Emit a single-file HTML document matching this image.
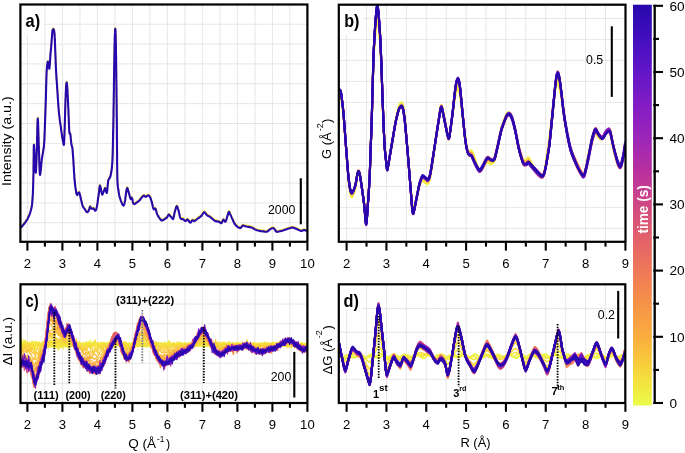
<!DOCTYPE html>
<html><head><meta charset="utf-8"><title>figure</title>
<style>
html,body{margin:0;padding:0;background:#fff;}
body{width:685px;height:453px;overflow:hidden;}
svg{display:block;}
text{font-family:"Liberation Sans", sans-serif;}
</style></head><body>
<svg width="685" height="453" viewBox="0 0 685 453">
<rect width="685" height="453" fill="#fff"/>
<filter id="noaa" filterUnits="userSpaceOnUse" x="0" y="0" width="685" height="453" color-interpolation-filters="sRGB"><feOffset dx="0" dy="0"/></filter>
<g filter="url(#noaa)">
<defs>
<clipPath id="ca"><rect x="20.40" y="4.50" width="287.00" height="237.30"/></clipPath>
<clipPath id="cb"><rect x="338.80" y="4.70" width="286.70" height="237.10"/></clipPath>
<clipPath id="cc"><rect x="20.50" y="284.30" width="286.90" height="118.70"/></clipPath>
<clipPath id="cd"><rect x="338.80" y="284.30" width="286.50" height="118.70"/></clipPath>
<linearGradient id="cbar" x1="0" y1="0" x2="0" y2="1"><stop offset="0.0000" stop-color="#2608ac"/><stop offset="0.0833" stop-color="#420ebe"/><stop offset="0.1667" stop-color="#6216c8"/><stop offset="0.2500" stop-color="#821cc4"/><stop offset="0.3333" stop-color="#9c26b8"/><stop offset="0.4167" stop-color="#b9309e"/><stop offset="0.5000" stop-color="#d04882"/><stop offset="0.5833" stop-color="#e3616a"/><stop offset="0.6667" stop-color="#ef7958"/><stop offset="0.7500" stop-color="#f69448"/><stop offset="0.8333" stop-color="#faaf3e"/><stop offset="0.9167" stop-color="#f7d73c"/><stop offset="1.0000" stop-color="#ecfc48"/></linearGradient>
</defs>
<line x1="27.40" y1="4.50" x2="27.40" y2="241.80" stroke="#dddddd" stroke-width="0.75"/>
<line x1="44.90" y1="4.50" x2="44.90" y2="241.80" stroke="#dddddd" stroke-width="0.75"/>
<line x1="62.40" y1="4.50" x2="62.40" y2="241.80" stroke="#dddddd" stroke-width="0.75"/>
<line x1="79.90" y1="4.50" x2="79.90" y2="241.80" stroke="#dddddd" stroke-width="0.75"/>
<line x1="97.40" y1="4.50" x2="97.40" y2="241.80" stroke="#dddddd" stroke-width="0.75"/>
<line x1="114.90" y1="4.50" x2="114.90" y2="241.80" stroke="#dddddd" stroke-width="0.75"/>
<line x1="132.40" y1="4.50" x2="132.40" y2="241.80" stroke="#dddddd" stroke-width="0.75"/>
<line x1="149.90" y1="4.50" x2="149.90" y2="241.80" stroke="#dddddd" stroke-width="0.75"/>
<line x1="167.40" y1="4.50" x2="167.40" y2="241.80" stroke="#dddddd" stroke-width="0.75"/>
<line x1="184.90" y1="4.50" x2="184.90" y2="241.80" stroke="#dddddd" stroke-width="0.75"/>
<line x1="202.40" y1="4.50" x2="202.40" y2="241.80" stroke="#dddddd" stroke-width="0.75"/>
<line x1="219.90" y1="4.50" x2="219.90" y2="241.80" stroke="#dddddd" stroke-width="0.75"/>
<line x1="237.40" y1="4.50" x2="237.40" y2="241.80" stroke="#dddddd" stroke-width="0.75"/>
<line x1="254.90" y1="4.50" x2="254.90" y2="241.80" stroke="#dddddd" stroke-width="0.75"/>
<line x1="272.40" y1="4.50" x2="272.40" y2="241.80" stroke="#dddddd" stroke-width="0.75"/>
<line x1="289.90" y1="4.50" x2="289.90" y2="241.80" stroke="#dddddd" stroke-width="0.75"/>
<line x1="20.40" y1="24.25" x2="307.40" y2="24.25" stroke="#dddddd" stroke-width="0.75"/>
<line x1="20.40" y1="44.10" x2="307.40" y2="44.10" stroke="#dddddd" stroke-width="0.75"/>
<line x1="20.40" y1="63.95" x2="307.40" y2="63.95" stroke="#dddddd" stroke-width="0.75"/>
<line x1="20.40" y1="83.80" x2="307.40" y2="83.80" stroke="#dddddd" stroke-width="0.75"/>
<line x1="20.40" y1="103.65" x2="307.40" y2="103.65" stroke="#dddddd" stroke-width="0.75"/>
<line x1="20.40" y1="123.50" x2="307.40" y2="123.50" stroke="#dddddd" stroke-width="0.75"/>
<line x1="20.40" y1="143.35" x2="307.40" y2="143.35" stroke="#dddddd" stroke-width="0.75"/>
<line x1="20.40" y1="163.20" x2="307.40" y2="163.20" stroke="#dddddd" stroke-width="0.75"/>
<line x1="20.40" y1="183.05" x2="307.40" y2="183.05" stroke="#dddddd" stroke-width="0.75"/>
<line x1="20.40" y1="202.90" x2="307.40" y2="202.90" stroke="#dddddd" stroke-width="0.75"/>
<line x1="20.40" y1="222.75" x2="307.40" y2="222.75" stroke="#dddddd" stroke-width="0.75"/>
<rect x="21.5" y="5.6" width="21.700000000000003" height="29.199999999999996" fill="#fff"/>
<line x1="346.60" y1="4.70" x2="346.60" y2="241.80" stroke="#dddddd" stroke-width="0.75"/>
<line x1="366.52" y1="4.70" x2="366.52" y2="241.80" stroke="#dddddd" stroke-width="0.75"/>
<line x1="386.43" y1="4.70" x2="386.43" y2="241.80" stroke="#dddddd" stroke-width="0.75"/>
<line x1="406.35" y1="4.70" x2="406.35" y2="241.80" stroke="#dddddd" stroke-width="0.75"/>
<line x1="426.26" y1="4.70" x2="426.26" y2="241.80" stroke="#dddddd" stroke-width="0.75"/>
<line x1="446.18" y1="4.70" x2="446.18" y2="241.80" stroke="#dddddd" stroke-width="0.75"/>
<line x1="466.09" y1="4.70" x2="466.09" y2="241.80" stroke="#dddddd" stroke-width="0.75"/>
<line x1="486.00" y1="4.70" x2="486.00" y2="241.80" stroke="#dddddd" stroke-width="0.75"/>
<line x1="505.92" y1="4.70" x2="505.92" y2="241.80" stroke="#dddddd" stroke-width="0.75"/>
<line x1="525.84" y1="4.70" x2="525.84" y2="241.80" stroke="#dddddd" stroke-width="0.75"/>
<line x1="545.75" y1="4.70" x2="545.75" y2="241.80" stroke="#dddddd" stroke-width="0.75"/>
<line x1="565.66" y1="4.70" x2="565.66" y2="241.80" stroke="#dddddd" stroke-width="0.75"/>
<line x1="585.58" y1="4.70" x2="585.58" y2="241.80" stroke="#dddddd" stroke-width="0.75"/>
<line x1="605.50" y1="4.70" x2="605.50" y2="241.80" stroke="#dddddd" stroke-width="0.75"/>
<line x1="338.80" y1="18.40" x2="625.50" y2="18.40" stroke="#dddddd" stroke-width="0.75"/>
<line x1="338.80" y1="39.40" x2="625.50" y2="39.40" stroke="#dddddd" stroke-width="0.75"/>
<line x1="338.80" y1="60.40" x2="625.50" y2="60.40" stroke="#dddddd" stroke-width="0.75"/>
<line x1="338.80" y1="81.40" x2="625.50" y2="81.40" stroke="#dddddd" stroke-width="0.75"/>
<line x1="338.80" y1="102.40" x2="625.50" y2="102.40" stroke="#dddddd" stroke-width="0.75"/>
<line x1="338.80" y1="123.40" x2="625.50" y2="123.40" stroke="#dddddd" stroke-width="0.75"/>
<line x1="338.80" y1="144.40" x2="625.50" y2="144.40" stroke="#dddddd" stroke-width="0.75"/>
<line x1="338.80" y1="165.40" x2="625.50" y2="165.40" stroke="#dddddd" stroke-width="0.75"/>
<line x1="338.80" y1="186.40" x2="625.50" y2="186.40" stroke="#dddddd" stroke-width="0.75"/>
<line x1="338.80" y1="207.40" x2="625.50" y2="207.40" stroke="#dddddd" stroke-width="0.75"/>
<line x1="338.80" y1="228.40" x2="625.50" y2="228.40" stroke="#dddddd" stroke-width="0.75"/>
<rect x="340" y="5.8" width="22.80000000000001" height="28.999999999999996" fill="#fff"/>
<line x1="27.40" y1="284.30" x2="27.40" y2="403.00" stroke="#dddddd" stroke-width="0.75"/>
<line x1="44.90" y1="284.30" x2="44.90" y2="403.00" stroke="#dddddd" stroke-width="0.75"/>
<line x1="62.40" y1="284.30" x2="62.40" y2="403.00" stroke="#dddddd" stroke-width="0.75"/>
<line x1="79.90" y1="284.30" x2="79.90" y2="403.00" stroke="#dddddd" stroke-width="0.75"/>
<line x1="97.40" y1="284.30" x2="97.40" y2="403.00" stroke="#dddddd" stroke-width="0.75"/>
<line x1="114.90" y1="284.30" x2="114.90" y2="403.00" stroke="#dddddd" stroke-width="0.75"/>
<line x1="132.40" y1="284.30" x2="132.40" y2="403.00" stroke="#dddddd" stroke-width="0.75"/>
<line x1="149.90" y1="284.30" x2="149.90" y2="403.00" stroke="#dddddd" stroke-width="0.75"/>
<line x1="167.40" y1="284.30" x2="167.40" y2="403.00" stroke="#dddddd" stroke-width="0.75"/>
<line x1="184.90" y1="284.30" x2="184.90" y2="403.00" stroke="#dddddd" stroke-width="0.75"/>
<line x1="202.40" y1="284.30" x2="202.40" y2="403.00" stroke="#dddddd" stroke-width="0.75"/>
<line x1="219.90" y1="284.30" x2="219.90" y2="403.00" stroke="#dddddd" stroke-width="0.75"/>
<line x1="237.40" y1="284.30" x2="237.40" y2="403.00" stroke="#dddddd" stroke-width="0.75"/>
<line x1="254.90" y1="284.30" x2="254.90" y2="403.00" stroke="#dddddd" stroke-width="0.75"/>
<line x1="272.40" y1="284.30" x2="272.40" y2="403.00" stroke="#dddddd" stroke-width="0.75"/>
<line x1="289.90" y1="284.30" x2="289.90" y2="403.00" stroke="#dddddd" stroke-width="0.75"/>
<line x1="20.50" y1="304.00" x2="307.40" y2="304.00" stroke="#dddddd" stroke-width="0.75"/>
<line x1="20.50" y1="323.80" x2="307.40" y2="323.80" stroke="#dddddd" stroke-width="0.75"/>
<line x1="20.50" y1="343.60" x2="307.40" y2="343.60" stroke="#dddddd" stroke-width="0.75"/>
<line x1="20.50" y1="363.40" x2="307.40" y2="363.40" stroke="#dddddd" stroke-width="0.75"/>
<line x1="20.50" y1="383.20" x2="307.40" y2="383.20" stroke="#dddddd" stroke-width="0.75"/>
<rect x="21.6" y="285.4" width="19.4" height="30.200000000000045" fill="#fff"/>
<line x1="346.60" y1="284.30" x2="346.60" y2="403.00" stroke="#dddddd" stroke-width="0.75"/>
<line x1="366.52" y1="284.30" x2="366.52" y2="403.00" stroke="#dddddd" stroke-width="0.75"/>
<line x1="386.43" y1="284.30" x2="386.43" y2="403.00" stroke="#dddddd" stroke-width="0.75"/>
<line x1="406.35" y1="284.30" x2="406.35" y2="403.00" stroke="#dddddd" stroke-width="0.75"/>
<line x1="426.26" y1="284.30" x2="426.26" y2="403.00" stroke="#dddddd" stroke-width="0.75"/>
<line x1="446.18" y1="284.30" x2="446.18" y2="403.00" stroke="#dddddd" stroke-width="0.75"/>
<line x1="466.09" y1="284.30" x2="466.09" y2="403.00" stroke="#dddddd" stroke-width="0.75"/>
<line x1="486.00" y1="284.30" x2="486.00" y2="403.00" stroke="#dddddd" stroke-width="0.75"/>
<line x1="505.92" y1="284.30" x2="505.92" y2="403.00" stroke="#dddddd" stroke-width="0.75"/>
<line x1="525.84" y1="284.30" x2="525.84" y2="403.00" stroke="#dddddd" stroke-width="0.75"/>
<line x1="545.75" y1="284.30" x2="545.75" y2="403.00" stroke="#dddddd" stroke-width="0.75"/>
<line x1="565.66" y1="284.30" x2="565.66" y2="403.00" stroke="#dddddd" stroke-width="0.75"/>
<line x1="585.58" y1="284.30" x2="585.58" y2="403.00" stroke="#dddddd" stroke-width="0.75"/>
<line x1="605.50" y1="284.30" x2="605.50" y2="403.00" stroke="#dddddd" stroke-width="0.75"/>
<line x1="338.80" y1="308.60" x2="625.30" y2="308.60" stroke="#dddddd" stroke-width="0.75"/>
<line x1="338.80" y1="332.20" x2="625.30" y2="332.20" stroke="#dddddd" stroke-width="0.75"/>
<line x1="338.80" y1="355.80" x2="625.30" y2="355.80" stroke="#dddddd" stroke-width="0.75"/>
<line x1="338.80" y1="379.40" x2="625.30" y2="379.40" stroke="#dddddd" stroke-width="0.75"/>
<rect x="340" y="285.4" width="21.80000000000001" height="24.80000000000001" fill="#fff"/>
<g clip-path="url(#ca)" fill="none" stroke-linejoin="round" stroke-linecap="round">
<path d="M21.5,226l.8-1 .8-1 .9-1.1 .8-1 .7-1 .8-1.1 .7-1 .7-1.2 .5-1.2 .5-1.1 .6-1.3 .5-1.2 .4-1.3 .3-1.1 .4-1.3 .3-1.3 .3-1.2 .3-1.4 .2-1.4 .1-1 .2-1.7 0-1 .2-1.5 0-1 .2-1.7 0-1.1 .1-1.2 .1-1.6 0-1 .1-2.2 .1-1.3 0-1.3 0-1.4 .1-1.5 0-1.5 .1-1.5 0-1.5 0-1.6 .1-1.5 0-1.7 .1-2.2 0-2.7 0-3.1 .1-3.4 0-3.5 .1-3.4 0-3.3 0-3 .1-2.4 0-1.9 .1-1.1 0-.2 .1,1.2 .1,1.1 .1,1.3 .1,1.5 0,1.5 .1,.8 .1,1.6 0,1.6 .1,.8 .1,1.5 0,1.3 .1,1.2 .1,1.2 .1,1.2 .1,1.3 0,1.4 .1,1.3 .1,1.2 .1,1.2 .1,1.5 .1,1.2 .2,.9 .1-.3 .1-1.3 .1-1.5 .1-1.7 0-1 .1-1 0-2.3 .1-1.1 0-1.2 .1-1.3 0-1.2 0-1.2 .1-1.3 0-1.2 .1-1.2 0-1.2 0-1.1 .1-2.1 .1-1.2 0-1.3 0-1.4 .1-1.5 0-1.6 .1-1.7 0-1.7 0-1.7 .1-1.7 0-1.8 .1-1.7 0-1.7 0-1.6 .1-1.6 0-1.5 .1-1.4 0-1.3 .1-2.2 0-.8 .1-1.2 .1-.4 .1,1 .1,1.3 .1,1.7 0,1 0,1.2 .1,1.1 0,1.3 .1,1.3 0,1.3 0,1.4 .1,1.5 0,1.4 .1,1.5 0,1.5 0,1.4 .1,1.5 0,1.4 .1,1.4 0,1.4 0,1.3 .1,1.3 0,1.2 .1,2.1 0,1 .1,1.1 0,1.1 .1,1.1 0,1.2 .1,2.4 0,1.2 .1,1.3 0,1.2 0,1.2 .1,1.2 0,1.1 .1,1.2 0,1.1 .1,2 0,.9 .1,.9 0,1.5 .1,1.2 .2,1 0,0 .4-1.5 .1-1.2 .2-1.4 .1-1.1 .1-1.3 .2-1.3 .1-1.3 .1-1.3 .1-1.3 .1-1.2 .2-1.6 .1-1 .2-1.4 .2-1.3 .2-1.2 .3-1.3 .2-1.3 .2-1.3 .2-1.3 .2-1.3 .2-1.2 .2-1.3 .1-1.5 .1-1.3 .1-1.1 .1-1.4 .1-1.6 0-.9 .1-1.9 0-1 .1-1.1 .1-2.1 0-1.1 0-1.1 .1-1.1 0-1.1 .1-1.1 0-2.2 .1-1.1 0-1.1 .1-1.1 0-1.1 .1-2.3 0-1.1 .1-1.1 0-1.2 0-1.1 .1-1.2 0-1.2 .1-1.1 0-2.4 .1-1.2 0-1.2 .1-1.2 0-1.2 0-1.2 .1-1.2 0-1.2 .1-1.3 0-1.4 0-1.4 .1-1.5 0-1.6 .1-1.6 0-1.5 0-1.6 .1-1.6 0-1.6 .1-1.5 0-1.5 0-1.4 .1-1.4 0-1.2 .1-1.2 0-1.1 .1-1.9 0-.8 .1-1.5 .1-1.3 .1-1.1 .1-1.3 .1-1.1 .2-1.5 .2-1.2 .2-1.3 .2-.4 .2,.6 .3,1.2 .3,1.5 .1,1.2 .2,1.3 .2,1.1 .1,.2 .2-1.1 .2-1.6 .1-1.4 .1-1.1 .1-1.6 .1-1.1 0-1.1 .1-1.2 .1-1.7 .1-1.1 .1-1.5 .1-1 .1-1.4 .2-1.5 0-.9 .2-1.4 .1-1.5 .1-1.4 .1-.9 .1-1.5 .1-1.4 .1-1.1 .1-1.7 .1-1.1 .1-1.2 .1-1.1 .1-1.6 .1-1 .1-1.3 .2-1.2 .7-1 .7,1.1 .2,1.3 .2,1.3 .1,1.4 .1,1.2 .1,1.3 0,1.4 .1,1.7 .1,.9 0,1.9 .1,1 0,1 .1,1.1 0,2.2 .1,1.1 0,1.1 .1,1.1 0,1.1 .1,2 0,1 .1,1 0,2 .1,1 0,1 .1,2 0,.9 .1,1 0,1 .1,1.9 0,.9 .1,1.8 .1,.9 0,1.6 .1,.7 .1,1.5 0,1.2 .1,1.2 .1,1.8 .1,1.1 .1,1.2 .1,1.1 .1,1.8 .1,1.2 .1,1.2 0,1.2 .1,1.2 .1,1.3 .1,1.2 .1,1.8 .1,1.3 .1,1.2 0,1.2 .1,1.2 .1,1.2 .1,1.2 .1,1.2 .1,1.8 .1,1.2 0,1.1 .2,1.6 0,1 .2,1.5 0,.9 .2,1.3 .1,1.6 .1,1.1 .2,1.3 .2,1.3 .1,1.3 .2,1.2 .1,1.3 .2,1.4 .2,1.2 .2,1.4 .2,1.2 .2,1.4 .1,1.1 .2,1.4 .2,1.4 .2,1.1 .2,1.4 .2,1.3 .1,1.1 .2,1.3 .2,1.3 .3,1.4 .2,1.1 .3,1.4 .2,1.2 .3,.9 .1-.4 .2-1.4 0-1.4 .1-1.7 .1-.9 0-1 .1-2.1 0-1.1 .1-1.1 0-1.1 0-1.1 .1-2.1 .1-1.2 0-1.2 0-1.2 .1-1.3 0-1.4 .1-1.4 0-1.4 0-1.4 .1-1.5 0-1.4 .1-1.5 0-1.5 0-1.4 .1-1.4 0-1.5 .1-1.4 0-1.3 0-1.3 .1-1.3 0-1.2 .1-1.2 0-1.1 0-1.1 .1-1 .1-2 0-1 0-.9 .1-1.8 .1-.9 0-1.6 .1-1.5 .1-.7 0-1.3 .2-1.6 .1-1.2 .2-.9 .1,0 .2,1.4 .2,1.5 .1,1.4 .1,1.1 .1,1.2 .1,1.3 0,1.4 .1,1.6 .1,.8 0,1.7 .1,.8 .1,1.7 0,.9 .1,1.7 0,.9 .1,1.8 0,.9 .1,1.8 .1,.9 0,1.8 .1,.9 .1,1.8 0,.9 0,.9 .1,1.9 .1,.9 0,2.1 .1,1.1 0,1.1 .1,1.1 0,1.1 .1,2.1 0,1 .1,1 0,1 .1,1.6 .1,1.4 0,1 .2,1.1 .2,.7 .4-.3 0,.1 .3,1.3 .2,1.4 .1,1.2 .1,1.2 .2,1.6 .1,1.2 .1,1.2 .2,1.3 .2,1.3 .4,1.1 .3,1.3 .2,1.2 .1,1.3 .1,1.6 .1,1 .1,1.7 .1,1.2 .1,1.1 .1,1.3 .1,1.2 .1,1.9 .1,1.2 0,1.3 .1,1.2 .1,1.3 .1,1.3 .1,1.4 0,1.3 .1,1.4 .1,1.3 .1,1.3 .1,1.2 0,1.2 .1,1.1 .1,1.5 .1,1 .1,1.3 .2,1.1 .1,1.5 .2,1.3 .1,1.2 .2,1.4 .2,1.1 .2,1.3 .2,1.3 .2,1.3 .3,1.2 .5,.9 .2-.2 .6-1.2 .7-1.1 .4-.2 .4,.6 .4,1.2 .3,1.4 .3,1.2 .3,1.2 .3,1.4 .3,1.2 .3,1.3 .3,1.2 .3,1.4 .4,1.2 .4,1.1 .7,1.1 .9,1 .7,1.1 .6,1.1 .8,1 .4,.1 .8-.4 .8-1 .4-1.3 .4-1.2 .3-1.2 .3-.4 .5,.6 .6,1.2 .5,.3 .6-.1 .9-.3 .3,0 .8,1.1 .7,1.1 .2,.1 .7-.7 .5-1.2 .3-1.4 .3-1.2 .2-1.3 .2-1.3 .2-1.1 .2-1.5 .1-1.2 .2-1.4 .2-1.2 .2-1.2 .2-1.5 .1-1.1 .2-1.3 .1-1.5 .2-1.1 .1-1.4 .2-1.2 .2-1.2 .2-.2 .3,1 .3,1.3 .2,1.3 .3,1.2 .2,1.2 .3,1.3 .4,1.3 .3,.5 .4-.5 .4-1.2 .5-1.1 .5-1.3 .5-1.2 .5-1.1 .1,.1 .5,1.2 .3,1.3 .3,1.2 .4,1 .2-.1 .2-1.3 .2-1.4 .1-1.3 .1-1.4 .2-1.4 0-1 .2-1.3 .1-1.2 .1-1.4 .3-1.2 .6-1.1 .8-1.1 .5-1.3 .4-1.1 .2-1.4 .3-1.2 .2-1.4 .2-1.4 .2-1.4 .1-1.1 .1-1.2 .1-1.4 .2-1.4 0-1.1 .1-1.4 .1-1.9 0-1.1 .1-1.1 0-1.3 .1-1.3 0-1.4 0-1.5 .1-1.6 0-1.6 .1-1.7 0-1.7 0-1.8 .1-1.8 0-1.9 .1-1.9 0-2 0-2 .1-2 0-2 .1-2.1 0-2.1 0-2.1 .1-2.1 0-2.1 .1-2.2 0-2.3 0-2.5 .1-2.5 0-2.7 .1-2.7 0-2.7 0-2.8 .1-2.9 0-2.9 .1-2.9 0-2.9 0-2.9 .1-2.9 0-2.8 .1-2.8 0-2.8 0-2.7 .1-2.6 0-2.6 .1-2.4 0-2.4 0-2.3 .1-2.2 0-2.1 .1-2 0-2 0-1.9 .1-1.8 0-1.7 .1-1.6 0-1.6 0-1.5 .1-1.4 0-1.3 .1-1.2 0-1.1 0-1 .1-.9 .1-1.6 0-1.1 .2-.9 0,.2 .2,1.5 0,1.8 .1,1.1 0,1.2 .1,1.4 0,1.5 0,1.7 .1,1.8 0,1.9 .1,2.1 0,2.2 0,2.3 .1,2.4 0,2.6 .1,2.7 0,2.8 0,2.9 .1,3 0,3.1 .1,3.1 0,3.2 0,3.3 .1,3.3 0,3.5 .1,3.4 0,3.5 0,3.6 .1,3.6 0,3.7 .1,3.7 0,3.7 0,3.7 .1,3.8 0,3.9 .1,4.4 0,4.8 0,5.1 .1,5.4 0,5.4 .1,5.4 0,5.1 0,4.9 .1,4.4 0,3.8 .1,3 0,2.3 0,1.7 .1,1.5 0,1.3 .1,1.1 0,1 .1,1.6 .1,1.1 .1,1.1 .2,1.2 .2,1.2 .2,1.3 .2,1.4 .2,1.3 .2,1.2 .2,1.2 .3,1.3 .4,1.2 .4,1.3 .4,1.3 .4,1.1 .5,1.3 .5,1.2 .6,1.1 .9,.6 .1-.1 .6-1.2 .3-1.4 .2-1.2 .3-1.2 .2-1.3 .1-1.2 .2-1.3 .1-1.4 .2-1.3 .2-1.2 .2-1.4 .2-1.3 .3-1.2 .4-.9 .2,.1 .4,1.3 .4,1.2 .3,1.3 .4,1.2 .4,1.3 .3,1.2 .3,1.4 .4,1.1 .4,1 .2-.1 .6-1.1 .2-.2 .5,1 .3,1.3 .2,1.2 .3,1.4 .4,1.1 .9,.5 .2-.1 1.1-.7 1-.8 1.1-.7 1-.7 1-.9 .8-1.1 .7-1.1 .9-1 .8-.9 1-.6 .2,0 .9,.9 .8,.4 .4-.1 .9-.9 1-.5 .2,0 1.1,.7 .7,1.1 .5,1.1 .4,1.3 .4,1.3 .4,1.2 .3,1.3 .3,1.3 .3,1.2 .2,1.3 .4,1.3 .6,.9 .9-.9 .3-.1 .6,.8 .4,1.2 .3,1.3 .3,1.2 .4,1.2 .6,1.2 .6,1.1 .7,1.1 .8,1.1 .8,1 .9,.8 .5,.2 .8-.3 1.1-.7 1.1-.7 1.1-.7 1-.8 .6-1.2 .6-1.1 .6-.5 .4,.3 .8,1 .9,1 .8,1 .8,1 .3,.3 .5-.8 .3-1.3 .3-1.4 .2-1.2 .3-1.3 .2-1.1 .4-1.3 .4-1.3 .3-1.2 .4-1.3 .7-.9 0,0 .6,1.1 .4,1.3 .4,1.2 .3,1.4 .3,1.2 .3,1.3 .3,1.2 .3,1.4 .3,1.1 .5,1.2 .9,.7 .1-.1 .9-.1 .4,0 1,.9 .9,.9 .6,.2 .6-.3 .9-.9 .5-.3 .5,.3 .8,1.1 .7,1.1 .9,.7 .1,0 .9-1 .6-1.1 .7-.4 .5,.2 1,.7 .2,0 1-.5 1-.8 1-.8 1-.8 1.1-.7 1-.8 1.1-.8 .7-1.1 .7-1.1 .7-1.1 .7-.4 .4,.2 .8,1 .8,1.1 .8,.9 1.2,.6 1.2,.5 1,.8 1,.8 1,.9 1,.8 1,.8 1.2,.6 1.2,.2 1.3,.2 1.2,.4 1.1,.9 .7,.3 .4-.2 .6-1.2 .5-1.1 .8-1 0-.1 .8,1 .7,1.1 .3,.1 .6-.7 .4-1.2 .4-1.3 .3-1.3 .4-1.2 .4-1.2 .4-1.4 .3-1.1 .5-.6 .3,.3 .5,1.3 .5,1.1 .6,1.2 .5,1.2 .5,1.2 .6,1.2 .5,1.1 .6,1.3 .5,1.1 .6,1.1 .8,1.1 .9,.9 1,.9 1,.7 1.2,.5 .6,.1 .6-.3 .8-1 .8-1 .5-.3 .7,.1 1.2,.5 1.2,.4 1.3,.2 1.3,.2 1.3,.2 1.3,.3 1.1,.4 1.2,.7 1.1,.7 1.1,.6 1.2,.5 1.3,.3 1.3,.3 1.2,.2 1.3,.1 1.3,.2 1.3,.2 1.3,.1 .1,0 1.2-.1 1.1-.7 .9-.9 1.1-.8 1.1-.6 1.2-.4 .6-.1 .7,.3 .8,1 .7,1.1 .8,1 .7,.4 .4-.1 1.3-.2 1.3-.3 1.2-.3 1.3-.3 1.2-.4 1.3-.5 1.2-.4 1.2-.4 1.2-.4 1.3-.4 1.2-.4 1.3-.2 1.3,.2 1.2,.5 1.2,.5 1.2,.5 1.2,.5 1.1,.6 1.2,.5 .5,.1 .8-.2 1.2-.6 .7-.1 .6,0 1.2,.4 .5,.2 .1,0" stroke="#f5de3e" stroke-width="1.6"/>
<path d="M21.5,227.1l.8-1 .8-1 .9-1.1 .8-1 .7-1 .8-1.1 .7-1 .7-1.2 .5-1.2 .5-1.1 .6-1.3 .5-1.2 .4-1.3 .3-1.1 .4-1.3 .3-1.3 .3-1.2 .3-1.4 .2-1.4 .1-1 .2-1.7 0-1 .2-1.5 0-1 .2-1.7 0-1.1 .1-1.2 .1-1.6 0-1 .1-2.2 .1-1.3 0-1.3 0-1.4 .1-1.5 0-1.5 .1-1.5 0-1.5 0-1.6 .1-1.5 0-1.7 .1-2.2 0-2.7 0-3.1 .1-3.4 0-3.5 .1-3.4 0-3.3 0-3 .1-2.4 0-1.9 .1-1.1 0-.2 .1,1.2 .1,1.1 .1,1.3 .1,1.5 0,1.5 .1,.8 .1,1.6 0,1.6 .1,.8 .1,1.5 0,1.3 .1,1.2 .1,1.2 .1,1.2 .1,1.3 0,1.4 .1,1.3 .1,1.2 .1,1.2 .1,1.5 .1,1.2 .2,.9 .1-.3 .1-1.3 .1-1.5 .1-1.7 0-1 .1-1 0-2.3 .1-1.1 0-1.2 .1-1.3 0-1.2 0-1.2 .1-1.3 0-1.2 .1-1.2 0-1.2 0-1.1 .1-2.1 .1-1.2 0-1.3 0-1.4 .1-1.5 0-1.6 .1-1.7 0-1.7 0-1.7 .1-1.7 0-1.8 .1-1.7 0-1.7 0-1.6 .1-1.6 0-1.5 .1-1.4 0-1.3 .1-2.2 0-.8 .1-1.2 .1-.4 .1,1 .1,1.3 .1,1.7 0,1 0,1.2 .1,1.1 0,1.3 .1,1.3 0,1.3 0,1.4 .1,1.5 0,1.4 .1,1.5 0,1.5 0,1.4 .1,1.5 0,1.4 .1,1.4 0,1.4 0,1.3 .1,1.3 0,1.2 .1,2.1 0,1 .1,1.1 0,1.1 .1,1.1 0,1.2 .1,2.4 0,1.2 .1,1.3 0,1.2 0,1.2 .1,1.2 0,1.1 .1,1.2 0,1.1 .1,2 0,.9 .1,.9 0,1.5 .1,1.2 .2,1 0,0 .4-1.5 .1-1.2 .2-1.4 .1-1.1 .1-1.3 .2-1.3 .1-1.3 .1-1.3 .1-1.3 .1-1.2 .2-1.6 .1-1 .2-1.4 .2-1.3 .2-1.2 .3-1.3 .2-1.3 .2-1.3 .2-1.3 .2-1.3 .2-1.2 .2-1.3 .1-1.5 .1-1.3 .1-1.1 .1-1.4 .1-1.6 0-.9 .1-1.9 0-1 .1-1.1 .1-2.1 0-1.1 0-1.1 .1-1.1 0-1.1 .1-1.1 0-2.2 .1-1.1 0-1.1 .1-1.1 0-1.1 .1-2.3 0-1.1 .1-1.1 0-1.2 0-1.1 .1-1.2 0-1.2 .1-1.1 0-2.4 .1-1.2 0-1.2 .1-1.2 0-1.2 0-1.2 .1-1.2 0-1.2 .1-1.3 0-1.4 0-1.4 .1-1.5 0-1.6 .1-1.6 0-1.5 0-1.6 .1-1.6 0-1.6 .1-1.5 0-1.5 0-1.4 .1-1.4 0-1.2 .1-1.2 0-1.1 .1-1.9 0-.8 .1-1.5 .1-1.3 .1-1.1 .1-1.3 .1-1.1 .2-1.5 .2-1.2 .2-1.3 .2-.4 .2,.6 .3,1.2 .3,1.5 .1,1.2 .2,1.3 .2,1.1 .1,.2 .2-1.1 .2-1.6 .1-1.4 .1-1.1 .1-1.6 .1-1.1 0-1.1 .1-1.2 .1-1.7 .1-1.1 .1-1.5 .1-1 .1-1.4 .2-1.5 0-.9 .2-1.4 .1-1.5 .1-1.4 .1-.9 .1-1.5 .1-1.4 .1-1.1 .1-1.7 .1-1.1 .1-1.2 .1-1.1 .1-1.6 .1-1 .1-1.3 .2-1.2 .7-1 .7,1.1 .2,1.3 .2,1.3 .1,1.4 .1,1.2 .1,1.3 0,1.4 .1,1.7 .1,.9 0,1.9 .1,1 0,1 .1,1.1 0,2.2 .1,1.1 0,1.1 .1,1.1 0,1.1 .1,2 0,1 .1,1 0,2 .1,1 0,1 .1,2 0,.9 .1,1 0,1 .1,1.9 0,.9 .1,1.8 .1,.9 0,1.6 .1,.7 .1,1.5 0,1.2 .1,1.2 .1,1.8 .1,1.1 .1,1.2 .1,1.1 .1,1.8 .1,1.2 .1,1.2 0,1.2 .1,1.2 .1,1.3 .1,1.2 .1,1.8 .1,1.3 .1,1.2 0,1.2 .1,1.2 .1,1.2 .1,1.2 .1,1.2 .1,1.8 .1,1.2 0,1.1 .2,1.6 0,1 .2,1.5 0,.9 .2,1.3 .1,1.6 .1,1.1 .2,1.3 .2,1.3 .1,1.3 .2,1.2 .1,1.3 .2,1.4 .2,1.2 .2,1.4 .2,1.2 .2,1.4 .1,1.1 .2,1.4 .2,1.4 .2,1.1 .2,1.4 .2,1.3 .1,1.1 .2,1.3 .2,1.3 .3,1.4 .2,1.1 .3,1.4 .2,1.2 .3,.9 .1-.4 .2-1.4 0-1.4 .1-1.7 .1-.9 0-1 .1-2.1 0-1.1 .1-1.1 0-1.1 0-1.1 .1-2.1 .1-1.2 0-1.2 0-1.2 .1-1.3 0-1.4 .1-1.4 0-1.4 0-1.4 .1-1.5 0-1.4 .1-1.5 0-1.5 0-1.4 .1-1.4 0-1.5 .1-1.4 0-1.3 0-1.3 .1-1.3 0-1.2 .1-1.2 0-1.1 0-1.1 .1-1 .1-2 0-1 0-.9 .1-1.8 .1-.9 0-1.6 .1-1.5 .1-.7 0-1.3 .2-1.6 .1-1.2 .2-.9 .1,0 .2,1.4 .2,1.5 .1,1.4 .1,1.1 .1,1.2 .1,1.3 0,1.4 .1,1.6 .1,.8 0,1.7 .1,.8 .1,1.7 0,.9 .1,1.7 0,.9 .1,1.8 0,.9 .1,1.8 .1,.9 0,1.8 .1,.9 .1,1.8 0,.9 0,.9 .1,1.9 .1,.9 0,2.1 .1,1.1 0,1.1 .1,1.1 0,1.1 .1,2.1 0,1 .1,1 0,1 .1,1.6 .1,1.4 0,1 .2,1.1 .2,.7 .4-.3 0,.1 .3,1.3 .2,1.4 .1,1.2 .1,1.2 .2,1.6 .1,1.2 .1,1.2 .2,1.3 .2,1.3 .4,1.1 .3,1.3 .2,1.2 .1,1.3 .1,1.6 .1,1 .1,1.7 .1,1.2 .1,1.1 .1,1.3 .1,1.2 .1,1.9 .1,1.2 0,1.3 .1,1.2 .1,1.3 .1,1.3 .1,1.4 0,1.3 .1,1.4 .1,1.3 .1,1.3 .1,1.2 0,1.2 .1,1.1 .1,1.5 .1,1 .1,1.3 .2,1.1 .1,1.5 .2,1.3 .1,1.2 .2,1.4 .2,1.1 .2,1.3 .2,1.3 .2,1.3 .3,1.2 .5,.9 .2-.2 .6-1.2 .7-1.1 .4-.2 .4,.6 .4,1.2 .3,1.4 .3,1.2 .3,1.2 .3,1.4 .3,1.2 .3,1.3 .3,1.2 .3,1.4 .4,1.2 .4,1.1 .7,1.1 .9,1 .7,1.1 .6,1.1 .8,1 .4,.1 .8-.4 .8-1 .4-1.3 .4-1.2 .3-1.2 .3-.4 .5,.6 .6,1.2 .5,.3 .6-.1 .9-.3 .3,0 .8,1.1 .7,1.1 .2,.1 .7-.7 .5-1.2 .3-1.4 .3-1.2 .2-1.3 .2-1.3 .2-1.1 .2-1.5 .1-1.2 .2-1.4 .2-1.2 .2-1.2 .2-1.5 .1-1.1 .2-1.3 .1-1.5 .2-1.1 .1-1.4 .2-1.2 .2-1.2 .2-.2 .3,1 .3,1.3 .2,1.3 .3,1.2 .2,1.2 .3,1.3 .4,1.3 .3,.5 .4-.5 .4-1.2 .5-1.1 .5-1.3 .5-1.2 .5-1.1 .1,.1 .5,1.2 .3,1.3 .3,1.2 .4,1 .2-.1 .2-1.3 .2-1.4 .1-1.3 .1-1.4 .2-1.4 0-1 .2-1.3 .1-1.2 .1-1.4 .3-1.2 .6-1.1 .8-1.1 .5-1.3 .4-1.1 .2-1.4 .3-1.2 .2-1.4 .2-1.4 .2-1.4 .1-1.1 .1-1.2 .1-1.4 .2-1.4 0-1.1 .1-1.4 .1-1.9 0-1.1 .1-1.1 0-1.3 .1-1.3 0-1.4 0-1.5 .1-1.6 0-1.6 .1-1.7 0-1.7 0-1.8 .1-1.8 0-1.9 .1-1.9 0-2 0-2 .1-2 0-2 .1-2.1 0-2.1 0-2.1 .1-2.1 0-2.1 .1-2.2 0-2.3 0-2.5 .1-2.5 0-2.7 .1-2.7 0-2.7 0-2.8 .1-2.9 0-2.9 .1-2.9 0-2.9 0-2.9 .1-2.9 0-2.8 .1-2.8 0-2.8 0-2.7 .1-2.6 0-2.6 .1-2.4 0-2.4 0-2.3 .1-2.2 0-2.1 .1-2 0-2 0-1.9 .1-1.8 0-1.7 .1-1.6 0-1.6 0-1.5 .1-1.4 0-1.3 .1-1.2 0-1.1 0-1 .1-.9 .1-1.6 0-1.1 .2-.9 0,.2 .2,1.5 0,1.8 .1,1.1 0,1.2 .1,1.4 0,1.5 0,1.7 .1,1.8 0,1.9 .1,2.1 0,2.2 0,2.3 .1,2.4 0,2.6 .1,2.7 0,2.8 0,2.9 .1,3 0,3.1 .1,3.1 0,3.2 0,3.3 .1,3.3 0,3.5 .1,3.4 0,3.5 0,3.6 .1,3.6 0,3.7 .1,3.7 0,3.7 0,3.7 .1,3.8 0,3.9 .1,4.4 0,4.8 0,5.1 .1,5.4 0,5.4 .1,5.4 0,5.1 0,4.9 .1,4.4 0,3.8 .1,3 0,2.3 0,1.7 .1,1.5 0,1.3 .1,1.1 0,1 .1,1.6 .1,1.1 .1,1.1 .2,1.2 .2,1.2 .2,1.3 .2,1.4 .2,1.3 .2,1.2 .2,1.2 .3,1.3 .4,1.2 .4,1.3 .4,1.3 .4,1.1 .5,1.3 .5,1.2 .6,1.1 .9,.6 .1-.1 .6-1.2 .3-1.4 .2-1.2 .3-1.2 .2-1.3 .1-1.2 .2-1.3 .1-1.4 .2-1.3 .2-1.2 .2-1.4 .2-1.3 .3-1.2 .4-.9 .2,.1 .4,1.3 .4,1.2 .3,1.3 .4,1.2 .4,1.3 .3,1.2 .3,1.4 .4,1.1 .4,1 .2-.1 .6-1.1 .2-.2 .5,1 .3,1.3 .2,1.2 .3,1.4 .4,1.1 .9,.5 .2-.1 1.1-.7 1-.8 1.1-.7 1-.7 1-.9 .8-1.1 .7-1.1 .9-1 .8-.9 1-.6 .2,0 .9,.9 .8,.4 .4-.1 .9-.9 1-.5 .2,0 1.1,.7 .7,1.1 .5,1.1 .4,1.3 .4,1.3 .4,1.2 .3,1.3 .3,1.3 .3,1.2 .2,1.3 .4,1.3 .6,.9 .9-.9 .3-.1 .6,.8 .4,1.2 .3,1.3 .3,1.2 .4,1.2 .6,1.2 .6,1.1 .7,1.1 .8,1.1 .8,1 .9,.8 .5,.2 .8-.3 1.1-.7 1.1-.7 1.1-.7 1-.8 .6-1.2 .6-1.1 .6-.5 .4,.3 .8,1 .9,1 .8,1 .8,1 .3,.3 .5-.8 .3-1.3 .3-1.4 .2-1.2 .3-1.3 .2-1.1 .4-1.3 .4-1.3 .3-1.2 .4-1.3 .7-.9 0,0 .6,1.1 .4,1.3 .4,1.2 .3,1.4 .3,1.2 .3,1.3 .3,1.2 .3,1.4 .3,1.1 .5,1.2 .9,.7 .1-.1 .9-.1 .4,0 1,.9 .9,.9 .6,.2 .6-.3 .9-.9 .5-.3 .5,.3 .8,1.1 .7,1.1 .9,.7 .1,0 .9-1 .6-1.1 .7-.4 .5,.2 1,.7 .2,0 1-.5 1-.8 1-.8 1-.8 1.1-.7 1-.8 1.1-.8 .7-1.1 .7-1.1 .7-1.1 .7-.4 .4,.2 .8,1 .8,1.1 .8,.9 1.2,.6 1.2,.5 1,.8 1,.8 1,.9 1,.8 1,.8 1.2,.6 1.2,.2 1.3,.2 1.2,.4 1.1,.9 .7,.3 .4-.2 .6-1.2 .5-1.1 .8-1 0-.1 .8,1 .7,1.1 .3,.1 .6-.7 .4-1.2 .4-1.3 .3-1.3 .4-1.2 .4-1.2 .4-1.4 .3-1.1 .5-.6 .3,.3 .5,1.3 .5,1.1 .6,1.2 .5,1.2 .5,1.2 .6,1.2 .5,1.1 .6,1.3 .5,1.1 .6,1.1 .8,1.1 .9,.9 1,.9 1,.7 1.2,.5 .6,.1 .6-.3 .8-1 .8-1 .5-.3 .7,.1 1.2,.5 1.2,.4 1.3,.2 1.3,.2 1.3,.2 1.3,.3 1.1,.4 1.2,.7 1.1,.7 1.1,.6 1.2,.5 1.3,.3 1.3,.3 1.2,.2 1.3,.1 1.3,.2 1.3,.2 1.3,.1 .1,0 1.2-.1 1.1-.7 .9-.9 1.1-.8 1.1-.6 1.2-.4 .6-.1 .7,.3 .8,1 .7,1.1 .8,1 .7,.4 .4-.1 1.3-.2 1.3-.3 1.2-.3 1.3-.3 1.2-.4 1.3-.5 1.2-.4 1.2-.4 1.2-.4 1.3-.4 1.2-.4 1.3-.2 1.3,.2 1.2,.5 1.2,.5 1.2,.5 1.2,.5 1.1,.6 1.2,.5 .5,.1 .8-.2 1.2-.6 .7-.1 .6,0 1.2,.4 .5,.2 .1,0" stroke="#2608ac" stroke-width="2.1"/>
</g>
<g clip-path="url(#cb)" fill="none" stroke-linejoin="round" stroke-linecap="round">
<path d="M339,95.2l.2,.1 .5-1.5 .2-.3 .7,1.3 .4,1.8 .4,2 .2,1.7 .3,1.9 .2,1.5 .2,1.9 .3,2 .2,1.6 .2,1.8 .2,1.8 .2,2 .1,1.5 .2,1.7 .2,2.3 .1,1.8 .1,1.3 .2,1.9 .1,1.9 .2,1.9 .1,1.9 .1,1.3 .2,2 .1,1.9 .2,2 .1,1.3 .1,1.9 .2,2 .1,2 .1,1.3 .2,1.9 .1,2 .2,2 .1,1.3 .1,2 .2,2 .1,1.3 .1,2 .2,2 .1,2 .1,1.4 .2,1.9 .1,1.9 .2,1.9 .1,1.7 .2,1.7 .1,1.6 .2,2.1 .2,1.5 .2,1.9 .2,1.7 .2,1.7 .2,2 .2,1.5 .3,1.9 .3,1.7 .4,1.7 .6,1.7 .6,.4 .7-.7 .8-1.7 .5-1.6 .5-1.7 .5-1.9 .5-1.8 .3-1.6 .3-1.8 .3-2 .2-1.6 .3-2 .3-1.6 .3-1.7 .4-1.9 .5-1.5 .3-.2 .7,1.2 .5,1.8 .3,1.7 .4,2 .2,1.6 .3,1.9 .3,1.6 .3,2 .2,1.6 .3,2 .3,1.6 .2,1.7 .3,2 .3,1.7 .2,1.7 .3,2 .3,1.7 .2,1.7 .3,2.1 .1,1.5 .2,1.8 .1,1.8 .2,1.9 .1,1.8 .2,1.7 .1,1.6 .2,1.8 .4,1.8 .1,0 .4-1.8 .2-2 .1-1.7 .2-2 .1-1.4 .1-2.2 .1-1.4 .2-2.2 .1-1.4 .1-2 .2-1.9 .1-1.9 .1-1.3 .2-1.9 .1-1.9 .2-2 .1-1.4 .1-2.1 .1-1.5 .2-2.3 .1-1.6 .1-1.6 .1-1.8 .1-2 .1-2.2 0-1.1 .1-2.4 .1-1.3 .1-2.6 0-1.4 .1-1.4 .1-2.8 0-1.4 .1-1.4 0-1.5 .1-2.8 .1-1.4 0-1.4 .1-2.8 .1-1.3 0-1.3 .1-2.6 .1-1.3 0-1.2 .1-2.5 .1-1.2 .1-2.5 0-1.3 .1-2.6 .1-1.3 0-1.4 .1-2.8 .1-1.4 0-1.5 .1-1.6 0-1.6 .1-3.2 .1-1.7 0-1.7 .1-1.7 0-1.7 .1-1.8 0-1.7 .1-1.7 0-1.8 .1-1.7 0-1.8 .1-1.7 0-1.7 .1-1.7 0-1.7 .1-1.8 0-1.7 .1-1.8 0-1.7 .1-1.8 0-1.7 .1-1.8 0-1.7 .1-3.5 .1-1.6 0-1.7 .1-1.7 0-1.6 .1-1.6 0-1.5 .1-1.4 .1-2.7 0-1.3 .1-1.1 .1-2.3 .1-2 .1-1.9 .1-1.7 .1-1.7 .1-1.5 .1-2.2 .1-1.5 .2-2.1 .1-1.3 .1-2 .2-1.9 .1-1.8 .2-1.7 .1-1.6 .2-1.6 .2-1.9 .2-1.8 .2-1.7 .2-2 .3-1.7 .3-1.6 .3-.7 .4,.9 .4,2 .2,1.9 .2,1.6 .2,1.7 .2,1.8 .2,2 .2,1.5 .2,2.1 .1,1.7 .2,1.8 .1,2 .1,1.3 .2,2.2 .1,1.5 .1,2.5 .1,1.7 .1,1.8 .1,2 .1,1 .1,2 .1,2.2 .1,2.2 0,1.1 .1,2.3 .1,1.2 .1,2.5 0,1.2 .1,2.6 .1,1.3 0,1.3 .1,2.8 .1,1.4 0,1.4 .1,2.8 .1,1.4 0,1.4 .1,1.4 .1,2.8 0,1.3 .1,1.4 .1,2.6 0,1.3 .1,1.3 .1,2.5 0,1.3 .1,2.5 .1,1.2 .1,2.5 0,1.2 .1,2.4 .1,1.3 0,1.2 .1,2.4 .1,1.2 .1,2.4 0,1.2 .1,2.4 .1,1.2 .1,2.4 0,1.2 .1,2.3 .1,2.3 .1,1.1 .1,2.2 0,1 .1,2.1 .1,2 .1,1.8 .1,1.8 .1,1.5 .2,2.1 .1,1.8 .2,1.5 .2,1.9 .2,1.8 .2,1.9 .1,1.5 .2,2 .2,1.6 .2,2 .2,1.7 .2,1.5 .4,1.8 .1,.1 .4-1.5 .3-1.8 .3-1.8 .3-1.8 .3-1.7 .3-1.8 .3-1.8 .3-1.8 .3-1.7 .3-1.8 .3-1.8 .3-1.8 .3-1.7 .3-1.8 .3-1.8 .3-1.7 .3-1.8 .3-1.8 .3-1.7 .3-1.8 .3-1.8 .3-1.8 .3-1.8 .3-1.8 .3-1.8 .3-1.7 .4-1.9 .3-1.6 .3-1.7 .4-2 .4-1.6 .4-1.8 .4-1.8 .4-1.8 .4-1.8 .5-1.6 .7-1.6 1-1.4 .7-.3 .7,.8 .6,1.7 .4,1.9 .3,1.7 .2,1.7 .3,1.9 .2,2 .2,1.7 .2,1.8 .2,1.9 .2,1.5 .2,2.1 .1,1.7 .2,1.7 .1,1.7 .2,1.8 .1,1.7 .2,1.8 .1,1.8 .2,1.7 .1,1.8 .2,2.4 .2,1.7 .1,1.8 .2,1.8 .1,1.7 .2,1.8 .1,1.8 .2,1.8 .1,1.8 .2,1.7 .1,1.8 .2,1.8 .1,1.8 .2,1.8 .1,1.9 .2,1.8 .1,1.8 .2,1.8 .1,1.8 .2,1.9 .1,1.8 .2,1.7 .1,1.8 .2,1.8 .1,1.7 .2,1.8 .1,1.8 .2,1.8 .1,2 .1,1.2 .2,2 .1,1.9 .2,2 .1,1.2 .1,1.8 .2,2.3 .2,1.6 .2,1.9 .2,1.6 .3,1.7 .4,.9 .3-.7 .4-1.6 .4-1.9 .4-1.8 .4-1.5 .4-1.8 .4-1.8 .4-1.7 .4-2 .4-1.7 .4-1.7 .4-1.7 .4-1.8 .4-1.6 .5-1.8 .5-1.7 .8-1.7 .8-1.5 1-1.5 .2-.1 1.1,1.1 1.1,1.3 1.4,1.2 1.3,.6 .3-.1 1-1.6 .6-1.7 .4-1.8 .4-1.6 .3-2 .3-1.5 .3-2 .2-1.7 .3-1.7 .3-2 .2-1.7 .3-1.7 .2-1.7 .3-2.1 .3-1.7 .2-1.7 .3-1.7 .2-1.7 .3-2.1 .3-1.7 .2-1.7 .3-1.7 .2-1.7 .3-2.1 .3-1.7 .2-1.7 .3-1.7 .3-2 .2-1.7 .3-1.7 .2-1.7 .3-1.7 .3-2.1 .2-1.7 .3-1.7 .2-1.7 .3-2 .3-1.8 .2-1.8 .3-1.8 .2-1.7 .3-1.7 .3-1.8 .3-1.6 .7-1.4 .1,0 .6,1.9 .4,1.7 .4,1.7 .3,1.7 .4,1.8 .3,1.8 .4,1.9 .3,1.8 .3,1.6 .4,1.8 .3,1.8 .4,1.9 .3,1.5 .3,1.8 .4,1.8 .4,1.9 .4,1.7 .4,1.7 .5,1.1 .3-.5 .5-1.8 .3-1.9 .2-1.7 .3-1.8 .2-1.8 .3-1.7 .2-1.8 .3-1.8 .2-1.7 .3-1.8 .2-1.9 .3-1.8 .2-1.8 .2-1.5 .3-1.9 .2-1.9 .3-1.9 .2-1.4 .2-1.9 .3-1.7 .3-2 .2-1.6 .4-2 .3-1.5 .4-1.8 .6-1.7 1.1-1.4 .4,0 .9,.9 .7,1.9 .4,1.7 .3,1.7 .3,2 .2,1.5 .2,1.9 .3,2 .2,1.7 .2,1.7 .2,1.7 .2,1.8 .2,1.7 .2,1.8 .2,1.9 .2,1.8 .2,1.8 .2,1.9 .2,1.8 .2,1.8 .2,1.9 .2,1.8 .1,1.4 .2,1.8 .2,1.9 .2,1.8 .2,1.7 .3,2 .2,1.8 .3,1.7 .3,1.8 .3,1.6 .4,1.8 .4,1.7 .7,1.7 1.1,1.2 1.4-1.2 .8-.5 .6,.5 .9,1.6 .6,1.6 .7,1.8 .5,1.7 .6,1.6 .6,1.8 .5,1.7 .6,1.7 .6,1.7 .7,1.6 .8,1.6 1.2,1.1 .1-.1 1.4-1.1 1-1.5 1.1-1.5 1-1.5 1.1-1.4 1.4-1 .5-.1 1.2,.6 1.4,1.1 .4,.1 1.3-.5 1.3-1.2 .9-1.6 .6-1.6 .4-1.9 .4-1.7 .4-1.9 .3-1.7 .4-1.7 .4-1.9 .3-1.7 .4-1.7 .4-1.9 .3-1.7 .4-1.7 .3-1.7 .4-1.7 .4-2 .3-1.6 .4-1.8 .4-1.7 .5-1.8 .5-1.7 .6-1.6 .6-1.8 .6-1.7 .6-1.7 .7-1.7 .6-1.6 .7-1.6 1.1-1.5 1-.4 .7,.1 1.2,1.3 .8,1.6 .7,1.8 .6,1.6 .5,1.8 .4,1.7 .4,1.7 .4,1.7 .4,1.8 .4,1.9 .4,1.6 .4,2 .3,1.8 .3,1.6 .4,1.8 .3,1.9 .3,1.6 .4,1.8 .3,1.7 .4,1.8 .4,1.8 .5,1.7 .4,1.7 .6,1.8 .5,1.7 .6,1.6 .7,1.7 .8,1.6 1,.8 .4-.1 1.4-1.1 1.3-1.3 1.2-1 .1,0 1.1,1.4 .7,1.6 .8,1.7 .8,1.7 .8,1.5 .8,1.6 .9,1.5 1,1.6 1.1,1.5 1.1,1.3 1.2,1.4 1.2,1.3 1.5,.9 .4,.1 1.2-.6 .8-1.8 .4-1.5 .4-1.8 .4-1.8 .3-2 .3-1.5 .3-2 .2-1.6 .3-1.8 .3-2.1 .2-1.4 .2-1.9 .3-1.8 .2-1.7 .3-1.8 .3-2 .2-1.7 .3-1.7 .2-1.8 .3-1.8 .2-2 .2-1.7 .2-1.7 .2-1.8 .2-1.8 .2-1.8 .2-1.9 .2-1.8 .2-1.8 .2-1.8 .2-1.8 .2-1.8 .2-1.8 .2-1.7 .2-1.8 .2-1.7 .2-1.8 .2-1.7 .2-1.8 .2-1.8 .2-1.7 .3-2.1 .2-1.7 .2-1.7 .2-1.6 .2-2 .3-1.9 .2-1.8 .3-1.6 .3-1.8 .3-1.7 .4-1.7 .7-1.6 .5-.5 .7,.8 .6,1.8 .5,1.8 .4,1.6 .4,1.8 .3,1.7 .4,1.9 .3,1.6 .3,1.8 .3,1.9 .2,1.7 .3,1.9 .2,1.9 .2,1.5 .3,2 .2,1.9 .2,1.5 .3,2 .3,1.6 .3,2 .2,1.6 .3,1.9 .3,1.6 .3,1.8 .3,1.8 .3,1.8 .3,1.7 .3,1.7 .3,2 .3,1.7 .4,1.8 .3,1.6 .3,1.8 .4,1.9 .4,1.7 .4,1.8 .4,1.8 .4,1.7 .4,1.7 .5,1.7 .6,1.7 .6,1.6 .7,1.8 .7,1.5 .7,1.8 .8,1.6 .7,1.6 .8,1.7 .7,1.5 .8,1.7 .8,1.6 .9,1.6 1,1.5 .9,1.5 1.1,1.4 .6,.3 .7-.8 .6-1.8 .5-1.8 .3-1.6 .4-1.8 .3-1.7 .4-1.8 .3-1.8 .4-1.7 .4-2 .3-1.6 .4-1.8 .4-1.7 .4-1.7 .5-1.9 .4-1.6 .4-1.9 .5-1.8 .4-1.6 .5-1.9 .5-1.6 .5-1.7 .6-1.6 .7-1.7 .8-1.6 .5-.3 .8,.8 .9,1.5 .9,1.6 1.3,1.2 1.6,.9 .4,.1 1.2-.7 .9-1.5 .7-1.6 .8-1.7 .8-1.6 1.1-1.5 1.2-1.3 .8-.5 .7,.5 .7,1.6 .5,1.8 .4,1.8 .3,1.6 .4,1.8 .3,1.8 .4,1.7 .4,1.9 .4,1.8 .4,1.7 .4,1.7 .4,1.9 .4,1.6 .5,1.8 .4,1.6 .4,1.8 .5,1.8 .5,1.8 .5,1.6 .6,1.8 .8,1.6 1,1 .2-.1 .9-1.6 .5-1.7 .4-1.8 .4-1.8 .4-1.7 .3-1.7 .4-1.9 .3-1.7 .3-1.9 .2-1.6 .3-1.7 .2-1.9 .1,0 .5,0" stroke="#ecfc48" stroke-width="2.1"/>
<path d="M339,95.8l.2,.1 .5-1.6 .2-.2 .7,1.2 .4,1.7 .4,2 .2,1.8 .3,1.8 .2,1.8 .2,1.6 .3,1.9 .2,1.7 .2,1.7 .2,1.8 .2,2 .1,1.5 .2,2.2 .2,1.7 .1,1.9 .2,1.8 .1,1.9 .2,1.9 .1,1.3 .1,1.9 .2,1.9 .1,2 .2,1.9 .1,1.3 .1,1.9 .2,2 .1,1.9 .1,1.3 .2,2 .1,1.9 .2,2 .1,1.3 .1,1.9 .2,2 .1,2 .1,1.3 .2,2 .1,2 .1,1.3 .2,2 .1,1.9 .2,1.9 .1,1.7 .2,1.8 .1,1.6 .2,2.1 .2,1.5 .2,1.9 .2,1.8 .2,1.7 .2,1.6 .2,1.9 .3,1.7 .3,1.8 .3,1.7 .5,1.8 .9,1 .3-.1 .9-1.6 .6-1.7 .6-1.8 .4-1.6 .5-1.9 .4-1.6 .3-1.8 .3-1.8 .3-2 .2-1.6 .3-1.9 .3-1.8 .4-1.7 .5-1.6 .4-.4 .6,.8 .5,1.8 .4,2 .3,1.7 .3,1.8 .2,1.6 .3,2 .3,1.7 .2,1.6 .3,2 .3,1.7 .2,1.7 .3,2 .3,1.7 .2,1.7 .3,1.7 .3,2 .2,1.7 .3,1.9 .2,1.9 .1,1.7 .2,1.8 .1,1.9 .2,1.8 .1,1.8 .2,1.7 .2,1.9 .2,1.4 .3,.8 .3-1.1 .2-1.7 .2-2.2 .1-1.3 .1-2 .2-2.1 .1-1.5 .1-2.2 .1-1.4 .2-2.1 .1-1.3 .1-1.9 .2-1.9 .1-2 .2-1.9 .1-1.3 .1-2.1 .1-1.4 .2-2.1 .1-1.5 .1-2.4 .1-1.6 .1-1.7 .1-1.9 .1-2.1 .1-1.1 .1-2.3 0-1.3 .1-2.6 .1-1.3 .1-2.8 0-1.4 .1-1.4 0-1.4 .1-2.9 .1-1.4 0-1.4 .1-1.4 .1-2.8 0-1.4 .1-1.4 .1-2.6 0-1.3 .1-1.3 .1-2.5 0-1.2 .1-2.5 .1-1.3 .1-2.5 0-1.3 .1-1.4 .1-2.7 0-1.5 .1-1.4 0-1.5 .1-3.2 .1-1.6 0-1.6 .1-1.7 0-1.7 .1-1.7 0-1.8 .1-1.7 0-1.8 .1-1.7 0-1.8 .1-1.7 0-1.8 .1-1.7 0-1.7 .1-1.7 0-1.7 .1-1.8 0-1.7 .1-1.8 .1-3.5 0-1.8 .1-1.7 0-1.8 .1-1.7 0-1.7 .1-1.7 0-1.7 .1-1.7 0-1.6 .1-1.6 0-1.5 .1-1.5 .1-2.7 0-1.2 .1-2.4 .1-1.1 .1-2 .1-1.9 .1-1.8 .1-1.6 .1-1.6 .1-2.3 .1-1.4 .2-2.1 .1-1.4 .1-2 .2-1.9 .1-1.2 .1-1.8 .2-2.2 .2-1.6 .2-2 .2-1.8 .2-1.7 .2-1.6 .2-1.9 .3-1.6 .4-1 .3,.6 .4,2 .3,1.9 .2,1.6 .2,1.7 .2,1.8 .2,1.9 .1,1.6 .2,2.1 .2,1.7 .1,1.8 .2,1.9 .1,2.1 .1,1.4 .1,1.5 .2,2.4 .1,1.7 .1,1.8 .1,2 .1,1.9 0,1.1 .1,2.1 .1,2.2 .1,1.1 .1,2.3 0,1.2 .1,2.4 .1,1.3 .1,2.5 0,1.3 .1,2.7 .1,1.3 0,1.4 .1,2.8 .1,1.4 0,1.5 .1,1.4 .1,2.8 0,1.4 .1,1.4 0,1.4 .1,2.7 .1,1.3 .1,2.6 0,1.3 .1,1.2 .1,2.6 0,1.2 .1,2.5 .1,1.2 .1,2.5 0,1.2 .1,1.3 .1,2.4 0,1.2 .1,2.5 .1,1.2 .1,2.4 0,1.2 .1,2.4 .1,1.2 .1,2.4 0,1.1 .1,2.3 .1,2.3 .1,1.1 .1,2.1 .1,2 0,1 .1,1.9 .1,1.7 .2,2.3 .1,1.4 .1,1.8 .2,1.6 .2,1.9 .2,1.8 .2,1.9 .1,1.6 .2,2.1 .2,1.6 .2,2 .2,1.8 .2,1.5 .3,1.7 .2,.3 .4-1.5 .3-1.7 .3-1.8 .3-1.7 .3-1.7 .4-2.1 .3-1.7 .3-1.7 .3-1.8 .3-1.7 .3-1.8 .3-1.7 .3-1.8 .3-1.7 .3-1.8 .3-1.8 .3-1.7 .3-1.8 .3-1.8 .3-1.8 .3-1.8 .3-1.8 .3-1.8 .3-1.8 .3-1.8 .3-1.8 .3-1.6 .3-1.9 .4-1.8 .3-1.7 .4-1.6 .4-1.9 .4-1.9 .3-1.6 .4-1.7 .5-1.7 .6-1.7 .9-1.6 1-.8 .4,.2 .8,1.8 .4,1.6 .3,1.9 .3,1.7 .2,1.8 .3,1.9 .2,1.7 .2,1.7 .2,1.9 .2,2 .1,1.5 .2,2.2 .2,1.7 .1,1.7 .2,1.8 .1,1.7 .2,1.8 .1,1.7 .2,1.8 .1,1.7 .2,1.8 .2,2.4 .1,1.7 .2,1.8 .1,1.8 .2,1.7 .1,1.8 .2,1.8 .1,1.8 .2,1.8 .1,1.8 .2,1.8 .1,1.8 .2,1.8 .1,1.8 .2,1.9 .1,1.2 .1,1.8 .2,1.8 .1,1.9 .2,1.8 .1,1.8 .2,1.8 .1,1.8 .2,1.7 .1,1.8 .2,1.8 .1,1.8 .2,2 .1,1.9 .2,2 .1,1.3 .1,1.9 .2,1.9 .1,1.9 .2,1.7 .1,1.7 .2,2 .2,1.7 .3,1.6 .5,1.4 0,0 .6-1.7 .4-1.9 .4-1.7 .4-1.8 .4-1.7 .4-1.8 .4-1.7 .4-1.7 .4-1.7 .5-1.9 .4-1.8 .4-1.7 .4-1.7 .4-1.8 .5-1.6 .7-1.7 .8-1.7 .8-1.5 .6-.5 .8,.6 1.2,1.3 1.4,1 1.4,.6 .3-.1 1-1.5 .6-1.8 .5-1.8 .3-1.7 .4-1.9 .3-1.8 .2-1.7 .3-1.7 .2-1.7 .3-2 .3-1.7 .2-1.7 .3-2 .3-1.7 .2-1.7 .3-1.7 .3-2 .2-1.7 .3-1.7 .2-1.7 .3-2 .3-1.6 .2-1.7 .3-2 .3-1.7 .3-1.9 .2-1.7 .3-1.7 .3-1.9 .2-1.7 .3-1.6 .3-2 .2-1.6 .3-2 .3-1.6 .3-2 .2-1.6 .3-1.7 .2-1.8 .3-2 .3-1.7 .3-1.8 .3-1.7 .6-1.6 .1,0 .7,1.4 .4,1.8 .4,1.9 .3,1.8 .3,1.6 .4,1.8 .3,1.9 .3,1.6 .4,1.9 .3,1.9 .3,1.6 .4,1.8 .3,1.8 .3,1.6 .4,1.8 .4,1.9 .3,1.6 .5,1.9 .5,1.6 .2,.3 .6-1.4 .3-1.9 .3-1.7 .2-1.8 .3-1.8 .2-1.8 .3-1.8 .2-1.8 .2-1.5 .3-1.9 .2-1.8 .3-1.9 .2-1.8 .2-1.6 .3-1.9 .2-2 .2-1.5 .3-2 .2-1.5 .2-1.9 .3-1.8 .2-1.7 .3-1.7 .3-1.9 .3-1.7 .4-1.8 .4-1.6 .8-1.7 1-.9 .4,.2 .9,1.6 .5,1.8 .3,1.7 .3,1.9 .3,1.8 .2,1.9 .2,1.6 .2,1.6 .3,2.1 .2,1.7 .2,1.8 .2,1.8 .2,1.8 .2,1.8 .2,1.9 .2,1.8 .1,1.4 .2,1.9 .2,1.8 .2,1.9 .2,1.9 .2,1.8 .2,1.4 .2,1.9 .2,1.8 .2,1.8 .2,1.8 .2,2 .2,1.5 .3,2 .3,1.5 .3,1.9 .4,1.7 .4,1.7 .6,1.7 1,1.4 .3,.1 1.2-.9 .9-.5 .6,.4 .8,1.6 .7,1.7 .6,1.6 .6,1.8 .6,1.7 .6,1.7 .6,1.7 .7,1.7 .6,1.6 .8,1.6 1,1.4 .5,.2 1.1-.7 1-1.5 .9-1.5 1-1.6 1-1.5 1.1-1.3 1.5-.9 .1,0 1.4,.8 1.3,1.3 .9,.3 .8-.2 1.5-.9 .9-1.6 .6-1.8 .4-1.7 .4-1.8 .4-1.8 .4-1.6 .4-1.9 .4-1.8 .3-1.6 .4-1.8 .4-1.9 .4-1.6 .4-1.9 .3-1.7 .4-1.7 .4-1.8 .4-1.8 .4-1.6 .5-1.9 .5-1.6 .6-1.8 .5-1.6 .6-1.7 .6-1.8 .6-1.6 .6-1.8 .7-1.6 .8-1.6 1.3-1.1 .6-.1 1,.5 1,1.5 .8,1.7 .6,1.6 .5,1.8 .5,1.7 .4,1.9 .4,1.7 .4,1.8 .4,1.6 .4,1.9 .3,1.7 .4,1.8 .3,1.9 .3,1.6 .4,1.9 .3,1.6 .3,1.9 .4,1.7 .3,1.7 .4,1.8 .4,1.7 .5,1.8 .4,1.6 .6,1.9 .5,1.7 .6,1.5 .6,1.7 .9,1.6 .8,.5 .7-.2 1.4-1.1 1.2-1.4 1-.8 .4,.3 1,1.5 .8,1.6 .8,1.6 .9,1.5 1,1.6 1.1,1.4 1.1,1.4 1.2,1.3 1.3,1.3 1.2,1.2 1.3,1.3 1.6,.5 .1,0 1.3-1.2 .6-1.7 .4-1.7 .4-1.8 .4-1.9 .3-1.7 .3-1.8 .3-1.9 .2-1.6 .3-1.7 .3-2.1 .2-1.7 .3-1.7 .2-1.6 .3-1.9 .3-1.9 .3-1.6 .3-2 .2-1.7 .3-1.9 .2-1.6 .2-1.7 .2-2.1 .2-1.8 .2-1.7 .2-1.8 .2-1.7 .2-1.8 .2-1.7 .2-1.8 .2-1.7 .2-1.8 .3-2.1 .2-1.7 .2-1.8 .2-1.7 .2-1.7 .2-1.7 .2-1.8 .2-2.1 .2-1.7 .2-1.7 .3-2 .2-1.6 .2-1.6 .2-1.9 .3-1.7 .3-2 .3-1.7 .3-1.7 .5-1.7 .7-1.6 .4-.2 .7,1 .6,1.8 .5,1.8 .4,1.6 .4,1.8 .4,1.9 .3,1.6 .4,1.9 .3,1.8 .2,1.6 .3,1.8 .2,1.8 .3,1.9 .2,1.9 .3,1.8 .2,1.5 .3,2 .2,1.6 .3,1.9 .3,1.8 .3,1.6 .3,1.8 .3,1.8 .3,1.7 .3,2 .3,1.7 .3,1.7 .4,1.9 .3,1.6 .3,1.9 .4,1.8 .3,1.7 .4,1.7 .3,1.7 .4,1.8 .4,1.8 .4,1.7 .5,1.7 .5,1.8 .5,1.7 .6,1.7 .6,1.6 .7,1.7 .6,1.7 .7,1.7 .7,1.7 .7,1.6 .7,1.7 .8,1.7 .7,1.6 .8,1.6 .9,1.5 1,1.5 1,1.5 1.2,.8 .3-.1 .8-1.6 .5-1.8 .3-1.6 .4-1.8 .3-1.9 .4-1.8 .3-1.7 .3-1.9 .3-1.6 .4-1.8 .3-1.8 .4-1.7 .3-1.7 .4-1.9 .4-1.8 .4-1.6 .4-1.8 .4-1.7 .4-1.8 .4-1.9 .4-1.6 .5-1.8 .5-1.6 .6-1.8 .6-1.6 .8-1.7 .7-.6 .6,.6 .8,1.5 .8,1.7 .9,1.4 1.2,1.4 1.3,1.2 .8,.3 .9-.4 1-1.4 .9-1.7 .9-1.5 1.1-1.4 1.4-1.2 .8-.4 .7,.5 .7,1.7 .5,1.6 .4,1.9 .4,1.7 .3,1.7 .4,1.7 .4,1.9 .4,1.8 .4,1.6 .4,1.8 .5,1.8 .4,1.7 .5,1.7 .4,1.7 .5,1.9 .5,1.6 .5,1.8 .6,1.7 .6,1.6 .9,1.6 .8,.7 .5-.4 .8-1.7 .4-1.6 .5-1.9 .4-1.8 .3-1.6 .4-1.8 .3-1.8 .3-1.7 .3-1.9 .3-1.9 .3-1.7 .1-1.1 .5,.1 .1,0" stroke="#eef546" stroke-width="2.1"/>
<path d="M339,95.2l.2,.1 .5-1.6 .2-.2 .7,1.1 .4,1.8 .3,1.7 .3,2.1 .2,1.5 .3,1.9 .2,1.9 .2,1.6 .3,2.1 .2,1.7 .2,1.9 .1,1.5 .2,2 .2,1.7 .1,1.7 .2,1.8 .1,1.9 .2,1.9 .1,1.9 .2,1.9 .1,1.3 .1,2 .2,1.9 .1,2 .1,1.3 .2,1.9 .1,2 .2,1.9 .1,1.4 .1,1.9 .2,2 .1,1.9 .1,1.4 .2,1.9 .1,2 .2,2 .1,1.3 .1,2 .2,2 .1,1.3 .1,2 .2,2 .1,1.9 .2,1.8 .1,1.7 .2,1.7 .1,1.6 .2,2 .2,1.5 .2,1.8 .2,1.8 .2,2 .2,1.6 .3,1.8 .3,1.8 .3,1.6 .4,1.8 .8,1.5 .2,.1 1-1.1 .7-1.7 .6-1.8 .5-1.7 .4-1.7 .4-1.7 .4-1.9 .3-1.9 .2-1.6 .3-2 .3-1.6 .3-1.8 .3-1.7 .4-1.7 .7-1.4 .2,.1 .7,1.7 .4,1.7 .3,1.8 .3,1.8 .3,1.8 .3,1.7 .3,1.9 .2,1.7 .3,1.9 .3,1.7 .2,1.7 .3,2 .3,1.7 .2,1.7 .3,1.7 .3,2.1 .2,1.7 .3,1.7 .2,1.8 .2,2.1 .1,1.8 .2,1.9 .1,1.2 .1,1.9 .2,1.8 .2,2.1 .2,1.6 .4,1.5 .4-1.8 .2-2 .1-1.8 .2-1.9 .1-1.4 .1-2.2 .1-1.5 .2-2.2 .1-1.4 .1-2 .2-1.9 .1-1.9 .1-1.3 .2-1.9 .1-2 .2-2 .1-1.4 .1-2.1 .1-1.5 .2-2.3 .1-1.5 .1-1.7 .1-1.8 .1-2 .1-2.1 0-1.2 .1-2.4 .1-1.3 .1-2.6 0-1.4 .1-1.4 .1-2.8 0-1.4 .1-1.4 0-1.5 .1-2.8 .1-1.4 0-1.4 .1-1.4 .1-2.7 0-1.3 .1-2.6 .1-1.3 0-1.2 .1-2.5 .1-1.3 .1-2.5 0-1.2 .1-2.6 .1-1.3 0-1.4 .1-2.8 .1-1.5 0-1.5 .1-1.5 0-1.6 .1-1.6 .1-3.4 0-1.6 .1-1.8 0-1.7 .1-1.7 0-1.8 .1-1.7 0-1.8 .1-1.7 0-1.8 .1-1.7 0-1.7 .1-1.7 0-1.8 .1-1.7 0-1.7 .1-1.8 0-1.8 .1-1.7 0-1.8 .1-1.7 0-1.8 .1-1.7 0-1.8 .1-1.7 0-1.6 .1-3.3 .1-1.6 0-1.6 .1-1.4 0-1.4 .1-2.6 .1-1.2 .1-2.2 0-1.1 .1-2 .1-1.8 .1-1.7 .1-1.6 .2-2.3 .1-1.5 .1-2.2 .1-1.4 .2-2 .1-1.4 .1-1.9 .2-1.8 .1-1.8 .2-1.6 .2-2.1 .1-1.5 .2-1.8 .3-2.1 .2-1.6 .2-1.7 .4-1.7 .2-.3 .5,1.5 .3,1.9 .2,1.6 .3,2.1 .2,1.8 .1,1.4 .2,2.1 .2,1.6 .1,1.6 .2,2.4 .1,1.2 .2,2 .1,2.1 .1,1.4 .2,2.4 .1,1.6 .1,1.7 .1,1.9 .1,1.9 .1,2 0,1 .1,2.2 .1,2.2 .1,1.1 .1,2.4 0,1.1 .1,2.5 .1,1.2 .1,2.6 0,1.3 .1,2.7 .1,1.3 0,1.4 .1,1.4 .1,2.9 0,1.4 .1,1.4 .1,2.8 0,1.4 .1,1.4 0,1.4 .1,2.7 .1,1.4 0,1.3 .1,2.5 .1,1.3 .1,2.5 0,1.3 .1,2.4 .1,1.3 0,1.2 .1,2.5 .1,1.2 .1,2.4 0,1.3 .1,2.4 .1,1.2 .1,2.4 0,1.2 .1,2.4 .1,1.2 .1,2.4 0,1.1 .1,2.3 .1,1.1 .1,2.2 .1,2.1 .1,2.1 0,.9 .1,1.9 .1,1.8 .2,2.2 .1,1.4 .1,1.8 .2,2 .2,1.4 .2,1.8 .2,1.9 .2,2 .1,1.6 .2,2.1 .2,1.4 .2,1.8 .2,1.9 .5,1.5 .5-1.8 .3-1.8 .3-1.7 .3-1.8 .3-1.8 .3-1.7 .3-1.8 .3-1.8 .3-1.7 .3-1.8 .3-1.8 .3-1.7 .3-1.8 .3-1.7 .3-1.8 .3-1.8 .3-1.7 .3-1.8 .3-1.8 .3-1.7 .3-1.8 .3-1.8 .3-1.8 .3-1.8 .3-1.8 .3-1.7 .3-1.9 .4-1.8 .3-1.7 .4-1.6 .4-1.9 .4-1.8 .4-1.8 .4-1.7 .4-1.7 .6-1.7 .7-1.6 1.3-1.3 .2,0 .9,1.2 .5,1.7 .4,1.8 .3,1.8 .2,1.7 .3,1.9 .2,2 .2,1.7 .2,1.9 .2,1.9 .2,1.5 .2,2.1 .1,1.7 .2,1.7 .1,1.7 .2,1.7 .1,1.8 .2,1.7 .1,1.8 .2,2.3 .2,1.7 .1,1.8 .2,1.7 .1,1.8 .2,1.7 .1,1.8 .2,1.7 .1,1.8 .2,1.8 .1,1.7 .2,1.8 .1,1.8 .2,1.8 .1,1.8 .2,1.8 .1,1.8 .2,1.8 .1,1.8 .2,1.8 .1,1.8 .2,1.8 .1,1.8 .2,1.8 .1,1.8 .2,1.7 .1,1.8 .2,1.7 .1,1.9 .2,1.9 .1,1.9 .2,2 .1,1.3 .1,1.9 .2,1.9 .1,1.8 .2,1.7 .1,1.6 .2,2 .2,1.7 .3,1.9 .4,1 .3-.3 .4-1.8 .4-1.7 .4-1.8 .4-1.8 .4-1.9 .4-1.6 .4-1.7 .4-1.8 .4-1.8 .4-1.8 .4-1.7 .4-1.8 .4-1.7 .4-1.7 .5-1.7 .6-1.8 .8-1.6 .8-1.5 .8-.9 .5,.4 1.1,1.4 1.2,1.2 1.4,1.2 .7,.3 .8-.6 .8-1.7 .5-1.7 .4-1.7 .4-1.8 .3-1.7 .3-2 .2-1.6 .3-2 .3-1.7 .2-1.6 .3-2 .3-1.7 .2-1.7 .3-2 .3-1.7 .2-1.7 .3-2 .3-1.7 .2-1.7 .3-1.6 .3-2.1 .2-1.6 .3-1.7 .3-2 .2-1.7 .3-1.7 .2-1.7 .3-2 .3-1.7 .2-1.7 .3-2 .3-1.6 .2-1.7 .3-2 .3-1.7 .2-1.7 .3-1.7 .3-2.1 .2-1.8 .3-1.7 .2-1.6 .3-1.7 .4-1.7 .6-1 .4,.7 .4,1.7 .4,1.8 .4,1.7 .3,1.8 .4,1.8 .3,1.6 .3,1.8 .4,1.9 .3,1.8 .3,1.6 .4,1.8 .3,1.8 .4,1.8 .3,1.8 .4,1.8 .3,1.7 .4,1.7 .5,1.6 .4,.9 .4-.7 .4-1.9 .3-1.8 .3-1.8 .2-1.8 .3-1.8 .2-1.7 .3-1.8 .2-1.8 .3-1.8 .2-1.8 .2-1.5 .3-1.9 .2-1.8 .3-1.9 .2-1.6 .2-1.9 .3-2 .2-1.5 .2-1.9 .3-1.8 .2-1.8 .3-1.6 .3-1.9 .3-1.8 .3-1.6 .5-1.8 .6-1.6 1.2-1.2 1.1,1.4 .5,1.7 .4,1.9 .3,1.8 .3,1.7 .2,1.9 .2,1.6 .3,2.1 .2,1.7 .2,1.7 .2,1.7 .2,1.8 .2,1.8 .2,1.8 .2,1.8 .2,1.9 .2,1.8 .2,1.8 .2,1.8 .2,1.9 .2,1.8 .2,1.8 .1,1.4 .2,1.8 .2,1.8 .2,1.8 .3,2.2 .2,1.5 .2,1.9 .3,1.6 .3,1.8 .3,1.8 .4,1.8 .5,1.6 .6,1.7 1.2,1.1 .1,0 1.3-1.2 .7-.4 .7,.7 .9,1.7 .6,1.6 .6,1.7 .6,1.7 .6,1.7 .6,1.6 .6,1.8 .6,1.6 .6,1.8 .7,1.6 .9,1.5 .9,.6 .7-.4 1.2-1.3 1-1.5 1-1.5 1-1.4 1.3-1.4 1.4-.7 .1,0 1.5,1.1 1.5,.9 .1,0 1.6-.5 1.3-1.2 .7-1.6 .6-1.9 .4-1.8 .3-1.6 .4-1.9 .4-1.6 .4-1.9 .3-1.6 .4-1.9 .4-1.6 .4-1.9 .3-1.6 .4-2 .4-1.6 .4-1.9 .3-1.6 .4-1.8 .5-1.8 .4-1.6 .6-1.8 .6-1.7 .6-1.6 .6-1.8 .6-1.7 .7-1.7 .6-1.6 .8-1.6 1.1-1.4 1-.2 .7,.1 1.2,1.4 .8,1.6 .7,1.7 .6,1.8 .5,1.7 .4,1.8 .4,1.6 .4,1.7 .4,1.8 .4,1.8 .4,1.8 .4,1.7 .3,1.8 .4,1.8 .3,1.8 .4,1.8 .3,1.8 .4,1.6 .4,1.8 .4,1.7 .4,1.7 .5,1.8 .6,1.8 .5,1.6 .7,1.7 .6,1.6 .9,1.7 .9,.6 .5-.1 1.5-1.2 1.2-1.2 1.1-1.1 .2,.1 1.1,1.5 .7,1.6 .8,1.7 .8,1.5 .9,1.6 .9,1.6 .9,1.5 1,1.5 1.1,1.4 1.1,1.4 1.2,1.4 1.2,1.3 1.5,.9 .3,0 1.2-.8 .7-1.7 .5-1.7 .4-1.8 .3-1.8 .3-1.7 .3-1.8 .3-1.9 .3-1.6 .3-2 .2-1.8 .3-1.7 .2-1.8 .3-1.7 .3-2 .2-1.6 .3-1.6 .3-2 .2-1.7 .3-1.9 .2-1.9 .2-1.7 .2-1.7 .2-1.8 .2-1.8 .2-1.8 .2-1.8 .2-1.8 .2-1.8 .2-1.8 .2-1.8 .2-1.8 .2-1.8 .2-1.8 .2-1.7 .2-1.8 .2-1.8 .2-1.7 .2-1.8 .2-1.8 .2-1.7 .2-1.8 .3-2.1 .2-1.7 .2-1.6 .2-1.7 .2-1.9 .3-1.9 .2-1.7 .3-1.8 .3-1.7 .4-1.8 .5-1.6 .8-1.1 .3,.2 .8,1.8 .5,1.7 .4,1.7 .4,1.8 .3,1.8 .4,1.8 .3,1.8 .3,1.8 .2,1.5 .3,2 .3,1.8 .2,1.6 .2,1.9 .3,2 .2,1.6 .2,1.9 .2,1.5 .3,2.1 .3,1.6 .3,1.9 .2,1.6 .3,1.9 .3,1.6 .3,1.8 .3,1.8 .3,1.7 .3,2 .3,1.7 .3,1.6 .4,1.9 .3,1.8 .4,1.8 .3,1.7 .4,1.9 .4,1.6 .4,1.7 .4,1.9 .4,1.5 .5,1.8 .6,1.7 .6,1.7 .7,1.6 .8,1.7 .7,1.7 .8,1.6 .8,1.6 .8,1.6 .8,1.6 .8,1.6 .9,1.5 .9,1.6 1,1.5 1,1.5 1.2,1.2 .3,.1 .9-1.2 .5-1.8 .5-1.8 .3-1.7 .4-1.7 .3-1.8 .4-1.7 .3-1.8 .4-1.9 .4-1.7 .4-1.8 .3-1.6 .4-1.8 .4-1.7 .5-1.9 .4-1.7 .4-1.7 .4-1.8 .4-1.6 .5-2 .5-1.6 .6-1.7 .6-1.6 .6-1.7 .9-1.6 .4-.3 .9,1 .8,1.6 .9,1.5 1.2,1.3 1.3,1.2 1,.4 .7-.2 1.1-1.4 .8-1.6 .9-1.7 .9-1.4 1.2-1.4 1.4-1 .2-.1 1.1,1.2 .6,1.8 .4,1.6 .4,1.9 .3,1.8 .4,1.8 .3,1.6 .3,1.7 .4,2 .4,1.5 .4,2 .4,1.7 .4,1.7 .4,1.7 .5,1.8 .4,1.6 .4,1.8 .5,1.8 .5,1.8 .5,1.6 .6,1.7 .8,1.6 .9,.9 .4-.2 .8-1.6 .5-1.8 .4-1.9 .4-1.6 .3-1.7 .4-1.8 .3-1.9 .3-1.7 .3-1.9 .3-1.7 .2-1.7 .3-1.9 .6-.4" stroke="#f0ed43" stroke-width="2.1"/>
<path d="M339,94l.2,.1 .5-1.6 .2-.3 .7,1.2 .4,1.8 .3,1.7 .3,1.7 .2,1.9 .3,1.9 .2,1.9 .2,1.7 .2,1.7 .2,1.7 .2,1.9 .2,2 .2,1.5 .2,2.2 .1,1.8 .2,1.8 .1,1.3 .1,1.9 .2,1.9 .1,2 .2,1.9 .1,1.4 .1,1.9 .2,2 .1,2 .1,1.3 .2,2 .1,1.9 .1,1.3 .2,2 .1,2 .2,2 .1,1.3 .1,2 .2,2 .1,1.3 .1,2 .2,2 .1,2 .1,1.3 .2,2 .1,2 .1,1.2 .2,1.9 .1,1.8 .2,2.3 .2,1.6 .1,1.5 .2,2 .2,1.9 .2,1.8 .2,1.6 .2,1.6 .3,1.8 .3,2 .3,1.7 .4,1.7 .5,1.6 .7,.6 .6-.5 .8-1.7 .6-1.6 .6-1.8 .5-1.7 .4-1.8 .4-1.9 .3-1.8 .2-1.5 .3-2 .3-1.9 .3-1.7 .3-1.6 .5-1.8 .6-.9 .4,.4 .6,1.8 .4,1.9 .3,1.6 .3,1.8 .3,1.9 .2,1.7 .3,1.6 .3,2 .2,1.7 .3,2 .3,1.7 .2,1.7 .3,1.7 .2,1.8 .3,1.7 .2,1.8 .3,2.1 .3,1.7 .2,1.8 .1,1.6 .2,1.8 .1,1.9 .2,1.9 .1,1.8 .2,1.8 .1,1.6 .2,1.8 .3,1.7 .2,.2 .3-1.5 .2-1.8 .2-2.3 .1-1.4 .2-2.1 .1-1.4 .1-2.2 .1-1.5 .2-2.2 .1-1.4 .1-1.9 .2-2 .1-1.9 .1-1.3 .2-2 .1-2 .1-1.4 .2-2.1 .1-1.5 .1-2.3 .1-1.6 .1-1.6 .1-1.8 .1-1.9 .1-2 .1-2.3 .1-1.2 .1-2.5 0-1.3 .1-1.4 .1-2.8 0-1.4 .1-1.4 0-1.4 .1-2.9 .1-1.4 0-1.4 .1-2.8 .1-1.4 0-1.4 .1-1.4 .1-2.6 0-1.3 .1-2.5 .1-1.3 0-1.2 .1-2.5 .1-1.3 .1-2.6 0-1.3 .1-1.3 .1-2.8 0-1.4 .1-1.5 0-1.5 .1-3.2 .1-1.6 0-1.6 .1-1.7 0-1.7 .1-1.8 0-1.7 .1-1.8 0-1.7 .1-1.8 0-1.7 .1-1.8 0-1.8 .1-1.7 0-1.7 .1-1.8 0-1.7 .1-1.8 0-1.7 .1-1.8 0-1.8 .1-1.8 0-1.8 .1-1.7 0-1.8 .1-1.8 0-1.7 .1-3.4 .1-1.7 0-1.7 .1-1.6 0-1.5 .1-1.5 0-1.4 .1-2.6 .1-1.3 .1-2.3 0-1.1 .1-2 .1-1.9 .1-1.8 .1-1.6 .1-1.7 .1-1.5 .2-2.3 .1-1.5 .1-2.2 .1-1.4 .2-2 .1-2 .1-1.2 .2-1.8 .1-1.8 .2-2.1 .2-1.5 .2-1.9 .2-1.8 .2-1.7 .2-1.8 .4-1.7 .2-.4 .5,1.2 .3,1.9 .2,2 .2,1.8 .2,1.9 .2,1.4 .2,2.2 .1,1.6 .2,1.7 .1,1.8 .2,1.9 .1,2 .1,1.4 .2,2.2 .1,1.6 .1,1.6 .1,1.7 .1,1.8 .1,1.9 .1,2 .1,2 .1,2.2 0,1.1 .1,2.2 .1,1.2 .1,2.3 0,1.2 .1,2.5 .1,1.3 .1,2.6 0,1.3 .1,1.3 .1,2.8 0,1.4 .1,1.4 .1,2.9 0,1.4 .1,1.4 0,1.5 .1,2.8 .1,1.4 0,1.4 .1,2.7 .1,1.4 0,1.3 .1,2.6 .1,1.2 0,1.3 .1,2.5 .1,1.3 .1,2.5 0,1.2 .1,2.5 .1,1.2 .1,2.4 0,1.3 .1,2.4 .1,1.2 0,1.2 .1,2.4 .1,1.3 .1,2.3 0,1.2 .1,2.4 .1,2.3 .1,1.1 .1,2.2 0,1 .1,2.1 .1,2 .1,1.8 .1,1.8 .1,1.5 .2,2.1 .1,1.8 .2,1.5 .2,1.9 .2,1.8 .2,1.9 .1,1.5 .2,2 .2,1.6 .2,2 .2,1.7 .2,1.5 .4,1.8 .1,.1 .4-1.6 .3-1.8 .3-1.7 .3-1.8 .3-1.8 .3-1.8 .3-1.8 .3-1.8 .3-1.8 .3-1.8 .3-1.7 .3-1.8 .3-1.8 .3-1.8 .3-1.8 .3-1.7 .3-1.8 .3-1.8 .3-1.8 .3-1.8 .3-1.7 .3-1.8 .3-1.5 .3-1.8 .3-1.8 .3-1.8 .3-1.9 .4-1.8 .3-1.7 .4-1.8 .4-1.6 .4-1.7 .4-1.8 .4-1.9 .5-1.6 .6-1.8 .8-1.6 1.3-1 .1,0 1,1.4 .5,1.8 .3,1.8 .3,1.9 .3,1.7 .2,1.5 .2,2 .2,1.8 .2,1.8 .2,1.9 .2,1.5 .2,2.1 .1,1.7 .2,1.7 .1,1.7 .2,1.8 .1,1.7 .2,2.3 .2,1.8 .1,1.7 .2,1.8 .1,1.8 .2,1.7 .1,1.8 .2,1.7 .1,1.8 .2,1.8 .1,1.8 .2,1.7 .1,1.8 .2,1.8 .1,1.8 .2,1.8 .1,1.9 .2,1.8 .1,1.8 .2,1.9 .1,1.8 .2,1.8 .1,1.9 .2,1.8 .1,1.8 .2,1.8 .1,1.8 .2,1.8 .1,1.8 .2,1.8 .1,1.8 .1,1.3 .2,2 .1,2 .2,1.9 .1,1.4 .1,1.9 .2,1.9 .1,1.7 .2,1.7 .1,1.6 .2,1.9 .3,1.8 .3,1.7 .3,.3 .4-1.2 .5-1.9 .3-1.6 .4-1.8 .4-1.9 .4-1.6 .4-1.8 .4-1.8 .3-1.6 .4-1.9 .4-1.8 .4-1.6 .4-1.8 .4-1.7 .4-1.9 .5-1.6 .6-1.8 .7-1.5 .8-1.7 .9-.9 .4,.3 1.2,1.3 1.2,1.3 1.4,1.1 .7,.3 .8-.7 .8-1.6 .5-1.7 .4-1.8 .3-1.8 .3-1.7 .3-1.9 .3-1.7 .3-1.9 .2-1.7 .3-2 .3-1.6 .2-1.7 .3-2 .3-1.7 .2-1.7 .3-1.7 .3-2 .2-1.7 .3-1.7 .3-2 .2-1.7 .3-1.7 .2-1.7 .3-2 .3-1.7 .2-1.7 .3-1.7 .3-2 .2-1.7 .3-1.7 .2-1.7 .3-2 .3-1.7 .2-1.7 .3-2 .3-1.7 .2-1.7 .3-1.8 .2-1.8 .3-1.7 .3-1.9 .3-1.7 .4-1.6 .5-.9 .4,.6 .5,1.9 .4,1.8 .3,1.6 .4,1.8 .3,1.7 .4,1.8 .3,1.8 .4,1.7 .3,1.8 .4,1.8 .3,1.8 .4,1.7 .3,1.8 .4,1.7 .4,1.9 .3,1.6 .5,1.7 .6,1.6 .1-.1 .6-1.8 .3-1.7 .3-2 .2-1.8 .2-1.5 .3-1.8 .2-1.8 .3-1.8 .2-1.8 .3-1.8 .2-1.9 .3-1.8 .2-1.9 .2-1.6 .3-1.9 .2-1.6 .2-2 .2-1.6 .3-2 .2-1.5 .2-1.9 .3-1.8 .2-1.8 .3-1.6 .3-1.9 .3-1.8 .4-1.7 .6-1.7 .9-1.4 .3-.1 1,1.1 .5,1.7 .4,1.9 .3,1.8 .3,1.7 .2,1.9 .2,1.7 .2,1.7 .2,1.8 .2,1.7 .2,1.9 .2,1.8 .2,1.9 .2,1.9 .2,1.9 .2,1.4 .2,1.9 .2,1.9 .2,1.9 .1,1.4 .2,1.9 .2,1.9 .2,1.9 .2,1.9 .2,1.4 .2,1.8 .2,1.9 .2,1.8 .2,1.7 .2,1.7 .2,1.8 .3,1.7 .3,1.9 .3,1.9 .4,1.6 .4,1.8 .6,1.6 .9,1.5 .5,.3 1-.6 .9-.4 .6,.4 .9,1.6 .7,1.7 .6,1.7 .6,1.7 .6,1.6 .6,1.7 .7,1.7 .6,1.7 .7,1.6 .7,1.7 1.1,1.5 .5,.2 1-.6 1.1-1.4 1-1.6 1-1.5 .9-1.5 1.1-1.4 1.4-1.1 .4-.1 1.2,.6 1.4,1.1 .4,0 1.4-.4 1.3-1.1 .9-1.7 .5-1.8 .4-1.8 .4-1.6 .4-1.9 .3-1.7 .4-1.6 .4-2 .3-1.6 .4-1.7 .4-1.9 .3-1.7 .4-1.8 .3-1.7 .4-1.9 .4-1.7 .4-1.8 .4-1.8 .4-1.6 .5-1.7 .5-1.8 .6-1.7 .6-1.6 .6-1.8 .6-1.6 .7-1.7 .7-1.7 .8-1.6 1.3-1 .4-.1 1.2,.6 1,1.5 .8,1.7 .6,1.7 .5,1.6 .5,1.9 .4,1.6 .5,1.9 .4,1.8 .3,1.6 .4,1.8 .4,1.7 .3,1.8 .4,1.8 .3,1.8 .3,1.7 .4,1.8 .3,1.8 .4,1.8 .3,1.7 .4,1.8 .4,1.6 .5,1.8 .5,1.8 .5,1.6 .6,1.9 .5,1.5 .7,1.8 .8,1.6 1,.7 .4,0 1.6-1 1.2-1.2 .9-.7 .5,.3 1,1.6 .8,1.6 .8,1.6 .9,1.6 .8,1.4 1,1.6 1,1.5 1,1.5 1.1,1.4 1.2,1.4 1.2,1.4 1.3,1.1 1,.3 .7-.1 1-1.6 .6-1.7 .4-1.6 .4-2 .3-1.6 .3-2 .3-1.5 .3-2 .2-1.6 .3-2 .3-1.8 .2-1.7 .3-1.7 .2-1.7 .3-2 .3-1.6 .3-2 .2-1.8 .3-1.8 .2-1.5 .2-2.1 .2-1.8 .2-1.8 .2-1.9 .2-1.4 .2-1.8 .2-1.9 .2-1.9 .1-1.5 .2-1.9 .2-1.9 .2-1.9 .2-1.9 .2-1.4 .2-1.8 .2-1.9 .2-1.9 .2-1.8 .2-1.9 .1-1.4 .2-1.9 .2-1.8 .2-1.9 .2-1.8 .2-1.8 .2-1.8 .2-1.7 .2-1.7 .2-1.7 .3-1.9 .2-1.8 .3-1.6 .3-2 .4-1.7 .5-1.7 .7-1 .3,.2 .7,1.7 .5,1.8 .4,1.8 .4,1.7 .3,1.9 .3,1.7 .3,1.8 .3,1.6 .3,2 .2,1.7 .3,1.8 .2,1.6 .2,2 .2,1.7 .3,2 .2,1.6 .2,2 .2,1.5 .3,2 .3,1.7 .2,1.6 .3,2 .3,1.6 .3,1.9 .3,1.8 .3,1.8 .3,1.8 .3,1.7 .3,1.7 .3,1.7 .3,1.9 .3,1.6 .4,1.9 .3,1.7 .4,1.7 .4,1.9 .3,1.6 .4,1.8 .5,1.8 .4,1.7 .5,1.7 .6,1.7 .7,1.8 .6,1.6 .7,1.7 .7,1.6 .8,1.7 .7,1.6 .8,1.6 .7,1.6 .8,1.7 .8,1.6 .9,1.5 .9,1.5 1,1.6 1.1,1.4 .6,.3 .7-.9 .6-1.7 .4-1.7 .4-1.8 .4-1.9 .4-1.7 .3-1.6 .4-1.9 .4-1.7 .4-1.8 .4-1.8 .4-1.8 .4-1.8 .4-1.7 .4-1.8 .4-1.7 .4-1.7 .4-1.7 .4-1.8 .5-1.7 .5-1.7 .5-1.7 .6-1.7 .7-1.7 .8-1.5 .4-.3 .9,.9 .9,1.6 .9,1.6 1.2,1.2 1.4,1.1 .7,.2 1-.4 .9-1.5 .8-1.7 .7-1.5 .9-1.7 1-1.5 1.1-1.3 1.1-.8 .4,.1 .8,1.6 .5,1.7 .5,1.9 .3,1.7 .4,1.7 .3,1.8 .4,1.9 .4,1.6 .4,1.8 .4,1.8 .4,1.7 .5,1.8 .4,1.6 .4,1.8 .5,1.8 .4,1.8 .5,1.7 .5,1.7 .5,1.7 .7,1.7 .8,1.5 .8,.7 .5-.5 .7-1.7 .5-1.8 .4-1.7 .4-1.8 .4-1.7 .3-1.8 .3-1.6 .4-2.1 .2-1.5 .3-2 .3-1.8 .1-1.1 .5,0 0,0 .1,0" stroke="#f3e641" stroke-width="2.1"/>
<path d="M339,93.3l.2,0 .4-1.5 .3-.4 .7,1.2 .4,1.8 .3,1.8 .3,1.7 .2,1.9 .2,1.6 .3,2 .2,1.6 .2,1.7 .2,1.8 .2,1.9 .2,2 .1,1.6 .2,2.2 .2,1.7 .1,1.9 .1,1.3 .2,1.9 .1,2 .2,1.9 .1,1.4 .1,1.9 .2,2 .1,2 .1,1.3 .2,2 .1,2 .1,1.3 .2,2 .1,2 .2,2 .1,1.3 .1,2 .2,1.9 .1,1.4 .1,1.9 .2,2 .1,2 .1,1.3 .2,2 .1,2 .2,2 .1,1.2 .1,1.9 .2,1.8 .1,1.7 .2,2.2 .2,1.5 .2,2 .1,1.4 .2,1.8 .3,2 .2,1.6 .2,1.8 .3,1.9 .3,1.6 .4,1.8 .6,1.6 .6,.5 .7-.6 .8-1.6 .7-1.8 .5-1.7 .5-1.6 .5-1.8 .3-1.8 .3-1.8 .3-1.9 .3-1.5 .3-1.9 .3-1.9 .4-1.7 .5-1.6 .3-.3 .7,1 .5,1.9 .4,1.7 .3,1.8 .3,1.8 .2,1.7 .3,2 .3,1.7 .2,1.6 .3,2.1 .3,1.7 .2,1.8 .3,1.7 .2,1.8 .3,1.8 .2,1.8 .3,1.9 .2,1.4 .2,1.9 .2,1.7 .2,2.1 .2,1.9 .1,1.9 .1,1.3 .2,1.9 .1,1.8 .2,1.7 .2,2 .2,1.7 .3,.5 .3-1.1 .2-1.6 .2-2.3 .1-1.3 .1-2 .2-2.2 .1-1.5 .1-1.5 .1-2.2 .1-1.5 .2-2 .1-2 .1-1.3 .2-2 .1-2 .1-1.3 .2-2.1 .1-2.1 .1-1.5 .1-1.5 .2-2.4 .1-1.6 .1-1.7 .1-1.9 .1-2 .1-2.2 0-1.1 .1-2.4 .1-1.3 0-1.4 .1-2.7 .1-1.4 0-1.4 .1-2.9 .1-1.4 0-1.5 .1-1.4 .1-2.9 0-1.4 .1-1.4 0-1.4 .1-2.7 .1-1.3 .1-2.6 0-1.3 .1-1.2 .1-2.5 0-1.3 .1-2.6 .1-1.3 0-1.3 .1-2.7 .1-1.4 0-1.5 .1-1.5 .1-3.1 0-1.6 .1-1.6 0-1.7 .1-1.7 0-1.7 .1-1.8 0-1.7 .1-1.8 0-1.8 .1-1.7 0-1.8 .1-1.8 0-1.8 .1-1.7 0-1.8 .1-1.8 0-1.7 .1-1.8 0-1.8 .1-1.8 0-1.8 .1-1.8 0-1.8 .1-1.8 0-1.8 .1-1.8 0-1.8 .1-1.7 0-1.8 .1-1.7 .1-3.3 0-1.6 .1-1.5 0-1.5 .1-1.3 .1-2.6 0-1.3 .1-2.2 .1-1.1 .1-2.1 .1-1.9 .1-1.8 .1-1.7 .1-1.7 .1-1.7 .1-1.6 .1-2.3 .1-1.6 .1-1.5 .2-2.2 .1-1.4 .1-2 .1-1.4 .2-1.9 .1-1.8 .2-1.7 .2-2.1 .1-1.5 .2-1.9 .2-1.8 .3-1.8 .3-1.6 .2-.3 .5,1.2 .3,2 .2,1.7 .2,1.8 .2,2 .1,1.5 .2,2.3 .2,1.7 .1,1.9 .1,1.2 .2,2 .1,2 .1,1.5 .2,2.2 .1,1.6 .1,1.6 .1,1.8 .1,1.8 .1,1.8 .1,2 .1,2 .1,2.2 0,1.1 .1,2.2 .1,1.2 .1,2.3 0,1.3 .1,2.4 .1,1.3 .1,2.6 0,1.3 .1,2.7 .1,1.3 0,1.4 .1,1.4 .1,2.9 0,1.5 .1,1.4 0,1.5 .1,2.9 .1,1.4 0,1.5 .1,1.4 .1,2.8 0,1.4 .1,1.3 .1,2.7 0,1.3 .1,1.2 .1,2.6 0,1.3 .1,2.5 .1,1.3 0,1.2 .1,2.5 .1,1.2 .1,2.5 0,1.2 .1,2.5 .1,1.2 .1,2.5 0,1.2 .1,2.4 .1,1.2 .1,2.4 0,1.1 .1,2.3 .1,1.2 .1,2.2 .1,2.1 0,1 .1,2 .1,1.9 .1,1.7 .1,1.6 .2,2 .1,1.8 .2,1.6 .2,1.9 .2,1.8 .2,1.9 .1,1.5 .2,2.1 .2,1.5 .2,2 .2,1.8 .2,1.5 .4,1.8 .1,.1 .4-1.5 .3-1.8 .3-1.7 .3-1.8 .3-1.8 .3-1.7 .3-1.8 .4-2 .3-1.8 .3-1.7 .3-1.8 .3-1.7 .3-1.8 .3-1.7 .3-1.8 .3-1.7 .3-1.8 .3-1.7 .3-2 .3-1.8 .3-1.7 .3-1.8 .3-1.7 .3-1.8 .3-1.7 .4-1.9 .3-1.6 .4-1.9 .3-1.6 .4-1.7 .5-1.9 .4-1.7 .4-1.8 .5-1.6 .6-1.7 .8-1.7 1.3-1 .2-.1 1,1.3 .5,1.7 .4,2 .3,1.8 .2,1.7 .3,1.9 .2,1.6 .2,1.6 .2,1.8 .2,1.9 .2,2 .1,1.6 .2,2.2 .2,1.7 .1,1.7 .2,1.7 .1,1.7 .2,1.7 .2,2.3 .1,1.7 .2,1.7 .1,1.7 .2,1.8 .1,1.7 .2,1.8 .1,1.7 .2,1.8 .1,1.7 .2,1.8 .2,2.3 .1,1.8 .1,1.2 .2,1.9 .1,1.8 .2,1.8 .1,1.9 .2,1.8 .1,1.8 .2,1.9 .1,1.8 .2,1.8 .1,1.9 .2,1.8 .1,1.8 .2,1.8 .1,1.8 .2,1.8 .1,2 .1,1.3 .2,2 .1,2 .1,1.3 .2,2 .1,1.9 .2,1.8 .1,1.8 .2,1.6 .2,2 .2,1.6 .2,1.6 .5,1.1 .2-.5 .5-1.8 .4-1.7 .4-1.9 .3-1.6 .4-1.7 .4-2 .3-1.6 .4-1.9 .4-1.6 .4-1.9 .3-1.7 .4-1.6 .4-1.9 .4-1.8 .4-1.7 .5-1.8 .6-1.6 .7-1.7 .7-1.6 .9-1.1 .2,.1 1.3,1.2 1.3,1.3 1.4,1.1 .7,.4 .8-.5 .8-1.6 .5-1.9 .4-1.7 .4-1.8 .3-1.7 .3-1.9 .2-1.7 .3-1.9 .3-1.7 .2-1.6 .3-2 .3-1.7 .2-1.6 .3-2.1 .3-1.6 .2-1.7 .3-2.1 .3-1.7 .2-1.7 .3-1.6 .3-2.1 .2-1.7 .3-1.7 .2-1.7 .3-2 .3-1.7 .2-1.7 .3-1.7 .3-2 .2-1.6 .3-1.7 .3-2 .2-1.6 .3-1.7 .3-2 .2-1.6 .3-2.1 .3-1.7 .2-1.8 .3-1.6 .3-1.8 .3-1.7 .6-1.7 .2,0 .6,1.5 .4,1.7 .4,1.9 .4,1.7 .3,1.8 .4,1.7 .3,1.8 .4,1.8 .3,1.6 .3,1.8 .4,1.8 .3,1.7 .4,1.8 .3,1.8 .4,1.8 .3,1.7 .4,1.7 .5,1.8 .5,1.2 .3-.3 .4-1.7 .3-1.8 .3-2 .3-1.9 .2-1.8 .3-1.7 .2-1.8 .3-1.8 .2-1.5 .2-1.9 .3-1.9 .2-1.9 .2-1.5 .3-2 .2-1.6 .2-1.7 .2-2.1 .2-1.7 .2-1.6 .3-2.1 .2-1.7 .2-1.6 .2-1.9 .3-1.9 .2-1.5 .3-2 .3-1.7 .3-1.7 .4-1.6 .7-1.8 .8-.8 .4,.3 .7,1.7 .4,1.7 .4,1.9 .2,1.7 .3,1.8 .2,2.1 .2,1.8 .2,1.4 .2,1.8 .2,1.9 .2,1.9 .2,2 .1,1.4 .2,2 .2,1.9 .2,1.5 .2,2 .2,1.9 .1,1.5 .2,1.9 .2,1.9 .2,1.5 .2,1.9 .2,1.9 .2,1.9 .1,1.4 .2,1.9 .2,1.9 .2,1.8 .2,1.7 .3,2 .2,1.4 .3,2.1 .3,1.8 .3,1.6 .3,1.6 .5,1.8 .5,1.8 .8,1.5 .8,.6 .8-.3 .7-.2 .8,.6 .8,1.6 .7,1.7 .6,1.6 .7,1.7 .6,1.7 .7,1.8 .7,1.6 .7,1.6 .7,1.7 .9,1.5 1.1,.9 .3,0 1.3-1.3 .9-1.6 .9-1.5 .8-1.6 .9-1.6 .9-1.6 1-1.4 1.2-.7 .4,0 1.5,1.1 1.2,.4 .4-.1 1.7-.6 1.1-1.5 .6-1.7 .4-1.8 .4-1.8 .4-1.8 .4-1.8 .4-1.5 .4-1.9 .4-1.8 .4-1.8 .3-1.6 .4-1.9 .4-1.6 .4-1.9 .4-1.8 .3-1.6 .5-1.8 .4-1.8 .5-1.6 .6-1.7 .6-1.7 .7-1.7 .6-1.6 .6-1.8 .7-1.6 .7-1.7 .9-1.5 1.5-.9 .1,0 1.5,.9 .9,1.5 .7,1.7 .6,1.6 .6,1.8 .4,1.7 .5,1.8 .4,1.8 .4,1.8 .4,1.7 .4,1.7 .4,1.9 .3,1.7 .4,1.8 .3,1.6 .3,1.8 .4,1.8 .3,1.8 .4,1.7 .4,1.7 .4,1.9 .5,1.8 .4,1.6 .5,1.7 .6,1.8 .5,1.7 .6,1.7 .7,1.6 .9,1.5 .8,.3 .9-.2 1.5-.9 1.3-1.1 .1,0 1.1,1.4 .9,1.6 .9,1.6 .9,1.5 1,1.5 1.1,1.5 1.1,1.4 1.1,1.3 1.3,1.4 1.3,1.2 1.3,1.2 1.2,.3 .5,0 1.3-1.2 .6-1.8 .5-1.7 .4-1.7 .3-1.8 .4-1.9 .3-1.8 .3-1.8 .2-1.5 .3-2 .3-1.6 .3-2 .2-1.6 .3-1.9 .3-1.9 .3-1.6 .3-1.9 .2-1.7 .3-1.9 .2-1.5 .2-2.2 .2-1.8 .2-1.4 .2-1.9 .2-1.9 .2-1.9 .2-1.9 .1-1.4 .2-2 .2-1.9 .2-1.5 .2-1.9 .2-1.9 .1-1.5 .2-1.9 .2-1.9 .2-1.9 .2-1.5 .2-1.9 .2-1.9 .2-2 .1-1.4 .2-1.9 .2-1.9 .2-1.9 .2-1.4 .2-1.8 .2-1.8 .2-1.8 .2-2.1 .2-1.5 .3-1.9 .2-1.7 .3-1.8 .4-1.7 .4-1.7 .8-1.1 .3,.2 .6,1.8 .5,1.8 .3,1.7 .4,1.9 .3,1.7 .3,1.9 .2,1.7 .3,1.7 .2,1.8 .3,1.8 .2,1.9 .2,1.6 .3,2.1 .2,1.7 .2,1.7 .2,1.7 .2,1.7 .2,2 .2,1.6 .3,1.8 .2,1.7 .3,2.1 .3,1.6 .3,1.9 .2,1.6 .3,1.8 .3,1.8 .3,1.8 .3,1.7 .4,1.9 .3,1.7 .3,1.6 .3,1.9 .4,1.7 .3,1.8 .4,1.9 .4,1.6 .4,1.8 .4,1.7 .4,1.8 .5,1.7 .5,1.8 .6,1.7 .6,1.5 .7,1.8 .7,1.7 .7,1.6 .7,1.6 .8,1.7 .7,1.6 .7,1.7 .8,1.6 .7,1.6 .8,1.6 .9,1.6 .9,1.5 .9,1.7 1.2,1 .1-.1 .9-1.5 .6-1.8 .4-1.8 .4-1.8 .4-1.6 .4-1.8 .4-1.9 .3-1.6 .4-1.9 .4-1.6 .4-1.9 .3-1.6 .4-1.9 .4-1.7 .4-1.9 .3-1.6 .4-1.7 .4-1.9 .4-1.8 .4-1.7 .4-1.7 .5-1.7 .5-1.7 .6-1.7 .6-1.7 1-1.4 0,0 1.2,1.2 .9,1.6 1.1,1.4 1.3,1.2 1.5,1 .2,0 1.2-.9 .9-1.5 .8-1.6 .9-1.6 1.1-1.4 1.3-1.3 .9-.5 .6,.5 .7,1.6 .5,1.8 .4,1.8 .4,1.7 .3,1.7 .4,1.8 .3,1.8 .4,1.9 .4,1.6 .4,1.9 .4,1.7 .4,1.6 .5,1.8 .4,1.8 .5,1.8 .4,1.7 .5,1.7 .5,1.8 .5,1.6 .7,1.7 .8,1.5 .8,.7 .6-.5 .7-1.7 .4-1.7 .4-1.7 .4-1.9 .4-1.7 .3-1.8 .4-1.9 .3-1.8 .2-1.5 .3-2 .3-1.7 .2-1.9 .6,0" stroke="#f7d73c" stroke-width="2.1"/>
<path d="M339,92.8l.2,0 .4-1.6 .4-.4 .6,1.1 .4,1.9 .3,1.7 .3,1.8 .2,2 .2,1.5 .3,2 .2,1.7 .2,1.7 .2,1.9 .2,1.9 .1,1.5 .2,2.1 .2,1.6 .1,1.8 .2,1.8 .1,1.9 .2,2 .1,1.3 .1,2 .2,2 .1,1.9 .1,1.4 .2,2 .1,2 .1,1.3 .2,2 .1,2 .2,2 .1,1.3 .1,2 .2,1.9 .1,1.4 .1,1.9 .2,2 .1,2 .1,1.3 .2,2 .1,1.9 .2,2 .1,1.3 .1,2 .2,1.9 .1,1.8 .2,1.8 .1,1.7 .2,1.6 .2,2 .1,1.5 .2,1.8 .2,1.8 .3,2 .2,1.5 .2,1.7 .3,1.9 .4,1.8 .4,1.6 .7,1.7 .4,.2 .9-.9 .8-1.6 .6-1.8 .6-1.6 .5-1.8 .4-1.7 .4-1.9 .3-1.8 .3-1.8 .3-1.8 .3-1.7 .3-1.8 .5-1.7 .5-.7 .5,.4 .5,1.7 .4,1.9 .4,1.9 .2,1.6 .3,1.9 .3,1.7 .2,1.7 .3,2 .3,1.8 .2,1.7 .3,1.8 .2,1.8 .3,1.8 .2,1.8 .2,1.5 .3,1.9 .2,1.9 .3,1.9 .2,1.5 .2,1.9 .1,1.7 .2,1.8 .1,1.9 .2,2 .1,1.9 .2,1.8 .1,1.7 .2,1.4 .3,2 .2,.3 .3-1.1 .2-2.2 .2-1.7 .1-2 .1-1.4 .2-2.3 .1-1.5 .1-1.5 .1-2.3 .1-1.4 .2-2.1 .1-2 .1-1.3 .2-2 .1-2.1 .1-1.4 .2-2.1 .1-1.4 .1-2.2 .1-1.6 .1-1.6 .2-2.4 .1-1.7 .1-1.9 0-1 .1-2.1 .1-2.3 .1-1.2 .1-2.6 0-1.3 .1-1.4 .1-2.8 0-1.4 .1-1.5 0-1.4 .1-2.9 .1-1.4 0-1.5 .1-1.4 .1-2.9 0-1.4 .1-1.3 .1-2.7 0-1.3 .1-1.3 .1-2.6 0-1.2 .1-2.6 .1-1.3 0-1.3 .1-2.6 .1-1.4 0-1.3 .1-2.9 .1-1.5 0-1.6 .1-1.6 0-1.6 .1-1.6 .1-3.4 0-1.8 .1-1.7 0-1.8 .1-1.8 0-1.8 .1-1.8 0-1.8 .1-1.8 0-1.8 .1-1.8 0-1.7 .1-1.8 0-1.8 .1-1.8 0-1.8 .1-1.8 0-1.9 .1-1.8 0-1.8 .1-1.9 0-1.8 .1-1.8 0-1.8 .1-1.8 0-1.7 .1-1.8 0-1.7 .1-1.7 0-1.6 .1-1.5 0-1.5 .1-1.4 .1-2.7 0-1.2 .1-2.4 .1-1.1 .1-2.1 .1-2 0-.9 .1-1.9 .1-1.8 .1-1.7 .2-2.6 .1-1.6 .1-1.6 .1-1.7 .1-1.5 .1-2.3 .1-1.5 .2-2.1 .1-1.4 .1-2 .2-1.9 .1-1.8 .2-1.7 .1-1.6 .2-2 .2-1.8 .2-1.6 .3-1.7 .3-.6 .4,1 .3,1.9 .2,1.7 .2,1.9 .2,1.5 .2,2.2 .1,1.7 .2,1.8 .1,1.9 .2,2 .1,1.3 .1,2.1 .1,1.5 .2,2.3 .1,1.6 .1,1.6 .1,1.7 .1,1.8 .1,1.9 .1,1.9 .1,2.1 .1,2.1 0,1.1 .1,2.2 .1,1.2 .1,2.3 0,1.2 .1,2.5 .1,1.3 .1,2.5 0,1.3 .1,2.7 .1,1.3 0,1.4 .1,1.4 .1,2.9 0,1.4 .1,1.5 0,1.5 .1,2.9 .1,1.5 0,1.5 .1,1.4 .1,3 0,1.4 .1,1.4 0,1.4 .1,2.7 .1,1.3 0,1.3 .1,2.6 .1,1.3 .1,2.6 0,1.3 .1,1.2 .1,2.6 0,1.2 .1,2.5 .1,1.3 .1,2.4 0,1.3 .1,1.2 .1,2.5 0,1.2 .1,2.4 .1,1.2 .1,2.4 0,1.2 .1,2.3 .1,1.1 .1,2.3 .1,2.1 0,1 .1,2 .1,1.9 .1,1.8 .1,1.6 .2,2 .1,1.8 .2,1.6 .2,2 .2,1.8 .2,1.9 .1,1.5 .2,2.1 .2,1.6 .2,2 .1,1.4 .3,1.9 .3,1.6 .2,.3 .4-1.4 .3-1.8 .3-1.7 .3-1.8 .3-1.7 .3-1.7 .3-1.8 .3-1.7 .4-2 .3-1.8 .3-1.7 .3-1.8 .3-1.7 .3-1.7 .3-1.8 .3-1.7 .3-2 .3-1.8 .3-1.7 .3-1.8 .3-1.7 .3-1.7 .3-1.8 .3-1.7 .3-1.8 .4-1.9 .3-1.8 .4-1.6 .4-1.8 .4-1.7 .4-1.9 .4-1.6 .5-1.8 .5-1.7 .6-1.7 1-1.5 1.3-.8 .1,0 .9,1.5 .5,1.9 .4,1.8 .3,1.8 .2,1.8 .3,1.8 .2,1.6 .2,2.1 .2,1.9 .2,1.4 .2,2 .1,1.6 .2,2.2 .2,1.7 .1,1.6 .2,1.7 .1,1.7 .2,2.3 .2,1.7 .1,1.7 .2,1.7 .1,1.7 .2,1.8 .1,1.7 .2,1.8 .1,1.7 .2,2.3 .2,1.8 .1,1.8 .2,1.8 .1,1.8 .2,1.8 .1,1.2 .1,1.9 .2,1.8 .1,1.9 .2,1.8 .1,1.9 .2,1.9 .1,1.8 .2,1.9 .1,1.8 .2,1.8 .1,1.9 .2,1.8 .1,1.2 .1,1.9 .2,2 .1,2 .1,1.4 .2,2 .1,2 .1,1.3 .2,2 .1,1.8 .2,1.7 .1,1.6 .2,1.9 .3,2 .3,1.6 .3,.5 .4-1 .4-1.9 .4-1.8 .4-1.6 .3-1.8 .4-1.7 .4-1.9 .3-1.7 .4-1.7 .4-2 .3-1.7 .4-1.7 .3-1.7 .4-1.9 .4-1.6 .4-1.8 .4-1.7 .6-1.7 .6-1.6 .7-1.8 .8-1.5 .4-.2 1.1,.8 1.3,1.1 1.4,1.2 1.1,.6 .5-.2 .9-1.6 .5-1.6 .5-1.9 .3-1.7 .4-2 .2-1.6 .3-1.9 .3-1.6 .3-1.9 .2-1.7 .3-1.9 .3-1.7 .3-2 .2-1.6 .3-1.7 .3-2 .2-1.7 .3-1.6 .3-2 .2-1.7 .3-1.7 .3-2 .2-1.7 .3-1.6 .3-2 .2-1.7 .3-1.6 .3-2 .2-1.7 .3-1.9 .3-1.7 .3-1.9 .2-1.6 .3-1.9 .3-1.6 .3-2 .2-1.7 .3-1.7 .3-1.9 .2-1.6 .4-1.8 .4-1.7 .4-.6 .5,.9 .5,1.8 .4,1.9 .3,1.7 .4,1.7 .3,1.8 .4,1.8 .3,1.8 .4,1.8 .3,1.8 .4,1.8 .3,1.5 .3,1.8 .4,1.7 .3,1.8 .4,1.9 .4,1.6 .4,1.9 .6,1.6 .1,.1 .6-1.6 .3-1.6 .3-2 .3-1.8 .2-1.9 .3-1.8 .2-1.4 .2-1.9 .3-1.8 .2-1.9 .2-1.6 .3-1.9 .2-2 .2-1.6 .2-1.7 .2-1.7 .3-2.2 .2-1.7 .2-1.8 .2-1.8 .2-1.7 .2-1.8 .2-1.7 .2-1.7 .2-2.1 .2-1.6 .3-1.8 .2-1.7 .3-1.9 .3-1.6 .4-1.7 .6-1.7 .8-.9 .4,.2 .7,1.8 .4,1.8 .3,1.7 .2,1.7 .3,1.9 .2,1.7 .2,1.9 .2,1.9 .2,1.9 .1,1.5 .2,2 .2,1.5 .2,2.1 .2,2 .1,1.5 .2,2.1 .2,1.5 .2,2 .1,1.5 .2,2 .2,1.5 .2,2 .2,2 .1,1.4 .2,2 .2,1.9 .2,1.5 .2,1.9 .2,1.9 .2,1.9 .2,1.7 .2,1.7 .2,1.6 .2,1.8 .3,1.9 .3,1.8 .3,1.6 .4,1.8 .5,1.8 .5,1.6 .8,1.6 .9,.5 .7-.1 .2,0 1.2,.9 .7,1.7 .7,1.6 .7,1.8 .7,1.6 .7,1.7 .8,1.6 .7,1.6 .8,1.6 .9,1.5 1.3,1.1 1.4-1.2 .9-1.5 .8-1.6 .8-1.6 .8-1.7 .7-1.6 .9-1.5 1-1.5 1.1-.7 .4,.1 1.5,1.1 1.6,.6 .5,0 1.3-.2 1.1-1.5 .6-1.8 .4-1.6 .4-1.9 .4-1.7 .4-1.7 .4-1.7 .4-1.8 .4-1.7 .4-1.8 .4-1.8 .4-1.8 .4-1.6 .4-1.8 .4-1.8 .4-1.9 .5-1.7 .5-1.7 .5-1.6 .6-1.7 .7-1.7 .6-1.8 .6-1.6 .7-1.7 .7-1.7 .7-1.5 1.3-1.3 .9-.2 .8,.3 1.1,1.5 .8,1.5 .6,1.7 .6,1.9 .5,1.6 .4,1.7 .5,1.9 .4,1.7 .4,1.8 .4,1.8 .3,1.7 .4,1.7 .3,1.8 .4,1.9 .3,1.6 .3,1.8 .4,1.8 .3,1.7 .4,1.9 .4,1.7 .4,1.6 .5,1.8 .5,1.8 .5,1.7 .5,1.7 .5,1.8 .6,1.7 .6,1.6 1,1.4 .9,.3 .8-.1 1.5-1 1.1-.8 .4,.2 1,1.4 1,1.6 1.1,1.5 1.1,1.3 1.2,1.4 1.2,1.3 1.3,1.3 1.3,1.2 1.4,1.1 1.5,1.1 .8,.1 .9-.1 1-1.5 .6-1.8 .5-1.7 .4-1.8 .3-1.7 .4-1.9 .3-1.6 .3-1.8 .3-1.8 .3-1.8 .3-1.8 .3-1.9 .3-1.7 .3-1.8 .3-1.8 .2-1.6 .3-2.1 .2-1.4 .3-2 .2-1.8 .2-1.8 .2-1.9 .2-1.8 .1-1.5 .2-1.9 .2-2 .2-1.4 .2-2 .2-2 .1-1.5 .2-1.9 .2-2 .2-1.5 .2-1.9 .2-2 .1-1.5 .2-2 .2-1.5 .2-2 .2-2 .1-1.5 .2-2 .2-1.4 .2-2 .2-2 .1-1.4 .2-1.9 .2-1.9 .2-1.8 .2-1.8 .2-1.6 .3-1.9 .2-1.8 .3-1.6 .3-1.9 .4-1.7 .8-1.4 .9,1.6 .4,1.6 .4,2 .3,1.7 .3,1.8 .2,1.6 .3,2.1 .3,1.8 .2,1.5 .2,1.9 .3,1.9 .2,1.6 .2,1.7 .2,2.2 .2,1.7 .2,1.8 .2,1.7 .2,1.8 .2,1.6 .3,2 .2,1.8 .3,1.7 .2,1.7 .3,1.9 .3,1.6 .3,1.9 .3,1.8 .3,1.8 .3,1.7 .3,1.7 .3,1.9 .3,1.6 .4,1.9 .3,1.8 .4,1.8 .3,1.7 .4,1.6 .4,1.9 .4,1.8 .4,1.7 .4,1.6 .5,1.9 .5,1.6 .6,1.8 .6,1.6 .6,1.7 .7,1.7 .6,1.6 .7,1.7 .7,1.7 .7,1.6 .7,1.7 .7,1.6 .7,1.6 .7,1.7 .9,1.6 .8,1.5 .9,1.6 1.1,1.5 .6,.3 .7-.8 .6-1.7 .5-1.7 .4-1.9 .4-1.8 .4-1.6 .4-1.8 .3-1.6 .4-1.9 .4-1.7 .4-2 .3-1.7 .4-1.8 .3-1.8 .3-1.5 .4-1.8 .3-1.8 .4-1.8 .3-1.8 .4-1.7 .4-1.9 .4-1.7 .4-1.7 .5-1.6 .5-1.9 .5-1.6 .7-1.7 .7-.9 .5,.3 1,1.5 .9,1.6 1.1,1.4 1.1,1.4 1.3,1.2 .5,.2 1.1-.7 1-1.5 .8-1.6 1-1.5 1.2-1.2 1.5-1.1 .3-.1 1,1.2 .6,1.7 .4,1.8 .4,1.6 .4,1.9 .3,1.8 .4,1.7 .3,1.7 .4,1.8 .4,1.7 .5,1.8 .4,1.8 .5,1.7 .4,1.8 .5,1.6 .4,1.7 .5,1.8 .5,1.7 .6,1.7 .7,1.7 1,1.5 .6,.4 .7-.7 .6-1.8 .5-1.7 .4-1.7 .4-1.9 .3-1.7 .4-1.8 .3-1.6 .3-1.8 .3-1.8 .3-2 .2-1.7 .2-1.5 .1,0 .5,.1" stroke="#f9bf3d" stroke-width="2.1"/>
<path d="M339,92.5l.2,.1 .4-1.7 .4-.4 .5,1 .5,1.7 .3,2 .3,1.8 .2,1.5 .2,2 .3,2 .2,1.7 .2,1.7 .2,1.9 .2,1.9 .1,1.5 .2,2.1 .2,1.7 .1,1.7 .2,1.8 .1,2 .2,1.9 .1,1.4 .1,1.9 .2,2 .1,1.4 .1,1.9 .2,2 .1,2 .1,1.4 .2,2 .1,1.9 .1,1.4 .2,2 .1,1.9 .2,2 .1,1.3 .1,2 .2,1.9 .1,1.3 .1,2 .2,1.9 .1,2 .2,1.9 .1,1.3 .1,2 .2,1.9 .1,1.8 .2,1.8 .1,1.6 .2,1.6 .2,2 .2,1.9 .2,1.8 .2,1.7 .2,1.6 .2,1.8 .3,1.7 .3,1.8 .4,1.9 .4,1.5 1,1.3 .1,0 1-1.4 .8-1.7 .6-1.7 .5-1.7 .6-1.9 .3-1.6 .4-2 .3-1.8 .2-1.5 .3-1.8 .4-1.9 .3-1.7 .6-1.6 .3-.4 .7,1.2 .5,1.7 .3,1.7 .3,1.7 .3,1.9 .3,1.7 .3,2 .2,1.8 .3,1.7 .2,1.7 .3,1.8 .2,1.8 .3,1.8 .2,1.9 .2,1.5 .3,1.9 .2,1.9 .2,1.6 .3,1.9 .2,2 .2,1.5 .1,1.7 .2,1.9 .1,2 .2,2 .1,1.9 .1,1.3 .2,1.7 .2,2 .2,1.7 .3,.7 .3-1.1 .2-1.7 .2-2.2 .1-1.3 .1-2.1 .1-1.5 .2-2.3 .1-1.5 .1-2.2 .1-1.5 .2-2 .1-1.4 .1-2 .2-2 .1-1.3 .1-2.1 .2-2.1 .1-1.4 .1-2.3 .1-1.5 .1-1.6 .1-1.6 .2-2.5 .1-1.9 0-1 .1-2.1 .1-2.3 .1-1.2 .1-2.5 0-1.4 .1-1.3 .1-2.8 0-1.5 .1-1.4 0-1.4 .1-2.9 .1-1.5 0-1.4 .1-1.4 .1-2.9 0-1.4 .1-1.3 .1-2.7 0-1.3 .1-1.3 .1-2.5 0-1.3 .1-2.6 .1-1.2 0-1.3 .1-2.7 .1-1.3 0-1.4 .1-2.9 .1-1.5 0-1.5 .1-1.6 0-1.6 .1-1.7 .1-3.4 0-1.7 .1-1.8 0-1.8 .1-1.8 0-1.7 .1-1.8 0-1.9 .1-1.8 0-1.7 .1-1.8 0-1.8 .1-1.8 0-1.8 .1-1.8 0-1.8 .1-1.8 0-1.9 .1-1.8 0-1.8 .1-1.9 0-1.8 .1-1.8 0-1.8 .1-1.8 0-1.8 .1-1.7 0-1.8 .1-1.6 0-1.6 .1-1.6 0-1.5 .1-1.4 .1-2.7 0-1.2 .1-1.2 .1-2.3 .1-2.2 0-1 .1-2 .1-1.8 .1-1.8 .1-1.8 .1-1.7 .1-1.7 .1-1.7 .2-2.5 .1-1.6 .1-1.5 .1-2.3 .1-1.5 .1-1.4 .2-2.1 .1-1.9 .2-1.9 .1-1.8 .2-1.6 .1-1.6 .2-2 .2-1.7 .3-1.8 .4-1.3 .1,0 .5,1.9 .2,2 .2,1.8 .2,1.5 .2,2.2 .1,1.7 .2,1.8 .1,1.9 .1,1.3 .2,2 .1,2.1 .1,1.5 .2,2.3 .1,1.5 .1,1.7 .1,1.7 .1,1.7 .1,1.9 .1,1.9 .1,2 .1,2 0,1.1 .1,2.2 .1,2.3 .1,1.1 .1,2.4 0,1.3 .1,2.4 .1,1.3 0,1.3 .1,2.6 .1,1.4 .1,2.7 0,1.4 .1,1.4 0,1.4 .1,2.9 .1,1.5 0,1.5 .1,1.5 0,1.5 .1,3 .1,1.4 0,1.5 .1,1.4 .1,2.9 0,1.4 .1,1.4 .1,2.7 0,1.3 .1,1.3 .1,2.6 0,1.3 .1,1.3 .1,2.5 0,1.3 .1,2.5 .1,1.3 .1,2.5 0,1.2 .1,1.3 .1,2.4 0,1.3 .1,2.4 .1,1.2 .1,2.5 0,1.2 .1,2.3 .1,1.2 .1,2.3 0,1.1 .1,2.2 .1,2.1 .1,2 .1,.9 .1,1.9 .1,1.6 .1,2.2 .2,1.9 .1,1.7 .2,1.5 .2,1.8 .2,1.8 .2,2 .1,1.6 .2,2.1 .2,1.5 .2,1.9 .2,1.7 .2,1.6 .4,1 .3-.6 .3-1.8 .3-2 .3-1.8 .3-1.7 .3-1.8 .3-1.7 .3-1.7 .3-1.8 .3-1.7 .3-1.8 .3-1.7 .3-1.8 .4-2 .3-1.8 .3-1.7 .3-1.8 .3-1.7 .3-1.8 .3-1.7 .3-1.8 .3-1.7 .3-1.8 .3-1.7 .3-1.8 .3-1.9 .3-1.6 .4-2 .4-1.6 .4-1.7 .4-1.9 .4-1.6 .5-1.8 .4-1.7 .6-1.8 .8-1.6 1.1-1.3 .7-.3 .7,.7 .6,1.6 .4,1.8 .4,1.9 .2,1.6 .3,1.8 .2,1.9 .3,2 .2,1.8 .2,1.8 .1,1.5 .2,2 .2,1.6 .2,2.2 .1,1.7 .2,1.6 .1,1.7 .2,2.2 .2,1.7 .1,1.6 .2,1.7 .1,1.7 .2,1.7 .2,2.3 .1,1.7 .2,1.8 .1,1.7 .2,1.7 .1,1.8 .2,1.8 .1,1.8 .2,1.8 .1,1.8 .2,1.8 .1,1.9 .2,1.8 .1,1.8 .2,1.9 .1,1.8 .2,1.9 .1,1.8 .1,1.2 .2,1.9 .1,1.8 .2,1.8 .1,1.8 .2,2 .1,2 .1,1.3 .2,2 .1,2.1 .1,1.3 .2,1.9 .1,1.9 .2,1.8 .1,1.7 .2,2.1 .2,1.3 .2,1.9 .5,1.7 .1,0 .5-1.6 .4-1.7 .4-1.9 .4-1.7 .3-1.7 .4-1.8 .3-1.7 .4-1.9 .4-1.8 .3-1.7 .4-1.7 .4-1.9 .3-1.7 .4-1.7 .4-1.9 .4-1.7 .5-1.7 .5-1.6 .7-1.7 .7-1.7 .9-1.1 .2,0 1.3,1.3 1.3,1.2 1.2,1.4 1.1,.7 .4-.1 1-1.5 .5-1.7 .5-1.9 .3-1.7 .4-2 .2-1.5 .3-1.9 .3-1.9 .3-1.6 .3-1.9 .2-1.6 .3-1.9 .3-1.7 .3-1.9 .2-1.7 .3-1.9 .3-1.7 .2-1.7 .3-1.9 .3-1.7 .2-1.7 .3-1.9 .3-1.7 .3-2 .2-1.6 .3-1.7 .3-2 .2-1.6 .3-2 .3-1.6 .3-1.9 .2-1.6 .3-1.9 .3-1.6 .3-1.9 .2-1.7 .3-2 .3-1.7 .3-1.8 .3-1.7 .4-1.7 .5-1 .4,.4 .5,1.9 .4,1.8 .3,1.6 .4,1.7 .3,1.8 .4,1.8 .3,1.8 .4,1.7 .3,1.8 .4,1.8 .3,1.7 .4,1.8 .3,1.8 .4,1.7 .4,2 .3,1.6 .5,1.8 .5,1.6 .2,.3 .6-1.4 .3-1.9 .3-1.6 .2-1.8 .3-1.9 .2-1.8 .3-1.8 .2-1.5 .2-1.9 .3-1.9 .2-1.6 .2-1.9 .2-1.7 .3-2 .2-1.7 .2-1.8 .2-1.7 .2-1.8 .2-1.9 .2-1.8 .2-1.8 .2-1.9 .2-1.8 .2-1.8 .2-1.7 .2-1.8 .2-1.6 .2-2 .2-1.4 .3-2 .3-1.7 .4-1.7 .4-1.7 .9-1.6 .1,0 .9,1.2 .4,1.8 .4,1.8 .3,2 .2,1.5 .2,2.1 .2,1.8 .2,1.9 .2,1.5 .2,2 .1,1.5 .2,2 .2,2 .2,1.6 .2,2 .1,1.5 .2,2 .2,1.6 .2,2 .1,1.5 .2,2 .2,1.9 .2,1.5 .2,1.9 .2,1.9 .1,1.5 .2,1.9 .2,1.9 .2,1.9 .2,1.8 .2,1.8 .2,1.6 .2,1.6 .3,1.8 .3,2 .2,1.5 .4,1.8 .4,1.9 .4,1.6 .5,1.7 .7,1.6 1.3,.9 .2,0 .3,0 1.2,.7 .8,1.8 .6,1.6 .7,1.6 .6,1.7 .7,1.6 .8,1.8 .7,1.5 .7,1.7 .8,1.6 1,1.6 .9,.6 .6-.2 1.1-1.4 1-1.6 .8-1.6 .8-1.5 .8-1.7 .8-1.6 1-1.5 1.4-1 1.5,.9 1.4,1 1.7,.3 .1,0 1.4-1 .7-1.7 .5-1.7 .4-1.8 .5-1.8 .4-1.7 .4-1.7 .4-1.9 .4-1.7 .4-1.7 .4-1.8 .4-1.8 .4-1.6 .4-1.8 .4-1.7 .4-1.9 .5-1.7 .5-1.6 .6-1.8 .6-1.6 .6-1.7 .7-1.8 .6-1.6 .6-1.7 .7-1.6 .7-1.6 1.2-1.4 1.2-.4 .5,.2 1.3,1.3 .8,1.6 .7,1.7 .6,1.6 .5,1.7 .5,1.9 .4,1.7 .4,1.6 .5,1.9 .4,1.8 .3,1.6 .4,2 .4,1.7 .3,1.7 .4,1.8 .3,1.7 .4,1.8 .4,1.7 .5,1.8 .4,1.7 .5,1.8 .5,1.7 .5,1.6 .6,1.7 .5,1.7 .7,1.8 .8,1.5 1.5,.8 0,0 1.7-.4 1.4-1.1 0,0 1.2,1.3 .9,1.5 1,1.5 1,1.5 1.1,1.4 1.1,1.4 1.1,1.5 1.2,1.3 1.2,1.3 1.3,1.3 1.3,1.2 1.4,.4 .3,0 1.2-1.4 .6-1.6 .5-1.9 .4-1.7 .4-1.7 .3-1.8 .4-1.8 .3-1.7 .3-1.7 .3-1.8 .3-1.8 .3-1.7 .3-2 .3-1.8 .3-1.8 .3-1.6 .2-1.7 .3-1.9 .2-1.7 .2-1.7 .2-1.9 .2-1.9 .2-1.9 .2-1.9 .1-1.5 .2-1.9 .2-2 .2-1.5 .2-2 .1-1.5 .2-2 .2-1.9 .2-1.5 .2-2 .2-2 .1-1.5 .2-2 .2-1.5 .2-2 .1-1.5 .2-2 .2-1.5 .2-2.1 .2-2 .1-1.4 .2-2 .2-1.9 .2-1.5 .2-1.8 .2-1.8 .2-2 .2-1.6 .3-1.8 .2-1.6 .4-1.9 .4-1.7 .7-1.4 .1,0 .8,1.7 .4,1.9 .4,1.8 .3,1.7 .2,1.6 .3,2 .3,1.8 .2,1.9 .2,1.5 .3,2 .2,1.5 .2,2.1 .2,1.6 .2,1.8 .2,1.8 .2,1.7 .2,1.8 .2,1.7 .3,2.1 .2,1.6 .2,1.9 .3,1.7 .3,1.9 .2,1.6 .3,1.9 .3,1.8 .3,1.8 .3,1.7 .3,1.6 .4,1.9 .3,1.8 .4,1.8 .3,1.8 .4,1.6 .3,1.7 .4,1.8 .4,1.7 .5,1.9 .4,1.6 .5,1.9 .5,1.7 .5,1.7 .7,1.6 .7,1.7 .7,1.5 .7,1.7 .8,1.7 .8,1.6 .7,1.7 .7,1.5 .8,1.7 .7,1.6 .8,1.7 .8,1.5 .9,1.7 .9,1.5 .9,1.5 .8,.6 .6-.5 .7-1.8 .5-1.7 .5-1.8 .4-1.7 .4-1.7 .4-1.9 .4-1.6 .4-1.8 .4-1.8 .3-1.7 .4-1.9 .4-1.8 .3-1.7 .4-1.8 .3-1.8 .4-1.8 .3-1.7 .4-1.7 .3-1.6 .5-1.9 .4-1.8 .5-1.6 .5-1.8 .6-1.7 .6-1.6 .8-1 .4,.2 1,1.6 .8,1.5 1,1.5 1,1.5 1.1,1.5 1.3,.9 .1,0 1.4-1.2 .9-1.4 1.1-1.6 1.3-1.1 1.6-.9 .2,0 1,1.2 .6,1.8 .4,1.6 .4,1.9 .4,1.7 .3,1.8 .4,1.8 .3,1.7 .4,1.7 .4,1.9 .4,1.6 .5,1.9 .4,1.7 .5,1.8 .4,1.6 .5,1.7 .5,1.8 .5,1.8 .6,1.5 .7,1.7 1,1.5 .6,.3 .7-.9 .6-1.7 .5-1.8 .4-1.9 .3-1.7 .3-1.6 .4-1.9 .3-1.7 .3-1.8 .3-1.9 .2-1.6 .3-1.8 .2-1.9 .3-1.5 .5-.2" stroke="#f8a442" stroke-width="2.1"/>
<path d="M339,91.9l.2,.1 .4-1.7 .4-.4 .5,.9 .5,1.8 .3,2 .3,1.8 .2,1.5 .2,2 .2,1.6 .3,2.1 .2,1.8 .2,1.8 .1,1.5 .2,2 .2,1.6 .2,2.2 .1,1.8 .2,1.8 .1,1.9 .1,1.3 .2,2 .1,2 .1,1.4 .2,2 .1,2 .1,1.3 .2,2 .1,2 .1,1.4 .2,2 .1,2 .2,2 .1,1.3 .1,2 .2,1.9 .1,1.4 .1,1.9 .2,2 .1,2 .1,1.3 .2,1.9 .1,2 .2,2 .1,1.3 .1,1.9 .2,1.9 .1,1.7 .2,1.7 .1,1.7 .2,2 .2,2 .2,1.3 .2,2.2 .2,1.6 .3,1.9 .2,1.7 .3,1.5 .3,1.9 .5,1.7 .7,1.6 .4,.2 .9-.9 .8-1.7 .6-1.7 .6-1.6 .5-1.8 .4-1.7 .4-1.9 .3-1.7 .3-1.8 .3-1.8 .3-1.7 .3-1.8 .5-1.6 .5-.8 .5,.6 .6,1.8 .4,1.9 .3,1.6 .3,1.9 .2,1.6 .3,2.1 .3,1.7 .2,1.7 .3,1.7 .2,1.8 .3,1.8 .2,1.8 .3,1.9 .2,1.9 .2,1.5 .3,1.9 .2,1.9 .2,1.6 .3,1.9 .2,2 .1,1.7 .2,1.9 .1,1.9 .1,1.4 .2,1.9 .1,1.9 .2,1.8 .1,1.5 .3,2 .3,.8 .2-.5 .2-1.7 .2-2.2 .2-1.9 .1-1.3 .1-2.2 .1-1.5 .2-2.3 .1-1.5 .1-1.5 .1-2.1 .2-2 .1-1.3 .1-2.1 .2-2 .1-1.4 .1-2 .1-1.5 .2-2.2 .1-1.5 .1-2.3 .1-1.6 .1-1.7 .1-1.8 .1-1.9 .1-2.2 .1-1.1 .1-2.3 0-1.3 .1-2.6 .1-1.4 0-1.4 .1-2.8 .1-1.4 0-1.5 .1-1.4 .1-2.9 0-1.4 .1-1.5 0-1.4 .1-2.8 .1-1.4 0-1.3 .1-2.6 .1-1.3 0-1.3 .1-2.5 .1-1.3 .1-2.6 0-1.2 .1-2.7 .1-1.3 0-1.4 .1-1.5 .1-2.9 0-1.5 .1-1.6 0-1.7 .1-1.6 0-1.7 .1-1.7 0-1.7 .1-1.8 0-1.8 .1-1.8 0-1.8 .1-1.8 0-1.8 .1-1.8 0-1.8 .1-1.7 0-1.8 .1-1.8 0-1.8 .1-1.8 0-1.8 .1-1.8 0-1.9 .1-1.8 0-1.8 .1-1.9 0-1.8 .1-1.8 0-1.8 .1-1.8 0-1.8 .1-1.8 0-1.7 .1-1.7 .1-3.1 0-1.5 .1-1.4 0-1.4 .1-2.6 .1-1.2 .1-2.3 0-1.1 .1-2.1 .1-1.9 .1-1.9 .1-1.8 .1-1.8 .1-1.7 .1-1.8 .1-1.7 .1-1.6 .1-1.6 .1-1.6 .2-2.4 .1-1.5 .1-2.1 .1-1.4 .2-2.1 .1-1.9 .1-1.2 .2-2.3 .2-1.6 .1-1.5 .2-1.9 .2-1.7 .4-1.9 .2-.4 .4,1.1 .3,2 .2,1.8 .2,1.9 .2,1.6 .1,1.7 .2,1.8 .1,1.9 .2,1.9 .1,2 .1,1.4 .2,2.2 .1,1.5 .1,2.3 .1,1.6 .1,1.7 .1,1.7 .1,1.9 .1,1.8 .1,2 .1,2 .1,1.1 .1,2.2 .1,2.2 0,1.2 .1,2.3 .1,1.2 .1,2.5 0,1.3 .1,2.5 .1,1.3 0,1.4 .1,2.6 .1,1.4 0,1.4 .1,2.9 .1,1.4 0,1.5 .1,1.5 0,1.5 .1,2.9 .1,1.5 0,1.5 .1,1.5 .1,2.9 0,1.4 .1,1.5 0,1.4 .1,2.7 .1,1.3 0,1.3 .1,2.7 .1,1.2 0,1.3 .1,2.6 .1,1.3 .1,2.5 0,1.3 .1,2.5 .1,1.2 0,1.3 .1,2.4 .1,1.3 .1,2.4 0,1.2 .1,2.5 .1,1.2 .1,2.4 0,1.1 .1,2.3 .1,1.2 .1,2.2 .1,2.1 0,1 .1,2 .1,1.9 .1,1.8 .1,1.5 .2,2.1 .1,1.8 .2,1.6 .2,1.9 .2,1.8 .2,1.8 .1,1.5 .2,2.1 .2,1.6 .2,1.9 .2,1.8 .2,1.5 .4,1.8 .1,.1 .4-1.6 .3-1.7 .3-1.8 .3-1.8 .3-1.8 .3-1.8 .3-1.8 .3-1.7 .3-1.8 .3-1.8 .3-1.7 .3-1.8 .3-1.8 .3-1.7 .3-1.8 .3-1.8 .3-1.7 .4-2.1 .3-1.7 .3-1.8 .3-1.8 .3-1.7 .3-1.8 .3-1.7 .3-1.8 .3-1.6 .3-1.8 .4-1.9 .4-1.6 .4-1.9 .4-1.6 .5-1.8 .4-1.7 .5-1.7 .7-1.8 1-1.4 1.3-.8 .2,0 .9,1.6 .5,1.9 .3,1.8 .3,1.5 .3,2 .2,1.9 .2,1.5 .3,2.1 .2,1.9 .1,1.4 .2,2 .2,1.6 .2,2.1 .1,1.7 .2,1.6 .1,1.7 .2,2.2 .2,1.7 .1,1.7 .2,1.7 .1,1.6 .2,2.3 .2,1.7 .1,1.7 .2,1.8 .1,1.7 .2,1.7 .1,1.8 .2,1.8 .1,1.7 .2,1.8 .1,1.9 .2,1.8 .1,1.8 .2,1.9 .1,1.8 .2,1.8 .1,1.9 .2,1.8 .1,1.9 .2,1.8 .1,1.8 .2,1.9 .1,1.8 .1,1.2 .2,1.9 .1,1.9 .2,2 .1,1.4 .1,2 .2,2 .1,1.3 .1,2 .2,1.8 .1,1.8 .2,1.7 .2,1.9 .2,1.7 .3,1.8 .4,1 .3-.7 .4-1.6 .4-1.8 .3-1.7 .4-2 .3-1.5 .4-1.8 .4-2 .3-1.7 .4-1.8 .3-1.7 .4-1.8 .3-1.7 .4-1.7 .4-1.9 .3-1.7 .4-1.7 .5-1.7 .6-1.7 .7-1.7 .7-1.7 .8-.9 .4,.3 1.3,1.2 1.2,1.4 1.1,1.3 1.2,.9 .3-.1 1-1.5 .6-1.7 .4-1.8 .4-1.7 .3-1.7 .3-1.9 .3-1.8 .3-1.9 .2-1.6 .3-1.9 .3-1.6 .3-1.9 .2-1.6 .3-2 .3-1.6 .3-2 .2-1.7 .3-1.6 .3-2 .2-1.7 .3-1.7 .3-2 .2-1.6 .3-1.7 .3-2 .2-1.7 .3-1.6 .3-2 .2-1.7 .3-1.9 .3-1.7 .3-1.9 .2-1.6 .3-2 .3-1.6 .2-1.7 .3-2.1 .3-1.6 .2-1.7 .3-1.7 .4-1.8 .7-1.3 .2,.2 .5,1.8 .4,1.6 .4,1.9 .4,1.7 .3,1.7 .4,1.9 .4,1.8 .3,1.7 .4,1.7 .3,1.7 .4,1.8 .4,1.9 .3,1.8 .4,1.7 .3,1.7 .4,1.7 .5,1.8 .6,1.5 .1,0 .6-1.8 .3-1.8 .2-1.7 .3-1.8 .2-1.8 .3-1.8 .2-1.9 .3-1.8 .2-1.5 .2-1.9 .3-2 .2-1.6 .2-2 .2-1.6 .2-1.7 .2-1.8 .2-1.7 .2-1.8 .2-1.9 .2-1.8 .2-1.8 .2-1.9 .2-1.8 .2-1.7 .2-1.8 .2-1.7 .3-2.1 .2-1.5 .2-1.8 .3-1.9 .3-1.6 .4-1.8 .5-1.6 .8-1 .4,.3 .7,1.8 .3,1.6 .4,2.1 .2,1.7 .2,1.6 .3,2.2 .1,1.4 .2,2 .2,2 .2,1.5 .2,2 .1,1.5 .2,2.1 .2,1.5 .2,2.1 .1,1.5 .2,2.1 .2,1.5 .2,2 .1,1.5 .2,2 .2,1.5 .2,2 .2,1.9 .2,1.9 .1,1.5 .2,1.9 .2,1.9 .2,1.8 .2,1.4 .2,1.8 .2,2.1 .2,1.6 .3,1.8 .3,1.9 .3,1.8 .3,1.6 .4,1.8 .4,1.8 .5,1.5 .8,1.6 1.2,.9 .3,0 .2-.1 1.3,.9 .7,1.6 .7,1.7 .6,1.6 .7,1.8 .7,1.6 .7,1.6 .8,1.7 .7,1.6 .8,1.7 .9,1.5 1,.7 .4-.1 1.3-1.3 .9-1.5 .9-1.6 .8-1.6 .8-1.6 .9-1.6 1-1.5 1.2-.8 .3,.1 1.5,1 1.6,.7 .7,.1 1.1-.2 1.1-1.4 .6-1.8 .4-1.6 .5-1.9 .4-1.7 .4-1.7 .4-1.8 .4-1.7 .4-1.8 .4-1.8 .4-1.8 .3-1.6 .4-1.9 .4-1.6 .4-1.8 .4-1.7 .4-1.8 .5-1.8 .6-1.7 .6-1.6 .6-1.7 .6-1.7 .7-1.7 .6-1.7 .7-1.6 .7-1.6 1.1-1.4 1.3-.5 .4,.1 1.3,1.2 .9,1.7 .7,1.6 .6,1.8 .5,1.7 .5,1.7 .4,1.7 .5,1.8 .4,1.7 .4,1.9 .4,1.6 .4,1.9 .3,1.8 .4,1.7 .3,1.7 .4,1.7 .4,1.9 .4,1.7 .4,1.8 .5,1.7 .4,1.6 .6,1.9 .5,1.6 .5,1.7 .6,1.8 .6,1.7 .8,1.6 1.3,1 .4,0 1.4-.3 1.4-1.1 .3-.1 1,1 .9,1.5 .9,1.6 1,1.5 1,1.5 1,1.5 1,1.4 1.1,1.5 1.1,1.4 1.1,1.4 1.2,1.3 1.4,1.2 1.1,.3 .6-.1 1-1.6 .6-1.6 .5-1.9 .4-1.8 .3-1.7 .4-1.9 .3-1.6 .3-1.7 .3-1.8 .3-1.8 .3-1.8 .3-1.8 .3-1.8 .3-1.8 .3-1.8 .2-1.7 .3-1.7 .2-1.9 .2-1.7 .2-1.8 .2-1.9 .2-1.9 .2-1.5 .2-2 .2-2 .1-1.5 .2-2 .2-1.5 .2-2.1 .1-1.5 .2-2 .2-1.6 .2-2 .1-1.5 .2-2 .2-1.6 .2-2 .1-1.6 .2-2 .2-1.6 .2-2.1 .1-1.5 .2-2.1 .2-1.5 .2-2.1 .1-1.5 .2-2 .2-1.5 .2-2 .2-1.8 .2-1.8 .2-1.8 .2-1.6 .2-1.9 .3-1.7 .3-1.8 .3-1.7 .6-1.7 .4-.3 .6,1.2 .5,1.7 .3,1.8 .3,1.7 .3,1.9 .3,1.7 .2,1.8 .3,1.8 .2,2 .2,1.6 .3,2 .2,1.6 .2,1.7 .2,1.8 .2,1.8 .2,1.8 .2,1.8 .2,1.8 .2,1.7 .2,1.8 .2,2 .3,1.8 .2,1.8 .3,1.7 .2,1.6 .3,1.9 .3,1.9 .3,1.8 .3,1.7 .3,1.7 .3,1.6 .4,1.9 .3,1.8 .4,1.8 .3,1.7 .4,1.7 .4,1.8 .4,1.8 .4,1.7 .4,1.8 .5,1.7 .4,1.6 .6,1.7 .7,1.8 .7,1.6 .7,1.7 .8,1.6 .8,1.6 .8,1.6 .7,1.6 .8,1.7 .8,1.6 .8,1.6 .8,1.6 .8,1.6 .9,1.6 .9,1.5 1,1.5 .6,.3 .7-.8 .7-1.7 .5-1.7 .4-1.7 .5-1.8 .4-1.8 .4-1.7 .4-1.7 .4-1.7 .4-1.8 .4-1.9 .4-1.6 .4-2 .3-1.7 .4-1.7 .3-1.7 .4-1.9 .4-1.7 .4-1.7 .4-1.7 .5-1.8 .5-1.7 .5-1.7 .6-1.6 .7-1.7 .6-.6 .7,.6 .9,1.5 .9,1.6 1.1,1.5 1,1.4 1.3,1.2 .6,.2 1-.6 .9-1.5 .9-1.7 1-1.4 1.2-1.4 1.5-1 .2,0 1,1.1 .6,1.7 .5,1.8 .4,1.9 .3,1.7 .4,1.8 .3,1.6 .3,1.7 .4,1.9 .4,1.7 .4,1.7 .5,1.9 .4,1.6 .4,1.7 .5,1.8 .4,1.7 .5,1.8 .5,1.8 .6,1.7 .6,1.6 .9,1.6 .9,.8 .4-.3 .8-1.7 .4-1.6 .4-1.8 .4-1.9 .4-1.8 .3-1.6 .3-2 .3-1.7 .3-1.6 .3-2 .2-1.7 .3-1.9 .2-1.5 .6-.7" stroke="#f28452" stroke-width="2.1"/>
<path d="M339,92.5l.6-1.6 .4-.5 .5,.9 .5,1.7 .3,2 .3,1.8 .2,2 .2,1.5 .3,2 .2,1.7 .2,1.8 .2,1.8 .2,1.9 .1,1.5 .2,2.1 .2,1.7 .1,1.8 .2,1.8 .1,1.9 .2,2 .1,1.3 .1,2 .2,2 .1,1.3 .1,2 .2,2 .1,1.4 .1,2 .2,2 .1,2 .1,1.3 .2,2 .1,2 .1,1.3 .2,1.9 .1,2 .2,2 .1,1.3 .1,1.9 .2,2 .1,2 .1,1.3 .2,1.9 .1,2 .2,1.9 .1,1.8 .2,1.7 .1,1.7 .2,1.6 .2,2 .1,1.5 .2,1.8 .2,1.7 .3,2 .2,1.8 .3,1.7 .3,1.8 .3,1.7 .5,1.7 .8,1.5 .2,0 1-1.1 .8-1.6 .7-1.7 .6-1.7 .5-1.7 .4-1.8 .3-1.9 .3-1.8 .3-1.8 .3-1.7 .4-1.8 .4-1.7 .7-1.4 .9,1.6 .4,1.7 .3,1.9 .3,1.7 .3,1.9 .3,1.7 .2,1.7 .3,2.1 .3,1.7 .2,1.7 .3,1.8 .2,1.8 .3,1.8 .2,1.8 .2,1.5 .3,1.9 .2,1.9 .3,1.9 .2,1.5 .2,2.2 .2,1.6 .1,1.8 .2,2 .1,1.9 .1,1.3 .2,1.9 .1,1.8 .2,2.1 .2,1.5 .4,1.1 .1-.3 .3-2.1 .2-1.5 .1-1.9 .2-2.1 .1-1.4 .1-2.3 .1-1.6 .1-1.5 .2-2.3 .1-1.5 .1-2 .1-1.4 .2-2.1 .1-2 .1-1.4 .2-2.1 .1-1.5 .1-2.2 .1-1.5 .1-1.6 .2-2.4 .1-1.7 .1-1.8 .1-1.8 .1-2.1 0-1.1 .1-2.3 .1-1.2 .1-2.6 0-1.3 .1-1.4 .1-2.9 0-1.4 .1-1.4 0-1.5 .1-2.9 .1-1.5 0-1.4 .1-1.5 .1-2.8 0-1.4 .1-1.4 .1-2.7 0-1.3 .1-1.3 .1-2.6 0-1.3 .1-1.3 .1-2.5 0-1.4 .1-2.6 .1-1.4 0-1.4 .1-1.4 .1-3 0-1.6 .1-1.6 0-1.6 .1-1.7 0-1.7 .1-1.7 0-1.8 .1-1.7 0-1.8 .1-1.8 0-1.8 .1-1.8 0-1.8 .1-1.9 0-1.8 .1-1.8 0-1.8 .1-1.7 0-1.9 .1-1.8 0-1.8 .1-1.8 0-1.9 .1-1.8 0-1.9 .1-1.8 0-1.9 .1-1.8 0-1.8 .1-1.8 0-1.8 .1-1.8 0-1.7 .1-1.7 0-1.7 .1-1.5 .1-3 0-1.3 .1-1.4 .1-2.5 0-1.2 .1-2.2 .1-1.1 .1-2 .1-2 .1-1.8 .1-1.8 .1-1.8 .1-1.8 .1-1.7 .1-1.7 .1-1.7 .1-1.6 .1-2.4 .1-1.5 .1-1.5 .2-2.2 .1-1.4 .1-2 .2-1.9 .1-1.8 .2-1.7 .1-1.6 .2-2 .2-1.8 .3-1.7 .4-1.4 .1,0 .5,2 .2,1.6 .2,1.8 .2,2.1 .1,1.6 .2,1.8 .1,1.8 .2,1.9 .1,2 .1,1.4 .2,2.2 .1,1.4 .1,2.3 .1,1.6 .1,1.7 .1,1.7 .1,1.8 .1,1.8 .1,1.9 .1,2 .1,2.1 .1,1 .1,2.2 .1,2.3 0,1.2 .1,2.4 .1,1.2 .1,2.5 0,1.2 .1,1.3 .1,2.7 0,1.3 .1,2.7 .1,1.4 0,1.4 .1,1.5 .1,2.9 0,1.5 .1,1.5 0,1.5 .1,1.5 .1,3 0,1.5 .1,1.5 0,1.4 .1,1.5 .1,2.9 0,1.4 .1,1.4 .1,2.7 0,1.3 .1,1.4 .1,2.6 0,1.3 .1,1.3 .1,2.6 0,1.3 .1,2.5 .1,1.3 0,1.2 .1,2.6 .1,1.2 .1,2.5 0,1.2 .1,2.5 .1,1.3 .1,2.4 0,1.2 .1,2.4 .1,1.2 .1,2.3 0,1.1 .1,2.2 .1,1.1 .1,2.1 .1,1.9 .1,1.9 .1,1.7 .1,1.5 .1,2 .2,1.7 .1,1.6 .2,1.9 .2,1.8 .2,2 .2,1.6 .2,2.1 .1,1.6 .2,1.5 .2,1.8 .2,1.9 .4,1.6 .1,0 .5-1.7 .3-1.7 .3-1.8 .3-1.7 .3-2 .3-1.8 .3-1.7 .3-1.7 .3-1.8 .3-1.7 .3-1.8 .3-1.7 .3-1.8 .3-1.7 .3-1.8 .4-2.1 .3-1.7 .3-1.8 .3-1.7 .3-1.8 .3-1.8 .3-1.8 .3-1.7 .3-1.8 .3-1.7 .3-1.7 .3-1.8 .4-1.6 .4-1.9 .4-1.7 .4-1.8 .5-1.8 .4-1.7 .5-1.7 .7-1.7 1-1.4 1.2-.7 .3,.2 .8,1.6 .5,1.8 .3,1.8 .3,1.8 .3,1.8 .2,1.8 .2,1.6 .3,2.2 .2,1.8 .1,1.4 .2,2.1 .2,1.6 .2,2.2 .1,1.6 .2,1.7 .1,1.7 .2,1.7 .2,2.2 .1,1.7 .2,1.8 .1,1.7 .2,1.7 .1,1.7 .2,1.8 .1,1.7 .2,1.8 .1,1.8 .2,1.7 .1,1.8 .2,1.8 .1,1.9 .2,1.8 .1,1.9 .2,1.8 .1,1.9 .2,1.9 .1,1.9 .2,1.8 .1,1.3 .1,1.9 .2,1.8 .1,1.9 .2,1.9 .1,1.8 .2,1.8 .1,1.9 .1,1.3 .2,2.1 .1,2 .1,1.4 .2,2 .1,2 .1,1.4 .2,1.9 .1,1.9 .2,1.7 .1,1.7 .2,1.9 .2,1.6 .3,1.7 .4,.8 .3-.9 .5-1.8 .4-1.9 .3-1.7 .4-1.7 .3-1.8 .4-1.8 .3-1.8 .4-1.8 .3-1.6 .3-1.8 .4-1.8 .3-1.8 .4-1.8 .3-1.8 .4-1.7 .3-1.7 .5-1.7 .5-1.7 .5-1.7 .6-1.7 .7-1.7 .7-1 .5,.2 1.5,1 1.4,1.1 1.5,1 1.2-1.2 .7-1.8 .4-1.7 .4-1.8 .4-1.9 .3-1.8 .2-1.6 .3-1.8 .3-1.9 .3-1.9 .3-1.5 .3-1.9 .2-1.6 .3-1.9 .3-1.9 .3-1.6 .3-2 .2-1.6 .3-1.9 .3-1.6 .3-1.9 .2-1.6 .3-2 .3-1.9 .3-1.6 .3-1.9 .2-1.6 .3-1.9 .3-1.8 .3-1.6 .3-1.8 .3-1.9 .3-1.8 .2-1.6 .3-1.9 .3-1.9 .3-1.6 .3-1.9 .3-1.7 .3-1.6 .7-1.5 .1,.1 .6,1.6 .5,2 .3,1.6 .4,1.8 .3,1.7 .4,1.8 .3,1.7 .4,1.8 .3,1.7 .4,2 .4,1.8 .3,1.7 .4,1.7 .3,1.8 .4,1.6 .4,1.8 .4,1.9 .5,1.6 .3,.4 .5-1.3 .4-1.8 .2-1.6 .3-1.8 .2-1.9 .3-1.9 .2-1.8 .3-1.9 .2-1.5 .2-1.9 .2-1.6 .3-2 .2-1.6 .2-2.1 .2-1.7 .2-1.7 .2-1.8 .2-1.8 .2-1.8 .2-1.9 .2-1.8 .2-1.9 .2-1.4 .2-1.8 .2-1.8 .2-1.7 .2-2.2 .2-1.6 .3-1.9 .2-1.7 .3-1.5 .3-1.9 .5-1.8 .6-1.6 .5-.3 .7,1 .5,1.8 .3,1.8 .3,1.6 .2,1.9 .2,1.6 .2,1.8 .2,2 .2,2 .2,1.6 .2,2 .1,1.6 .2,1.6 .2,2.1 .1,1.6 .2,1.6 .2,2.2 .1,1.6 .2,2.1 .2,1.6 .1,1.5 .2,2.1 .2,1.6 .2,2 .1,1.5 .2,2 .2,2 .2,1.5 .2,2 .1,1.4 .2,2 .2,1.9 .2,1.8 .2,1.7 .2,1.6 .3,1.9 .2,1.7 .3,1.9 .3,1.6 .4,1.8 .4,1.7 .5,1.8 .6,1.6 1.2,1.3 .2,.1 .8-.1 .7,.2 1,1.6 .7,1.6 .8,1.6 .8,1.6 .9,1.7 .8,1.4 1,1.6 1,1.5 1.4,1 1.3-1.1 .9-1.5 .8-1.7 .8-1.6 .7-1.6 .8-1.7 .8-1.5 1-1.6 1.3-.8 .2,0 1.4,1.2 1.2,1.2 1.6,.8 .8,.1 .9-.4 .8-1.7 .5-1.8 .4-1.7 .5-1.8 .4-1.7 .4-1.7 .4-1.9 .4-1.7 .4-1.7 .4-1.8 .4-1.7 .4-1.8 .4-1.8 .3-1.6 .5-1.9 .4-1.6 .5-1.8 .5-1.7 .6-1.8 .6-1.6 .6-1.7 .6-1.7 .6-1.7 .7-1.7 .7-1.6 .9-1.5 1.6-.7 1.4,1 .9,1.5 .7,1.6 .6,1.8 .5,1.7 .4,1.7 .5,1.9 .4,1.7 .4,1.8 .4,1.8 .3,1.7 .4,1.7 .3,1.8 .4,1.9 .3,1.6 .3,1.9 .3,1.7 .4,1.8 .3,1.8 .4,1.6 .4,1.8 .4,1.7 .4,1.8 .5,1.7 .5,1.8 .5,1.7 .5,1.7 .5,1.7 .7,1.8 .8,1.5 1.1,.5 .5-.1 1.6-1 1-1.4 .6-.3 .9,.7 1.2,1.4 1.4,1.1 1.3,1.2 1.4,1.1 1.4,1.2 1.3,1.3 1.3,1.2 1.3,1.3 1.4,.9 1.1,.3 .6-.4 .8-1.7 .6-1.7 .4-1.7 .4-1.8 .4-1.7 .3-1.8 .4-1.8 .3-1.9 .3-1.7 .3-1.7 .3-1.7 .4-1.9 .3-1.8 .3-1.8 .3-1.9 .2-1.8 .2-1.6 .2-1.6 .2-1.9 .2-1.8 .2-1.9 .2-2 .2-1.4 .2-2 .2-2 .1-1.5 .2-2 .2-1.6 .2-2 .1-1.5 .2-2 .2-1.6 .2-2 .1-1.5 .2-2.1 .2-1.5 .2-2.1 .1-1.6 .2-2.1 .2-1.5 .2-2.1 .1-1.6 .2-1.6 .2-2 .1-1.6 .2-2 .2-1.5 .2-2 .2-1.9 .2-1.8 .2-1.7 .2-1.6 .2-1.9 .3-1.7 .3-1.8 .4-1.8 .6-1.5 .2-.1 .7,1.3 .5,1.8 .3,1.7 .3,1.8 .3,1.9 .3,1.7 .2,1.8 .3,1.9 .2,1.6 .2,2 .2,1.6 .3,2 .2,1.8 .2,1.8 .2,1.8 .2,1.8 .2,1.8 .2,1.8 .2,1.8 .2,1.7 .2,1.6 .2,1.8 .3,1.8 .2,1.7 .3,2 .3,1.7 .2,1.6 .3,1.9 .3,1.8 .3,1.8 .3,1.7 .3,1.8 .3,1.7 .4,1.9 .3,1.6 .3,1.9 .4,1.8 .3,1.8 .4,1.7 .3,1.7 .4,1.9 .4,1.5 .4,1.9 .5,1.8 .4,1.5 .6,1.9 .6,1.6 .6,1.7 .6,1.7 .7,1.7 .6,1.6 .7,1.7 .7,1.7 .7,1.6 .8,1.7 .7,1.5 .9,1.6 1,1.6 1,1.4 1.1,1.4 .8,.4 .7-.6 .6-1.7 .5-1.9 .4-1.7 .4-1.6 .4-1.9 .3-1.6 .4-2 .4-1.7 .3-1.7 .4-1.8 .3-1.8 .4-1.8 .3-1.7 .3-1.9 .3-1.6 .4-1.9 .3-1.7 .3-1.9 .3-1.5 .4-1.8 .3-1.8 .4-1.7 .5-1.9 .4-1.6 .6-1.8 .5-1.6 .6-1.8 .9-1.1 .2,.1 1.1,1.6 .7,1.6 .8,1.5 1,1.6 .9,1.6 1.1,1.4 .9,.5 .6-.3 1.1-1.4 1-1.6 1-1.5 1.2-1.3 1.3-1.1 .4-.2 1,1 .6,1.7 .5,1.8 .4,1.8 .3,1.7 .4,1.6 .4,2 .3,1.6 .5,1.8 .4,1.6 .4,1.8 .5,1.8 .4,1.7 .5,1.8 .5,1.7 .4,1.7 .5,1.8 .6,1.7 .6,1.7 .7,1.7 .9,1.4 .5,.3 .8-.9 .6-1.7 .5-1.9 .4-1.6 .4-1.8 .3-1.7 .4-2 .3-1.6 .3-1.7 .3-1.9 .3-2 .2-1.4 .1,.1 .5,.1" stroke="#df5c6f" stroke-width="2.1"/>
<path d="M339,91.4l.2,0 .4-1.6 .4-.4 .5,1 .5,1.8 .3,2 .3,1.9 .2,1.5 .2,2 .2,1.7 .2,1.6 .2,1.8 .2,1.8 .2,2 .2,2 .2,1.6 .1,1.7 .2,1.7 .1,1.9 .2,1.9 .1,2 .1,1.3 .2,2 .1,2 .1,1.4 .2,2 .1,2 .1,1.4 .2,2 .1,2 .1,1.4 .2,2 .1,2 .1,1.3 .2,2 .1,2 .2,2 .1,1.3 .1,2 .2,2 .1,1.3 .1,2 .2,2 .1,2 .1,1.3 .2,1.9 .1,1.9 .2,1.8 .1,1.8 .2,1.6 .1,1.6 .2,2.1 .2,1.8 .2,1.8 .2,1.7 .2,1.6 .3,1.8 .3,2 .3,1.7 .3,1.6 .5,1.7 .9,1.1 .3-.1 1-1.5 .7-1.7 .6-1.7 .6-1.6 .5-1.9 .3-1.7 .4-1.9 .3-1.8 .2-1.5 .4-2.1 .3-1.5 .4-1.8 .7-1.4 .1,0 .8,1.8 .4,1.7 .4,1.9 .3,1.7 .2,1.6 .3,2 .3,1.7 .2,1.8 .3,1.7 .2,1.7 .3,1.8 .2,1.8 .3,1.8 .2,1.9 .3,1.9 .2,1.5 .2,1.9 .3,1.9 .2,1.6 .2,2.2 .2,1.6 .1,1.8 .2,2 .1,1.9 .1,1.4 .2,1.9 .1,1.8 .2,1.6 .2,1.7 .4,1.5 .1-.1 .3-2.2 .2-1.5 .1-1.9 .2-2 .1-1.5 .1-2.2 .1-1.6 .1-1.5 .2-2.3 .1-1.4 .1-2 .1-1.4 .2-2 .1-2.1 .1-1.3 .2-2.1 .1-2.2 .1-1.4 .1-1.5 .2-2.4 .1-1.6 .1-1.6 .1-1.8 .1-1.8 .1-2.1 .1-2.2 0-1.1 .1-2.5 .1-1.3 0-1.4 .1-2.7 .1-1.5 0-1.4 .1-2.9 .1-1.4 0-1.5 .1-1.4 .1-2.9 0-1.4 .1-1.4 0-1.4 .1-2.8 .1-1.3 0-1.3 .1-2.6 .1-1.2 .1-2.6 0-1.3 .1-1.2 .1-2.7 0-1.3 .1-1.4 .1-2.8 0-1.4 .1-1.5 0-1.6 .1-3.2 .1-1.7 0-1.7 .1-1.7 0-1.7 .1-1.8 0-1.8 .1-1.8 0-1.8 .1-1.8 0-1.8 .1-1.8 0-1.8 .1-1.8 0-1.8 .1-1.7 0-1.8 .1-1.9 0-1.8 .1-1.8 0-1.9 .1-1.8 0-1.9 .1-1.8 0-1.8 .1-1.9 0-1.8 .1-1.8 0-1.8 .1-1.7 0-1.8 .1-1.6 0-1.7 .1-1.5 0-1.5 .1-1.5 .1-2.7 0-1.2 .1-2.4 .1-1.2 .1-2.1 0-1.1 .1-2 .1-1.8 .1-1.9 .1-1.8 .1-1.7 .1-1.8 .1-1.7 .1-1.7 .2-2.4 .1-1.6 .1-1.6 .1-1.5 .1-2.2 .1-1.4 .2-2.1 .1-1.9 .2-1.8 .1-1.8 .2-1.6 .1-1.6 .2-1.9 .2-1.6 .3-1.8 .3-.6 .4,1 .3,2 .2,1.8 .2,1.4 .2,2.1 .1,1.7 .2,1.8 .1,1.9 .2,1.9 .1,2 .1,1.4 .2,2.2 .1,1.5 .1,1.5 .1,2.5 .1,1.6 .1,1.8 .1,1.8 .1,1.9 .1,1.9 .1,1.1 .1,2 .1,2.2 0,1.1 .1,2.3 .1,2.4 .1,1.2 .1,2.5 0,1.2 .1,1.3 .1,2.6 0,1.3 .1,2.7 .1,1.4 0,1.4 .1,1.4 .1,2.9 0,1.5 .1,1.4 0,1.5 .1,3 .1,1.5 0,1.5 .1,1.5 0,1.4 .1,2.9 .1,1.4 0,1.4 .1,1.4 .1,2.7 0,1.3 .1,2.6 .1,1.3 0,1.3 .1,2.6 .1,1.2 .1,2.6 0,1.2 .1,1.3 .1,2.5 0,1.2 .1,2.5 .1,1.2 .1,2.5 0,1.2 .1,2.4 .1,1.2 .1,2.4 0,1.2 .1,2.3 .1,1.1 .1,2.2 .1,2.1 0,1.1 .1,2 .1,1.8 .1,1.8 .1,1.5 .2,2.1 .1,1.8 .2,1.6 .2,1.9 .2,1.7 .2,1.9 .1,1.5 .2,2.1 .2,1.5 .2,2 .2,1.8 .2,1.5 .4,1.7 .1,.1 .4-1.5 .3-1.8 .3-1.8 .3-1.8 .3-1.7 .3-1.8 .3-1.8 .3-1.8 .3-1.7 .3-1.8 .3-1.7 .3-1.8 .3-1.8 .4-2 .3-1.7 .3-1.8 .3-1.7 .3-1.8 .3-1.7 .3-1.8 .3-1.7 .3-2 .3-1.7 .3-1.8 .3-1.7 .4-1.8 .3-1.7 .4-1.6 .4-2 .4-1.6 .5-1.7 .5-1.9 .4-1.6 .6-1.7 .9-1.6 1.3-1.1 .4-.1 .9,1.1 .6,1.8 .3,1.6 .4,2 .2,1.7 .3,1.8 .2,1.9 .2,1.6 .2,1.8 .2,1.9 .2,1.9 .2,1.6 .2,2.1 .1,1.7 .2,1.7 .1,1.6 .2,2.3 .2,1.7 .1,1.6 .2,1.7 .1,1.7 .2,1.8 .1,1.7 .2,2.3 .2,1.7 .1,1.8 .2,1.7 .1,1.8 .2,1.7 .1,1.8 .2,1.8 .1,1.8 .2,1.9 .1,1.8 .2,1.9 .1,1.8 .2,1.9 .1,1.2 .1,1.9 .2,1.8 .1,1.9 .2,1.9 .1,1.8 .2,1.8 .1,1.8 .2,1.9 .1,1.9 .1,1.3 .2,2 .1,2.1 .1,1.3 .2,2.1 .1,1.9 .1,1.3 .2,1.9 .1,1.8 .2,2.2 .2,1.4 .2,1.7 .3,1.8 .4,1 .3-.7 .4-1.6 .4-1.8 .4-2 .3-1.7 .4-1.8 .3-1.6 .3-1.7 .4-1.8 .3-1.8 .4-1.8 .3-1.7 .4-1.8 .3-1.7 .4-2 .4-1.7 .4-1.7 .4-1.7 .6-1.7 .6-1.7 .7-1.7 .8-1.5 .3-.1 1.2,.9 1.3,1.3 1.2,1.3 1.3,1 .1,0 1.2-1.4 .6-1.8 .4-1.8 .4-1.6 .3-2 .3-1.5 .3-1.9 .3-1.9 .2-1.6 .3-2 .3-1.6 .3-1.9 .2-1.7 .3-1.6 .3-2 .2-1.7 .3-1.7 .3-2 .2-1.7 .3-1.7 .2-1.7 .3-2 .3-1.7 .2-1.7 .3-1.7 .3-2.1 .2-1.7 .3-1.7 .3-2 .2-1.6 .3-1.7 .3-2 .2-1.6 .3-1.7 .3-1.9 .2-1.7 .3-1.7 .3-2.1 .2-1.7 .3-1.6 .3-1.9 .4-1.6 .6-1.1 .3,.4 .5,1.7 .4,1.9 .4,1.6 .4,2 .3,1.7 .4,1.7 .3,1.7 .4,1.7 .4,2 .3,1.7 .4,1.8 .3,1.7 .4,1.8 .3,1.7 .4,1.9 .4,1.5 .4,1.8 .6,1.4 .2-.2 .5-1.9 .3-1.7 .3-1.7 .2-1.8 .3-1.8 .2-1.8 .3-1.8 .2-1.8 .3-1.9 .2-1.9 .2-1.5 .3-1.9 .2-1.6 .2-2.1 .2-1.7 .2-1.7 .2-1.8 .2-1.8 .2-1.8 .2-1.8 .2-1.8 .2-1.8 .2-1.7 .2-1.8 .2-1.7 .3-2.1 .2-1.5 .2-1.8 .3-1.7 .3-2 .4-1.6 .5-1.8 .9-1.2 .1,.1 .8,1.5 .4,1.9 .3,1.8 .3,1.6 .2,2 .2,1.7 .2,1.8 .2,2 .2,1.5 .2,2.1 .1,1.5 .2,2.1 .2,1.6 .2,2.1 .1,1.5 .2,1.6 .2,2.1 .1,1.6 .2,2.1 .2,1.5 .2,2.1 .1,1.5 .2,2 .2,1.5 .2,1.9 .2,2 .1,1.5 .2,1.9 .2,1.9 .2,1.9 .2,1.4 .2,1.8 .2,1.8 .2,1.9 .3,1.9 .2,1.6 .3,1.9 .3,1.6 .4,1.9 .4,1.6 .5,1.7 .7,1.7 1.2,1.1 .3,.1 .4,0 1,.4 .8,1.6 .7,1.6 .7,1.8 .7,1.6 .7,1.6 .8,1.7 .7,1.6 .8,1.6 .8,1.6 1.1,1.5 .7,.4 .8-.5 1.1-1.4 .9-1.6 .8-1.6 .7-1.6 .8-1.7 .8-1.5 .9-1.7 1.1-1.3 .6-.2 1,.4 1.6,.8 .7,0 1.1-.1 1.4-1.2 .7-1.7 .5-1.7 .4-1.7 .4-1.8 .4-1.7 .4-1.8 .4-1.8 .4-1.8 .3-1.6 .4-1.8 .4-1.9 .4-1.6 .4-1.9 .3-1.6 .4-1.7 .5-1.9 .4-1.7 .5-1.7 .6-1.7 .7-1.7 .6-1.7 .7-1.7 .6-1.6 .7-1.7 .8-1.6 1-1.4 1.2-.4 .5,.1 1.3,1.1 .9,1.6 .7,1.7 .6,1.7 .5,1.8 .5,1.7 .4,1.8 .4,1.7 .4,1.7 .4,1.8 .4,1.8 .4,1.7 .3,1.7 .4,1.8 .3,1.8 .4,1.8 .3,1.8 .4,1.7 .4,1.9 .4,1.7 .4,1.6 .5,1.9 .4,1.6 .5,1.7 .6,1.9 .5,1.6 .5,1.7 .7,1.7 .8,1.6 1.5,.6 .1,0 1.7-.5 1.3-1 .1,0 1.1,1.4 .9,1.5 1,1.5 1.1,1.5 1.1,1.5 1.1,1.4 1.1,1.4 1.2,1.4 1.2,1.3 1.3,1.2 1.5,.9 .5,.1 1.2-.4 .9-1.7 .6-1.8 .4-1.5 .4-1.9 .3-1.7 .4-1.9 .3-1.7 .3-1.8 .3-1.8 .3-1.8 .3-1.9 .2-1.6 .3-1.8 .3-1.8 .3-1.9 .3-1.6 .2-1.8 .3-1.9 .2-1.6 .2-2.2 .2-1.4 .2-1.9 .2-2 .1-1.5 .2-2 .2-1.6 .2-2 .1-1.6 .2-2 .2-1.6 .2-2.1 .1-1.6 .2-2 .2-1.6 .1-1.5 .2-2.1 .2-1.6 .2-2 .1-1.6 .2-2.1 .2-1.6 .1-1.6 .2-2.1 .2-1.6 .2-2 .1-1.6 .2-2.1 .2-1.5 .2-2 .1-1.5 .2-1.9 .2-1.9 .2-1.8 .2-1.6 .2-1.6 .3-1.8 .3-1.9 .3-1.9 .4-1.5 .6-.9 .5,.5 .5,1.8 .4,1.6 .3,2 .3,1.9 .3,1.7 .2,1.8 .2,1.5 .3,2 .2,1.6 .2,2 .2,1.7 .2,1.7 .2,1.8 .2,1.8 .2,1.8 .2,1.9 .2,1.9 .2,1.8 .2,1.8 .2,1.7 .2,1.7 .3,1.9 .2,1.8 .3,1.8 .2,1.7 .3,1.7 .3,1.9 .2,1.6 .3,1.8 .3,1.8 .3,1.7 .3,1.7 .4,2 .3,1.6 .3,1.9 .4,1.8 .3,1.7 .4,1.7 .4,1.9 .3,1.5 .4,1.8 .5,1.8 .4,1.7 .5,1.8 .6,1.7 .7,1.7 .6,1.6 .7,1.7 .7,1.6 .8,1.7 .7,1.5 .7,1.7 .8,1.7 .7,1.6 .7,1.7 .8,1.6 .8,1.6 .9,1.5 .8,1.6 1,1.6 .7,.4 .7-.7 .6-1.6 .5-1.7 .5-1.8 .4-1.8 .5-1.8 .4-1.7 .4-1.7 .4-1.7 .4-1.9 .4-1.8 .3-1.7 .4-1.8 .3-1.7 .4-1.8 .3-1.8 .4-1.7 .3-1.8 .4-1.6 .4-1.8 .4-1.8 .5-1.7 .5-1.7 .5-1.9 .6-1.7 .7-1.6 .5-.4 .8,.7 1,1.5 1.1,1.4 1.2,1.3 1.4,1.2 .6,.1 1-.6 .9-1.5 .8-1.7 .8-1.5 .9-1.5 1.2-1.4 1.4-1.1 .1,0 1.1,1.3 .5,1.7 .5,1.8 .3,1.7 .4,1.7 .3,1.8 .4,1.8 .3,1.7 .4,1.9 .4,1.7 .4,1.7 .5,1.9 .4,1.6 .4,1.9 .4,1.6 .5,1.7 .4,1.8 .5,1.8 .5,1.6 .6,1.8 .8,1.6 1,1.4 .2,0 .9-1.2 .6-1.7 .4-1.8 .4-1.9 .4-1.6 .3-1.8 .4-1.9 .3-1.7 .3-1.8 .3-1.9 .2-1.7 .3-1.8 .6-1.2 .1,0" stroke="#be3598" stroke-width="2.1"/>
<path d="M339,92l.2,0 .4-1.6 .4-.4 .5,1 .5,1.7 .3,2.1 .3,1.8 .2,1.6 .2,2 .2,1.6 .2,1.7 .2,1.7 .2,1.9 .2,1.9 .2,2 .2,1.6 .1,1.7 .2,1.8 .1,1.8 .2,1.9 .1,2 .1,1.3 .2,2 .1,2.1 .1,1.3 .2,2 .1,2.1 .1,1.3 .2,2 .1,2 .1,1.4 .2,2 .1,2 .2,2 .1,1.3 .1,2 .2,2 .1,1.3 .1,2 .2,2 .1,1.3 .1,2 .2,2 .1,1.9 .1,1.3 .2,2 .1,1.9 .2,1.8 .1,1.7 .2,1.7 .2,2.1 .1,1.5 .2,1.9 .2,1.7 .2,1.7 .3,1.9 .2,1.8 .3,1.7 .3,1.7 .4,1.8 .5,1.7 .8,.8 .5-.3 .9-1.6 .7-1.7 .6-1.7 .5-1.7 .5-1.7 .3-1.8 .4-1.9 .2-1.6 .3-1.8 .3-1.8 .4-1.8 .4-1.8 .7-1.5 0,0 .9,1.5 .4,1.9 .3,1.5 .4,2.1 .2,1.5 .3,2 .3,1.7 .2,1.7 .3,2 .3,1.7 .2,1.8 .3,1.8 .2,1.8 .3,1.9 .2,1.5 .2,1.9 .3,1.8 .2,1.6 .2,1.9 .2,1.8 .2,1.6 .1,1.8 .2,1.9 .1,2 .2,2 .1,1.9 .2,1.7 .1,1.5 .2,1.6 .4,1.2 .2-.6 .2-1.8 .2-2.1 .2-2 .1-1.4 .1-2.2 .1-1.5 .1-1.5 .2-2.3 .1-1.5 .1-2.1 .1-1.4 .2-2 .1-2.1 .1-1.3 .2-2.1 .1-1.4 .1-2.1 .1-1.5 .2-2.3 .1-1.5 .1-1.7 .1-1.6 .1-2.7 .1-.9 .1-2.1 .1-2.2 0-1.1 .1-2.5 .1-1.3 .1-2.7 0-1.4 .1-1.4 .1-2.9 0-1.4 .1-1.5 0-1.4 .1-1.5 .1-2.9 0-1.4 .1-1.4 .1-2.8 0-1.3 .1-1.4 .1-2.6 0-1.2 .1-1.3 .1-2.5 0-1.3 .1-2.6 .1-1.3 0-1.4 .1-2.7 .1-1.4 0-1.5 .1-1.5 .1-3.1 0-1.7 .1-1.6 0-1.7 .1-1.7 0-1.8 .1-1.7 0-1.8 .1-1.8 0-1.8 .1-1.8 0-1.8 .1-1.8 0-1.8 .1-1.8 0-1.8 .1-1.8 0-1.8 .1-1.8 0-1.8 .1-1.8 0-1.9 .1-1.8 0-1.9 .1-1.8 0-1.8 .1-1.9 0-1.8 .1-1.8 0-1.8 .1-1.7 0-1.8 .1-1.6 0-1.7 .1-1.5 0-1.5 .1-2.8 .1-1.3 0-1.3 .1-2.4 .1-1.1 .1-2.2 .1-2 .1-2 .1-1.8 0-.9 .2-2.7 .1-1.7 .1-1.7 .1-1.7 .1-1.7 .1-1.6 .1-1.6 .1-2.3 .1-1.5 .2-2.2 .1-1.4 .1-2 .2-1.9 .1-1.7 .2-1.7 .1-1.6 .2-2 .2-1.4 .2-1.9 .4-1.6 .1,0 .5,1.6 .3,1.9 .2,1.9 .2,2 .1,1.6 .2,1.7 .1,1.9 .2,1.9 .1,2 .1,1.3 .2,2.2 .1,1.4 .1,2.3 .1,1.6 .1,1.6 .1,1.7 .1,1.8 .1,1.8 .1,1.9 .1,2 .1,2 .1,2.1 .1,1.2 .1,2.2 0,1.2 .1,2.3 .1,1.3 .1,2.4 0,1.3 .1,2.6 .1,1.3 0,1.3 .1,2.7 .1,1.4 0,1.4 .1,2.9 .1,1.4 0,1.5 .1,1.5 0,1.5 .1,3 .1,1.5 0,1.4 .1,1.5 .1,3 0,1.4 .1,1.4 0,1.4 .1,2.8 .1,1.3 0,1.3 .1,2.6 .1,1.3 0,1.3 .1,2.6 .1,1.3 .1,2.5 0,1.3 .1,2.5 .1,1.2 0,1.3 .1,2.5 .1,1.2 .1,2.5 0,1.2 .1,2.4 .1,1.3 .1,2.3 0,1.2 .1,2.3 .1,1.2 .1,2.2 .1,2.1 0,1.1 .1,2 .1,1.8 .1,1.8 .1,1.6 .2,2 .1,1.8 .2,1.6 .2,1.9 .1,1.4 .2,1.8 .2,2 .2,1.6 .2,2.1 .1,1.5 .2,1.8 .3,2 .3,1.5 .2,.4 .4-1.5 .3-1.8 .3-1.8 .3-1.7 .3-1.8 .3-1.7 .3-1.8 .3-1.8 .3-1.7 .3-1.8 .3-1.7 .3-1.7 .3-1.8 .4-2 .3-1.7 .3-1.8 .3-1.7 .3-1.7 .3-1.8 .3-1.7 .3-2 .3-1.7 .3-1.7 .3-1.8 .3-1.6 .4-1.9 .3-1.7 .4-1.8 .4-1.7 .5-1.8 .4-1.7 .5-1.7 .5-1.8 .6-1.6 .9-1.7 1.4-1 .2,0 1,1.2 .5,1.6 .4,1.9 .3,1.7 .3,2 .2,1.8 .2,1.5 .3,2.1 .2,1.8 .2,1.8 .1,1.5 .2,2.1 .2,1.6 .1,1.7 .2,2.2 .2,1.6 .1,1.7 .2,1.7 .1,1.7 .2,2.2 .2,1.7 .1,1.7 .2,1.7 .1,1.7 .2,1.8 .2,2.3 .1,1.7 .2,1.8 .1,1.7 .2,1.8 .1,1.8 .2,1.8 .1,1.8 .2,1.9 .1,1.8 .2,1.8 .1,1.3 .1,1.8 .2,1.9 .1,1.8 .2,1.8 .1,1.9 .2,1.8 .1,1.8 .2,1.8 .1,1.9 .2,1.9 .1,1.3 .1,2 .2,2 .1,1.4 .1,2 .2,1.9 .1,1.9 .2,1.8 .1,1.7 .2,1.5 .2,1.8 .2,1.8 .5,1.6 0,.1 .6-1.8 .4-1.8 .4-1.7 .3-1.7 .4-1.9 .3-1.6 .3-1.8 .4-1.8 .3-1.8 .4-1.8 .3-1.6 .3-1.8 .4-1.8 .3-1.8 .4-1.8 .3-1.7 .4-1.7 .5-1.7 .5-1.7 .7-1.8 .6-1.6 .8-1.6 .3-.1 1.2,.9 1.3,1.3 1.2,1.3 1.4,1 0,0 1.2-1.4 .6-1.7 .4-1.7 .4-1.9 .3-1.7 .3-1.8 .3-1.9 .3-1.8 .3-1.6 .3-1.9 .2-1.6 .3-1.9 .3-1.7 .3-1.9 .2-1.7 .3-1.9 .3-1.7 .2-1.7 .3-1.9 .3-1.7 .2-1.7 .3-2 .3-1.6 .3-2 .2-1.7 .3-1.7 .3-1.9 .2-1.7 .3-1.6 .3-2 .2-1.6 .3-2 .3-1.6 .3-1.9 .2-1.6 .3-2 .3-1.7 .2-1.7 .3-1.9 .3-1.8 .4-1.6 .7-1.4 .1,0 .6,1.8 .4,1.9 .4,1.6 .3,1.7 .4,2 .4,1.8 .3,1.7 .4,1.7 .3,1.8 .4,1.8 .3,1.7 .4,1.8 .3,1.8 .4,1.7 .3,1.8 .4,1.6 .4,1.9 .5,1.6 .3,.6 .5-1.1 .4-1.7 .3-1.9 .2-1.8 .3-1.8 .2-1.7 .3-1.8 .2-1.8 .3-1.8 .2-1.5 .2-1.9 .3-1.9 .2-1.6 .2-2 .2-1.7 .2-1.7 .2-1.7 .2-1.8 .2-1.8 .2-1.8 .2-1.8 .2-1.8 .2-1.8 .3-2.1 .2-1.8 .2-1.6 .2-1.6 .2-1.9 .3-1.7 .3-1.8 .3-1.8 .5-1.8 .6-1.5 .5-.3 .7,.9 .5,1.8 .3,1.8 .3,1.9 .3,1.9 .2,1.6 .2,1.9 .2,1.9 .1,1.5 .2,2 .2,1.6 .2,2 .1,1.6 .2,2.1 .2,1.5 .2,2.1 .1,1.6 .2,1.5 .2,2.1 .1,1.5 .2,2.1 .2,1.5 .2,2 .2,1.9 .1,1.5 .2,1.9 .2,1.9 .2,2 .2,1.4 .2,1.8 .2,1.9 .2,1.8 .2,1.7 .2,1.9 .3,1.8 .2,1.6 .3,1.8 .4,1.8 .3,1.6 .5,1.8 .5,1.7 .9,1.6 .9,.6 .6-.1 .4-.1 1.1,.8 .8,1.7 .7,1.6 .7,1.7 .8,1.6 .8,1.7 .8,1.6 .8,1.6 .8,1.5 1,1.5 .9,.5 .6-.3 1.2-1.4 .9-1.5 .8-1.7 .8-1.5 .8-1.7 .8-1.6 .9-1.5 1.2-1.3 .4-.1 1.2,.7 1.5,.9 1.3,.2 .5-.1 1.4-.9 .8-1.8 .4-1.7 .4-1.7 .5-1.9 .4-1.7 .4-1.7 .4-1.8 .4-1.7 .4-1.8 .4-1.8 .4-1.8 .3-1.6 .4-1.8 .4-1.7 .5-1.9 .4-1.6 .5-1.8 .6-1.6 .6-1.7 .7-1.7 .7-1.6 .7-1.7 .7-1.6 .8-1.7 1-1.4 1.1-.5 .6,.1 1.3,1.2 .9,1.5 .7,1.8 .6,1.7 .5,1.6 .5,1.9 .4,1.6 .5,1.8 .4,1.7 .4,1.8 .4,1.7 .4,1.9 .3,1.8 .4,1.7 .3,1.8 .4,1.8 .3,1.7 .4,1.6 .4,1.8 .4,1.9 .5,1.7 .4,1.7 .5,1.6 .6,1.8 .5,1.7 .6,1.8 .6,1.6 .8,1.6 1.4,1 0,0 1.7-.6 1.2-1.3 .8-.4 .7,.5 1,1.5 1,1.4 1.2,1.5 1.1,1.3 1.1,1.5 1.2,1.3 1.2,1.4 1.2,1.3 1.3,1.3 1.4,1.1 .9,.2 .8-.2 1-1.4 .6-1.8 .5-1.7 .4-1.8 .3-1.7 .4-1.8 .3-2 .3-1.7 .3-1.8 .3-1.8 .3-1.5 .3-1.8 .3-1.8 .3-1.8 .3-1.9 .3-1.9 .2-1.8 .2-1.5 .3-2 .2-1.8 .2-1.9 .1-1.4 .2-2 .2-2 .2-1.5 .2-2 .1-1.5 .2-2.1 .2-1.5 .2-2 .1-1.6 .2-2 .2-1.6 .2-2 .1-1.5 .2-2.1 .2-1.5 .2-2.1 .1-1.5 .2-2.1 .2-1.5 .2-2.1 .1-1.6 .2-2 .2-1.6 .2-2 .1-1.5 .2-2 .2-1.5 .2-1.9 .2-1.8 .2-1.8 .2-1.7 .2-1.9 .3-1.8 .3-1.8 .3-1.6 .5-1.8 .5-.7 .5,.7 .5,1.8 .4,1.7 .3,1.7 .3,1.9 .2,1.8 .3,1.8 .2,1.9 .2,1.6 .3,2.1 .2,1.6 .2,1.7 .2,1.8 .2,1.7 .2,1.9 .2,1.9 .2,1.8 .2,1.9 .1,1.5 .2,1.8 .2,1.8 .2,1.8 .3,2 .2,1.5 .2,1.8 .3,1.8 .2,1.7 .3,2 .3,1.6 .3,1.9 .2,1.6 .3,1.8 .4,2 .3,1.7 .3,1.7 .3,1.9 .3,1.6 .4,1.8 .3,1.7 .4,1.9 .4,1.6 .4,1.8 .4,1.7 .4,1.8 .5,1.7 .5,1.7 .7,1.7 .6,1.6 .8,1.8 .7,1.6 .8,1.6 .8,1.6 .8,1.6 .8,1.6 .8,1.6 .8,1.7 .9,1.5 .9,1.5 1,1.5 1,1.5 1,.8 .4-.3 .8-1.6 .5-1.9 .5-1.7 .4-1.7 .4-1.9 .4-1.7 .4-1.7 .4-1.8 .4-1.6 .4-1.9 .3-1.7 .4-1.8 .3-1.8 .4-1.8 .3-1.8 .4-1.8 .3-1.7 .4-1.8 .3-1.7 .4-1.8 .4-1.6 .5-1.8 .5-1.7 .5-1.7 .6-1.7 .7-1.6 .5-.4 .9,.8 .9,1.5 1,1.5 1.2,1.3 1.3,1.3 .9,.4 .7-.3 1.1-1.5 .8-1.7 .8-1.5 1.1-1.5 1.3-1.2 1.1-.5 .5,.2 .8,1.6 .5,1.7 .4,1.8 .4,1.9 .3,1.6 .3,1.9 .4,1.9 .3,1.5 .4,2 .3,1.6 .4,1.8 .4,1.8 .4,1.7 .4,1.7 .4,1.7 .5,1.9 .4,1.7 .4,1.8 .5,1.7 .5,1.7 .5,1.6 .7,1.7 1.1,1.4 .2,.1 .9-1.2 .5-1.7 .5-1.8 .4-1.8 .3-1.7 .4-2 .3-1.6 .3-1.7 .3-1.8 .3-2 .3-1.7 .2-1.8 .7-.9" stroke="#9222bd" stroke-width="2.1"/>
<path d="M339,91.9l.2,0 .4-1.6 .4-.5 .5,.9 .5,1.8 .3,2 .3,1.8 .2,1.5 .2,2 .2,1.6 .3,2.1 .2,1.7 .2,1.9 .2,1.9 .1,1.5 .2,2.1 .2,1.7 .1,1.8 .2,1.8 .1,1.9 .1,1.3 .2,2 .1,2 .2,2 .1,1.3 .1,2 .2,2 .1,1.4 .1,2 .2,2 .1,1.3 .1,2 .2,2 .1,2 .1,1.3 .2,2 .1,1.9 .1,1.3 .2,2 .1,2 .2,1.9 .1,1.3 .1,2 .2,1.9 .1,2 .1,1.3 .2,1.8 .1,1.8 .2,2.2 .2,1.6 .1,1.6 .2,1.9 .2,1.8 .2,1.7 .3,2 .2,1.5 .2,1.7 .3,1.9 .4,1.8 .4,1.7 .8,1.5 .3,.2 1-1 .8-1.6 .7-1.8 .6-1.7 .5-1.6 .4-1.8 .3-1.9 .3-1.8 .3-1.7 .3-1.7 .4-1.8 .4-1.7 .7-1.3 .2,.2 .7,1.8 .4,1.7 .3,1.7 .3,1.8 .3,1.9 .3,1.7 .2,1.8 .3,1.7 .2,1.7 .3,1.8 .2,1.8 .3,1.8 .2,1.9 .3,1.9 .2,1.9 .2,1.5 .3,1.9 .2,1.6 .2,1.9 .2,1.6 .2,2.1 .2,1.7 .1,1.9 .2,2 .1,1.3 .1,2 .2,1.8 .1,1.7 .2,1.9 .3,1.6 .2,.2 .3-1.4 .2-1.9 .2-1.8 .1-2 .1-1.4 .2-2.2 .1-1.6 .1-2.3 .1-1.5 .1-1.5 .2-2.1 .1-2 .1-1.4 .2-2 .1-1.4 .1-2.1 .1-1.4 .2-2.2 .1-1.5 .1-2.3 .1-1.6 .1-1.7 .1-1.7 .1-1.8 .1-2 .1-2.1 .1-1.1 .1-2.4 0-1.3 .1-2.6 .1-1.4 0-1.4 .1-2.9 .1-1.4 0-1.5 .1-1.4 .1-2.9 0-1.5 .1-1.4 0-1.5 .1-2.8 .1-1.4 0-1.3 .1-2.7 .1-1.3 0-1.3 .1-2.5 .1-1.3 .1-2.6 0-1.3 .1-1.3 .1-2.8 0-1.3 .1-1.5 0-1.5 .1-3 .1-1.6 0-1.7 .1-1.6 0-1.7 .1-1.8 0-1.7 .1-1.8 0-1.8 .1-1.8 0-1.8 .1-1.8 0-1.8 .1-1.8 0-1.8 .1-1.8 0-1.8 .1-1.8 0-1.8 .1-1.8 0-1.9 .1-1.8 0-1.9 .1-1.8 0-1.9 .1-1.8 0-1.9 .1-1.8 0-1.8 .1-1.8 0-1.8 .1-1.8 0-1.7 .1-1.7 0-1.7 .1-1.5 0-1.5 .1-2.8 .1-1.4 0-1.3 .1-2.4 .1-1.1 .1-2.2 .1-2 0-1 .1-1.9 .1-1.9 .1-1.8 .1-1.8 .1-1.7 .1-1.7 .2-2.6 .1-1.6 .1-1.6 .1-1.6 .1-2.3 .1-1.4 .2-2.2 .1-1.3 .1-2 .2-1.8 .1-1.8 .2-1.6 .1-1.6 .2-1.9 .2-1.7 .3-1.7 .3-.7 .4,1 .3,2.1 .2,1.7 .2,1.5 .2,2.1 .1,1.7 .2,1.7 .1,1.9 .2,2 .1,1.3 .1,2.1 .2,2.2 .1,1.5 .1,1.5 .1,2.5 .1,1.7 .1,1.7 .1,1.8 .1,1.9 .1,2 .1,1 .1,2.1 .1,2.2 0,1.1 .1,2.3 .1,1.2 .1,2.4 0,1.2 .1,2.6 .1,1.2 .1,2.7 0,1.3 .1,1.3 .1,2.8 0,1.4 .1,1.4 .1,2.9 0,1.5 .1,1.5 0,1.5 .1,1.4 .1,3 0,1.5 .1,1.5 0,1.5 .1,1.5 .1,2.8 0,1.4 .1,1.4 .1,2.7 0,1.3 .1,1.3 .1,2.7 0,1.3 .1,1.3 .1,2.5 0,1.3 .1,2.5 .1,1.3 0,1.2 .1,2.5 .1,1.3 .1,2.5 0,1.2 .1,2.5 .1,1.2 .1,2.4 0,1.2 .1,2.4 .1,1.2 .1,2.3 0,1.1 .1,2.2 .1,2.1 .1,1 .1,2 .1,1.8 .1,1.7 .1,2.2 .1,1.2 .2,2.3 .2,1.5 .2,1.9 .2,1.8 .1,1.5 .2,2 .2,1.6 .2,2.1 .1,1.5 .2,1.7 .3,2 .4,1 .2-.4 .4-1.9 .3-1.8 .3-1.7 .3-1.8 .3-1.7 .3-1.8 .3-1.7 .3-1.8 .3-1.7 .3-1.8 .3-1.7 .3-2.1 .3-1.7 .3-1.8 .3-1.8 .3-1.7 .3-1.8 .3-1.8 .3-1.7 .3-1.8 .3-1.8 .3-1.7 .3-1.8 .3-1.8 .3-1.7 .4-1.9 .3-1.5 .4-1.9 .4-1.8 .4-1.7 .4-1.8 .4-1.6 .5-1.7 .5-1.8 .7-1.6 1.1-1.5 1-.5 .5,.4 .7,1.8 .5,1.8 .3,1.7 .3,1.9 .2,1.7 .3,1.9 .2,1.6 .2,1.7 .2,1.9 .2,1.9 .2,2.1 .1,1.6 .2,1.6 .1,1.7 .2,2.2 .2,1.7 .1,1.7 .2,1.7 .1,1.7 .2,1.7 .2,2.3 .1,1.8 .2,1.7 .1,1.8 .2,1.7 .1,1.8 .2,1.8 .1,1.8 .2,1.8 .1,1.8 .2,1.8 .1,1.9 .2,1.8 .1,1.9 .1,1.3 .2,1.9 .1,1.9 .2,1.8 .1,1.9 .2,1.9 .1,1.3 .1,1.9 .2,1.8 .1,1.9 .2,1.8 .1,1.9 .2,2 .1,1.4 .1,2 .1,1.4 .2,2.1 .1,2 .1,1.4 .2,1.9 .1,1.9 .2,1.8 .1,1.6 .2,2 .2,1.6 .3,1.8 .4,.8 .3-.8 .5-1.8 .4-1.7 .3-1.7 .4-1.7 .4-1.9 .3-1.8 .4-1.7 .3-1.7 .4-1.7 .3-1.8 .4-1.9 .4-1.8 .3-1.7 .4-1.7 .4-1.8 .4-1.7 .5-1.7 .6-1.7 .6-1.7 .6-1.6 .9-1.2 .3,.1 1.5,1.1 1.4,1.1 1.4,1.1 .3,.1 1.1-1 .6-1.6 .5-1.8 .4-1.8 .4-1.9 .3-1.8 .2-1.6 .3-1.9 .3-1.6 .3-1.9 .2-1.6 .3-1.9 .3-1.7 .3-1.9 .2-1.7 .3-1.9 .3-1.7 .2-1.7 .3-1.9 .3-1.7 .3-2 .2-1.6 .3-1.7 .3-2 .2-1.6 .3-2 .3-1.6 .2-1.7 .3-1.9 .3-1.6 .3-1.9 .3-2 .2-1.5 .3-1.9 .3-1.6 .3-1.9 .2-1.7 .3-2 .3-1.6 .3-1.8 .3-1.8 .5-1.6 .3-.4 .6,1.3 .4,1.6 .4,1.8 .4,1.7 .4,2 .3,1.7 .4,1.8 .3,1.7 .4,1.7 .3,1.7 .4,1.8 .4,1.9 .3,1.8 .4,1.7 .3,1.6 .4,1.8 .5,1.9 .5,1.6 .3,.5 .5-1 .3-1.7 .3-2 .3-1.8 .2-1.5 .2-1.9 .3-1.8 .2-1.9 .2-1.6 .3-1.9 .2-1.9 .2-1.6 .3-2.1 .2-1.6 .2-1.7 .2-1.8 .2-1.8 .2-1.8 .2-1.8 .2-1.9 .2-1.8 .2-1.9 .1-1.4 .2-1.8 .2-1.9 .2-1.7 .2-1.8 .3-2.1 .2-1.5 .2-1.8 .3-1.7 .3-1.9 .4-1.6 .5-1.7 .8-1.1 .3,.3 .7,1.6 .4,1.8 .3,1.8 .2,1.7 .3,2 .2,1.8 .2,1.9 .1,1.5 .2,2 .2,1.6 .2,2.1 .1,1.6 .2,2.1 .2,1.6 .1,1.6 .2,2.1 .2,1.6 .1,1.6 .2,2.2 .2,1.5 .2,2.1 .1,1.6 .2,2 .2,1.6 .2,2 .1,1.5 .2,2 .2,1.5 .2,2 .2,1.9 .1,1.5 .2,1.9 .2,1.8 .2,1.7 .3,1.9 .2,1.9 .3,1.6 .3,1.8 .3,1.7 .3,1.7 .4,1.7 .5,1.7 .7,1.7 1.1,1.3 1.7,.7 .8,1.6 .7,1.7 .7,1.7 .7,1.6 .7,1.6 .8,1.6 .8,1.6 .9,1.6 .9,1.5 1.3,1 .1,0 1.3-1.2 .9-1.5 .8-1.6 .8-1.8 .7-1.6 .7-1.6 .8-1.6 .9-1.6 1.2-1.3 .3,0 1.3,.7 1.4,1.1 1.7,.5 .4,0 1.2-.6 .7-1.6 .5-1.8 .5-1.8 .4-1.7 .4-1.7 .4-1.9 .4-1.8 .4-1.7 .4-1.8 .4-1.6 .4-1.8 .3-1.7 .4-1.9 .4-1.8 .4-1.7 .4-1.7 .5-1.7 .5-1.7 .5-1.7 .6-1.7 .6-1.7 .6-1.8 .6-1.6 .6-1.7 .6-1.7 .7-1.7 1.1-1.4 1.3-.6 .3,.1 1.3,1.1 .9,1.6 .7,1.7 .5,1.7 .5,1.8 .5,1.7 .4,1.9 .4,1.7 .4,1.8 .4,1.6 .4,2 .3,1.7 .3,1.6 .4,1.9 .3,1.7 .3,1.9 .3,1.6 .4,1.8 .3,1.7 .4,1.9 .4,1.8 .4,1.7 .5,1.8 .4,1.7 .5,1.7 .4,1.6 .5,1.8 .6,1.8 .5,1.6 .8,1.7 1.4,.9 .4,0 1.4-.4 1.3-1.1 .1,0 1.2,1.2 1,1.5 1.2,1.3 1.2,1.3 1.3,1.3 1.3,1.2 1.3,1.3 1.4,1.2 1.3,1.2 1.4,1 1.1,.2 .7-.2 1-1.5 .6-1.8 .4-1.7 .4-1.7 .4-1.7 .3-1.8 .4-1.9 .3-1.6 .3-2 .3-1.8 .3-1.7 .3-1.7 .3-1.8 .3-1.7 .3-1.9 .3-1.7 .2-1.8 .3-2 .2-1.7 .2-1.9 .2-1.9 .1-1.4 .2-2 .2-2 .2-1.5 .2-2 .1-1.5 .2-2.1 .2-1.5 .2-2.1 .1-1.5 .2-2 .2-1.6 .2-2 .1-1.6 .2-2 .2-1.6 .1-1.6 .2-2.1 .2-1.6 .2-2.1 .1-1.6 .2-2.1 .2-1.5 .1-1.6 .2-2.1 .2-1.5 .2-2.1 .1-1.4 .2-2 .2-1.8 .2-1.8 .2-1.7 .3-1.9 .2-1.8 .3-1.5 .3-1.9 .5-1.7 .5-.6 .5,.6 .6,1.9 .4,1.9 .3,1.6 .3,1.8 .2,1.7 .3,1.7 .2,1.9 .3,1.9 .2,1.9 .2,1.6 .3,2 .2,1.7 .2,1.7 .2,1.8 .2,1.8 .2,1.7 .2,1.8 .2,1.7 .2,2 .2,1.6 .3,1.7 .3,2.1 .2,1.6 .3,1.9 .3,1.6 .3,1.8 .3,1.8 .3,1.7 .3,1.7 .3,2 .3,1.6 .4,1.9 .3,1.8 .3,1.6 .4,1.7 .4,2 .3,1.7 .4,1.8 .4,1.6 .4,1.8 .4,1.8 .5,1.7 .5,1.7 .5,1.7 .6,1.8 .6,1.7 .6,1.6 .6,1.7 .7,1.7 .6,1.7 .6,1.6 .7,1.7 .6,1.7 .7,1.6 .7,1.7 .7,1.7 .8,1.6 .9,1.6 .9,1.6 1.1,1.3 .3,.1 .9-1.1 .6-1.8 .4-1.7 .4-1.7 .4-1.7 .4-1.8 .4-1.8 .4-1.9 .4-1.6 .3-1.7 .4-2 .3-1.6 .4-1.8 .3-1.9 .3-1.6 .4-1.9 .3-1.8 .3-1.6 .4-1.8 .3-1.8 .4-1.9 .4-1.7 .5-1.7 .4-1.6 .6-1.8 .5-1.8 .7-1.6 .6-.6 .6,.5 1,1.5 .8,1.6 1,1.5 .9,1.5 1.1,1.5 1.2,.8 .3-.1 1.2-1.3 .9-1.6 .9-1.5 1.1-1.4 1.2-1.3 1.2-.8 .3,.1 1,1.7 .5,1.7 .4,1.8 .4,1.6 .4,1.8 .4,1.9 .4,1.8 .4,1.6 .4,1.7 .5,1.8 .5,1.6 .5,1.8 .5,1.7 .5,1.7 .5,1.9 .6,1.7 .6,1.6 .7,1.6 1.1,1.5 .5,.2 .7-.8 .6-1.7 .5-2 .4-1.7 .4-1.6 .4-2 .3-1.8 .3-1.6 .3-1.7 .3-1.8 .3-2 .3-1.7 .1-1.1 .5,.1 .1,0" stroke="#6f18c6" stroke-width="2.1"/>
<path d="M339,92.3l.6-1.6 .4-.5 .5,.9 .5,1.7 .3,2 .3,1.8 .2,1.9 .2,1.6 .3,2 .2,1.7 .2,1.7 .2,1.9 .2,1.9 .1,1.5 .2,2.1 .2,1.7 .1,1.7 .2,1.9 .1,1.9 .2,2 .1,1.3 .1,2 .2,2 .1,1.3 .1,2 .2,2 .1,1.4 .1,2 .2,2 .1,1.3 .1,2 .2,2 .1,1.9 .1,1.4 .2,1.9 .1,2 .2,2 .1,1.3 .1,2 .2,1.9 .1,1.3 .1,2 .2,1.9 .1,2 .2,1.9 .1,1.2 .1,1.8 .2,2.3 .2,1.6 .1,1.5 .2,1.9 .2,1.8 .2,1.8 .3,2 .2,1.4 .3,2.1 .2,1.5 .4,1.8 .4,1.7 .8,1.6 .3,.1 1-1 .8-1.6 .6-1.7 .6-1.7 .6-1.8 .3-1.6 .4-1.9 .3-1.8 .3-1.8 .3-1.7 .3-1.9 .4-1.6 .6-1.6 .2-.1 .8,1.4 .4,1.6 .4,1.8 .3,2 .3,1.6 .3,2 .2,1.7 .3,1.7 .2,1.7 .3,2 .3,1.8 .2,1.8 .2,1.5 .3,1.8 .2,1.9 .3,1.9 .2,1.9 .2,1.5 .3,1.9 .2,1.7 .2,2.1 .1,1.8 .2,1.9 .1,1.3 .1,2 .2,1.9 .1,1.8 .2,1.5 .2,1.8 .4,1.4 .1-.1 .3-1.8 .2-2 .1-1.9 .2-2.1 .1-1.4 .1-2.3 .1-1.5 .1-1.6 .2-2.3 .1-1.4 .1-2.1 .1-1.3 .2-2.1 .1-1.4 .1-2 .2-2.1 .1-1.5 .1-2.2 .1-1.5 .1-1.5 .2-2.5 .1-1.6 .1-1.8 .1-1.9 .1-2 0-1.1 .1-2.3 .1-1.2 .1-2.6 0-1.3 .1-1.4 .1-2.8 0-1.5 .1-1.4 0-1.5 .1-2.9 .1-1.4 0-1.5 .1-1.4 .1-2.9 0-1.4 .1-1.3 .1-2.7 0-1.3 .1-1.3 .1-2.6 0-1.3 .1-2.5 .1-1.3 0-1.3 .1-2.7 .1-1.3 0-1.4 .1-2.9 .1-1.5 0-1.6 .1-1.6 0-1.6 .1-1.7 0-1.7 .1-1.7 0-1.7 .1-3.6 .1-1.8 0-1.8 .1-1.8 0-1.8 .1-1.8 0-1.8 .1-1.8 .1-3.6 0-1.8 .1-1.8 0-1.8 .1-1.9 0-1.8 .1-1.9 0-1.8 .1-1.8 0-1.9 .1-1.8 0-1.8 .1-1.8 0-1.8 .1-1.8 0-1.7 .1-1.7 .1-3.2 0-1.5 .1-1.4 0-1.4 .1-2.6 .1-1.2 .1-2.3 0-1.1 .1-2.1 .1-2 .1-.9 .1-1.9 .1-1.8 .1-1.8 .1-1.7 .1-2.6 .1-1.7 .1-1.6 .1-1.6 .1-1.6 .2-2.3 .1-1.4 .1-2.2 .1-1.3 .2-2 .1-1.8 .2-1.8 .1-1.6 .2-2.1 .2-1.4 .2-1.7 .3-1.9 .3-.8 .4,.9 .3,1.9 .2,1.7 .2,2 .1,1.6 .2,1.6 .1,1.8 .2,1.9 .1,2 .2,2 .1,1.4 .1,2.2 .1,1.5 .1,1.5 .2,2.4 .1,1.7 .1,1.7 .1,1.8 .1,1.9 .1,2 .1,2 0,1 .1,2.2 .1,2.2 .1,1.2 .1,2.3 0,1.2 .1,2.5 .1,1.3 .1,2.5 0,1.3 .1,1.3 .1,2.7 0,1.4 .1,1.4 .1,2.8 0,1.5 .1,1.4 0,1.5 .1,1.5 .1,3 0,1.5 .1,1.5 0,1.5 .1,1.5 .1,3 0,1.4 .1,1.4 0,1.5 .1,2.7 .1,1.3 0,1.4 .1,2.6 .1,1.3 .1,2.6 0,1.3 .1,1.3 .1,2.6 0,1.2 .1,2.6 .1,1.2 0,1.3 .1,2.5 .1,1.2 .1,2.5 0,1.2 .1,2.5 .1,1.2 .1,2.4 0,1.2 .1,2.3 .1,1.2 .1,2.2 0,1.1 .1,2.1 .1,2 .1,1.9 .1,1.8 .1,1.6 .1,1.4 .2,1.9 .1,1.7 .2,1.9 .2,1.9 .2,1.9 .2,1.5 .2,2.1 .1,1.5 .2,2.1 .2,1.4 .2,2.1 .3,1.5 .3,.7 .3-.9 .3-1.7 .3-1.8 .3-1.7 .3-1.8 .3-1.8 .3-1.7 .3-1.8 .3-1.8 .3-1.7 .3-1.8 .3-1.8 .3-1.8 .3-1.7 .3-1.8 .3-1.8 .3-1.8 .3-1.7 .3-1.8 .3-1.8 .3-1.8 .3-1.8 .3-1.8 .3-1.7 .3-1.8 .3-1.8 .4-1.8 .3-1.8 .4-1.7 .4-1.7 .4-1.7 .4-1.8 .5-1.8 .4-1.7 .6-1.7 .7-1.7 1.2-1.3 .8-.4 .6,.6 .7,1.8 .4,1.7 .3,2 .3,1.6 .2,1.7 .3,1.9 .2,1.6 .2,2.2 .2,1.9 .2,1.4 .2,2.1 .1,1.6 .2,1.7 .2,2.2 .1,1.6 .2,1.7 .1,1.7 .2,1.7 .1,1.7 .2,2.3 .2,1.7 .1,1.7 .2,1.8 .1,1.7 .2,1.8 .1,1.7 .2,1.8 .1,1.8 .2,1.8 .1,1.8 .2,1.8 .1,1.8 .2,1.9 .1,1.8 .2,1.9 .1,1.9 .2,1.9 .1,1.2 .1,1.9 .2,1.8 .1,1.9 .2,1.9 .1,1.8 .2,1.8 .1,1.9 .2,1.9 .1,1.3 .1,2 .2,2.1 .1,1.3 .1,2.1 .2,2 .1,1.3 .1,1.9 .2,1.8 .1,1.7 .2,2.1 .2,1.7 .2,1.5 .5,1.7 .1,0 .5-1.7 .4-1.7 .4-1.9 .4-1.8 .3-1.8 .3-1.5 .4-1.9 .3-1.7 .4-1.8 .3-1.9 .4-1.8 .3-1.5 .3-1.9 .4-1.7 .3-1.8 .4-1.7 .4-1.8 .4-1.7 .6-1.7 .6-1.7 .6-1.7 .7-1.6 .4-.3 1.2,.7 1.4,1.2 1.3,1.2 1.1,.8 .4-.1 1-1.5 .6-1.8 .4-1.8 .4-1.7 .3-1.7 .3-1.8 .3-1.8 .3-1.8 .3-1.9 .2-1.5 .3-1.9 .3-1.8 .3-1.6 .3-1.9 .3-1.9 .2-1.6 .3-2 .3-1.6 .3-1.9 .2-1.6 .3-1.9 .3-1.9 .3-1.6 .3-1.9 .2-1.6 .3-2 .3-1.6 .3-1.9 .3-1.8 .2-1.6 .3-1.9 .3-1.9 .3-1.5 .3-1.9 .3-1.9 .2-1.7 .3-1.6 .3-1.9 .3-1.9 .4-1.5 .5-.9 .5,.7 .4,1.8 .4,1.7 .4,1.7 .4,1.9 .3,1.8 .4,1.7 .3,1.7 .4,1.7 .3,1.7 .4,2 .4,1.7 .3,1.7 .4,1.7 .4,1.9 .3,1.6 .5,1.9 .4,1.6 .5,.9 .4-.6 .4-1.8 .3-1.9 .2-1.8 .3-1.9 .2-1.5 .2-1.8 .3-1.9 .2-1.9 .2-1.5 .3-2 .2-1.5 .2-2 .2-1.7 .3-2.1 .2-1.7 .2-1.8 .2-1.8 .2-1.8 .2-1.8 .1-1.4 .2-1.9 .2-1.8 .2-1.8 .2-1.8 .2-1.8 .2-1.7 .3-2.1 .2-1.5 .2-1.8 .3-1.9 .3-1.6 .4-1.8 .6-1.7 .7-.7 .5,.5 .6,1.8 .3,1.7 .3,1.9 .3,1.8 .2,1.6 .2,2.2 .2,1.4 .2,2 .1,1.6 .2,2 .2,1.6 .2,2.1 .1,1.6 .2,1.6 .2,2.1 .1,1.6 .2,2.1 .2,1.6 .1,1.6 .2,2.1 .2,1.5 .2,2 .1,1.5 .2,2 .2,2 .2,1.5 .2,2 .1,1.5 .2,1.9 .2,1.9 .2,1.9 .2,1.8 .2,1.7 .2,1.6 .3,1.8 .2,1.7 .3,1.9 .3,1.6 .4,1.9 .4,1.7 .5,1.6 .7,1.7 1.2,1 .2,0 .8-.1 .8,.4 .9,1.6 .8,1.7 .7,1.6 .8,1.6 .9,1.6 .8,1.6 .9,1.5 .9,1.5 1.3,1.3 .3,.1 1.1-.9 1-1.5 .9-1.6 .8-1.5 .8-1.6 .9-1.7 .9-1.5 1.1-1.4 .7-.2 .9,.4 1.3,1.4 1.4,1 1.6,.4 .1,0 1.3-1.2 .6-1.7 .4-1.8 .5-1.8 .4-1.7 .4-1.7 .4-1.7 .4-1.8 .4-1.7 .4-1.8 .4-1.9 .3-1.6 .4-1.9 .4-1.7 .4-1.8 .4-1.7 .4-1.8 .5-1.6 .5-1.8 .6-1.7 .6-1.7 .6-1.7 .6-1.7 .6-1.7 .7-1.6 .7-1.7 .9-1.5 1.5-.6 .2,0 1.4,1.1 .8,1.6 .7,1.6 .6,1.8 .5,1.7 .5,1.8 .4,1.6 .4,1.9 .4,1.8 .4,1.6 .4,1.8 .3,1.8 .4,1.7 .3,1.9 .3,1.6 .4,1.8 .3,1.9 .4,1.7 .3,1.7 .4,1.8 .4,1.7 .5,1.8 .4,1.7 .5,1.8 .5,1.7 .6,1.7 .5,1.7 .6,1.7 .8,1.6 1.3,.8 .2,0 1.6-.8 1.1-1.4 .9-.6 .5,.3 1.2,1.4 1.2,1.3 1.3,1.3 1.2,1.3 1.3,1.3 1.2,1.4 1.1,1.3 1.2,1.4 1.2,1.3 1.3,1.2 1.3,.4 .4-.2 .9-1.5 .6-1.8 .5-1.7 .4-1.8 .3-1.7 .4-1.7 .3-1.9 .3-1.7 .4-1.9 .3-1.8 .3-1.7 .3-1.7 .3-2 .3-1.5 .3-1.9 .2-1.8 .3-1.9 .2-1.7 .2-1.8 .2-1.8 .2-2 .1-1.4 .2-2 .2-2 .2-1.5 .2-2 .1-1.6 .2-2 .2-1.6 .2-2 .1-1.5 .2-2.1 .2-1.5 .2-2.1 .1-1.5 .2-2.1 .2-1.6 .1-1.6 .2-2.1 .2-1.5 .2-2.2 .1-1.5 .2-1.6 .2-2.1 .1-1.6 .2-2 .2-1.6 .2-2 .2-1.9 .1-1.4 .2-1.8 .3-2.1 .2-1.6 .2-1.8 .3-1.6 .3-1.9 .4-1.6 .7-1.1 .3,.2 .6,1.8 .4,1.8 .3,1.6 .3,1.8 .3,2 .3,1.8 .2,1.9 .2,1.5 .3,2 .2,1.6 .2,2 .2,1.7 .2,1.8 .2,1.8 .2,1.8 .2,1.8 .2,1.9 .2,1.8 .2,1.7 .2,1.7 .2,1.6 .3,1.8 .2,1.8 .3,1.7 .3,2 .2,1.7 .3,1.9 .3,1.6 .3,1.8 .3,1.8 .3,1.7 .3,1.7 .3,2 .3,1.6 .4,1.9 .3,1.8 .3,1.6 .4,1.9 .4,1.7 .3,1.6 .4,1.9 .4,1.7 .5,1.8 .5,1.7 .5,1.7 .6,1.7 .7,1.7 .6,1.7 .7,1.7 .7,1.6 .8,1.6 .7,1.7 .8,1.6 .8,1.6 .8,1.5 .9,1.6 1,1.5 1.1,1.5 1.3,1.2 .4,.1 .8-1 .6-1.8 .5-1.8 .4-1.7 .4-1.8 .4-1.8 .3-1.6 .4-1.8 .4-1.9 .4-1.7 .3-1.7 .4-1.8 .3-1.8 .4-1.8 .3-1.8 .3-1.6 .4-1.8 .3-1.8 .4-1.7 .3-1.7 .4-1.9 .4-1.6 .5-1.9 .5-1.6 .6-1.7 .6-1.7 .8-1.6 .3-.2 1,1.1 .8,1.6 .7,1.6 .9,1.5 1,1.6 .9,1.5 1.4,1 1.4-1.1 .9-1.6 .9-1.6 1-1.4 1.2-1.3 1.3-.9 .2,0 1,1.5 .6,1.7 .4,1.7 .4,1.8 .3,1.7 .4,2 .4,1.7 .4,1.8 .4,1.6 .4,1.8 .4,1.6 .5,1.8 .4,1.8 .5,1.7 .4,1.7 .5,1.9 .5,1.6 .5,1.8 .6,1.7 .7,1.6 1,1.4 .4,.3 .8-1.1 .6-1.8 .5-1.7 .4-1.7 .4-1.8 .3-1.7 .4-1.8 .3-1.7 .3-2 .3-1.6 .3-2 .2-1.8 .6,.1" stroke="#4f11c2" stroke-width="2.1"/>
<path d="M339,92.3l.6-1.7 .4-.4 .5,.9 .5,1.7 .3,2 .3,1.8 .2,1.9 .2,1.6 .3,2 .2,1.7 .2,1.7 .2,1.8 .2,2 .1,1.5 .2,2.1 .2,1.7 .1,1.7 .2,1.9 .1,1.9 .2,2 .1,1.3 .1,2 .2,2 .1,1.3 .1,2 .2,2 .1,1.4 .1,2 .2,2 .1,1.3 .1,2 .2,2 .1,2 .1,1.3 .2,2 .1,1.9 .1,1.3 .2,2 .1,2 .2,1.9 .1,1.3 .1,2 .2,2 .1,1.9 .2,1.9 .1,1.2 .1,1.8 .2,2.3 .2,1.6 .1,1.5 .2,2 .2,1.8 .2,1.7 .3,2 .2,1.5 .2,1.7 .3,1.8 .4,1.8 .4,1.8 .8,1.5 .3,.2 1-1 .8-1.7 .6-1.7 .6-1.7 .5-1.6 .4-1.8 .4-1.9 .3-1.7 .3-1.8 .3-1.8 .3-1.9 .4-1.5 .6-1.7 .2-.1 .8,1.3 .4,1.7 .4,1.8 .3,1.7 .3,1.9 .2,1.7 .3,2 .3,1.7 .2,1.7 .3,1.7 .2,1.8 .3,1.8 .2,1.8 .3,1.8 .2,1.9 .3,1.9 .2,1.5 .2,1.9 .3,1.9 .2,1.7 .2,2.1 .1,1.8 .2,1.9 .1,1.3 .1,2 .2,1.9 .1,1.8 .2,1.5 .2,1.8 .4,1.4 .1-.1 .3-1.8 .2-2 .1-1.9 .2-2.1 .1-1.4 .1-1.5 .1-2.4 .1-1.5 .1-1.5 .2-2.2 .1-2.1 .1-1.3 .2-2.1 .1-1.4 .1-2 .2-2.1 .1-1.5 .1-2.2 .1-1.5 .1-1.6 .2-2.4 .1-1.7 .1-1.7 .1-1.9 .1-2 0-1.1 .1-2.3 .1-1.2 .1-2.6 0-1.3 .1-1.4 .1-2.8 0-1.5 .1-1.4 0-1.5 .1-2.9 .1-1.4 0-1.5 .1-1.4 .1-2.9 0-1.4 .1-1.4 .1-2.6 0-1.3 .1-1.3 .1-2.6 0-1.3 .1-2.5 .1-1.3 0-1.3 .1-2.7 .1-1.4 0-1.4 .1-2.9 .1-1.5 0-1.5 .1-1.6 0-1.6 .1-1.7 0-1.7 .1-1.7 0-1.8 .1-1.7 0-1.8 .1-3.6 .1-1.8 0-1.8 .1-1.8 0-1.8 .1-1.8 0-1.8 .1-1.8 0-1.8 .1-1.8 0-1.8 .1-1.9 0-1.8 .1-1.9 0-1.8 .1-1.9 0-1.8 .1-1.8 0-1.8 .1-1.8 0-1.8 .1-1.8 0-1.7 .1-1.7 .1-3.2 0-1.5 .1-1.4 0-1.4 .1-2.6 .1-1.2 0-1.2 .1-2.2 .1-2.1 .1-2 .1-1 .1-1.8 .1-1.8 .1-1.8 .1-1.7 .1-2.6 .1-1.7 .1-1.6 .1-1.6 .1-1.6 .2-2.3 .1-1.4 .1-2.2 .1-1.3 .2-2 .1-1.8 .2-1.8 .1-1.7 .2-1.5 .2-1.9 .2-1.8 .3-1.8 .3-.8 .3,.6 .3,1.8 .3,2.1 .1,1.4 .2,2.1 .2,1.7 .1,1.8 .2,1.9 .1,1.9 .2,2.1 .1,1.4 .1,2.1 .1,1.5 .1,1.6 .2,2.4 .1,1.7 .1,1.7 .1,1.8 .1,1.9 .1,1.9 .1,2.1 0,1 .1,2.2 .1,2.2 .1,1.2 .1,2.3 0,1.2 .1,2.5 .1,1.2 .1,2.6 0,1.3 .1,1.3 .1,2.7 0,1.4 .1,1.4 .1,2.8 0,1.5 .1,1.4 0,1.5 .1,1.5 .1,3 0,1.5 .1,1.5 0,1.5 .1,1.5 .1,2.9 0,1.5 .1,1.4 0,1.4 .1,2.8 .1,1.3 0,1.4 .1,2.6 .1,1.3 .1,2.6 0,1.3 .1,1.3 .1,2.5 0,1.3 .1,2.5 .1,1.3 0,1.2 .1,2.5 .1,1.3 .1,2.5 0,1.2 .1,2.5 .1,1.2 .1,2.4 0,1.2 .1,2.3 .1,1.1 .1,2.3 0,1.1 .1,2.1 .1,2 .1,1.9 .1,1.7 .1,1.6 .1,1.5 .2,1.9 .1,1.6 .2,2 .2,1.9 .2,1.8 .2,1.5 .2,2.1 .1,1.6 .2,2 .2,1.5 .2,2 .3,1.5 .3,.8 .3-.9 .3-1.8 .3-1.7 .3-1.8 .3-1.7 .3-1.8 .3-1.8 .3-1.7 .3-1.8 .3-1.8 .3-1.7 .3-1.8 .3-1.8 .3-1.8 .3-1.7 .3-1.8 .3-1.8 .3-1.8 .3-1.8 .3-1.7 .3-1.8 .3-1.8 .3-1.8 .3-1.8 .3-1.7 .3-1.8 .4-1.9 .3-1.7 .4-1.7 .4-1.7 .4-1.7 .4-1.9 .5-1.7 .4-1.7 .6-1.7 .7-1.6 1.2-1.4 .7-.3 .7,.5 .7,1.8 .4,1.7 .3,2 .3,1.6 .2,1.7 .3,1.9 .2,1.7 .2,2.1 .2,1.9 .2,1.5 .2,2 .1,1.6 .2,1.7 .2,2.2 .1,1.7 .2,1.7 .1,1.7 .2,1.7 .1,1.7 .2,2.3 .2,1.7 .1,1.7 .2,1.7 .1,1.8 .2,1.7 .1,1.8 .2,1.8 .1,1.7 .2,1.8 .1,1.8 .2,1.9 .1,1.8 .2,1.8 .1,1.9 .2,1.9 .1,1.8 .2,1.9 .1,1.3 .1,1.8 .2,1.9 .1,1.9 .2,1.8 .1,1.9 .2,1.8 .1,1.8 .2,2 .1,1.3 .1,2 .2,2 .1,1.4 .1,2 .2,2 .1,1.3 .1,1.9 .2,1.9 .1,1.7 .2,2 .2,1.8 .2,1.4 .5,1.7 .1,.1 .5-1.7 .4-1.8 .4-1.9 .4-1.7 .3-1.8 .3-1.6 .4-1.8 .3-1.8 .4-1.8 .3-1.8 .4-1.9 .3-1.5 .3-1.8 .4-1.8 .3-1.8 .4-1.7 .4-1.8 .4-1.7 .6-1.7 .6-1.7 .6-1.7 .7-1.6 .4-.3 1.1,.7 1.4,1.1 1.3,1.3 1.2,.8 .3-.1 1.1-1.5 .5-1.6 .5-1.8 .4-1.9 .3-1.7 .3-1.8 .3-1.8 .3-1.8 .3-1.9 .2-1.5 .3-1.9 .3-1.9 .3-1.5 .3-1.9 .3-2 .2-1.6 .3-1.9 .3-1.6 .3-1.9 .2-1.6 .3-1.9 .3-1.6 .3-2 .2-1.6 .3-1.9 .3-1.9 .3-1.6 .3-1.9 .2-1.6 .3-1.8 .3-1.9 .3-1.6 .3-1.9 .3-1.8 .2-1.6 .3-2 .3-1.7 .3-1.8 .3-1.7 .4-1.8 .5-.8 .4,.5 .5,1.7 .4,1.8 .4,1.8 .3,1.7 .4,1.8 .4,1.9 .3,1.7 .4,1.8 .3,1.7 .4,1.7 .4,1.9 .3,1.7 .4,1.7 .3,1.7 .4,1.9 .4,1.6 .5,1.8 .5,1 .3-.5 .5-2 .3-1.9 .2-1.8 .2-1.5 .3-1.8 .2-1.9 .3-1.8 .2-1.9 .2-1.5 .3-2 .2-1.6 .2-2 .2-1.6 .2-1.7 .3-2.1 .2-1.8 .2-1.8 .2-1.8 .2-1.8 .1-1.4 .2-1.9 .2-1.8 .2-1.8 .2-1.8 .2-1.8 .2-1.7 .3-2.1 .2-1.5 .2-1.8 .3-1.9 .3-1.6 .4-1.8 .6-1.6 .7-.8 .5,.5 .6,1.9 .3,1.7 .3,1.8 .3,1.8 .2,1.6 .2,1.8 .2,1.9 .2,2 .1,1.5 .2,2.1 .2,1.6 .2,2.1 .1,1.6 .2,1.5 .2,2.2 .1,1.6 .2,2.1 .2,1.6 .1,1.5 .2,2.1 .2,1.6 .2,2 .1,1.5 .2,2 .2,1.5 .2,2 .2,2 .1,1.4 .2,2 .2,1.9 .2,1.9 .2,1.3 .2,2.2 .2,1.6 .3,1.8 .2,1.7 .3,1.8 .3,1.7 .4,1.9 .4,1.6 .5,1.7 .7,1.6 1.2,1.1 .2-.1 .8-.1 .8,.4 .9,1.6 .8,1.7 .7,1.6 .8,1.6 .9,1.6 .8,1.6 .9,1.6 .9,1.5 1.3,1.2 .3,.1 1.2-.9 .9-1.5 .9-1.6 .9-1.6 .8-1.6 .8-1.6 .9-1.5 1.1-1.4 .7-.2 .9,.4 1.3,1.4 1.4,1 1.6,.4 .2,0 1.2-1.3 .6-1.7 .4-1.8 .5-1.8 .4-1.7 .4-1.7 .4-1.7 .4-1.8 .4-1.7 .4-1.8 .4-1.9 .3-1.6 .4-1.9 .4-1.6 .4-1.9 .4-1.7 .4-1.8 .5-1.6 .5-1.8 .6-1.7 .6-1.7 .6-1.7 .6-1.7 .6-1.6 .7-1.7 .7-1.6 1-1.5 1.4-.6 .2,0 1.4,1.1 .8,1.6 .7,1.7 .6,1.7 .5,1.8 .5,1.7 .4,1.9 .4,1.7 .4,1.7 .4,1.6 .4,1.9 .3,1.7 .4,1.8 .3,1.9 .3,1.6 .4,1.8 .3,1.8 .4,1.8 .3,1.7 .4,1.8 .4,1.7 .5,1.8 .4,1.7 .5,1.8 .5,1.6 .6,1.8 .5,1.7 .6,1.7 .8,1.5 1.3,.8 .2,0 1.6-.7 1.1-1.5 .9-.6 .5,.3 1.2,1.4 1.2,1.4 1.3,1.2 1.2,1.3 1.3,1.4 1.2,1.3 1.1,1.3 1.2,1.4 1.2,1.3 1.3,1.2 1.3,.4 .4-.2 .9-1.5 .6-1.8 .5-1.8 .4-1.7 .3-1.7 .4-1.8 .3-1.8 .3-1.7 .4-2 .3-1.7 .3-1.7 .3-1.7 .3-1.7 .3-1.8 .3-2 .2-1.7 .3-2 .2-1.6 .2-1.8 .2-1.9 .2-1.9 .1-1.5 .2-2 .2-1.5 .2-2 .2-2 .1-1.6 .2-2 .2-1.5 .2-2.1 .1-1.5 .2-2.1 .2-1.5 .2-2.1 .1-1.5 .2-1.6 .2-2.1 .1-1.6 .2-2.1 .2-1.6 .1-1.5 .2-2.1 .2-1.6 .2-2.1 .1-1.6 .2-2 .2-1.6 .2-2 .1-1.4 .2-1.9 .2-1.8 .2-1.7 .3-2 .2-1.8 .3-1.6 .3-1.7 .4-1.9 .7-1 .3,.2 .6,1.6 .4,1.8 .3,1.8 .3,1.9 .3,1.6 .2,1.8 .3,1.8 .2,1.9 .3,2 .2,1.6 .2,1.7 .2,2.1 .2,1.7 .2,1.8 .2,1.9 .2,1.3 .2,1.9 .2,1.8 .2,1.8 .2,2.1 .2,1.6 .3,1.8 .2,1.8 .3,1.7 .2,1.7 .3,2 .3,1.6 .3,1.9 .3,1.8 .3,1.8 .3,1.7 .3,1.7 .3,1.7 .3,1.7 .3,1.9 .4,1.8 .3,1.8 .4,1.7 .3,1.7 .4,1.7 .4,1.8 .4,1.7 .4,1.8 .5,1.7 .5,1.7 .6,1.7 .7,1.8 .6,1.6 .7,1.7 .7,1.6 .8,1.7 .7,1.6 .8,1.6 .8,1.7 .8,1.5 .9,1.6 1,1.5 1.1,1.4 1.2,1.3 .6,.2 .7-.8 .6-1.6 .5-1.9 .4-1.7 .4-1.8 .4-1.8 .4-1.6 .4-1.8 .4-1.9 .3-1.7 .4-1.7 .3-1.8 .4-1.8 .3-1.8 .4-1.8 .3-1.6 .3-1.8 .4-1.8 .3-1.7 .4-1.8 .4-1.8 .4-1.7 .5-1.8 .5-1.7 .5-1.7 .6-1.8 .7-1.5 .5-.4 .8,.8 .9,1.7 .7,1.6 .9,1.5 .9,1.5 1,1.6 1.3,1.1 .2,0 1.3-1 .9-1.5 .8-1.5 1.1-1.5 1.2-1.4 1.4-1.1 0,0 1.1,1.3 .6,1.8 .4,1.7 .4,1.8 .4,1.7 .4,1.9 .3,1.7 .4,1.8 .4,1.7 .4,1.6 .5,1.8 .4,1.8 .5,1.8 .4,1.7 .5,1.7 .4,1.7 .5,1.9 .5,1.6 .6,1.7 .7,1.7 .9,1.5 .6,.5 .7-.8 .6-1.7 .5-1.7 .4-1.9 .4-1.6 .4-1.8 .3-1.8 .3-1.6 .4-2.1 .2-1.5 .3-2 .3-1.8 0-.4 .6,.1" stroke="#370cb7" stroke-width="2.1"/>
<path d="M339,92l.2,0 .4-1.6 .4-.5 .5,.9 .5,1.8 .3,2 .3,1.8 .2,1.5 .2,2 .2,1.6 .3,2.1 .2,1.8 .2,1.8 .1,1.4 .2,2.1 .2,1.5 .2,2.3 .1,1.7 .2,1.9 .1,1.9 .1,1.3 .2,2 .1,2 .1,1.3 .2,2 .1,2.1 .1,1.3 .2,2 .1,2 .1,1.3 .2,2 .1,2 .2,2 .1,1.4 .1,1.9 .2,2 .1,1.3 .1,2 .2,2 .1,2 .1,1.3 .2,1.9 .1,2 .2,1.9 .1,1.3 .1,2 .2,1.8 .1,1.8 .2,1.7 .1,1.7 .2,2 .2,2 .2,1.3 .2,2.2 .2,1.6 .3,1.9 .2,1.7 .3,1.6 .3,1.8 .4,1.6 .7,1.7 .5,.3 .8-.8 .9-1.6 .6-1.7 .6-1.7 .6-1.7 .4-1.8 .3-1.8 .3-1.8 .3-1.8 .3-1.7 .3-1.7 .4-1.8 .5-1.6 .4-.4 .7,1 .5,1.8 .3,1.8 .3,1.7 .3,1.8 .3,1.7 .3,2 .2,1.7 .3,1.7 .2,1.8 .3,1.7 .2,1.8 .3,1.9 .2,1.8 .3,1.9 .2,1.5 .2,1.9 .3,1.9 .2,1.5 .2,2 .2,2.1 .2,1.7 .1,1.9 .1,1.3 .2,2 .1,2 .2,1.8 .1,1.7 .2,1.8 .3,1.5 .2,.4 .3-1.5 .2-1.8 .2-1.8 .1-2 .1-1.4 .2-2.3 .1-1.5 .1-1.5 .1-2.3 .1-1.5 .2-2.1 .1-1.3 .1-2.1 .2-2 .1-1.4 .1-2.1 .1-1.4 .2-2.2 .1-1.5 .1-2.3 .1-1.6 .1-1.6 .1-1.7 .1-1.8 .1-2 .1-2.1 .1-1.1 .1-2.4 0-1.2 .1-2.7 .1-1.4 0-1.4 .1-2.8 .1-1.5 0-1.4 .1-1.5 .1-2.9 0-1.4 .1-1.5 0-1.4 .1-2.8 .1-1.4 0-1.3 .1-2.7 .1-1.3 0-1.2 .1-2.6 .1-1.3 .1-2.5 0-1.3 .1-1.4 .1-2.7 0-1.4 .1-1.4 .1-3 0-1.5 .1-1.6 0-1.6 .1-1.7 0-1.7 .1-1.7 0-1.8 .1-1.7 0-1.8 .1-1.8 0-1.8 .1-1.8 0-1.8 .1-1.8 0-1.8 .1-1.8 0-1.8 .1-1.8 0-1.8 .1-1.8 0-1.8 .1-1.9 0-1.8 .1-1.8 0-1.9 .1-1.8 0-1.9 .1-1.8 0-1.8 .1-1.8 0-1.8 .1-1.8 0-1.7 .1-1.7 0-1.6 .1-1.6 .1-2.9 0-1.4 .1-1.3 .1-2.5 0-1.2 .1-2.2 .1-1.1 .1-2 .1-1.9 .1-1.9 .1-1.8 .1-1.8 .1-1.7 .1-1.8 .1-1.6 .1-1.7 .1-2.4 .1-1.6 .1-1.5 .2-2.3 .1-1.4 .1-2.1 .1-1.3 .2-1.9 .1-1.8 .2-1.7 .2-2.1 .1-1.5 .2-1.8 .3-1.7 .4-1.4 .2,.2 .4,1.8 .2,2 .2,1.9 .2,1.5 .1,1.7 .2,2.3 .1,1.2 .2,2 .1,1.9 .2,2.1 .1,1.4 .1,2.3 .1,1.5 .1,1.6 .1,1.6 .2,2.6 .1,1.8 .1,1.8 0,1 .1,2 .1,2 .1,2.2 .1,1.1 .1,2.3 .1,2.3 0,1.2 .1,2.4 .1,1.3 0,1.3 .1,2.5 .1,1.4 .1,2.6 0,1.4 .1,1.4 0,1.4 .1,2.9 .1,1.4 0,1.5 .1,1.5 .1,3 0,1.5 .1,1.5 0,1.5 .1,1.4 .1,3 0,1.4 .1,1.5 0,1.4 .1,2.7 .1,1.3 0,1.4 .1,2.6 .1,1.3 .1,2.6 0,1.3 .1,1.3 .1,2.5 0,1.3 .1,2.5 .1,1.2 0,1.3 .1,2.5 .1,1.2 .1,2.5 0,1.2 .1,2.4 .1,1.3 .1,2.4 0,1.1 .1,2.4 .1,1.1 .1,2.2 .1,2.2 0,1 .1,2 .1,1.9 .1,1.8 .1,1.5 .2,2.1 .1,1.8 .2,1.6 .1,1.5 .2,1.8 .2,1.8 .2,2.1 .2,1.5 .2,2.1 .1,1.5 .2,1.9 .2,1.6 .4,1.9 .2,.3 .4-1.2 .3-1.8 .3-1.7 .3-1.8 .3-1.8 .3-1.7 .3-1.8 .3-1.8 .3-1.7 .3-1.8 .3-2.1 .3-1.7 .3-1.8 .3-1.8 .3-1.7 .3-1.8 .3-1.8 .3-1.7 .3-1.8 .3-1.8 .3-1.7 .3-1.8 .3-1.8 .3-1.7 .3-1.8 .3-1.7 .4-1.8 .3-1.7 .4-1.8 .4-1.7 .5-1.9 .4-1.5 .4-1.8 .5-1.7 .7-1.8 .8-1.5 1.5-1 0,0 1.1,1.4 .5,1.7 .3,1.7 .3,1.8 .3,2 .2,1.5 .3,1.9 .2,1.7 .2,1.8 .2,1.9 .2,1.9 .1,1.6 .2,2.2 .2,1.7 .1,1.6 .2,1.7 .1,1.7 .2,2.2 .2,1.7 .1,1.7 .2,1.7 .1,1.7 .2,1.8 .2,2.3 .1,1.7 .2,1.8 .1,1.7 .2,1.8 .1,1.8 .2,1.8 .1,1.8 .2,1.8 .1,1.9 .2,1.8 .1,1.3 .1,1.8 .2,1.9 .1,1.9 .2,1.8 .1,1.9 .2,1.9 .1,1.8 .2,1.9 .1,1.8 .1,1.2 .2,1.9 .1,1.9 .2,2 .1,2 .1,1.4 .2,2 .1,1.4 .1,2 .2,1.9 .1,1.9 .2,1.7 .1,1.6 .2,1.9 .2,1.7 .3,1.7 .4,.7 .3-.9 .5-1.8 .3-1.6 .4-2 .4-1.7 .3-1.8 .4-1.8 .3-1.8 .4-1.8 .3-1.5 .3-1.8 .4-1.8 .3-1.8 .4-1.7 .3-1.8 .4-1.9 .4-1.6 .5-1.8 .5-1.7 .6-1.7 .6-1.6 .8-1.6 .4-.2 1.1,.7 1.4,1.2 1.2,1.3 1.3,.9 .2,0 1.1-1.4 .6-1.7 .4-1.7 .4-1.9 .3-1.7 .3-1.8 .3-1.9 .3-1.8 .3-1.6 .3-1.9 .3-1.9 .2-1.6 .3-1.9 .3-1.6 .3-2 .2-1.6 .3-2 .3-1.6 .2-1.6 .3-2 .3-1.6 .3-2 .2-1.7 .3-1.9 .3-1.7 .2-1.6 .3-2 .3-1.6 .3-1.9 .2-1.6 .3-1.9 .3-1.9 .3-1.6 .3-1.9 .2-1.6 .3-2 .3-1.7 .2-1.7 .3-1.8 .4-1.9 .4-1.5 .5-.7 .4,.8 .5,1.8 .4,1.7 .3,1.7 .4,1.9 .4,1.8 .3,1.7 .4,1.7 .3,1.7 .4,1.7 .4,2 .3,1.7 .4,1.7 .3,1.8 .4,1.9 .4,1.6 .4,1.7 .5,1.8 .4,.8 .4-.8 .4-1.7 .3-1.8 .2-1.8 .3-1.8 .2-1.9 .3-1.8 .2-1.9 .2-1.5 .3-1.9 .2-1.9 .2-1.6 .3-2 .2-1.6 .2-1.7 .2-2.1 .2-1.8 .2-1.8 .2-1.8 .2-1.4 .2-1.9 .2-1.8 .2-1.8 .2-1.8 .2-1.8 .2-1.8 .2-1.7 .2-2 .2-1.5 .3-1.8 .3-1.8 .3-1.9 .4-1.6 .7-1.7 .5-.4 .6,.8 .5,1.7 .4,1.8 .3,1.8 .2,1.9 .3,2 .2,1.8 .1,1.5 .2,2 .2,1.6 .2,2 .1,1.6 .2,2.1 .2,1.6 .1,1.5 .2,2.2 .2,1.5 .2,2.1 .1,1.6 .2,2.1 .2,1.5 .1,1.6 .2,2 .2,2 .2,1.5 .2,2 .1,1.4 .2,2 .2,1.9 .2,2 .2,1.4 .2,1.9 .2,1.7 .2,1.7 .2,1.9 .3,1.8 .2,1.7 .3,1.7 .4,1.9 .4,1.8 .4,1.7 .6,1.7 .8,1.5 1,.6 .5,0 .1,0 1.3,1 .8,1.6 .7,1.6 .7,1.7 .7,1.6 .8,1.6 .8,1.6 .9,1.7 .8,1.5 1.1,1.5 .7,.4 .8-.5 1.1-1.4 .9-1.5 .8-1.7 .8-1.6 .8-1.6 .8-1.6 1-1.5 1.4-1 1.5,1 1.4,1 1.7,.4 .1,0 1.4-.9 .7-1.8 .5-1.7 .4-1.6 .4-1.9 .4-1.7 .4-1.8 .4-1.7 .4-1.8 .4-1.8 .4-1.6 .4-1.9 .4-1.8 .3-1.7 .4-1.8 .4-1.7 .4-1.7 .5-1.7 .5-1.8 .6-1.7 .6-1.7 .6-1.6 .6-1.7 .7-1.8 .6-1.6 .7-1.7 .9-1.5 1.5-.9 .2,0 1.3,.8 1,1.5 .7,1.7 .6,1.6 .6,1.9 .4,1.6 .5,1.8 .4,1.7 .4,1.7 .4,1.8 .4,1.8 .3,1.7 .4,1.8 .3,1.8 .4,1.8 .3,1.9 .4,1.8 .3,1.7 .4,1.7 .4,1.7 .4,1.7 .4,1.8 .5,1.7 .5,1.7 .5,1.7 .5,1.8 .6,1.7 .6,1.7 .7,1.6 1.4,.9 .1,0 1.7-.4 1.2-1.4 .6-.3 .8,.8 1.1,1.4 1,1.4 1.2,1.4 1.2,1.4 1.1,1.3 1.2,1.4 1.2,1.4 1.2,1.3 1.3,1.3 1.3,1.1 1.3,.3 .5-.1 .9-1.6 .6-1.7 .4-1.7 .4-1.7 .4-2 .4-1.8 .3-1.6 .3-1.7 .3-2 .3-1.8 .3-1.8 .3-1.7 .3-1.7 .3-1.8 .3-1.9 .3-1.7 .2-1.9 .2-1.6 .2-1.7 .2-1.8 .2-1.9 .2-2 .2-1.5 .2-2 .2-2 .1-1.5 .2-2 .2-1.6 .2-2 .1-1.6 .2-2 .2-1.6 .2-2 .1-1.5 .2-2.1 .2-1.6 .1-1.5 .2-2.1 .2-1.6 .2-2.1 .1-1.6 .2-1.6 .2-2.1 .1-1.5 .2-2.1 .2-1.6 .2-2 .1-1.5 .2-2 .2-1.9 .2-1.4 .2-2.2 .2-1.6 .2-1.6 .3-1.7 .3-1.9 .3-1.7 .5-1.7 .5-.5 .6,.9 .5,1.8 .3,1.7 .3,1.7 .3,1.9 .3,1.7 .2,1.8 .3,1.9 .2,1.9 .2,1.6 .2,1.7 .3,2 .2,1.7 .2,1.8 .2,1.8 .2,1.8 .2,1.9 .2,1.8 .2,1.8 .2,1.7 .2,1.6 .2,2 .3,1.8 .2,1.7 .3,1.7 .3,2 .2,1.6 .3,1.8 .3,1.9 .3,1.7 .3,1.7 .3,1.7 .3,1.7 .4,1.9 .3,1.9 .3,1.5 .4,1.8 .4,1.9 .3,1.7 .4,1.8 .4,1.8 .4,1.7 .5,1.7 .4,1.6 .6,1.8 .6,1.7 .7,1.7 .6,1.6 .7,1.7 .7,1.6 .8,1.7 .7,1.6 .7,1.7 .8,1.6 .7,1.6 .9,1.7 .9,1.5 .9,1.5 1,1.6 1.2,1.2 .2,0 .9-1.3 .6-1.7 .5-1.8 .4-1.7 .4-1.7 .4-1.8 .4-1.7 .4-1.8 .4-1.9 .3-1.6 .4-2 .4-1.7 .3-1.8 .3-1.5 .4-1.8 .3-1.8 .4-1.8 .3-1.8 .4-1.7 .4-1.8 .4-1.7 .4-1.7 .5-1.8 .6-1.7 .5-1.7 .7-1.7 .7-.7 .6,.5 .9,1.5 .8,1.6 1,1.5 1,1.5 1.1,1.4 1.1,.7 .5-.2 1.1-1.4 .9-1.5 .9-1.6 1-1.4 1.3-1.4 1.1-.7 .4,.2 .9,1.5 .5,1.7 .4,1.9 .4,1.6 .4,2 .3,1.7 .4,1.7 .4,1.9 .4,1.6 .4,1.7 .4,1.8 .5,1.7 .4,1.8 .5,1.7 .4,1.7 .5,1.9 .5,1.6 .5,1.7 .6,1.7 .8,1.6 1.1,1.3 .1,.1 1-1.4 .5-1.7 .5-1.8 .4-1.8 .3-1.7 .4-1.7 .3-1.9 .3-1.7 .3-1.8 .3-1.9 .3-1.7 .2-1.8 .1-.7 .6,0" stroke="#2608ac" stroke-width="2.1"/>
</g>
<g clip-path="url(#cc)" fill="none" stroke-linejoin="round">
<path d="M21,347.2l.9-3.4 .8-.3 .9-3.5 .8,4.3 .9-.5 .8-.3 .9,1.3 .8,.2 .9-2.4 .8,.3 .9,.7 .8,1.8 .9-.2 .8-2.9 .9,.3 .8,2.8 .9,1.3 .8-2.4 .9-1 .8,2.6 .9-2.5 .8,2 .9,1.2 .8-1.4 .9-.8 .8,1 .9-2 .8,.7 .9-.6 .8,.5 .9-.4 .8,.4 .9-.7 .8,1.2 .9-.1 .8,.3 .9,1.5 .8-4 .9,3.9 .8-2.1 .9-1.3 .8,1.4 .9,.4 .8,1.2 .9-2.8 .8,1.7 .9-.1 .8-2.4 .9,.7 .8,2.3 .9,.1 .8,.5 .9-.7 .8-.2 .9-.2 .8,1.2 .9-2.5 .8,.8 .9,.7 .8-2.4 .9,3.5 .8-2.6 .9,.9 .8,2.7 .9-3.6 .8,.4 .9,2.5 .8-3.2 .9,.8 .8,1.1 .9-.1 .8,.2 .9-.3 .8,1.2 .9-.4 .8,.1 .9-2.1 .8,0 .9-1.4 .8,3 .9-4.8 .8,5 .9,1.1 .8-4.4 .9,1.5 .8,.3 .9,1.4 .8-1.9 .9,.9 .8-.5 .9,.3 .8,3 .9-3.8 .8,1.2 .9,.2 .8,.6 .9-2.3 .8,2.6 .9-.7 .8,.5 .9-.9 .8-1.9 .9,1.1 .8,1.6 .9-.9 .8,0 .9,1.9 .8,.4 .9-2.3 .8,2 .9-4.1 .8,0 .9,3 .8-1.2 .9,.9 .8-.1 .9-.6 .8,.8 .9-.5 .8-1.8 .9,1.8 .8,0 .9,1.7 .8-3 .9,1.1 .8-.4 .9,.3 .8,1.8 .9-1.3 .8-.9 .9,.7 .8,.6 .9-1.8 .8,.7 .9,1.8 .8-.6 .9-.9 .8-.9 .9,.8 .8-1.4 .9,2.4 .8-.6 .9-.2 .8-1.4 .9,.6 .8,1.2 .9-.2 .8-.8 .9,1 .8,.4 .9-1.5 .8,.1 .9-.3 .8-.3 .9,1.9 .8-.3 .9-.2 .8-1.4 .9,.1 .8,.9 .9-.3 .8,.5 .9-.8 .8,1.3 .9,1.1 .8-.2 .9,0 .8-1.4 .9,.8 .8-1.2 .9,1.2 .8-1.2 .9-.1 .8-.2 .9,1.3 .8-.4 .9-.1 .8-1.2 .9,1.1 .8-1.4 .9,2.7 .8-1.6 .9,.4 .8-.3 .9-1.3 .8,.2 .9,1.2 .8,1.4 .9-2.4 .8,.4 .9,.6 .8-1.5 .9,0 .8,1.1 .9,.4 .8-.3 .9,1.7 .8-1.5 .9,.4 .8,1.1 .9,.1 .8-2.9 .9,1.1 .8,1.3 .9-2.2 .8,.4 .9-.4 .8,0 .9,.2 .8,1.3 .9,.8 .8,.3 .9-1.4 .8-3.3 .9,3.3 .8-.3 .9,.6 .8-.4 .9-1.5 .8,2 .9-2.2 .8,1.2 .9,.9 .8,0 .9,1.1 .8-3.5 .9,2.4 .8,.3 .9-.9 .8,1.4 .9-2.1 .8,1.6 .9-.1 .8-1.4 .9,.3 .8,.4 .9-.4 .8,1.5 .9-.7 .8,.9 .9-.1 .8-.9 .9-.3 .8-.6 .9-.5 .8,0 .9,1.6 .8-1.1 .9,.9 .8,.1 .9-.6 .8,.2 .9,1.5 .8,1.3 .9-3.3 .8,.5 .9-.4 .8,.4 .9,1.5 .8-.7 .9,1.5 .8,.8 .9-3.3 .8,.2 .9,.2 .8,.9 .9-1 .8,.7 .9,.4 .8,0 .9-.3 .8-1.4 .9-.6 .8,2.3 .9-.6 .8-1.2 .9,.4 .8,0 .9-1 .8,1.6 .9-.9 .8,.5 .9,.8 .8-.7 .9,.6 .8-.1 .9-.4 .8,0 .9,1.6 .8-1.7 .9,1.5 .8-2.2 .9,1.4 .8-.4 .9-.8 .8-1.6 .9,3.6 .8-2.4 .9-.5 .8,1.6 .9,0 .8,.1 .9-.4 .8-1.1 .9,2 .8-1.5 .9,1.2 .8,.1 .9,.5 .8-1.2 .9,0 .8,0 .9-1.3 .8,.9 .9-.2 .8-.2 .9,1.1 .8-.4 .9,1.6 .8,0 .9-2.9 .8,1.7 .9-.9 .8,1.3 .9-.4 .8,.7 .9-.5 .8,.3 .9-.8 .8-1.9 .9,1.1 .8,.3 .9,.3 .8-.4 .9,2.2 .8-1.5 .9,1.2" stroke="#ecfc48" stroke-width="1.4"/>
<path d="M21,348.4l.9-2.6 .8,2.3 .9-1.9 .8-1.1 .9-.5 .8,.8 .9-.5 .8,1.6 .9-2.9 .8,1.7 .9,.4 .8-1 .9-.2 .8,1.3 .9,.1 .8-1 .9,.1 .8-.8 .9,1.6 .8-1 .9-2.1 .8,1.8 .9,1.4 .8-.5 .9-1.7 .8,2.3 .9-.2 .8,0 .9,1.3 .8-2.6 .9,1.3 .8-1.2 .9,1.7 .8,.2 .9-.9 .8,.4 .9-2.2 .8,2 .9-2.5 .8,4.5 .9-1.3 .8-3.6 .9-1.5 .8,5.2 .9-3.8 .8,2.8 .9-2.4 .8,1.8 .9-1 .8,1.7 .9-1.6 .8,2.7 .9-2.9 .8,2.6 .9-1.6 .8,.6 .9-2.6 .8-.2 .9,3.5 .8-4.2 .9,2.4 .8,.1 .9-.7 .8,1.3 .9-2 .8,.3 .9,2.6 .8-2.1 .9,1.8 .8-.1 .9,1.1 .8-1.3 .9-2.7 .8,1.4 .9,.3 .8,1.9 .9-1 .8-1 .9,1.1 .8-1 .9,1.1 .8-.5 .9,1.1 .8-.9 .9,.8 .8-1.2 .9,.8 .8-.9 .9,.9 .8-.5 .9-.4 .8-.3 .9,.1 .8,.9 .9-3.1 .8,3.9 .9-3.9 .8,2.3 .9-.1 .8,1.1 .9-.5 .8-.3 .9,.1 .8,1 .9,1.4 .8-2.1 .9-2.5 .8,1.7 .9,.9 .8,3 .9-4.3 .8,.5 .9,.9 .8-.2 .9-1.7 .8,2.3 .9-2.3 .8,.8 .9,1.9 .8-2.7 .9,1 .8,3.6 .9-3.5 .8-.8 .9,.5 .8,1.4 .9-2.4 .8,.9 .9-.8 .8,.3 .9,2.4 .8-1.3 .9-.4 .8,.9 .9-1.2 .8-.5 .9,2.4 .8,.5 .9-3.2 .8,2.2 .9,.8 .8-1 .9,0 .8-1.7 .9,1.1 .8-1.7 .9,2.9 .8-1.2 .9,1.4 .8-2.7 .9,2.3 .8-2.4 .9,1.2 .8,.9 .9-.2 .8-.4 .9-3 .8,4.3 .9-.6 .8,.4 .9,0 .8-1.4 .9,.7 .8,2.2 .9-3.3 .8,1.1 .9-1.4 .8,2.7 .9-1.5 .8-1.1 .9,.4 .8-.8 .9-.8 .8-.4 .9,1.9 .8-.4 .9,1.2 .8-1.6 .9,1.7 .8,1.4 .9-2.8 .8,0 .9,2.1 .8,1.2 .9-3 .8-.7 .9,1.3 .8-.1 .9,1 .8-1.6 .9,.7 .8,0 .9-1.2 .8,0 .9,1.9 .8,0 .9-1.2 .8,2.2 .9-.6 .8-.4 .9,.1 .8-.2 .9,.3 .8,.1 .9-.6 .8-2 .9,1.7 .8-.6 .9-.3 .8,1.6 .9-2.2 .8,2.4 .9-1.3 .8-.6 .9,.4 .8,2.8 .9-.7 .8-1.6 .9,1.2 .8,.6 .9-2.3 .8,.5 .9,1.1 .8-.5 .9-.7 .8,1.8 .9-1 .8,.2 .9,1.5 .8-1.7 .9,1.9 .8-2.1 .9-.4 .8,.3 .9,.6 .8-.2 .9-.2 .8-1.7 .9,.4 .8,.7 .9,.9 .8,.6 .9-3.4 .8,2 .9-.3 .8,.3 .9,.3 .8-.9 .9-1.5 .8,3.9 .9-1 .8-1 .9,.2 .8-.5 .9-1.7 .8,2.9 .9-1.2 .8-.4 .9,.5 .8,2 .9-1.1 .8-.2 .9-.1 .8,.7 .9-.1 .8-1.8 .9,.9 .8-.9 .9,1.3 .8-.2 .9-1.7 .8,2.7 .9-.7 .8-1.8 .9,2.5 .8-.8 .9,.2 .8-.4 .9,.2 .8-.6 .9-1 .8,.9 .9,.7 .8-.2 .9,.6 .8-.7 .9-1.8 .8,2.5 .9-1.3 .8-.5 .9,.9 .8-.9 .9,1.5 .8-1.1 .9,2.5 .8-1.9 .9-.3 .8-.1 .9-1.3 .8,1.1 .9,.1 .8,.4 .9-1.6 .8,1.9 .9,1.1 .8-1.5 .9,.3 .8,.5 .9-1.1 .8,.3 .9,1.2 .8-.6 .9-1.2 .8-.5 .9,3.5 .8-1.3 .9-2 .8,1.4 .9,.5 .8-.5 .9-1.7 .8,4.5 .9-2.4 .8-.6 .9,.7 .8-.8 .9-.1 .8,1.1 .9-2.5 .8,2.6 .9-.5 .8,.3 .9,.8 .8-.1 .9-.1 .8-.5 .9-1.1" stroke="#edf847" stroke-width="1.4"/>
<path d="M21,345.5l.9-2.4 .8,.7 .9,3.3 .8-2.6 .9,.1 .8-1.1 .9,3.2 .8-4.7 .9,1.8 .8,1.6 .9-1 .8,1.7 .9-.7 .8,1.5 .9-2.9 .8,.5 .9,.6 .8-3.1 .9,4.9 .8-3.5 .9,3 .8,.5 .9-.7 .8-1.2 .9-1.2 .8-2.1 .9,4.6 .8-1.9 .9,2.8 .8-2.9 .9,1.4 .8-2.1 .9,1.8 .8-1.1 .9,.2 .8-2.3 .9,1.6 .8,.8 .9,1.9 .8-1.4 .9-2 .8,3.8 .9-1.6 .8,1 .9-2.7 .8-3.2 .9,3.4 .8-.4 .9,1.7 .8-2.3 .9,.8 .8-.6 .9,2 .8-1.4 .9,3 .8-.8 .9,.1 .8-1.4 .9,.6 .8,.8 .9-2.2 .8,2.7 .9-1.7 .8,1.7 .9,1.2 .8-.9 .9-3.2 .8,2.8 .9-1.9 .8-.1 .9,0 .8-.9 .9,1.7 .8-1.1 .9,2.1 .8-.9 .9-3.4 .8,1.9 .9-.1 .8,.4 .9,0 .8,1 .9-.4 .8-1.1 .9,1.8 .8,.5 .9-1 .8,1.3 .9-.8 .8-1.1 .9,.2 .8,.4 .9,.6 .8-.4 .9,.9 .8,.2 .9-2.4 .8-.2 .9,1.2 .8,.6 .9,.5 .8-.3 .9,0 .8-1.7 .9,1.4 .8-1.1 .9,1.2 .8,.5 .9-1.7 .8,.5 .9,2.8 .8-3.4 .9,.3 .8-.6 .9-.4 .8,2.6 .9-1.8 .8,.1 .9-.2 .8-2.1 .9,3.7 .8-1.4 .9,.6 .8,1.4 .9-1.5 .8,.2 .9,.1 .8,1.1 .9-2.7 .8,.8 .9-1.6 .8,2.2 .9,.7 .8-1.1 .9,2.4 .8-1 .9,1 .8-1.8 .9,1.6 .8-2.7 .9,1.4 .8-.3 .9-.6 .8,2.1 .9-.3 .8-2 .9,1.3 .8-.5 .9,0 .8,.5 .9-1.1 .8,.7 .9,.1 .8-.9 .9-.3 .8,1.7 .9-.8 .8,4.4 .9-2.4 .8-2.7 .9,1 .8-2.3 .9,1.3 .8-.2 .9,.1 .8-1.3 .9,2.3 .8-.1 .9-.9 .8,.6 .9,1 .8,2 .9-4.1 .8,2.7 .9-3.1 .8,.8 .9,.4 .8,1.9 .9-.9 .8,0 .9,.9 .8-1.1 .9-.8 .8,1.8 .9-1.6 .8-1 .9-1.8 .8,3.2 .9,1.5 .8-1 .9-.6 .8,1 .9-2.5 .8,1.8 .9-1.3 .8,2.2 .9-2.1 .8,1.5 .9-.3 .8-.4 .9,.6 .8-.7 .9,1.4 .8-1.5 .9-1.8 .8,3.3 .9-.1 .8-.7 .9,.8 .8-.7 .9-1.3 .8-1.1 .9,.9 .8,.7 .9,.7 .8-1.8 .9,.5 .8,2.2 .9-2 .8,0 .9-.2 .8,2.3 .9-.8 .8,.1 .9,.7 .8-.6 .9,.3 .8-.9 .9,.5 .8-.2 .9,0 .8-1.6 .9,.8 .8-.1 .9-.3 .8,.6 .9,1.6 .8-.8 .9-.7 .8,.2 .9,.9 .8-2.3 .9,1.4 .8,1.2 .9,.1 .8-.8 .9-.3 .8-2.1 .9,1 .8,.6 .9,.3 .8,.1 .9-2.4 .8,1.5 .9,.7 .8-.9 .9,.5 .8,1 .9-.5 .8-.2 .9,.5 .8,1.2 .9-2.1 .8-.6 .9,.3 .8,.2 .9,.4 .8-1.3 .9,.6 .8,.5 .9,1.4 .8-.8 .9-.5 .8,.9 .9-.6 .8,0 .9,.7 .8-.6 .9-.2 .8,1.1 .9-1.7 .8,.5 .9-1.8 .8,1.1 .9,2 .8-1.6 .9,.3 .8-.3 .9-.6 .8,1.3 .9-.4 .8,.9 .9-1.6 .8,.7 .9-.3 .8-.2 .9,1.4 .8-1.5 .9,0 .8,2.8 .9-2.2 .8-.2 .9,.6 .8-1.2 .9,1.1 .8-1.3 .9,.6 .8-.1 .9,1.7 .8-.6 .9,1 .8-.2 .9-2 .8,1.1 .9-.8 .8-.2 .9,1.5 .8,.2 .9-1.1 .8,.2 .9,0 .8,0 .9,0 .8-1.1 .9,1.3 .8-1.1 .9-.4 .8,.9 .9,.3 .8,.5 .9-.4 .8,0 .9-.8 .8,.9 .9-.2 .8,.1 .9-.9" stroke="#eef546" stroke-width="1.4"/>
<path d="M21,345.2l.9-.7 .8-1.8 .9-.1 .8,1 .9,.6 .8-1.9 .9,7 .8-3.9 .9-1.8 .8,2.1 .9,2.6 .8-3.5 .9,0 .8,1.2 .9-3.6 .8,1.2 .9-.3 .8,2.3 .9-3.7 .8,3 .9-1.8 .8,.9 .9-.4 .8,3 .9-3.4 .8-.5 .9,2.6 .8-1.7 .9,1.6 .8-.8 .9,.1 .8,0 .9-2.4 .8-.5 .9,5.6 .8-4.4 .9,2.4 .8-2.3 .9,1.4 .8-.2 .9,2.3 .8-2.2 .9-1.8 .8,.2 .9,2.2 .8,.8 .9,1.5 .8,.1 .9-4.6 .8,1.7 .9-1.4 .8,2.2 .9,1.3 .8-4.3 .9,3.4 .8-.1 .9-1.3 .8-.4 .9,2.8 .8-2.2 .9-1.2 .8,1.5 .9,1.1 .8-.4 .9-3.2 .8,.7 .9,1.1 .8,.7 .9,0 .8-1.7 .9,2.6 .8-.5 .9-2.4 .8,.7 .9,1 .8-1.6 .9,1.8 .8,.1 .9-.7 .8,1.2 .9,1.4 .8-3.5 .9,2 .8-1.1 .9,2.3 .8,.9 .9-2.7 .8-.6 .9,1.5 .8-.9 .9-1.3 .8,.2 .9,1 .8,2.6 .9-1.2 .8,.3 .9-.5 .8,1.8 .9-1.2 .8-2.8 .9,1.8 .8,0 .9-.1 .8-.1 .9-3.1 .8,2.8 .9-1.6 .8,2.5 .9-1.6 .8,.3 .9,.2 .8-2.1 .9,2 .8-1.2 .9,2.3 .8-1.5 .9-1.7 .8,3.5 .9-1.6 .8-.7 .9,.9 .8-.1 .9,.5 .8-2.2 .9,3 .8-.7 .9,1.3 .8-1.1 .9-1.5 .8,2 .9-1.3 .8,.4 .9-2.6 .8,1.2 .9,2.6 .8-.3 .9-2.8 .8,2.1 .9,0 .8,.9 .9-2.3 .8-.7 .9,2.1 .8-1 .9,.1 .8-.3 .9,2.1 .8-2.1 .9,1.8 .8-.3 .9-1.8 .8,2.1 .9,.3 .8-.9 .9-.6 .8,1 .9-1.5 .8,1.2 .9,1 .8-2.7 .9-.5 .8,2.5 .9-1.6 .8,.4 .9,.6 .8-.7 .9,.7 .8-1.1 .9,.5 .8,.3 .9,.7 .8-.9 .9,1 .8-.1 .9-.1 .8-.5 .9,1.3 .8-2 .9,1.7 .8,0 .9-.1 .8-1.3 .9,1.4 .8-.5 .9-1.5 .8,.5 .9-.6 .8,1.8 .9,.6 .8-.4 .9-1.7 .8,0 .9,.7 .8,0 .9,.8 .8-.9 .9,1.3 .8-1.5 .9,1.4 .8-2.2 .9,.8 .8,.5 .9,.7 .8-.3 .9-1.2 .8-.4 .9,1.2 .8-.1 .9-.3 .8,.4 .9-1.2 .8,1.6 .9,.5 .8-1.7 .9,0 .8,1.9 .9-.2 .8-1.6 .9,.1 .8-1 .9,2 .8-.2 .9-.1 .8,1.9 .9-2.2 .8,.1 .9,.3 .8-.4 .9,1.2 .8-1.2 .9,.3 .8,1.8 .9-2.4 .8-.6 .9,1.2 .8-.7 .9,0 .8,.8 .9,.5 .8-2 .9,1.1 .8-1.6 .9,2.6 .8-1.7 .9,1.4 .8,1 .9-.4 .8-.4 .9-2.5 .8,3.4 .9-2 .8,1 .9-1.1 .8,.3 .9,1.5 .8-2.8 .9,.4 .8,.8 .9,1.2 .8-3.1 .9,3.2 .8-1.4 .9,.9 .8,1.7 .9-1.8 .8,.5 .9,.2 .8-1.4 .9,.4 .8-.3 .9,.3 .8-.4 .9-.2 .8-.1 .9,1.8 .8-2.4 .9,1.2 .8,1.1 .9-2.3 .8-.3 .9,2 .8-1.2 .9,0 .8,1.2 .9-.3 .8-.8 .9,.3 .8-1 .9,.8 .8,.4 .9,.5 .8,0 .9,1 .8-1.5 .9,.9 .8-.6 .9-1.1 .8,1.1 .9,0 .8,.3 .9-.1 .8-.3 .9-.9 .8,.5 .9,.5 .8,.3 .9,.1 .8-.3 .9,.2 .8,.7 .9-1.1 .8-.6 .9-.7 .8,1.2 .9,.9 .8-1.3 .9,1.6 .8-2 .9,.4 .8,.3 .9-1 .8,1.9 .9-1.5 .8-.4 .9-.5 .8,2.3 .9,.3 .8-1.9 .9-.4 .8,.8 .9,.4 .8-.4 .9,.8 .8-1.3 .9,2.6 .8-1.4 .9,.6" stroke="#eff144" stroke-width="1.4"/>
<path d="M21,346.2l.9-.4 .8,.5 .9,.6 .8,1.2 .9-5.8 .8,1.2 .9-.1 .8,2.1 .9,.3 .8-1.2 .9,.5 .8,1.3 .9,2.3 .8-4.8 .9,.9 .8,.5 .9,3.7 .8-4.8 .9,1.4 .8-.4 .9-.7 .8,2.1 .9-1.6 .8-.6 .9,.9 .8,.2 .9-1.3 .8-.1 .9,2.7 .8-2.5 .9,2.1 .8-1.5 .9-1 .8-1.8 .9,.6 .8,4.2 .9-.9 .8-1.5 .9-.9 .8,.7 .9,1 .8,1.5 .9-3.5 .8-.5 .9,2.5 .8-.7 .9-1.8 .8-.2 .9,3.2 .8,2.6 .9-4.7 .8-.6 .9,1.2 .8,.3 .9,1.1 .8-.6 .9-2.3 .8,2.5 .9,0 .8-1 .9,1 .8-2 .9,1.2 .8-1.2 .9,1.6 .8,1 .9-3.3 .8,2.4 .9,.8 .8-.5 .9,3.2 .8-3.6 .9,2.7 .8-2.5 .9-1.5 .8,1.2 .9-.6 .8,2.2 .9,.5 .8,.1 .9-1.1 .8-1 .9-.5 .8-.7 .9,2.1 .8-2.2 .9,1.2 .8,.5 .9,.3 .8-2.1 .9,.2 .8,0 .9,2.3 .8-3.4 .9,1.4 .8,1.7 .9,.4 .8,1 .9-2 .8,1 .9-3 .8,2.7 .9,.2 .8,.2 .9-1.6 .8,2.1 .9,.2 .8-1.7 .9,0 .8-.4 .9,0 .8,.3 .9-1.3 .8-.1 .9,1.1 .8-.2 .9,1.5 .8-1.2 .9-.8 .8-.8 .9,1.5 .8-.8 .9-.7 .8,3.8 .9-3.9 .8,3.6 .9,1.5 .8-3 .9-1 .8,1.5 .9-1.6 .8,1.2 .9,1.2 .8-2.7 .9,2.8 .8-1.5 .9,.3 .8,1 .9-2.7 .8,.1 .9,1.8 .8-.2 .9-.6 .8,.2 .9-.2 .8-.7 .9-.3 .8,.5 .9,.9 .8,.3 .9-1.7 .8,2.9 .9,.6 .8-2 .9-1 .8,.6 .9,.9 .8-.8 .9,1.9 .8-2.1 .9,1.2 .8-.5 .9,1.7 .8-1.7 .9,0 .8-1.2 .9,.5 .8-1 .9,4.3 .8-3 .9-.2 .8,.2 .9,.3 .8,.2 .9-2.2 .8,2.9 .9-1.2 .8-.1 .9,1.8 .8-1.5 .9-1 .8,0 .9,1.5 .8-.7 .9,.1 .8-1.3 .9,1.3 .8-.7 .9-.2 .8,2 .9-1 .8-.5 .9,1.2 .8,.8 .9-3.1 .8,2.2 .9-.6 .8-.3 .9,1.4 .8-.5 .9-1.2 .8,1.5 .9-1.3 .8,.2 .9-1.2 .8,1.2 .9,.5 .8-.8 .9,.3 .8,1.1 .9-1.3 .8-.4 .9,2.1 .8-2.2 .9-1.5 .8,1 .9,.9 .8-.8 .9,0 .8,.6 .9,.3 .8-.1 .9,.3 .8,.9 .9,2 .8-1.9 .9-.4 .8-1.2 .9,.7 .8-1.1 .9,1 .8-1 .9,1.9 .8,.9 .9-1 .8,1.5 .9-4.2 .8,2.7 .9-.9 .8,.2 .9-1.1 .8,.9 .9,0 .8-.5 .9,1.6 .8-.4 .9,.4 .8-1.5 .9-.1 .8-.4 .9,1.7 .8,.9 .9-1.6 .8-.6 .9,.7 .8,.3 .9,0 .8-.6 .9,1.2 .8,1.1 .9-2.9 .8,1.1 .9-.3 .8-1.1 .9,.2 .8,1.1 .9,.8 .8-1.6 .9,.3 .8,.1 .9-.2 .8-.9 .9,2 .8-.9 .9,.6 .8,.2 .9-1 .8-.5 .9,.3 .8,.1 .9-.2 .8,.4 .9-.9 .8,.8 .9-.1 .8,.7 .9,.2 .8,1.1 .9-.5 .8-.4 .9-.6 .8,.1 .9,.2 .8-.5 .9,.2 .8-.7 .9,1 .8-1.1 .9,.4 .8-.1 .9,2.7 .8-2.1 .9,.7 .8-1.8 .9,1.5 .8-.7 .9,1 .8-1.1 .9-1.5 .8,2.5 .9-.6 .8-1.2 .9,1 .8-.7 .9,1.4 .8-.5 .9,.2 .8-1.1 .9,1.9 .8-1.6 .9,.8 .8-.5 .9,.3 .8-1.1 .9,1.1 .8,.6 .9-1.7 .8,1.9 .9-1.7 .8,.4 .9-.1 .8,1.5 .9-1.4 .8,.1 .9,.6 .8-.2 .9,.9" stroke="#f0ed43" stroke-width="1.4"/>
<path d="M21,347l.9,.4 .8-2.5 .9,2.3 .8-2.3 .9,0 .8-1.6 .9,1.8 .8,1.5 .9-1.4 .8-3 .9,3.7 .8-2.6 .9,2.6 .8-2.1 .9,3.6 .8-3 .9,2.2 .8-3.7 .9,1.9 .8,.5 .9-2.3 .8,1.2 .9,.1 .8,.9 .9-.1 .8-2.4 .9,4 .8-.8 .9-1.7 .8,2.2 .9-1.7 .8-.5 .9-1 .8-1.8 .9,4.1 .8,1.1 .9-.7 .8,0 .9,1.8 .8-4.6 .9,2.9 .8,1.8 .9-3.1 .8,5.3 .9-5.3 .8-.3 .9-1.7 .8,3.2 .9,.3 .8-.3 .9-.4 .8,.6 .9-1.3 .8-1.8 .9,2.6 .8,.3 .9,2.7 .8-3.9 .9,.7 .8-2.4 .9,0 .8,.8 .9,3.2 .8-1.7 .9,0 .8-.8 .9,1.3 .8,1.4 .9-1.3 .8-.8 .9,.3 .8,.2 .9,.4 .8-.4 .9-.8 .8-1.3 .9,1.8 .8-.1 .9-.2 .8-.3 .9-.9 .8,2.5 .9-1.9 .8,.6 .9-.4 .8-2.3 .9,3.6 .8-2.6 .9,1.7 .8-.4 .9,.5 .8-1.1 .9,2.2 .8,.3 .9-.7 .8-1.3 .9-.9 .8,3.7 .9-4.4 .8,.9 .9,1.6 .8,.2 .9-1.8 .8,1.8 .9-2 .8,2.2 .9-.3 .8-.4 .9,1.1 .8-.8 .9-2.8 .8,3.3 .9-.5 .8,.7 .9-1.2 .8,1 .9-1.4 .8,1.1 .9,.5 .8-1.5 .9-.1 .8,.7 .9,.8 .8-.5 .9-.2 .8,.6 .9-.3 .8-1.5 .9,2.4 .8,0 .9-.3 .8-2.7 .9,4.1 .8-3.5 .9,1.1 .8-.3 .9,1.9 .8-.7 .9-.9 .8,.4 .9-1 .8-.5 .9,1.7 .8,.1 .9-.7 .8,1.5 .9,.2 .8-2.5 .9,1.1 .8,.2 .9-2.3 .8,2.9 .9-.1 .8-.6 .9-.4 .8-.3 .9,1.7 .8-1.9 .9,.9 .8-.4 .9,1.3 .8,.1 .9-1 .8-.3 .9-1.2 .8,.2 .9,1.3 .8,0 .9-.3 .8-1.2 .9,.2 .8-1.8 .9,2.5 .8-4.3 .9,2.6 .8,.9 .9,1.8 .8-2.1 .9,1.7 .8,1.2 .9-1.1 .8-.2 .9-1.6 .8,.8 .9-1.2 .8,2.1 .9-.1 .8,.8 .9-1.2 .8,.2 .9-1.1 .8,1.2 .9,.7 .8-.6 .9,.3 .8-.7 .9,.4 .8-.3 .9-.9 .8,.7 .9,.8 .8-.4 .9-.4 .8-.7 .9,1.3 .8-1 .9,.3 .8,.8 .9,.4 .8-1.5 .9,.2 .8,1 .9-.9 .8,1.7 .9-.6 .8-.8 .9-1 .8,1.6 .9-.5 .8-1.5 .9,.5 .8,.7 .9,.7 .8-2.3 .9,1.6 .8,.2 .9,3.5 .8-3.4 .9,.1 .8-.4 .9,.4 .8,.2 .9-.7 .8,.6 .9,1.2 .8-2.1 .9,1 .8,1.1 .9-2.3 .8,.7 .9-.6 .8,1.3 .9,.2 .8-.5 .9-.4 .8-.1 .9,.3 .8,.8 .9-.7 .8,1 .9,.4 .8-1.9 .9,1.7 .8-.3 .9-1.2 .8-2 .9,1.2 .8,1.5 .9-2.3 .8,2.7 .9-1.8 .8,.9 .9-.8 .8,.2 .9,.6 .8-1.2 .9,.8 .8-.3 .9,1.1 .8-1.5 .9,2.6 .8-.3 .9-2.5 .8,0 .9,.6 .8,.8 .9,.2 .8,.5 .9-.3 .8-.8 .9-.9 .8,.2 .9,.5 .8-.4 .9,2.7 .8-2.4 .9,1.4 .8-.4 .9-1.3 .8-.4 .9,.8 .8,.6 .9-.6 .8,1.2 .9-1.4 .8,0 .9,.7 .8,1.5 .9-1 .8,2.2 .9-3.2 .8,1.3 .9-.5 .8,1.6 .9-2.3 .8,.5 .9-.9 .8-.3 .9,1.6 .8-.1 .9-1.3 .8,1.6 .9-.8 .8,.1 .9,1.5 .8-.9 .9,.3 .8,1.7 .9-2.3 .8-.6 .9,1.5 .8,.3 .9-2.7 .8,.5 .9,.1 .8-.1 .9,1.8 .8-1.3 .9,0 .8,.4 .9,1 .8-1.2 .9,.4 .8-1.5 .9,1.2 .8-.7 .9,.6" stroke="#f2ea42" stroke-width="1.4"/>
<path d="M21,338.8l.9,3.2 .8,2.2 .9-1.1 .8-1.7 .9-.9 .8,2.1 .9,3.7 .8-4 .9,3.3 .8-3 .9,2.4 .8,.1 .9-4.1 .8,1.6 .9,.1 .8,1.9 .9-3.2 .8,2.2 .9-.8 .8,3.4 .9-4.3 .8,2.3 .9-.2 .8,1.8 .9-.6 .8-3.7 .9,4.7 .8-3 .9,1.2 .8-4 .9,5.4 .8-1.9 .9,0 .8-.7 .9,2.2 .8-5.6 .9,3.7 .8-1.1 .9,1.1 .8,2.2 .9-3.3 .8,1 .9-1.4 .8,2.7 .9-1.1 .8,1.6 .9,.9 .8-5.4 .9,.5 .8,1.6 .9,1 .8-1.2 .9,1.9 .8-.9 .9-1.7 .8,1.8 .9-1.2 .8-.4 .9,1.3 .8-.1 .9,1.3 .8-2.8 .9-2.1 .8,4.8 .9-1.1 .8,.1 .9-.1 .8-1.6 .9,.4 .8,2.1 .9-.4 .8-.4 .9,1.2 .8,.8 .9-2.1 .8,1.1 .9,.5 .8-1.4 .9,0 .8-1.1 .9,2.5 .8-.7 .9-.4 .8-1.6 .9,2.7 .8-3.1 .9,2.7 .8,.4 .9-1.3 .8-1.1 .9,0 .8,2.9 .9-1.9 .8,1 .9-1.6 .8-.6 .9,7.1 .8-6.8 .9,1.9 .8,.4 .9-1.2 .8,.3 .9,.2 .8,1.5 .9-2 .8,.7 .9,1.2 .8-2.8 .9-.2 .8,1.4 .9-.4 .8,1.3 .9-.1 .8-.9 .9,.7 .8-.9 .9,2.9 .8-1.5 .9-1.3 .8,2.8 .9-2.4 .8,.7 .9-1.8 .8-.3 .9,2.9 .8-2.3 .9-.4 .8,.2 .9,1.6 .8-1.3 .9-.5 .8-1.7 .9,1.8 .8,1 .9-.7 .8-.1 .9,2.7 .8-1.5 .9-1.1 .8,1 .9-1.5 .8,1.6 .9,2.5 .8-3.3 .9,1.4 .8-1.7 .9-.8 .8,1 .9,0 .8,1.1 .9-.7 .8-.8 .9,.2 .8,.4 .9,.5 .8-2.3 .9,1.2 .8,.5 .9-1.6 .8,2.7 .9-1 .8-1.1 .9,.3 .8,1.8 .9-1.5 .8-.5 .9,1.6 .8,1.3 .9-3.5 .8,1.7 .9,1.5 .8,.4 .9-1.1 .8-.3 .9-1.8 .8,1.8 .9-1.1 .8,.1 .9,1 .8-1.3 .9,.3 .8,2.1 .9-1.1 .8-2.2 .9,.8 .8-.4 .9,1.4 .8-1.3 .9,.9 .8,.2 .9,.4 .8-.4 .9,.1 .8-.2 .9-.8 .8,1.6 .9-.7 .8-.8 .9-.5 .8,1.3 .9,.8 .8-.7 .9-1.3 .8,.7 .9-1.4 .8,1.5 .9,1 .8-.6 .9-.3 .8-.3 .9,.1 .8,.5 .9-1.8 .8,1.2 .9-1.3 .8,2.6 .9-1.8 .8,1.7 .9-2.2 .8,2.9 .9-.8 .8-.5 .9-.4 .8,0 .9,0 .8,1 .9-.3 .8,.3 .9-1.2 .8,.2 .9-1.2 .8-.2 .9,1.8 .8-.7 .9,.6 .8-.2 .9-.1 .8,0 .9-1.5 .8,1.5 .9,.4 .8-.3 .9,.3 .8-2 .9,2.4 .8-.1 .9,0 .8-.3 .9,.2 .8,.4 .9-1.1 .8,.2 .9,.6 .8-1.6 .9,1.6 .8-1.1 .9,.2 .8-.2 .9,.8 .8-1.2 .9,2.1 .8-1.6 .9-.1 .8,1.9 .9-1.3 .8-1.3 .9,1.4 .8,.6 .9,.5 .8-.4 .9-.8 .8,2.2 .9-2.2 .8-1.3 .9,4.4 .8-1.9 .9-.3 .8,1.2 .9-1.2 .8-.8 .9,.4 .8-1 .9,1 .8-1 .9-.1 .8-.5 .9,1.2 .8,.5 .9-.9 .8-1 .9,.6 .8,.6 .9-.1 .8-.2 .9-.5 .8,2.3 .9-1.3 .8,.2 .9-.1 .8-1.1 .9,2 .8-1.5 .9,.3 .8-.9 .9,0 .8,1.1 .9-.8 .8,.7 .9,.3 .8,1.1 .9-3.6 .8,3.5 .9,.2 .8-1.8 .9,.5 .8,.8 .9-1.7 .8,2.1 .9-2.5 .8,1.7 .9-.4 .8-1.5 .9,.8 .8,.5 .9-.3 .8,.1 .9-.1 .8,1 .9-.4 .8-.1 .9,.1 .8,.1 .9,.7 .8-1 .9,.2 .8-.7 .9-.6" stroke="#f3e641" stroke-width="1.4"/>
<path d="M21,342.4l.9,1.7 .8,.9 .9-1 .8-.7 .9,2.7 .8-1.8 .9-1 .8-.5 .9,2.8 .8-1.8 .9,1.4 .8-.2 .9-.2 .8-.3 .9,1.3 .8-3.1 .9,2.5 .8-1.3 .9-.2 .8,.7 .9-.5 .8,.9 .9-1.2 .8,4 .9-5.3 .8,2.3 .9-1 .8-1.1 .9,2.3 .8,1.6 .9-3.4 .8,3.3 .9-3.9 .8,2.2 .9-1.5 .8-.5 .9,.7 .8-.1 .9,1.6 .8,1.8 .9-1.1 .8,1 .9-2.3 .8-.6 .9,2.7 .8,1.8 .9-5.6 .8,1.8 .9,1.1 .8-.9 .9-1.4 .8,2 .9-2.8 .8,5.2 .9-2.4 .8-3.2 .9,3.9 .8,.4 .9-.1 .8-1.4 .9-1.8 .8,.6 .9,3.2 .8-2.5 .9-.7 .8,.5 .9-1.5 .8,1.4 .9,.8 .8-1 .9,2.8 .8-3.2 .9,2.5 .8-.3 .9,.9 .8-1.5 .9-2.6 .8,.7 .9,1.7 .8-1.3 .9,2.4 .8-3.2 .9,2.7 .8-1.3 .9,1.4 .8,.1 .9-5.4 .8,3.6 .9,1.2 .8-.3 .9-1.7 .8,1 .9,.4 .8-.3 .9,1.6 .8,.6 .9-1.1 .8-2.1 .9,.4 .8,1.8 .9,.3 .8-1.8 .9,.2 .8-1.9 .9,3.8 .8-1.4 .9-.5 .8,1.3 .9-.3 .8,1 .9-2.4 .8,1.2 .9-1.3 .8,1.1 .9-.6 .8-.9 .9,.4 .8,1.6 .9-1.3 .8,.7 .9-2.3 .8,2.7 .9-2.9 .8,2 .9,.7 .8,4 .9-3.9 .8-1.2 .9,.5 .8,.8 .9,.1 .8-.8 .9,1.3 .8-.3 .9-1.4 .8,1 .9,.3 .8-1.8 .9,.4 .8,1.1 .9-.5 .8,1.7 .9-.8 .8-1.1 .9,1.5 .8-1 .9,.7 .8,2 .9-3.4 .8-.9 .9,2.5 .8-1.5 .9-.1 .8,1.7 .9-1.4 .8-1.9 .9,3.5 .8-1.5 .9-.6 .8,1.2 .9-.2 .8-1.6 .9,2.2 .8-1.9 .9,1.4 .8-.6 .9,.9 .8-.1 .9-1.3 .8,.3 .9,2.2 .8-.9 .9,.1 .8,.1 .9-.6 .8-1.7 .9,1 .8,.2 .9,.3 .8-2.1 .9,3.3 .8-1.9 .9,1.9 .8-3.4 .9,2.7 .8-1.4 .9,1.8 .8-1.7 .9,1.8 .8,0 .9-2.1 .8,.1 .9,.2 .8,.6 .9,.3 .8-1.1 .9,.4 .8,.3 .9,.7 .8-1.3 .9,1 .8,.2 .9,.4 .8-1.5 .9,1.8 .8,.2 .9-.7 .8-.6 .9,.5 .8-.9 .9,.3 .8,.9 .9-1.1 .8,.1 .9,0 .8,.3 .9,.8 .8,0 .9-2 .8,1.1 .9-.1 .8,1.5 .9-.4 .8-1.3 .9-.1 .8-2.8 .9,3.7 .8-.1 .9-.4 .8-1.1 .9,1 .8-.3 .9-.3 .8,.5 .9-1.2 .8,.7 .9-1.7 .8,2.6 .9,1.3 .8-3.1 .9,2 .8-.5 .9-.4 .8,1.2 .9-3.1 .8,2.6 .9-.7 .8,.3 .9-1.3 .8,1.3 .9,.5 .8-.3 .9-1.7 .8,2.5 .9-.6 .8,0 .9,.4 .8-1.1 .9,1.3 .8-.6 .9-.5 .8,.2 .9,.8 .8,1.2 .9-2.4 .8-4.1 .9,5 .8-1.2 .9,.5 .8-.6 .9,1.3 .8-.4 .9-1.5 .8,1.1 .9-.3 .8,.1 .9,.4 .8,.8 .9-1.9 .8,2.3 .9-2 .8,1.4 .9,1.7 .8-2.3 .9,1.3 .8-.9 .9-.6 .8,1.5 .9-2.3 .8,1.7 .9-.9 .8,1.1 .9,.1 .8-.4 .9-.4 .8,.9 .9-2.9 .8,2.8 .9,.2 .8-1.4 .9,.6 .8,.2 .9,.8 .8-1 .9-.3 .8-.2 .9-.5 .8-.7 .9,2.7 .8-.2 .9-.2 .8-1.1 .9,1.2 .8,1.4 .9-2.3 .8,.4 .9-1.4 .8,1.3 .9,1.1 .8-.4 .9-.1 .8-.3 .9-1 .8-.4 .9,.2 .8,.6 .9-.2 .8,1.4 .9-2.3 .8,1.7 .9-1.8 .8,1.1 .9,0 .8,.9 .9-1.1 .8,.2 .9,.3" stroke="#f4e240" stroke-width="1.4"/>
<path d="M21,345.7l.9,1.4 .8-2.6 .9,2.2 .8-3.4 .9,2.8 .8,4 .9-5.4 .8,.5 .9,.5 .8,1.4 .9-3.2 .8,.8 .9,1 .8,0 .9-1.1 .8,4.5 .9-.1 .8,1.1 .9-2.4 .8-2.5 .9-.5 .8,.5 .9-1.8 .8,1.5 .9,1.7 .8-1.1 .9-.7 .8-1 .9,3.1 .8-2.6 .9,.4 .8,3.6 .9-6.9 .8,2.4 .9-.8 .8-2.1 .9,1.1 .8-.8 .9-.2 .8,2.9 .9-2.5 .8-2.5 .9,5.5 .8-1.3 .9-2.7 .8,1.8 .9,1.6 .8-1.2 .9,1.1 .8,1.6 .9-1.5 .8,.6 .9-.3 .8-.4 .9-1.6 .8,2.8 .9-2.7 .8,1.3 .9-2.2 .8,2.4 .9,.7 .8-1.3 .9,.4 .8,3.7 .9-.9 .8-2.2 .9,2.4 .8-1 .9,1.2 .8-1.8 .9,1.5 .8,.3 .9-.8 .8-.5 .9,3.3 .8-2.9 .9,2 .8-1.8 .9-.5 .8,1.4 .9-2.6 .8,1.5 .9,1.4 .8-2.8 .9,1.2 .8,.9 .9,.6 .8,1.2 .9-.3 .8-1.3 .9-2.7 .8,2.9 .9-.2 .8-.6 .9,.5 .8-1.8 .9,2.4 .8-1.1 .9-2 .8,1.4 .9,.7 .8-1 .9-.6 .8,1.5 .9-1.1 .8-.5 .9,.2 .8-.4 .9-.6 .8-.4 .9,1.7 .8-.1 .9-.8 .8-1.7 .9,1.7 .8,.9 .9,.4 .8-2.2 .9,2.4 .8,.2 .9,.2 .8,1.3 .9-5.3 .8,2.9 .9-.3 .8,3 .9-1.9 .8,1.4 .9-1.8 .8,.2 .9-.8 .8,1.3 .9-2 .8,.5 .9,.5 .8-1.5 .9-1.7 .8-.3 .9,.6 .8,2.6 .9-2.9 .8,1.2 .9,.6 .8-1.7 .9,1.2 .8-1 .9,1.6 .8,.2 .9-1.8 .8,1.6 .9-.5 .8,1.5 .9,.7 .8-1 .9-.8 .8,.2 .9,2.5 .8-.3 .9-.1 .8-.5 .9-.3 .8,1.3 .9,.3 .8,1.5 .9-1.2 .8-.8 .9,2.3 .8-4.6 .9,1.8 .8,1.6 .9-1.2 .8-.2 .9,.7 .8,1.3 .9-2.1 .8,2.3 .9-3.4 .8,.2 .9-.2 .8,.4 .9-1.2 .8,1.9 .9,.6 .8-1.3 .9-.7 .8,.6 .9,.5 .8-1.4 .9,1.1 .8,2.2 .9-2.3 .8-.5 .9-.4 .8,2.2 .9-1.8 .8,.5 .9,2 .8-2.4 .9,.9 .8-.2 .9-1.6 .8-.1 .9,2.9 .8,.5 .9-2.8 .8,2.4 .9-3.3 .8,.4 .9-1 .8,1.2 .9,.1 .8-1 .9,0 .8-.7 .9-.1 .8,.4 .9,1.9 .8-.9 .9,.3 .8,1.4 .9-.2 .8-.4 .9,.5 .8-1.2 .9,.2 .8,4 .9-1.6 .8-.8 .9,.8 .8-1.4 .9,.1 .8-.2 .9-2.6 .8,1.3 .9,1.4 .8-1.1 .9,.7 .8,2 .9-1.6 .8-.6 .9,1 .8-.5 .9-.8 .8-.8 .9,2 .8-.7 .9-.7 .8-.7 .9,1.2 .8-.6 .9-.1 .8,1.3 .9-1 .8,1.2 .9,.3 .8-1.4 .9,.3 .8,0 .9-.3 .8,.7 .9-.9 .8-.2 .9-.5 .8,1.2 .9,.4 .8,.4 .9-1.1 .8-.1 .9-1.1 .8,1.7 .9,.6 .8-.2 .9-.4 .8,1.6 .9-1.6 .8-.9 .9,.2 .8,1.3 .9-.4 .8,2.3 .9-2.3 .8,.6 .9-1.3 .8-.3 .9,1.8 .8,0 .9-4.1 .8,3.7 .9,.1 .8,.9 .9-1.5 .8-.6 .9,.2 .8,1 .9-1.8 .8,1.5 .9-.5 .8-.5 .9-.6 .8,.9 .9,1.1 .8-.4 .9,.4 .8-4.2 .9,3.5 .8-1.4 .9,2.6 .8-1.6 .9,1.5 .8-2.4 .9,.8 .8-5.3 .9,8.8 .8-4.8 .9,.1 .8,1.2 .9,1.4 .8-2.2 .9,1.6 .8-1.9 .9,2.3 .8-.8 .9,1.4 .8-1 .9-.7 .8-.2 .9,1.2 .8,0 .9,.5 .8,0 .9-1.2 .8,.3 .9-.5 .8,0 .9,.7 .8,.2 .9-.4" stroke="#f6db3d" stroke-width="1.25"/>
<path d="M21,348l.9,.8 .8,1.9 .9-5.5 .8,3.6 .9-1.5 .8,.2 .9-2.7 .8,4.6 .9-5.2 .8,3.1 .9,4.7 .8-4.3 .9,2.6 .8-3.4 .9,2 .8,3.3 .9,.2 .8-2.3 .9-1.3 .8,.2 .9,.2 .8-1.9 .9,2.9 .8-3.5 .9-.3 .8-1.2 .9-1.5 .8,2.3 .9-2.7 .8,.5 .9-2 .8,3 .9-4.5 .8,.9 .9-7.2 .8,3.6 .9,1.1 .8-2.6 .9,2.4 .8-1.5 .9,5.6 .8-4.8 .9,.6 .8,4.1 .9-3.2 .8-1 .9,2.8 .8-1.4 .9-2.3 .8,4.8 .9,.6 .8-3 .9,3.4 .8-4.1 .9,1.8 .8,1.6 .9-.8 .8-2.3 .9,1.8 .8-.3 .9-.8 .8,4.3 .9,2.9 .8-4.2 .9-.6 .8,2 .9,2.3 .8,.2 .9-1.4 .8,2.9 .9-2.4 .8,1.6 .9,3.3 .8-2.7 .9-.1 .8,.7 .9-1 .8,.5 .9-1.2 .8-.2 .9-.2 .8,2.7 .9-2.5 .8,2.4 .9,2.7 .8-2 .9-1.8 .8,1.3 .9,1.3 .8-2.7 .9,2.3 .8-3.8 .9,.6 .8,2.6 .9-3.2 .8,3.2 .9-2.7 .8,.7 .9-1 .8-1.7 .9,1.9 .8-1.4 .9,.9 .8-3.3 .9-1.6 .8,2.8 .9-.2 .8-.9 .9,1.1 .8-.7 .9-2.7 .8,.2 .9,.6 .8,.7 .9-.1 .8,.9 .9-2.7 .8,4.5 .9-.6 .8,1 .9,1.8 .8-.6 .9-1 .8-.1 .9,2.6 .8-1.4 .9,.5 .8-1 .9,2.1 .8,.8 .9-4.1 .8-.3 .9-1 .8-1.3 .9,3 .8-1.3 .9-4.3 .8,0 .9,1.5 .8-1.4 .9,.7 .8-2.2 .9,2.5 .8-4.8 .9,4.4 .8-1.2 .9,1 .8,1.2 .9-.9 .8,.5 .9,.3 .8,3.1 .9-3.1 .8,1.9 .9,1.8 .8-1.9 .9,.2 .8,2.4 .9-3.9 .8,1.6 .9,3 .8-.2 .9,1.5 .8-1.7 .9,2.1 .8-1.4 .9-.5 .8,2.5 .9,.1 .8-2.4 .9,.5 .8,.4 .9,.4 .8-.7 .9-.5 .8,2 .9-1.4 .8-2 .9-.8 .8,1.4 .9,1.6 .8,0 .9-2.3 .8,2.3 .9-.8 .8,.2 .9-.4 .8-1.7 .9-.2 .8,2.4 .9-2.3 .8,1.3 .9,.3 .8-1.2 .9,1.2 .8-.1 .9,.9 .8-1.9 .9-.4 .8,0 .9-1.5 .8,1.3 .9-1.4 .8,.6 .9,.2 .8-.7 .9-2.8 .8,3.1 .9-1 .8-1.4 .9,.6 .8,1.4 .9-2 .8-.1 .9,.9 .8,.4 .9-.8 .8-.9 .9,1.2 .8-1.3 .9,4 .8-.7 .9-.4 .8-1.6 .9,1.9 .8,2.1 .9-.5 .8-.5 .9-5.6 .8,6.1 .9-.4 .8,1.8 .9-1.1 .8,.7 .9,.7 .8-1.8 .9-.7 .8,.3 .9,1.2 .8,1.3 .9-1.3 .8-1.6 .9,2.7 .8-2.6 .9,.8 .8-.7 .9,1.2 .8-1.8 .9,.8 .8,.8 .9-1 .8,.3 .9,.1 .8-1.8 .9,1.8 .8-1.4 .9,.5 .8,0 .9,.1 .8,1.1 .9-1.5 .8,1.3 .9-1 .8-.4 .9-.1 .8,.8 .9,.1 .8-.9 .9,1.1 .8-.4 .9,.4 .8-.1 .9-.1 .8-.5 .9,2.8 .8-.8 .9-1.4 .8,.1 .9,.1 .8,1.8 .9-2.4 .8,2.1 .9-1.4 .8,0 .9-.9 .8,1.8 .9,.8 .8-.9 .9-1.2 .8-1.4 .9,1.5 .8,.7 .9-1.8 .8,1.5 .9-1.8 .8,.2 .9,0 .8,2.6 .9-1.7 .8-1.2 .9,.7 .8-1.6 .9,.5 .8-.2 .9,1.9 .8,.6 .9-1.9 .8,1.8 .9-2.2 .8,2.1 .9-.7 .8-.3 .9-1.3 .8-2 .9,2.6 .8-.6 .9,.8 .8,.6 .9-.2 .8-.5 .9,1 .8-.5 .9-.6 .8,1.5 .9-.9 .8-.2 .9,2.7 .8-2 .9,.5 .8-1.2 .9,1.6 .8,1.8 .9-1.7 .8,0 .9-1.3 .8,1.6 .9-2.4" stroke="#f7d33c" stroke-width="1.25"/>
<path d="M21,351.9l.9-.1 .8-3.4 .9,2.3 .8-4.7 .9,3.1 .8,2 .9,1 .8-1.8 .9-.9 .8,2.1 .9-5.3 .8,3.1 .9,3.3 .8,.6 .9-2.3 .8,3.9 .9,3 .8-5.9 .9,1.4 .8,1.2 .9-4.6 .8,4.1 .9-3.3 .8-1.3 .9,1.1 .8-.8 .9-1.5 .8-3.1 .9,2.8 .8-6.1 .9-1.3 .8-3 .9-1.5 .8-2.5 .9,.8 .8-1.6 .9,2.5 .8-3.2 .9,1.1 .8,2.9 .9-2.7 .8-.7 .9,1.4 .8,1.4 .9,.3 .8,1 .9,.1 .8,.8 .9,.7 .8,3.3 .9,.9 .8-1.4 .9,.4 .8-1.7 .9,.9 .8-1.9 .9-.8 .8,2.9 .9-.2 .8,3.7 .9-3.4 .8,2.7 .9-.3 .8-1 .9-3.6 .8,7.1 .9,.2 .8,.6 .9,1.6 .8,.7 .9-.4 .8,4.4 .9-2.3 .8-.1 .9-3 .8,3.5 .9-2.4 .8,1.4 .9,1 .8,3.2 .9-2.4 .8-1.1 .9,2.3 .8-1.4 .9,1.9 .8-1 .9-1.1 .8-.8 .9,.8 .8,1.4 .9-1 .8,.6 .9-.5 .8-.7 .9-.2 .8-1.5 .9,.5 .8,.9 .9-1.5 .8-.6 .9,.6 .8-3.9 .9,1.1 .8-.6 .9-1.1 .8-1.8 .9,.3 .8,.4 .9-1.1 .8-1.2 .9,2 .8-1.7 .9-.6 .8,2.3 .9-1.6 .8,.4 .9,3.8 .8-.8 .9,.2 .8-1.2 .9,1.7 .8,2 .9,2.2 .8-1.9 .9,.2 .8,.5 .9-.4 .8-.4 .9-1 .8,1 .9-.8 .8-1.7 .9-1.2 .8,2.3 .9-6.5 .8-1.1 .9,1.7 .8-2.7 .9,1.2 .8-3.4 .9-2.7 .8,2.4 .9-.8 .8,3.6 .9-2.5 .8,1.5 .9,3.6 .8-2 .9,1.1 .8-1.4 .9,2.9 .8,.7 .9,.3 .8,.3 .9,2.2 .8-1.3 .9,1.4 .8,1 .9,.7 .8,2.6 .9-1.5 .8,1 .9,1 .8-1.6 .9,.1 .8,1.5 .9,0 .8,2.1 .9-.6 .8-1.9 .9,.5 .8-3.8 .9,1.6 .8,2.1 .9,.2 .8-.9 .9,2.4 .8-1.8 .9-1.2 .8-1.3 .9,.1 .8,.3 .9-1.1 .8-.5 .9,2.3 .8-1.3 .9-2 .8-.3 .9,1 .8,.7 .9-.5 .8-.7 .9,1 .8-3.2 .9,4.2 .8-.6 .9-.1 .8-2.2 .9,.3 .8,.3 .9-1.3 .8,.2 .9,.5 .8-1.9 .9,.6 .8-1.7 .9,2.3 .8-1.7 .9-2.8 .8-.2 .9,1.1 .8-1 .9-.3 .8,3.1 .9-1.1 .8-1.6 .9,.9 .8-.3 .9,.5 .8-.1 .9,3.6 .8-.5 .9,1.5 .8-.9 .9,3.2 .8-.5 .9,.5 .8-3 .9,4 .8-2.2 .9-2.3 .8,4.3 .9-.3 .8-1.1 .9,.1 .8,.5 .9-.6 .8,.3 .9-.7 .8,.8 .9,3 .8-4.9 .9,.9 .8,.2 .9,.2 .8-.4 .9-.1 .8,0 .9-.6 .8-1.4 .9,1.9 .8-.4 .9,0 .8,0 .9-1.3 .8,1.5 .9-.4 .8,1.3 .9-1.7 .8-1.3 .9,.8 .8,.8 .9-1.6 .8,1.6 .9-.7 .8,.3 .9,.7 .8-.9 .9,1.2 .8,1.1 .9-1.4 .8-.8 .9,.7 .8,1.6 .9,.1 .8-1.8 .9,1.3 .8,.8 .9-.4 .8,.5 .9-2.1 .8,1.4 .9-2.7 .8,3.9 .9-1.2 .8-.6 .9-.1 .8,.2 .9-.8 .8,.7 .9,.1 .8-1.6 .9,1.4 .8-2 .9,1 .8,.8 .9-.4 .8-.4 .9-1.2 .8,2.9 .9-3.3 .8,2.2 .9-2.9 .8,.3 .9,1.4 .8,.2 .9-.4 .8,.5 .9-1.3 .8-.3 .9,0 .8-.5 .9,.1 .8-.7 .9,.3 .8,.2 .9,.5 .8-1.5 .9,2.1 .8,1 .9-.7 .8-1.9 .9,2.7 .8,.1 .9,1.7 .8-2.7 .9,1.7 .8,.3 .9-1.7 .8,.6 .9,.4 .8,.6 .9,.5 .8-.1 .9-1.5 .8,.1 .9,.3" stroke="#f8cb3d" stroke-width="1.25"/>
<path d="M21,353.9l.9-4.5 .8,2.2 .9,1.5 .8-1.7 .9,.6 .8-2.4 .9,3.5 .8-4.2 .9,2.8 .8,.9 .9,1.5 .8-.2 .9,3.2 .8,.2 .9,2.5 .8-1.8 .9,1.6 .8-.1 .9-1.4 .8-.9 .9-2.9 .8-3.3 .9,2.7 .8-.3 .9-.3 .8-5.1 .9,0 .8-.3 .9-4.3 .8-1.8 .9-1.8 .8-2.3 .9-2.6 .8-4.4 .9,.7 .8-.9 .9-.7 .8,1 .9-2.7 .8,4.1 .9-3.7 .8,3.5 .9,.3 .8,3.2 .9-2.2 .8,1.6 .9,2.7 .8,.8 .9-2.4 .8,5 .9-2.3 .8,1.1 .9-1.6 .8-.7 .9-.7 .8-2 .9,1.2 .8,4 .9-2.5 .8,4.4 .9,.7 .8,.4 .9,.7 .8,4.1 .9-2.1 .8,2.3 .9-.3 .8,3.3 .9-4.2 .8,2.7 .9,.1 .8,2.7 .9-2.1 .8,4.5 .9-.1 .8-1.8 .9-.9 .8,2.8 .9-2 .8,.7 .9,3 .8,1 .9,.5 .8-3.4 .9,.9 .8-1 .9,.1 .8,.1 .9,3.2 .8-.9 .9-1.2 .8-2.1 .9,1 .8,.7 .9-1.4 .8-1.3 .9-.6 .8-.9 .9-1.1 .8-.8 .9-2 .8,1.2 .9-2.3 .8,1.7 .9,.1 .8-.7 .9-2.5 .8,.1 .9,.7 .8-2.9 .9-.9 .8,.7 .9-1.9 .8,1.4 .9-2.2 .8,3.5 .9-1.5 .8,3.2 .9,2.4 .8,.6 .9-.3 .8,1.3 .9,1.9 .8,.3 .9-2.3 .8,1 .9-.1 .8,1.3 .9-3.2 .8,.9 .9-.2 .8-2 .9-1.8 .8-1.6 .9-.1 .8-1.7 .9-4.3 .8-1.1 .9,.4 .8-2 .9-.5 .8,1.2 .9-1.4 .8,1.1 .9,1.3 .8-.7 .9,1.4 .8,1.3 .9,1.5 .8-.4 .9-1.3 .8,3.1 .9,1.3 .8,1.4 .9,.7 .8,2.2 .9,.8 .8,2.8 .9-1.5 .8,1.2 .9,1.3 .8,.6 .9-1.5 .8,.6 .9,2.1 .8,.2 .9-1 .8,.8 .9-.1 .8-.5 .9,.2 .8,0 .9-2.5 .8,3 .9-2.3 .8-.6 .9,1 .8-1 .9,.4 .8-1.2 .9,1.4 .8-1.4 .9-.3 .8-.4 .9-.6 .8-.2 .9,1.9 .8-.3 .9-2.4 .8,1.5 .9-.4 .8,.4 .9-2 .8,1.6 .9-.7 .8-.3 .9-.8 .8,2.7 .9-3.9 .8-.7 .9,1.6 .8-1.2 .9-.6 .8-.6 .9-2.2 .8-.2 .9,.6 .8,.4 .9-2.1 .8-.6 .9,2.7 .8-4.1 .9-2.4 .8,2.4 .9,0 .8-.1 .9,2.2 .8,0 .9-2 .8,2 .9,.7 .8,2.4 .9,.8 .8-.1 .9,1.1 .8-.8 .9,1.9 .8,.2 .9-.4 .8,1.7 .9-.4 .8,1.3 .9-.2 .8,.2 .9,.3 .8-.7 .9,1.2 .8-1.7 .9,.8 .8-.9 .9-1.4 .8,.4 .9-.9 .8,.9 .9-1.2 .8,.1 .9-.5 .8,1.4 .9-.9 .8-.2 .9-1 .8,3.1 .9-.7 .8,.3 .9-.4 .8,.3 .9-1.3 .8,.4 .9,.4 .8,.1 .9-.9 .8-.8 .9-2.6 .8,2.7 .9-.8 .8-.1 .9-1.7 .8,2.5 .9,1.1 .8,.1 .9-1 .8,.5 .9,1.6 .8-.9 .9,.5 .8,1.5 .9-.2 .8-1.6 .9-1.1 .8,1.9 .9,.6 .8,1.1 .9-.5 .8-.5 .9-.6 .8-.2 .9-.2 .8-.8 .9,.7 .8,2.3 .9-2.2 .8-.2 .9-1.8 .8-.5 .9,2.3 .8-.3 .9,.4 .8-.1 .9-.8 .8,.2 .9-.5 .8,.2 .9,.5 .8-2.4 .9,1.8 .8-.9 .9-.6 .8,1.4 .9-1.7 .8,.9 .9-1.5 .8-.5 .9,1.8 .8-1.1 .9-.2 .8-1.6 .9,1.8 .8-.2 .9-1 .8-.6 .9,1.8 .8,1.4 .9-1.2 .8-1.6 .9,1.9 .8,0 .9,.5 .8,1.2 .9,1.1 .8-1.5 .9,2.1 .8-1.2 .9-.2 .8,1.6 .9-2.1 .8,1.1 .9-1.1" stroke="#f8c33d" stroke-width="1.25"/>
<path d="M21,353.5l.9,1.7 .8,2.4 .9-3.1 .8,.3 .9,1.3 .8,.5 .9,3.6 .8-5.5 .9,1.6 .8,3.3 .9-.7 .8,3.8 .9-3.5 .8,3.1 .9,4.6 .8-1.8 .9-3.2 .8,2.8 .9-4.2 .8-.6 .9-2.5 .8-3.2 .9,1.5 .8,3.7 .9-8.5 .8-1 .9-1.2 .8-5.3 .9-2.1 .8-2.3 .9-9.9 .8-.4 .9-.9 .8-4.3 .9,.3 .8,1.8 .9,1.9 .8,1.4 .9-2.1 .8,5.4 .9-4.8 .8,.1 .9,3.7 .8,2.8 .9-.9 .8,1.9 .9,.7 .8-.3 .9,3.1 .8-1.6 .9,1.8 .8-.6 .9,.8 .8-4.6 .9,1.2 .8-.9 .9,4.3 .8-.7 .9,1.1 .8,3.1 .9,1.7 .8,3.4 .9-.9 .8,3.9 .9,.8 .8,.2 .9,0 .8-.2 .9,4.2 .8-1.7 .9,3.7 .8-2.1 .9-.3 .8-1.3 .9-.1 .8,1.5 .9,.2 .8,3.2 .9-2 .8,2.9 .9-5.3 .8,4.8 .9-.8 .8-1.2 .9,1.4 .8,1 .9-1.3 .8,.2 .9,2.4 .8-1.5 .9-.7 .8-1.2 .9-.1 .8,.9 .9-1.8 .8-.8 .9-1.2 .8-2.5 .9,1.3 .8-3.8 .9-.1 .8,.3 .9-3.8 .8,1.3 .9-3 .8-1.8 .9-4.3 .8-1.1 .9,2.5 .8-.6 .9-2.7 .8,3.1 .9,.1 .8,2.6 .9,.5 .8,.9 .9,1.6 .8,1.8 .9,2.2 .8,2.1 .9,.8 .8-1.2 .9,3.3 .8,.4 .9-3.1 .8,.4 .9,.8 .8-2.2 .9,1.5 .8-2.4 .9-3 .8-.9 .9-2.2 .8-3.5 .9-2.8 .8,1.2 .9,.5 .8-3.7 .9-.5 .8-2.2 .9-.8 .8,1.1 .9-1.4 .8,2.2 .9,.5 .8,.9 .9,.1 .8,3.1 .9-2.4 .8,5.1 .9,.6 .8,2.9 .9,0 .8,1.2 .9,1.9 .8,.9 .9,2.4 .8-.2 .9,1.3 .8,2.1 .9-.3 .8,2.8 .9-1.9 .8,2.4 .9-1.6 .8,.7 .9-.4 .8-1 .9,1.6 .8-1.6 .9-.2 .8-.2 .9,1.6 .8-.7 .9-2.7 .8,1.1 .9-.9 .8,.4 .9-1.3 .8-1.5 .9,1.4 .8-.1 .9,.8 .8-3.1 .9,3.5 .8-1.3 .9-1.7 .8-1.2 .9,2.2 .8-.9 .9,.1 .8-2.2 .9,0 .8,1.5 .9-1.5 .8,1.8 .9-5.2 .8,3.6 .9-1.4 .8,1.7 .9-1 .8-1.3 .9,.6 .8-4.6 .9,.7 .8-.2 .9-.9 .8-.1 .9-3 .8,.9 .9-.3 .8,1 .9-.8 .8-3.2 .9,2.7 .8-.5 .9,1.4 .8,1.9 .9-1.7 .8,3.1 .9,1.4 .8,1.3 .9,.6 .8-.2 .9,1.7 .8,.2 .9,3.2 .8-2.3 .9-.1 .8,1.5 .9,1.1 .8-1 .9,1.9 .8-2 .9,1.2 .8-2.1 .9,0 .8,.5 .9-1.7 .8,2.2 .9-.9 .8-1.8 .9,.7 .8,1.7 .9-2.2 .8-1.3 .9,.5 .8,1.8 .9-1.8 .8,1.1 .9-1.7 .8,2.3 .9-.7 .8,.5 .9-.6 .8-.3 .9-.1 .8-.2 .9-.9 .8,.1 .9,3.8 .8-5 .9,.4 .8,.4 .9-.4 .8,.1 .9,.7 .8,.4 .9-.4 .8,.2 .9,.7 .8,.5 .9,2.1 .8,.3 .9-2.4 .8,1 .9,1.2 .8-1.9 .9-.5 .8,2.9 .9-2.2 .8,1.9 .9,0 .8-.5 .9,.1 .8-1.7 .9,2.4 .8-.9 .9-.6 .8-1.7 .9,2.7 .8-3.9 .9,2 .8,.4 .9-2 .8,1.5 .9-1.1 .8-1.1 .9,.9 .8-1.4 .9,.5 .8,.2 .9,1.2 .8-1.5 .9-.9 .8-.2 .9,.1 .8-1.5 .9,.6 .8-1.1 .9,.1 .8,1.7 .9-1 .8,.7 .9-.8 .8-.5 .9,.9 .8-1.3 .9,2.3 .8,1.9 .9-1.8 .8,1.8 .9-.4 .8,.1 .9,1 .8,.8 .9-4.4 .8,4.2 .9-1 .8,1.5 .9-1 .8,.2 .9-.1 .8,.4 .9-.3 .8-.5 .9-.3" stroke="#f9bb3d" stroke-width="1.25"/>
<path d="M21,355.3l.9-2.3 .8,5.8 .9-2.3 .8-2.7 .9,6.3 .8-4.5 .9,2.7 .8,1.8 .9-2.7 .8,2.2 .9-2.4 .8,6.1 .9-1.3 .8,5.6 .9,2.1 .8-1.5 .9,.3 .8-2.9 .9-1.1 .8-3.9 .9,1.4 .8-6.5 .9,.4 .8-1.9 .9-4.4 .8,1.2 .9-4.6 .8-.5 .9-4.6 .8-5.4 .9,.3 .8-8.8 .9-3.2 .8-3.1 .9-.6 .8-.1 .9,3.7 .8-2 .9,2.1 .8,.9 .9,3.8 .8-.5 .9-.1 .8,2.6 .9-.9 .8,3.1 .9,2.5 .8-.4 .9,1.5 .8,1.4 .9-.9 .8-.7 .9-1.4 .8-3.3 .9,3.2 .8-4.1 .9,2.8 .8,3.8 .9,3.1 .8,2 .9,3.5 .8-2.6 .9,5.2 .8,.5 .9,.9 .8,2.9 .9-.8 .8,0 .9,2.2 .8,1.1 .9,.6 .8,1 .9,1.9 .8-.5 .9-1.1 .8,.4 .9,2 .8-.2 .9-2.8 .8,3.8 .9,.3 .8,.3 .9-.2 .8,.2 .9,1.5 .8-.2 .9-.4 .8-.2 .9-.2 .8-.4 .9,1.1 .8,.7 .9-2.3 .8-1.6 .9-1.6 .8,0 .9-.5 .8-2.8 .9-1.6 .8-1.9 .9-3.3 .8,.9 .9,1 .8-6 .9,1 .8-2.6 .9-4.3 .8-.6 .9,.6 .8-3.1 .9,2.2 .8,.5 .9,4.1 .8-2.7 .9,3.3 .8,2.6 .9,0 .8,4.3 .9-1.5 .8,3 .9,.8 .8,1.5 .9,2.4 .8-.6 .9-1.3 .8-1 .9,.2 .8,0 .9-1.7 .8-2.4 .9-.8 .8-2.7 .9-2.1 .8-1.9 .9-1.6 .8-3.4 .9-1.6 .8-3 .9-1 .8-.6 .9-2 .8,.9 .9,.6 .8,.2 .9,2 .8,3.6 .9-1.6 .8,2.3 .9,1.7 .8,1.5 .9,2 .8,3.6 .9,1.2 .8,2.3 .9-1.3 .8,3.6 .9,.3 .8,2.8 .9-1.3 .8,4.1 .9-5.3 .8,3.8 .9,1.2 .8,1.4 .9-1.4 .8,.9 .9,.9 .8-.7 .9,2.2 .8-.1 .9-3.3 .8,1.1 .9-2.4 .8,.9 .9,.5 .8,.7 .9-3.7 .8,.8 .9-.5 .8,1.1 .9-1.7 .8-1.4 .9,2.1 .8-3.2 .9,1.3 .8-.6 .9,.9 .8-2.5 .9,1.3 .8,.9 .9-1.9 .8,1.3 .9,.4 .8-2.1 .9-.8 .8,.7 .9,0 .8-4.3 .9,3.5 .8-2 .9-.5 .8-2 .9-.4 .8-2.1 .9,0 .8-1.2 .9,0 .8-1.3 .9-1.1 .8,1.7 .9-2.1 .8-2.6 .9,2.2 .8,0 .9-1.9 .8,3.6 .9,1.5 .8,.3 .9,0 .8,.6 .9,2.7 .8,2 .9,.5 .8,.1 .9,2.3 .8,1.5 .9-.2 .8-1.2 .9,2 .8,.6 .9-.4 .8,1 .9,.6 .8-.6 .9-.4 .8-.1 .9-2.1 .8,2.7 .9-1.3 .8-1 .9,.4 .8-1.4 .9-3 .8,.1 .9,1.7 .8-2.4 .9,4.6 .8,.3 .9-1.3 .8-3.7 .9,2.9 .8-1.9 .9,1 .8,1.1 .9-1 .8,.7 .9-.9 .8,1.7 .9-1.2 .8-1.9 .9-.7 .8,1 .9,.2 .8,.1 .9,1.1 .8-.3 .9-1.2 .8,4.7 .9-2.5 .8,0 .9,.1 .8,1.7 .9-.2 .8-1.1 .9,.2 .8,1 .9,0 .8,.4 .9-.7 .8,1.4 .9-1.5 .8,.6 .9,.6 .8,.9 .9-1.9 .8,.9 .9-1.9 .8,1.6 .9-1.1 .8-.3 .9-.4 .8-.3 .9-.1 .8,.4 .9,0 .8,1.6 .9-3.3 .8,.5 .9,2.7 .8-3.5 .9,1 .8-1.7 .9,.9 .8-1.4 .9,.1 .8-1.9 .9,.4 .8,.8 .9-.6 .8,1 .9-2.5 .8,1.2 .9-1.1 .8,.5 .9,.5 .8-1 .9,.1 .8,.5 .9,.8 .8,.3 .9,.3 .8,.4 .9,.7 .8-.6 .9,1.7 .8,.8 .9,.2 .8-1.1 .9,0 .8,2 .9-.6 .8,1.3 .9-1.2 .8-.1 .9-.1 .8,1 .9-1.5" stroke="#fab33e" stroke-width="1.25"/>
<path d="M21,360.6l.9,3.7 .8-6.8 .9,1.3 .8,1.1 .9,1.1 .8,.4 .9-2.5 .8,3 .9-.1 .8,.8 .9-1.4 .8,1 .9-.3 .8,8.7 .9,.8 .8,1.9 .9-4.7 .8,.2 .9-1.8 .8-1.1 .9-3.9 .8-1 .9-1.5 .8-5.1 .9,1.7 .8-6.1 .9-3.7 .8-.8 .9-8.2 .8-3.6 .9-4.3 .8-7.4 .9-.6 .8-3.3 .9,2.3 .8-1.7 .9,3 .8-2.3 .9,3.2 .8-1.9 .9,2.7 .8-.4 .9,5.6 .8-4.6 .9,5.4 .8,2 .9-2.6 .8,5.9 .9,1.7 .8-.3 .9-.8 .8,.2 .9-1.8 .8-.6 .9-.9 .8,1.2 .9,1.9 .8,1.1 .9,2.9 .8-1.3 .9,4.1 .8,1.8 .9,2.4 .8,1.3 .9,2.3 .8-.2 .9,.8 .8,3 .9,3.8 .8-1.5 .9,.3 .8,.1 .9,2.4 .8,1.9 .9-3.3 .8,3.8 .9,.2 .8-2.9 .9,2.8 .8-.7 .9,1.5 .8,1.7 .9-.2 .8,.1 .9-.5 .8,1 .9,.1 .8-1.1 .9-1 .8,.6 .9,.5 .8-2.9 .9,.9 .8-2.3 .9-.5 .8,1 .9-2.8 .8-2 .9-1.9 .8-2.4 .9,1 .8-.5 .9-1.1 .8-6.6 .9-.1 .8-1.8 .9-2.7 .8-4 .9,1.4 .8,1 .9-1.5 .8,1.5 .9,1.1 .8,1.8 .9,3.5 .8,2.6 .9,.3 .8,1.1 .9,3.8 .8,.6 .9,.9 .8,1.6 .9,.8 .8-.1 .9-.4 .8-1.3 .9,.3 .8-2.6 .9-1.5 .8,.5 .9-2 .8-3.8 .9-1.8 .8-2 .9-1.5 .8-5.2 .9-1.6 .8-3 .9-1.4 .8-1.2 .9,.5 .8-1.8 .9-.6 .8,3.9 .9,0 .8,4.4 .9-.3 .8,1.7 .9,.7 .8,1.2 .9,3.6 .8,2.4 .9,2 .8,2.2 .9,.1 .8,3.5 .9,1.1 .8,2.3 .9,.5 .8,.3 .9-.2 .8,2.6 .9,2.4 .8-1.3 .9-.7 .8,2.4 .9-1.4 .8-.6 .9,2.2 .8-.9 .9-1.6 .8-.1 .9-.5 .8,1.2 .9-.7 .8-1.7 .9,.3 .8-1.4 .9,1.4 .8-.5 .9-1.1 .8,1.8 .9-3.2 .8,1 .9-.7 .8-2 .9-.6 .8,1.6 .9-2.5 .8,1.1 .9-2.6 .8,.1 .9,1.5 .8-1.7 .9-.6 .8,.8 .9-1.4 .8-.4 .9,.1 .8-1.6 .9-.8 .8,.6 .9-1.4 .8-2.4 .9,0 .8-2.2 .9,1.4 .8-4.1 .9,1.3 .8-1.4 .9-1.1 .8-.7 .9,1 .8-.5 .9,0 .8,.9 .9,.8 .8,3.1 .9-.7 .8,1 .9,2.8 .8-.7 .9,3.4 .8,2.2 .9,1.1 .8,.4 .9,.9 .8,.9 .9-.3 .8,.4 .9,.2 .8,2 .9-3.2 .8,2.7 .9,.1 .8-.3 .9-1.1 .8-.3 .9-1.3 .8,1.6 .9-1.1 .8-3.1 .9,1.5 .8,.6 .9-.5 .8-.8 .9-.4 .8-1 .9,2 .8-.6 .9,.7 .8-.8 .9-1.3 .8,.2 .9,.9 .8-1.4 .9,1.4 .8,1.1 .9,0 .8-.4 .9-3.4 .8,.9 .9,1.2 .8-3.1 .9,2.2 .8,.9 .9-1.1 .8,.4 .9,.5 .8-.3 .9,1.5 .8,1.1 .9,1 .8-4 .9,1.2 .8,1.7 .9,.2 .8-.4 .9,.1 .8,.7 .9,2.1 .8-2.1 .9,.8 .8-.3 .9,.9 .8-1.9 .9,0 .8,.7 .9-.4 .8-.1 .9,1.2 .8-1.6 .9,1 .8-3.7 .9,1.7 .8,.5 .9-.4 .8,.1 .9,0 .8-.3 .9-3 .8,2.3 .9-1.6 .8-1 .9,.2 .8-.5 .9-.4 .8,1.6 .9-1.2 .8-1.8 .9,.5 .8,0 .9-1.6 .8,1.9 .9-1.8 .8-1.5 .9,4 .8-1 .9,.4 .8,1.8 .9-1.3 .8,.8 .9,.6 .8,1 .9,1.8 .8-1 .9-1.6 .8,.6 .9,2.8 .8,.6 .9-2.5 .8,1.5 .9,1.6 .8-2.1 .9-1.3 .8,1 .9,2.8" stroke="#faac3f" stroke-width="1.25"/>
<path d="M21,359.4l.9-.6 .8,2.3 .9-.8 .8-2.2 .9,1.3 .8,2 .9-1.2 .8,5.1 .9-5.2 .8,1.7 .9-1.6 .8,7.5 .9-.5 .8,4.7 .9,4.2 .8-4.2 .9-4.6 .8-.5 .9,4.7 .8-3.7 .9-6.3 .8-1.3 .9-5.8 .8,2.7 .9,.8 .8-6.1 .9-6.2 .8-1 .9-7.1 .8-4.6 .9-6 .8-8.7 .9,1.1 .8-6.5 .9,4.3 .8-.8 .9,1.6 .8,.6 .9,.9 .8,2.4 .9,1.1 .8-4.7 .9,6.1 .8,2.8 .9,1.9 .8,.9 .9,2.6 .8,.3 .9,3.3 .8,.4 .9-2.4 .8-1.9 .9,1 .8-2.8 .9,.2 .8,1 .9,2.3 .8,1.8 .9,3.2 .8,.5 .9,3.4 .8,5.1 .9-1.8 .8,1.5 .9,4 .8-.3 .9,.9 .8,1.8 .9,1.3 .8,1.8 .9,1.8 .8,.6 .9-1.3 .8,2.4 .9,.8 .8,1.2 .9-.2 .8-1.9 .9,2.4 .8,1.3 .9,.6 .8-2 .9,1 .8,3.1 .9-2.8 .8,.7 .9-.8 .8,1.4 .9-.2 .8,.9 .9-1.9 .8-.7 .9-.8 .8,1.8 .9-3.1 .8-3.6 .9-2.2 .8,1.1 .9-3.1 .8-1.5 .9-.9 .8,2.2 .9-4.4 .8-3.7 .9-3.9 .8-2.3 .9-.7 .8-2.2 .9-.4 .8-1.4 .9,.8 .8-.4 .9,1 .8,1.6 .9,4.7 .8,1.3 .9,2.8 .8-1.2 .9,5.4 .8,1.1 .9,3.5 .8,1.6 .9,.4 .8-1.5 .9-1.5 .8,.8 .9,1.7 .8-3.5 .9-1.3 .8-.9 .9-3.9 .8-4.7 .9,.5 .8-4.6 .9-3.5 .8-3.4 .9-.2 .8,.6 .9-5.2 .8-3.3 .9,.8 .8-.8 .9,.8 .8,2.1 .9,.8 .8,3.3 .9-.5 .8,3.3 .9,.2 .8,1.6 .9,5.6 .8,.2 .9,2.7 .8,2.3 .9,2.2 .8,2.2 .9,.7 .8,2.3 .9,2.1 .8-1.5 .9,3.1 .8,1.4 .9-.1 .8,.1 .9,2.6 .8-.6 .9-.3 .8-.3 .9,.3 .8-2.1 .9-.7 .8,.4 .9,.4 .8-1.2 .9,.5 .8-2 .9,2.4 .8-1.7 .9-.9 .8-3.7 .9,3.9 .8-.3 .9,.8 .8-3.8 .9-.6 .8-.2 .9,1.5 .8-2.7 .9,.3 .8-1 .9,3.1 .8-2.5 .9-1.2 .8,.4 .9-.7 .8-1.9 .9,2.1 .8-1.3 .9-1.4 .8-1.6 .9-.1 .8-1.1 .9-.3 .8,3.4 .9-5.4 .8-3.3 .9-1.4 .8-.4 .9-.9 .8-1.6 .9,1 .8,.3 .9-3.4 .8,2.9 .9-.6 .8,1.7 .9-1.3 .8,3.3 .9,1.2 .8,1.6 .9,1.3 .8,.8 .9,2.9 .8,.4 .9,1.9 .8,2.5 .9,1.5 .8-.9 .9,1.3 .8,.6 .9-1.5 .8,1.5 .9,.7 .8,.3 .9,.5 .8-.1 .9-2.6 .8-.7 .9-2.6 .8,1.8 .9-1 .8-.1 .9-1.6 .8,1 .9,1.4 .8-.4 .9-1.3 .8,.2 .9-3.4 .8,4.2 .9-2.5 .8,.3 .9-.1 .8,1.8 .9-1.2 .8,.6 .9,3.1 .8-2.9 .9-2.1 .8,.8 .9-1.2 .8-.3 .9-1 .8,1.9 .9-.6 .8,.8 .9-.5 .8,2.8 .9-2.3 .8,1 .9-.7 .8,3.1 .9,1.2 .8-1.9 .9,.8 .8,.7 .9-1 .8,2 .9-.2 .8-1 .9-.9 .8,1.5 .9,.3 .8-1.5 .9,1.2 .8-.8 .9-.5 .8-.2 .9-.2 .8-.3 .9,1.4 .8-1.4 .9,0 .8,1.1 .9-2.3 .8,.3 .9,.9 .8-.7 .9-2.7 .8,1.7 .9-.9 .8,1.3 .9-1.2 .8-.9 .9-4 .8,1.9 .9,.9 .8-1.1 .9,1.1 .8-.5 .9-1.8 .8,0 .9-.2 .8-.6 .9-.3 .8,4.7 .9-4.4 .8,1.8 .9-.4 .8,.1 .9,2.7 .8-.8 .9,3.6 .8-2.1 .9,2.3 .8-1.9 .9,.9 .8,.9 .9,1.7 .8-2.2 .9,.3 .8,.4 .9-.6 .8,.7 .9-.6 .8-.6 .9,.7" stroke="#f9a741" stroke-width="1.25"/>
<path d="M21,360.9l.9-2.3 .8,5.3 .9-2.3 .8,1.7 .9-.8 .8,.3 .9,2.4 .8-1.7 .9-2.5 .8,6.9 .9-2.4 .8,4.1 .9,1.4 .8,8.6 .9-1.2 .8,0 .9,1.4 .8-5.6 .9-1.1 .8-4.8 .9-2.9 .8-2.3 .9-1.3 .8-5.8 .9-2.7 .8,0 .9-2.1 .8-6.5 .9-4.6 .8-4.2 .9-10.6 .8-7 .9-1.8 .8-3.9 .9,.8 .8,3.8 .9-3.1 .8,2.6 .9-.3 .8,1.5 .9,1.6 .8,.8 .9,2.6 .8-.3 .9,4.2 .8,3.4 .9-.4 .8,3.3 .9,3.3 .8,.8 .9-2.1 .8-1.5 .9,.6 .8-4.1 .9-.1 .8,1.1 .9,1.3 .8,1.3 .9,1.3 .8,2.3 .9,4.9 .8,1.5 .9,2.3 .8,2.8 .9,4 .8,1 .9-1 .8,4.2 .9,.6 .8,2.9 .9-.9 .8,3.2 .9-3.1 .8,2.6 .9,.1 .8-.5 .9,4 .8-2.5 .9,1.5 .8,2 .9-.3 .8,1.1 .9-.9 .8,2 .9-3.1 .8,1.6 .9-.5 .8,1.5 .9-.8 .8-1.3 .9-.3 .8-1.2 .9,.8 .8-.7 .9-.1 .8-5.3 .9,.5 .8-1.3 .9-4.1 .8-1.2 .9-.9 .8-3.7 .9-1 .8-3.5 .9,1.2 .8-3.5 .9-4 .8-.4 .9-2.8 .8,.8 .9-.7 .8,1.2 .9-.2 .8,.5 .9,3.4 .8,4.2 .9,3.1 .8,.3 .9,3.6 .8,.8 .9,2.8 .8,2 .9,3.1 .8-2.1 .9,.1 .8-1.4 .9-.7 .8,.7 .9-1.8 .8-5.2 .9-1.6 .8-3.3 .9-2.8 .8-3.9 .9-3.3 .8-1.7 .9-2.9 .8-5.3 .9-2.1 .8,1.2 .9-1.2 .8-1.3 .9,1.1 .8,1.6 .9,.5 .8,4.1 .9,2.1 .8,2.1 .9,3.5 .8,.4 .9,4.4 .8-1 .9,4 .8,2.4 .9,1.1 .8,2.4 .9,2.2 .8,2.1 .9,3.3 .8,.2 .9-1.4 .8,1.6 .9,.2 .8,3.1 .9,.3 .8-.1 .9,1.8 .8-1.6 .9-1.1 .8,.6 .9,.7 .8-2.2 .9,.5 .8-.1 .9,.2 .8-.4 .9,.9 .8-3 .9-.9 .8-1.9 .9,2 .8-1.6 .9-.2 .8-3 .9,2.6 .8-1.3 .9-.7 .8-.5 .9-1.2 .8,.4 .9,1.5 .8-1.4 .9-1.6 .8,.1 .9,.6 .8,.3 .9-2.8 .8-.4 .9-.6 .8-1 .9,.5 .8-3.5 .9-.7 .8-.7 .9-.4 .8-1.7 .9-2.2 .8-1.9 .9,1.1 .8-2.4 .9,.3 .8-3.3 .9,3 .8-1.5 .9,1.2 .8,1.4 .9,.2 .8,2.1 .9-.6 .8,3.4 .9,2.1 .8,.1 .9,5.6 .8-.1 .9-.7 .8,.9 .9,2.7 .8-1 .9,2.9 .8,.3 .9-1.7 .8,5 .9-3.3 .8,.8 .9-1.5 .8-.3 .9,1.3 .8-.7 .9-.9 .8-.5 .9-1.1 .8,1.1 .9-1.5 .8-1.5 .9,0 .8-.8 .9,.6 .8,.8 .9-.4 .8-1.2 .9-.1 .8,1 .9-.2 .8,1.7 .9-2 .8,1.7 .9-1.7 .8,1.6 .9-.7 .8-.9 .9-2.6 .8,.3 .9,.1 .8-1.3 .9,2.1 .8,2.2 .9-.4 .8-1.4 .9,.6 .8,2.6 .9,.2 .8-1.4 .9,0 .8,.8 .9,.1 .8-.8 .9,1.3 .8,2.5 .9-.1 .8-1.5 .9,3.5 .8-2.1 .9-1.1 .8-.9 .9,0 .8,0 .9,.5 .8-.9 .9,.9 .8,.3 .9,.2 .8-3.4 .9,1.4 .8-.7 .9-.2 .8,0 .9,.7 .8-2.2 .9-.1 .8,.8 .9-.1 .8-2.5 .9,.3 .8-.9 .9-.4 .8-.7 .9,1 .8-.2 .9-.9 .8-2 .9,.2 .8,2.6 .9-2.5 .8-.1 .9,1.4 .8-1 .9,.2 .8,.1 .9,2.1 .8,.2 .9,0 .8,.7 .9-.5 .8,2.2 .9-.5 .8,.6 .9,2.5 .8-.2 .9-1 .8-.2 .9,.5 .8,.9 .9-1.1 .8,1.4 .9-.6 .8-.3 .9,1.5" stroke="#f8a243" stroke-width="1.25"/>
<path d="M21,360.7l.9,.6 .8-.7 .9,2.4 .8-2 .9,3.9 .8-1.9 .9,2.1 .8-3.5 .9,.1 .8,2.9 .9-2.2 .8,9.4 .9,4 .8,.2 .9,6.6 .8-8.1 .9,3.3 .8-3.4 .9-2.3 .8-2 .9-4.2 .8,1.4 .9-6.8 .8-1.4 .9-1.5 .8-4.1 .9-7 .8-2.4 .9-7.9 .8-4.3 .9-8.5 .8-3.8 .9-8.6 .8-3.5 .9,1.4 .8,3.6 .9,0 .8,1.5 .9-1.9 .8,2.9 .9,1 .8,1.5 .9,.4 .8,4.7 .9,.5 .8,4.8 .9,.7 .8,3.3 .9,3.6 .8-.1 .9,.2 .8-3.9 .9,.7 .8-3.8 .9,.8 .8-.8 .9,1.2 .8,3.9 .9,4.5 .8,1.3 .9,1.3 .8,1.2 .9,3.4 .8,3.4 .9,1.8 .8,3.5 .9,.7 .8,.9 .9,5.5 .8-.4 .9,.3 .8,2.2 .9-1.4 .8,1.1 .9-.7 .8,4.2 .9-3.2 .8,5 .9-3 .8,3.3 .9-2.3 .8,.9 .9,.2 .8,.7 .9,1.5 .8,.6 .9,.4 .8-1.6 .9-.3 .8,1 .9,.1 .8-2.8 .9-.9 .8-.2 .9-2.7 .8-1.4 .9-.7 .8,.3 .9-4.1 .8-3.4 .9-2.9 .8-3 .9,2 .8-5.3 .9-.2 .8-5.3 .9,.1 .8-1.3 .9-3.2 .8,1.1 .9-1.4 .8,.8 .9,3.2 .8,.7 .9,.3 .8,2.5 .9,4.3 .8,1.2 .9,3.4 .8,.6 .9,3.9 .8,1.5 .9-.2 .8,.1 .9,1.3 .8-3.4 .9,4.1 .8-3.9 .9-3.6 .8-1.7 .9-3.6 .8-3.2 .9-.6 .8-1.5 .9-7.7 .8-2.8 .9-2.8 .8-2.3 .9-.3 .8-5.7 .9,.8 .8,.6 .9,.2 .8,1.3 .9,3.2 .8-1.1 .9,3.8 .8,4.1 .9-.5 .8,3 .9,4.5 .8,2.3 .9,2 .8,.3 .9,6.4 .8-.3 .9,3.7 .8,1.9 .9,3 .8,.3 .9-1.3 .8,1.1 .9,1.3 .8,1.3 .9,1.3 .8-.1 .9,1.4 .8-1.1 .9-2.5 .8,.7 .9,.3 .8-.2 .9,.7 .8-.8 .9-.2 .8,.7 .9-6.9 .8,1.5 .9-.4 .8,1.4 .9-1.6 .8-1 .9-.8 .8,.7 .9,.3 .8-1.4 .9,.3 .8-.9 .9-.7 .8,.6 .9-1.7 .8,.9 .9,.3 .8-2.3 .9,.7 .8,.8 .9-3.3 .8,.3 .9-.7 .8-.5 .9-2.2 .8,.7 .9-.9 .8-4.2 .9-1.1 .8-1.1 .9,0 .8-1.6 .9-2.8 .8-2.4 .9,.4 .8-2.1 .9-1 .8,3.6 .9,.4 .8,1.4 .9,1 .8,1 .9,2.2 .8,2.4 .9,1.1 .8,2.1 .9,.1 .8,2.8 .9,1.8 .8,1 .9,2 .8-1.3 .9,2.8 .8,1.2 .9-.2 .8-.7 .9,1.7 .8-1 .9,.8 .8-1.8 .9,.7 .8-1.6 .9-.1 .8-.1 .9-2.5 .8-.3 .9,.8 .8-.3 .9-.6 .8,1.4 .9-2.3 .8,.1 .9,2.2 .8-1.2 .9-1.2 .8-.3 .9,.4 .8,3.2 .9-3.7 .8-.5 .9,.7 .8,.5 .9-.1 .8-1.2 .9,.2 .8-2.2 .9,1 .8-1 .9-.1 .8,2.1 .9,.5 .8-.2 .9,1 .8,.2 .9,0 .8-.1 .9,1.3 .8,.6 .9,1.5 .8,.2 .9-2.2 .8,1.1 .9,.4 .8,.6 .9,.8 .8-.5 .9-.4 .8-2.7 .9,1.5 .8,.1 .9-.2 .8-1.2 .9,.7 .8,.5 .9-2.7 .8,1.6 .9,0 .8,.5 .9,3.1 .8-6.2 .9,2.1 .8,.9 .9-2.6 .8,.3 .9-1.3 .8-.4 .9,1 .8-1.5 .9,.1 .8-2.6 .9,1.4 .8-3.2 .9,1.2 .8,.4 .9-2.2 .8,1 .9-.2 .8,.6 .9-2 .8,1.4 .9-.6 .8,2 .9,.5 .8-1.6 .9,1.8 .8,4 .9-.5 .8-.1 .9,.1 .8,2.4 .9-2.7 .8,2.6 .9-1.1 .8,1.1 .9,0 .8,.4 .9-.4 .8,.6 .9-1.8 .8,2.1 .9-1.7" stroke="#f79c45" stroke-width="1.25"/>
<path d="M21,364.5l.9,.1 .8-1.2 .9-.3 .8,.6 .9,2.7 .8-7.8 .9,5.2 .8,4.7 .9-1.8 .8,2.7 .9,.1 .8,3.8 .9,3 .8,6.3 .9,.2 .8,.3 .9-2.3 .8-4.4 .9-.9 .8-4.1 .9-4.5 .8-.5 .9-5.5 .8,1.6 .9-4.8 .8-4.3 .9-.7 .8-6.3 .9-8.7 .8-9 .9-3.9 .8-6.4 .9-10.1 .8-.5 .9,.5 .8,3.2 .9,4 .8-3.3 .9,4.6 .8-3.5 .9,1.1 .8,1.8 .9,3.8 .8,.9 .9,6.2 .8-.1 .9,1 .8,4.1 .9-.1 .8,1.6 .9,3.3 .8-5.5 .9-1.2 .8-.8 .9-.1 .8-1.9 .9,5.1 .8,5.2 .9-2 .8,5 .9-1.1 .8,7 .9,1.1 .8,2.9 .9,3.6 .8-2.4 .9,1.7 .8,4.8 .9,1.2 .8,2.5 .9,3.3 .8-1.7 .9,1.9 .8-.6 .9,2 .8-1 .9-.6 .8,3.8 .9,.8 .8-1.3 .9,.7 .8,2.4 .9-1.3 .8-.8 .9,0 .8-1.6 .9,3.6 .8-1.2 .9,2 .8-1.1 .9-2.2 .8,.4 .9-1.9 .8,0 .9-2.6 .8,1.4 .9-6.9 .8-.4 .9-4.6 .8,3 .9-6.9 .8-.5 .9,1.4 .8-4.5 .9-4 .8-2.6 .9-4.2 .8,1.7 .9-3.2 .8,.6 .9,.7 .8-2.3 .9,3.8 .8-1.1 .9,4.5 .8,1.5 .9,4.1 .8,.4 .9,5.6 .8,2.5 .9-.2 .8,1.2 .9,4 .8,1.4 .9-5 .8,3.5 .9-3.4 .8,2.6 .9-4.2 .8-2.7 .9-5.4 .8-1.4 .9-3.1 .8-3 .9-6.2 .8-.4 .9-3.5 .8-4.5 .9-.5 .8-1.5 .9-5.4 .8,2.7 .9,.1 .8,3.2 .9,.5 .8,2.4 .9,2.8 .8,1.1 .9-.2 .8,6.8 .9,3.1 .8,3.9 .9,.4 .8,4.2 .9-.2 .8,2.4 .9,2.3 .8,.7 .9,6.2 .8,.9 .9-3.1 .8,1.5 .9,3.3 .8,5.5 .9-4.3 .8,0 .9-1.3 .8-1.1 .9,3.6 .8-1.5 .9-.6 .8-.6 .9-1.8 .8,3.5 .9-3.5 .8,1.3 .9-2.4 .8-1.6 .9-1.4 .8,1.5 .9-.1 .8-.4 .9-.8 .8-.6 .9,1.4 .8-1.2 .9-1.7 .8-3.2 .9,2.6 .8,.5 .9-2.2 .8-.5 .9-3.1 .8,4.9 .9-4.7 .8,1.4 .9-1.3 .8,.9 .9-1 .8-3.2 .9-.5 .8,0 .9-4.4 .8,.8 .9-.7 .8-2.4 .9-2.5 .8,2 .9-4.1 .8,2.3 .9-4.7 .8,1.8 .9-4.7 .8-.8 .9,5.3 .8-3.4 .9,6.5 .8,1.5 .9-.9 .8,4.7 .9-.5 .8,3.6 .9-2.2 .8,5.8 .9,1.5 .8,1 .9,.4 .8,.7 .9,2.4 .8,.7 .9,.3 .8-1.1 .9,2.3 .8-1.9 .9-.6 .8-1 .9-.1 .8-.7 .9,.2 .8-.7 .9-1.5 .8,.3 .9-1.5 .8,1.8 .9-2.2 .8,.5 .9,2 .8,.6 .9,.8 .8,2.7 .9-9.2 .8,1.9 .9,2.6 .8-2 .9,.8 .8,.8 .9,.2 .8-.5 .9-.5 .8,.1 .9-4.3 .8,2.5 .9-1.7 .8,1.8 .9-.3 .8,1 .9,.9 .8-.4 .9,.7 .8,.3 .9,0 .8-1.5 .9,.9 .8,2.6 .9-.4 .8,3.1 .9-4.3 .8,2.2 .9,.6 .8,.8 .9-1.7 .8,.1 .9,1.3 .8-1.7 .9,2.2 .8-3.5 .9-.3 .8,1.8 .9-.3 .8,.9 .9-2.2 .8-.7 .9-.6 .8-1.4 .9,3.2 .8-2.6 .9-.4 .8,1.3 .9,0 .8-2 .9,.4 .8,1.4 .9-2.9 .8,.5 .9-.3 .8,.3 .9-2.6 .8-.2 .9-1.8 .8,1.4 .9-.7 .8-.1 .9-.1 .8-1.7 .9,1.5 .8,1.5 .9-1.4 .8,0 .9,.1 .8,1.1 .9,.5 .8,1.7 .9,1.2 .8-.2 .9,2.3 .8-.1 .9,.1 .8,2.4 .9-2.4 .8,3.1 .9-2.8 .8-.1 .9,1.3 .8-3.9 .9,1.2 .8,1.9 .9,1.9" stroke="#f69747" stroke-width="1.3"/>
<path d="M21,362.4l.9,.4 .8,.8 .9,2.2 .8-1 .9,.4 .8,.2 .9,.5 .8,6.3 .9-7 .8,.9 .9,1.7 .8,6.3 .9,2.3 .8,3.8 .9,6.7 .8,.5 .9-4.4 .8-4.2 .9-4 .8-4.5 .9-1.5 .8-1.7 .9-.6 .8-8.2 .9-.1 .8-6.2 .9-4.5 .8-5.5 .9-5.9 .8-7.4 .9-6.4 .8-4.8 .9-8.3 .8-1.7 .9,1.4 .8,4.1 .9-4.7 .8,4.8 .9-2.8 .8,4.5 .9-1.5 .8,3.6 .9-2 .8,7.9 .9,.2 .8,.1 .9,6 .8,1.5 .9,1.2 .8-1.1 .9,1.4 .8,.1 .9-2.8 .8,2.8 .9-5 .8,1.3 .9,2.2 .8,2 .9,3 .8,4.9 .9,.6 .8,4.6 .9,.8 .8,1 .9,5.7 .8,0 .9,3.8 .8,3 .9-1.8 .8,4 .9,.6 .8-.8 .9,4.1 .8-.5 .9,.8 .8-.4 .9-1.4 .8,2.9 .9,4.2 .8-1.3 .9-1 .8-.7 .9-1.1 .8,3.8 .9,2 .8-1 .9-.1 .8,.2 .9-2.8 .8-.8 .9,4.1 .8-3.1 .9-1.7 .8-.3 .9-1 .8-1.8 .9-2.9 .8-1.4 .9-2 .8-1 .9-3.2 .8-2.5 .9-1.9 .8-1.9 .9-3.6 .8-4.4 .9-.6 .8-3.4 .9-2.3 .8-.2 .9-.2 .8,3.3 .9,1.4 .8-2 .9,4.4 .8,2.6 .9,3.2 .8,5.5 .9,2.7 .8-2.3 .9,6.2 .8-.4 .9-.9 .8,2.9 .9-.8 .8-2.8 .9,1.4 .8-.2 .9,.3 .8-6.1 .9-4.5 .8-4.9 .9,0 .8-5.6 .9-3.5 .8-3.3 .9-7.1 .8,2 .9-3.7 .8-3.6 .9,1.8 .8-.8 .9,2.3 .8-1.8 .9,2.3 .8,4.6 .9,.4 .8,3.7 .9-.2 .8,7 .9-.3 .8,6.7 .9,3 .8-.6 .9,2.6 .8,2.4 .9,2.4 .8,3 .9,1.9 .8,.3 .9,3.4 .8-2.6 .9,1.6 .8,3.4 .9-1.7 .8,1.1 .9-1.2 .8,2.1 .9-1.2 .8,1 .9,.3 .8-1.2 .9-2.4 .8-1.8 .9,2.8 .8-3.1 .9-.2 .8,.6 .9-.1 .8-2.6 .9-1.6 .8,2.4 .9,.8 .8-3.3 .9-1.4 .8,3.8 .9-5.6 .8-.3 .9,.7 .8,2.4 .9-.5 .8-6.6 .9,2.6 .8,.2 .9,.6 .8-3 .9-2.7 .8,5.6 .9-2.5 .8,.3 .9-3.7 .8-1.8 .9-3.1 .8-1 .9,2.8 .8-2 .9-5.9 .8-1.7 .9,1.9 .8-2.8 .9,.3 .8-2.8 .9-.1 .8,2.9 .9,.1 .8-.2 .9,4.1 .8,1.2 .9-1.8 .8,4.4 .9,.8 .8,2.9 .9,3.2 .8-.5 .9,1.1 .8,3.8 .9,2.3 .8,1.2 .9-2.7 .8,.3 .9,.7 .8,2.1 .9-.8 .8,.7 .9,1.3 .8,.6 .9-4.2 .8,1.5 .9-1.2 .8-2.8 .9-.9 .8,.1 .9,0 .8,0 .9-.7 .8-.1 .9,1.7 .8,1.3 .9-2.2 .8-.5 .9,1.7 .8-1.6 .9,1.7 .8,.7 .9,0 .8-2.5 .9,.8 .8,.2 .9-1.1 .8-.2 .9,.4 .8-.5 .9-3.9 .8,4.6 .9-1.5 .8,1.5 .9-2.9 .8,1.8 .9,2.6 .8-2.1 .9,4.4 .8-4.8 .9,2.6 .8,.9 .9-2.5 .8,.8 .9,2.6 .8,.8 .9-.7 .8,.8 .9,.4 .8-.6 .9-1 .8,3.1 .9-2.5 .8-1.3 .9-2 .8,2.3 .9-1.9 .8,1 .9-1.1 .8-.6 .9,.9 .8-1.5 .9-.4 .8,1.8 .9-.3 .8,.4 .9-3.9 .8,2.7 .9-3.1 .8,.3 .9,1.4 .8-2.9 .9-1.3 .8,2.2 .9-1.5 .8-1.4 .9,.7 .8-1 .9,.1 .8-1.4 .9,.9 .8-.2 .9-3.2 .8,1.3 .9,3.3 .8-.3 .9,.2 .8,1.9 .9-2.1 .8,1.7 .9-2.1 .8,4.7 .9,.6 .8-1.7 .9,2.9 .8-.1 .9,1.5 .8,.3 .9-1 .8,1.6 .9-2.1 .8,1.3 .9-.9 .8,.6 .9,1.8" stroke="#f58f4b" stroke-width="1.3"/>
<path d="M21,363.4l.9-3.5 .8,5.3 .9-2.6 .8,5.5 .9-3.5 .8-1.5 .9,3.8 .8-1 .9,1.5 .8-1.8 .9-1.7 .8,9 .9,3.8 .8,3 .9,4.9 .8-.2 .9-5 .8,1.5 .9-5.5 .8-6.3 .9,7.3 .8-7 .9-4.9 .8-2.3 .9-2.7 .8-10.2 .9-.6 .8-1.5 .9-6.5 .8-7.6 .9-15.4 .8-5.2 .9-5.6 .8-1.9 .9,5.5 .8,.7 .9-2.8 .8,5.9 .9-2.4 .8-2.5 .9,6 .8-.3 .9,3.1 .8,4.3 .9,1.2 .8,.5 .9,4.4 .8-.3 .9,2.2 .8,.5 .9,4.1 .8-6.2 .9,3.6 .8-2.7 .9-.7 .8-2.8 .9,5.8 .8,4.3 .9-3.8 .8,5.2 .9,7.2 .8,.3 .9-.6 .8,4.6 .9,2.3 .8,3.1 .9,4 .8,.2 .9,2.1 .8-.9 .9,3 .8-3.3 .9,3.3 .8,4.1 .9,0 .8-2 .9,4.5 .8-.6 .9,2 .8-3.6 .9,5.7 .8-4.3 .9,3.5 .8-5.5 .9,2.1 .8,5 .9-3.4 .8,4 .9-3.2 .8-.9 .9,.7 .8,.8 .9-3.1 .8-.8 .9-2.2 .8-2.2 .9-2.3 .8-.4 .9-6.4 .8-1.1 .9-2 .8-1.8 .9-2.8 .8-.2 .9-3.3 .8-.9 .9-3.6 .8-2.8 .9-1.6 .8,1.5 .9-3 .8,2.7 .9-2.9 .8,5.9 .9-.1 .8,6.5 .9,3 .8,4 .9,.5 .8,.7 .9,1.3 .8,3.7 .9-2 .8,3.3 .9-1.1 .8,.6 .9,3.3 .8-5.9 .9-1.4 .8-2.7 .9-3 .8-5 .9-3.2 .8-7.5 .9-.3 .8-3.5 .9-2.8 .8-2.3 .9-5.5 .8-1.7 .9,2.3 .8-2.1 .9,2.8 .8,1.8 .9,0 .8,2.1 .9,2.2 .8,3.1 .9,3.7 .8,4 .9-.3 .8,3 .9,2.4 .8,1.9 .9,0 .8,6.8 .9-.5 .8,1.3 .9,4.2 .8,1.5 .9,1.4 .8,2 .9,.6 .8,2.9 .9-1 .8-.1 .9,1.7 .8,1.4 .9-3.9 .8,.8 .9-.9 .8,1.9 .9-1 .8-1.1 .9-1.6 .8-2.9 .9,2.8 .8-2.9 .9-1.4 .8,1.6 .9-2.2 .8,1.5 .9,.8 .8-3.1 .9-2 .8-.1 .9,1.4 .8-.4 .9-2.4 .8-1.2 .9,1.9 .8-1.3 .9-2.6 .8,2.5 .9,.9 .8-2.7 .9-1.6 .8,1.2 .9-3 .8,1.2 .9-2 .8-2.2 .9-1.3 .8-1.9 .9,0 .8-1.6 .9-1.9 .8-1.7 .9-1.1 .8-1.4 .9-1.6 .8-.8 .9-.5 .8-1.1 .9,2.7 .8,1.6 .9,1.8 .8,3.4 .9-.8 .8,4.4 .9,.3 .8,1.4 .9,3.6 .8,.1 .9,1.3 .8,1.8 .9,1.7 .8-.1 .9,1.5 .8-1 .9,1.9 .8,2.3 .9-1.2 .8,.7 .9-.6 .8-2.7 .9,1.5 .8-.1 .9-.8 .8-1.4 .9-2 .8,.7 .9-1 .8-.5 .9,2.2 .8,.9 .9-2.2 .8,.6 .9-1.9 .8,1.6 .9-.1 .8-.2 .9,.5 .8,3.1 .9-2.6 .8-1.6 .9-1.6 .8,1.2 .9-.4 .8-1.5 .9,1.4 .8-1.1 .9-3.8 .8,3.3 .9,.8 .8-.7 .9,1.9 .8-.7 .9,1.4 .8-1.3 .9,.7 .8,1.7 .9-.2 .8,.9 .9-.2 .8,3.2 .9-1.9 .8-.1 .9,2 .8-1.7 .9,1.2 .8-1.6 .9,.4 .8,.6 .9,.1 .8,.9 .9-3.4 .8,.5 .9-.7 .8-1.6 .9,2 .8,1.8 .9-2.8 .8,3.8 .9-2.6 .8-1.1 .9,.1 .8-1.8 .9-1.2 .8,.7 .9-.1 .8-1 .9-2.7 .8,3.3 .9-1.1 .8-1.6 .9,.9 .8-2.8 .9-1.5 .8-.5 .9,1.9 .8,0 .9-2.3 .8,.9 .9,.4 .8,2.3 .9-2.7 .8,1.9 .9,2.3 .8-1.9 .9,2 .8,0 .9,1 .8-.5 .9,1.5 .8,1.2 .9-.2 .8,0 .9,2.9 .8-3.3 .9,3.5 .8-1.4 .9,.3 .8-2.3 .9,1.8 .8-1.1 .9-.5" stroke="#f28452" stroke-width="1.3"/>
<path d="M21,362.1l.9,2.4 .8-1.5 .9-2.6 .8,4.5 .9-.8 .8,2.1 .9-4 .8,4.9 .9-1.5 .8-.1 .9,2.9 .8,3.6 .9,1.2 .8,8 .9,5.4 .8-4.1 .9-.5 .8-4.5 .9-2.4 .8-5.5 .9-2.1 .8-3.3 .9-4.5 .8-1.9 .9-2.8 .8-4 .9-1.4 .8-4.7 .9-7.7 .8-6.6 .9-8.6 .8-6.8 .9-6.9 .8-2 .9,2 .8-2.5 .9,4.6 .8,4.3 .9-2.2 .8-2.9 .9,4.2 .8,3.3 .9,.9 .8,3.8 .9,3.6 .8-1.7 .9,4.7 .8,1.2 .9,1.9 .8,.5 .9,1 .8,2.4 .9-5.6 .8,1.6 .9-7.1 .8-.6 .9,2.4 .8,7 .9,1.2 .8,3 .9,6.2 .8,2.2 .9,1.9 .8-1.1 .9,4.5 .8,1.3 .9,5.2 .8,.4 .9,3.7 .8-.2 .9,2.3 .8,.8 .9,3.4 .8-3.2 .9,1.2 .8,.2 .9-.5 .8,.9 .9,1.2 .8-2 .9,4.1 .8,.2 .9,2.4 .8-1.6 .9-.2 .8,.1 .9,1.7 .8,0 .9-1.6 .8-.2 .9-.4 .8-1.3 .9-.1 .8-2.9 .9-1 .8-1.2 .9-1.9 .8-1.3 .9-4.8 .8-2.4 .9,.2 .8-1.1 .9-4.1 .8-3.5 .9-2.1 .8-2 .9-2 .8-2 .9-3.7 .8,.4 .9,.3 .8,.5 .9-1.4 .8,5.8 .9,.3 .8,3.1 .9,1.7 .8,5.3 .9,.8 .8,5.2 .9,.8 .8,2.8 .9-2.7 .8,.9 .9,2.5 .8-2.4 .9,.2 .8-1.1 .9-3.5 .8,.7 .9-4.7 .8-3.9 .9-4 .8-5.7 .9-1.7 .8-2.8 .9-4.7 .8-2.8 .9-2.3 .8,.4 .9-4.8 .8,2.5 .9,1.5 .8,1.4 .9-1.2 .8,3.6 .9,2.5 .8,4.4 .9,1.8 .8,1.9 .9,3.2 .8,2.1 .9,7.3 .8-.9 .9,2 .8,5.4 .9-.5 .8,2.3 .9,1.2 .8,.8 .9,2.6 .8,2 .9-.2 .8-.8 .9,.6 .8,2.5 .9-1.3 .8,1.3 .9,.2 .8,.3 .9-.8 .8-.9 .9-.4 .8,0 .9-3.7 .8,2.2 .9-1.6 .8-1.8 .9-.6 .8-.1 .9,2.2 .8-1.3 .9-2.5 .8-1 .9-.9 .8-1.7 .9,2.8 .8-.3 .9-1.5 .8,.1 .9-2 .8-1.2 .9,3.5 .8-3.2 .9-1.7 .8-3.2 .9,3.7 .8-1.3 .9-.8 .8-.8 .9-2.4 .8-.6 .9,1.2 .8-3.1 .9-2.6 .8-2.2 .9-1.1 .8-.7 .9-1.5 .8-1.6 .9,.9 .8-2.9 .9-.4 .8,1.8 .9-.2 .8,.7 .9,.6 .8,4.2 .9,1.2 .8,2.2 .9,.5 .8,2.1 .9,1.9 .8,4.3 .9,.5 .8,1 .9,.5 .8,1.4 .9,.3 .8,.9 .9,1.3 .8-3.9 .9,2.1 .8,1.2 .9-2 .8,1.7 .9-.9 .8,.3 .9-1.8 .8-3.3 .9-.9 .8,3.7 .9-.9 .8-2.3 .9,.3 .8,1.1 .9,1.5 .8-2.2 .9,.2 .8-1.3 .9,1.2 .8,.4 .9-.4 .8-1.8 .9-.3 .8,3.3 .9-.4 .8-2.7 .9,2.5 .8-2.3 .9,.7 .8-2.1 .9-.9 .8,2.3 .9-1.2 .8,1.6 .9,1.1 .8-2.6 .9,3.8 .8,1.5 .9-.4 .8-1.5 .9,.4 .8,1.4 .9,.8 .8,.1 .9,0 .8,.3 .9,1.9 .8,.6 .9-2 .8,1.3 .9-1.1 .8,.6 .9-3.3 .8-1.2 .9,2.2 .8-.2 .9-1.3 .8,.8 .9-1.6 .8,0 .9-.6 .8,.9 .9-.9 .8-1.4 .9,3.4 .8-1.9 .9-.7 .8,.2 .9-.3 .8-.8 .9,.5 .8-1.8 .9-.9 .8-1.1 .9-1.1 .8,2.3 .9-.8 .8-4.1 .9,1.4 .8,.6 .9-1.8 .8-2 .9,1.9 .8,2.1 .9-1.5 .8,3.1 .9-2.9 .8,1.9 .9,1.8 .8,.6 .9,2.4 .8-1.1 .9,.7 .8-.9 .9-1.1 .8,4.2 .9,.8 .8,.6 .9-1.3 .8,1 .9-.6 .8-.1 .9,1.9 .8-2.9 .9,.8" stroke="#ef7958" stroke-width="1.3"/>
<path d="M21,362.8l.9,.8 .8-1 .9-.7 .8,1 .9,1.8 .8-1.9 .9-2.7 .8,8 .9-1.9 .8-.8 .9,3.3 .8,7.5 .9-1.7 .8,6.8 .9,2.4 .8,.1 .9,1.8 .8-9.6 .9-3.9 .8-1.1 .9-3.1 .8,1.2 .9-3.3 .8-6.3 .9-3.5 .8-1.1 .9-5.4 .8-5 .9-9 .8-5.4 .9-7.5 .8-8.4 .9-6.7 .8-.1 .9-2.8 .8,3.8 .9,2.7 .8,1.8 .9-2.9 .8,2.1 .9-2.2 .8,3.4 .9,6.1 .8,5.4 .9-.5 .8,.7 .9,2.1 .8,3.9 .9-.7 .8,.7 .9,3.3 .8-6.4 .9,2.6 .8-7.2 .9,4.6 .8-.4 .9,3.6 .8,1.9 .9-1.1 .8,1.9 .9,4.8 .8,6.5 .9,1.4 .8,3.3 .9,.4 .8,4.6 .9-5.9 .8,9.2 .9,1.4 .8,.5 .9,3.7 .8-3.4 .9,3.8 .8,.8 .9-1.2 .8,3.4 .9-1.5 .8,4.6 .9-2.3 .8,1 .9-.1 .8,1.8 .9-2.3 .8,3.4 .9-1.3 .8,.7 .9-1.7 .8,1 .9,1 .8-2.4 .9,1 .8-2.6 .9,1.8 .8-2.9 .9-2.9 .8-.2 .9-1.2 .8-1.7 .9-3.9 .8-2.5 .9-3.6 .8-1.8 .9,2.4 .8-4.5 .9-2.2 .8-2.8 .9-3.6 .8-.6 .9-3.3 .8-.6 .9,.8 .8-1.7 .9,1.8 .8,.7 .9,1.1 .8,9.5 .9,.6 .8,5.1 .9,2.3 .8,.2 .9,.9 .8,4.5 .9-.7 .8,.1 .9,2 .8-2.6 .9-2.1 .8-2.1 .9,.9 .8-4.4 .9-3.6 .8-2.3 .9-5.1 .8-2.7 .9-3.1 .8-4.5 .9-4.5 .8-1.9 .9-2 .8-2.1 .9-1.8 .8,.1 .9-.5 .8,4.1 .9,3.2 .8,2.7 .9-.4 .8,2.5 .9,2.2 .8,2.6 .9,3.8 .8,2.9 .9,3.9 .8,.6 .9,7.8 .8,1.2 .9,2.2 .8-1.9 .9,1.2 .8,1.3 .9,1 .8,4.8 .9-.1 .8-.9 .9,2.4 .8-1.6 .9,2.4 .8,.5 .9-1.8 .8,1.1 .9,0 .8-.7 .9-1.7 .8,.5 .9-1.1 .8-1.2 .9-1.4 .8-1.1 .9,.8 .8-3.2 .9,1.2 .8-2.2 .9,1.5 .8-3 .9-2 .8,3 .9-2.9 .8,1.6 .9-.6 .8-2.3 .9,3.4 .8-4.4 .9,1.9 .8-.2 .9-.9 .8-.4 .9-.6 .8-.4 .9-.1 .8-2.8 .9-1.6 .8-1.9 .9,0 .8-.8 .9-2.3 .8-.1 .9-2 .8-2.2 .9-2.7 .8-.4 .9,1.1 .8,.1 .9-2.5 .8,.1 .9,2.2 .8-.1 .9,1.2 .8,3.9 .9,1.2 .8,2.3 .9,1.5 .8,.2 .9,3 .8,2.4 .9,.4 .8,.2 .9,2.8 .8,1.3 .9-.2 .8-.1 .9,3.7 .8-1.1 .9,.8 .8-.3 .9-.5 .8-.6 .9,1.3 .8-2.8 .9-1.2 .8-.9 .9-1.3 .8-3.5 .9,2.9 .8,1.6 .9,0 .8-1.6 .9,.2 .8,0 .9-2.7 .8,1.8 .9-.9 .8,1.8 .9-.3 .8-3.2 .9,5.8 .8-1.6 .9-2.5 .8,.7 .9-2.3 .8,.6 .9,.1 .8,0 .9,.8 .8-2.5 .9,2.9 .8,.2 .9,.5 .8-.2 .9-.2 .8,1.2 .9,1.5 .8,.2 .9-2 .8,.7 .9,2 .8-1.7 .9,1.8 .8-.5 .9,2 .8,.5 .9-.8 .8,1.5 .9-2.8 .8,1.4 .9-.6 .8-1.1 .9-2.6 .8,.7 .9,0 .8,2.3 .9-2 .8-1.2 .9-.1 .8,1 .9-.6 .8,.4 .9,.8 .8-1.9 .9-.6 .8,1.7 .9-2.1 .8-.8 .9-.1 .8-1.5 .9-.3 .8-.4 .9,1.4 .8-4 .9,1.6 .8,.5 .9-2.9 .8,.1 .9-.1 .8-.2 .9-1.1 .8,2.8 .9,.3 .8,.6 .9,.4 .8-2.4 .9,4.9 .8-.5 .9-.3 .8-1.8 .9,3.8 .8,.2 .9,1.3 .8,.5 .9,.3 .8-1.5 .9,3.3 .8-3.2 .9,3.4 .8,1.8 .9-3.3 .8-.8 .9,1.2" stroke="#ea6f5f" stroke-width="1.3"/>
<path d="M21,361.8l.9,1.6 .8-.6 .9,1.1 .8,2.4 .9-2.4 .8,3.1 .9,.5 .8-3.2 .9,4 .8,1.5 .9,1.7 .8-6.6 .9,6.2 .8,6.1 .9,3.7 .8,5.6 .9-5.3 .8-6.5 .9-8.1 .8,5.1 .9-.6 .8-3.1 .9-4.1 .8-.2 .9-6.9 .8,.1 .9-3.1 .8-5.3 .9-8.4 .8-1.5 .9-6.6 .8-10.3 .9-8.2 .8-5.4 .9-4.7 .8,7.3 .9-3.1 .8,1.6 .9,2.3 .8-4.9 .9,6.9 .8,2.8 .9,.6 .8,4.4 .9-.2 .8,4.2 .9,.3 .8,1.8 .9,3 .8-.7 .9,5.1 .8-4.3 .9,2.7 .8-4.6 .9-2.5 .8-.4 .9,2.7 .8,3.3 .9,6.8 .8,.5 .9-1.3 .8,1.4 .9,5.4 .8,2.7 .9,4.5 .8,3.7 .9-1.5 .8,0 .9,4.1 .8,1 .9,5.2 .8-1.1 .9-2.6 .8,4.9 .9-1.1 .8-4 .9,2.9 .8,4.5 .9-.5 .8,3.6 .9-.6 .8-1.9 .9,3.3 .8-1.2 .9,1.6 .8-.5 .9,.7 .8,.8 .9-2 .8,1.5 .9-3.2 .8,1.2 .9-1.8 .8,.2 .9,1.2 .8-5 .9-.1 .8-3 .9-4.5 .8-1 .9-4.2 .8,.2 .9-.7 .8-6.7 .9,2.4 .8-3.7 .9-6.8 .8,.2 .9-3.1 .8,1.3 .9-1.1 .8-.8 .9,1 .8,.8 .9,2 .8,6.4 .9-2.9 .8,8.1 .9,.2 .8,1.9 .9,3.5 .8,.8 .9,.5 .8,3.7 .9,1 .8-2.5 .9,.3 .8-3.6 .9-.6 .8-3.2 .9-1.1 .8-5.2 .9-1.9 .8-3.5 .9-5.6 .8-2.7 .9-1.7 .8-3.3 .9-4.6 .8-3.4 .9,3.2 .8-2.1 .9-2.2 .8,3.3 .9,.3 .8,2.2 .9,3.2 .8,4.5 .9-.2 .8,4 .9-.4 .8,2.5 .9,4.2 .8,4.3 .9,4 .8-.2 .9,2.9 .8-.2 .9,6.6 .8-1.8 .9,.1 .8,3.9 .9,1.4 .8,1.1 .9,.3 .8-.8 .9,1.4 .8-2.6 .9,2.5 .8,.3 .9-2.1 .8,2.9 .9-2.4 .8-3.3 .9-.2 .8,1.4 .9-.8 .8,.3 .9-1.3 .8,.5 .9-.8 .8-.2 .9-2.7 .8,1.8 .9-4.4 .8,2.8 .9-3.1 .8-3.6 .9,3 .8,2 .9,.6 .8-3.6 .9,.3 .8-1.5 .9,.7 .8-.9 .9,.5 .8-2.1 .9-.9 .8,.9 .9-2.2 .8-3.6 .9,2.5 .8-1.6 .9-1.1 .8-3 .9-.4 .8,.2 .9-5 .8-1.3 .9-2.2 .8,1.9 .9-1.6 .8-.5 .9,.7 .8-4.5 .9,7.3 .8,1.7 .9,3.7 .8,.2 .9,.8 .8,3.7 .9-.3 .8,3 .9,2.1 .8,1.3 .9-.6 .8,4 .9-.1 .8-.2 .9-1.7 .8,3.1 .9,2.4 .8-1.6 .9,1.8 .8-.7 .9-2.1 .8-2 .9-2.1 .8,1.9 .9-1.3 .8,.3 .9,0 .8-2.2 .9-1.1 .8,0 .9,.6 .8,.6 .9,.4 .8,.9 .9-1.2 .8-.6 .9,.5 .8-.4 .9,2.2 .8-3.3 .9,.4 .8-.9 .9,.9 .8-1 .9,.9 .8-1.7 .9,.7 .8,.1 .9-.2 .8,.9 .9-.2 .8-.1 .9,1.5 .8,1.9 .9-.5 .8-.7 .9,.4 .8,1.6 .9-.1 .8,0 .9-.3 .8,2.9 .9-1.2 .8-1.1 .9,3.1 .8-3.1 .9-1.1 .8,1.2 .9,.6 .8-.1 .9-1.8 .8,.1 .9,.8 .8-1.3 .9,1.3 .8-2.7 .9,1.4 .8,1 .9-1.6 .8-.1 .9-1.1 .8,1.4 .9-1.7 .8-1.1 .9,1.1 .8,3.2 .9-5.3 .8,1.6 .9-3.2 .8,.2 .9,.6 .8,.4 .9-1.4 .8-1.9 .9-1.1 .8,1 .9-.8 .8-1.7 .9,2.8 .8-3 .9,2.8 .8-.2 .9,2.4 .8-1.8 .9,2.5 .8-.7 .9,2.9 .8-1.6 .9,2.7 .8-2 .9,1.9 .8,.7 .9,1.7 .8-1.5 .9-.2 .8,2.5 .9-1.3 .8-1.7 .9,.8 .8,.8 .9-.2" stroke="#e56666" stroke-width="1.3"/>
<path d="M21,363.3l.9-4.2 .8,5.6 .9-.6 .8,6.3 .9-5.8 .8-.1 .9-1.8 .8,1.8 .9,3.3 .8-.3 .9-4.9 .8,5.3 .9,5 .8,5.6 .9,3.4 .8,1.8 .9-2 .8-1.6 .9-.3 .8-6 .9-.7 .8-4.5 .9-3.5 .8,.2 .9-7.9 .8,0 .9-5.6 .8-3.7 .9-4.2 .8-9.2 .9-8 .8-6.8 .9-5.7 .8-5 .9-2.5 .8,4.3 .9-1.4 .8,3.7 .9,1 .8-4.5 .9,4.2 .8,.7 .9,2.3 .8,1.4 .9,3.2 .8,3.6 .9-.4 .8,4.7 .9-.6 .8,6.2 .9-1.3 .8-1.1 .9-2.6 .8,1 .9-6.1 .8,3.8 .9,1.2 .8,2 .9,4.7 .8,1.8 .9,.7 .8,2.5 .9,2.2 .8,3.6 .9,4 .8-.3 .9,5.5 .8-1.7 .9,3.3 .8-1.2 .9,6.5 .8-2 .9-1.1 .8,1.9 .9-1.7 .8,2.4 .9,2.8 .8,0 .9,.6 .8,.8 .9,.9 .8-.4 .9,.1 .8,2.9 .9,.3 .8,.3 .9-1.2 .8,2.5 .9-1.3 .8-.7 .9-.7 .8-3.9 .9,.1 .8-1.8 .9,3.2 .8-4.8 .9-3.1 .8,.1 .9-4.3 .8-2.4 .9,1.4 .8-.1 .9-6 .8,2 .9-4.8 .8-1.4 .9-5.1 .8-2.8 .9,2 .8-5.5 .9-.6 .8,3.8 .9-.1 .8-.8 .9,2.9 .8,2.4 .9,2.1 .8,4.7 .9,1.7 .8,3.8 .9,3.9 .8-1.4 .9,1.8 .8,5 .9-3.9 .8-.3 .9-.6 .8-2.4 .9,1.1 .8-3.3 .9-1.6 .8-3.1 .9-4.1 .8-5.7 .9-2.9 .8-3.6 .9-4.6 .8-2.6 .9-1.1 .8-1.3 .9-4 .8-1 .9,1 .8,2.1 .9,2.7 .8,.6 .9,2 .8,.4 .9,2.9 .8,3 .9,3.8 .8,.8 .9,9.8 .8-3.1 .9,4.9 .8,.2 .9,3 .8,1.1 .9,1 .8,2.1 .9,2.5 .8,4.1 .9,2.4 .8-2.4 .9,.1 .8,2.6 .9-2.7 .8,.5 .9,2.4 .8-.3 .9-.9 .8-2.5 .9-2.5 .8,2.2 .9-.7 .8,0 .9-.8 .8,.6 .9-2 .8-.1 .9-4.8 .8,4.9 .9-2.1 .8-1.6 .9,.6 .8,2.2 .9-3.5 .8,1.7 .9-.8 .8-1.4 .9-.8 .8-1 .9-.8 .8-.9 .9,1 .8-.9 .9,.3 .8-.4 .9-.9 .8-2.8 .9,.1 .8-1.5 .9-1 .8-.4 .9-3.1 .8-1.8 .9-1.6 .8-1.2 .9-.9 .8-3 .9-2.2 .8-.2 .9,.1 .8-1.7 .9,3.3 .8,.1 .9,.4 .8,1.4 .9,4.7 .8-.4 .9,.3 .8,3.5 .9,1.7 .8,2.6 .9,2.9 .8,2.3 .9,1 .8-.9 .9-.6 .8,2.4 .9-1.3 .8,2.6 .9,1.7 .8,.2 .9-1.3 .8-2.2 .9,.9 .8-.2 .9,.1 .8-1.9 .9-.7 .8-1 .9,.7 .8-1.7 .9,1.2 .8-.3 .9-1.7 .8,.6 .9,1.8 .8-.4 .9-.4 .8-1.4 .9,1.4 .8,1.2 .9-2 .8,1.3 .9-.9 .8-3.4 .9,4.1 .8-4.1 .9,2.5 .8-3 .9,1.4 .8,1.5 .9-.4 .8-.9 .9,1.9 .8-.8 .9,.2 .8-.2 .9,1.1 .8,1.1 .9,.3 .8,1 .9-.2 .8-1.2 .9,1.4 .8,1.6 .9-.4 .8,.4 .9-.9 .8,1.1 .9-3.7 .8,3.3 .9,1.2 .8-.6 .9-1.5 .8,2.2 .9-4.4 .8,.7 .9,.3 .8-.5 .9-.2 .8,1 .9-3.2 .8,2.4 .9-.3 .8-.6 .9-1.3 .8-.2 .9,3.1 .8-5 .9,1 .8-.3 .9-2.7 .8,1.2 .9-1.5 .8-1 .9,1.9 .8-3.3 .9,1.6 .8-2.4 .9,1.2 .8-1.4 .9-.7 .8-.3 .9,4.4 .8-2.7 .9,4.8 .8-1.7 .9-1.1 .8,3.5 .9-.7 .8,.2 .9-.2 .8,1.2 .9,.6 .8-.5 .9,2.9 .8,.4 .9,.2 .8,.3 .9-3.9 .8,.8 .9,1 .8,.9 .9,2.4" stroke="#df5c6f" stroke-width="1.3"/>
<path d="M21,358.5l.9,8.8 .8-4.1 .9-2.6 .8,.3 .9,.3 .8,5.8 .9-.2 .8-2.6 .9,1.5 .8-2.9 .9,3.9 .8,4.9 .9,2.5 .8,.1 .9,8.2 .8,1 .9-3 .8,.8 .9-3.6 .8-1.7 .9-5 .8,.9 .9-9.1 .8-4.8 .9-1.1 .8-.2 .9-.3 .8-8.9 .9-4.4 .8-6 .9-10.8 .8-3.4 .9-5.6 .8-5.8 .9-2.4 .8-2.3 .9,5.5 .8-1.4 .9,3.2 .8-4.5 .9,2.1 .8,5.4 .9-1.3 .8,4.6 .9,1.6 .8,1.7 .9,2.8 .8-3.7 .9,7.5 .8,1.2 .9,3.9 .8-4.2 .9-.6 .8,0 .9-5.1 .8,1.5 .9,2.1 .8,1.9 .9,2.1 .8,3.6 .9,3.7 .8,1.7 .9,3.6 .8,2.2 .9,2.1 .8,1.6 .9,1.2 .8,3.1 .9,2 .8,1.3 .9,1.3 .8,1 .9-1.6 .8,1.9 .9,4 .8-.8 .9,3.9 .8,2.1 .9-4.6 .8,2.2 .9-.6 .8-1.5 .9,4.4 .8-3.9 .9,4.6 .8,.6 .9-.8 .8,.8 .9-2.8 .8,3.9 .9-4.2 .8-.5 .9,1.2 .8-1.4 .9-1.3 .8-2.6 .9-6.4 .8,.1 .9,.2 .8-1.2 .9-3.2 .8-2.8 .9,2.7 .8-3.9 .9-2.1 .8-1.9 .9-3 .8,.5 .9-3.8 .8-.7 .9-.2 .8-.4 .9-3.5 .8,.5 .9,3.7 .8,2.3 .9,1.5 .8,4.8 .9,.8 .8,3.8 .9,1.3 .8,2.4 .9,2.1 .8,1 .9-.6 .8,.6 .9-2.1 .8,2.4 .9-3.7 .8-3.9 .9-1.1 .8-4.9 .9-3 .8-5.8 .9-.2 .8-2.6 .9-3.9 .8-4 .9-3.7 .8-1.8 .9-.6 .8-.4 .9-1.2 .8,1.4 .9,4.4 .8,.1 .9,2.1 .8,1.3 .9,3.9 .8,1.2 .9-.4 .8,7.2 .9-.3 .8,3.3 .9,7.5 .8-1.6 .9,1.3 .8,.2 .9,4.5 .8,1.7 .9-.2 .8,.5 .9,1.5 .8,4.2 .9,.3 .8,.8 .9,3.3 .8-4.6 .9,6.6 .8-4.3 .9-2.5 .8-.2 .9,.8 .8-2.4 .9-.1 .8-.4 .9-.7 .8-2 .9,1.1 .8-2.3 .9-1.1 .8,1.6 .9,0 .8-4.3 .9,1.3 .8,1.4 .9-1.1 .8-.1 .9,.6 .8-.2 .9-2.9 .8,1.3 .9,1.2 .8-2.6 .9-.7 .8-1.6 .9-2.3 .8-1.5 .9,.9 .8,1.4 .9-2.3 .8-5.4 .9,3.3 .8-.5 .9-4.7 .8-.1 .9-.4 .8-.7 .9-2.4 .8-1.1 .9-.8 .8-2 .9-.8 .8,.5 .9-2 .8,5 .9-.9 .8,3.9 .9,1.9 .8-1.1 .9,5.6 .8,1.1 .9-.5 .8,1.7 .9,1.3 .8,3.6 .9,1.8 .8,1.3 .9-.3 .8,.8 .9-1.1 .8,1.9 .9,.4 .8,0 .9,1.4 .8-2.2 .9,1.1 .8-.9 .9-.7 .8-1.5 .9,1.1 .8-3.1 .9-1.3 .8,.8 .9,1.1 .8,1.3 .9-3.3 .8,.7 .9,.9 .8-1.9 .9-.2 .8,.7 .9,.6 .8,1.3 .9-1.3 .8-.3 .9-.3 .8,.6 .9-1.2 .8,.8 .9-.3 .8-3.6 .9,1.6 .8,1.4 .9-2.5 .8,.9 .9,2 .8-1.5 .9-.3 .8,3.6 .9-1.8 .8,1.2 .9-.2 .8,3.4 .9-1 .8,1 .9-.4 .8-1.7 .9,2.3 .8-2.7 .9,2.4 .8,.5 .9-.1 .8-2.8 .9,2.8 .8-1 .9,.9 .8-1.8 .9-.6 .8-.3 .9-.3 .8-1.2 .9,.4 .8,1.2 .9-2.8 .8,2.1 .9-2.7 .8,4.3 .9-3.7 .8,.7 .9-.1 .8-1.5 .9-2.1 .8,1 .9,.8 .8-2.6 .9,1.8 .8-1.5 .9-2.1 .8,1.2 .9-1.3 .8-1.9 .9,.8 .8-1.3 .9,2 .8,.1 .9,.5 .8,1 .9-1.5 .8,1.3 .9,3.8 .8-3.8 .9,1.6 .8,.9 .9,1.1 .8,1.5 .9-1.2 .8,.6 .9,2 .8-.3 .9,.8 .8-3.7 .9,4.6 .8,.9 .9-2.9 .8,1.8 .9,.2" stroke="#d85278" stroke-width="1.3"/>
<path d="M21,365.1l.9-2.7 .8-2.2 .9-2 .8,6.6 .9,.5 .8-4 .9,3.3 .8-3.1 .9,8.4 .8,.1 .9-4.4 .8,4.4 .9,1.2 .8,3.3 .9,5.6 .8,2.6 .9-3.4 .8,0 .9-3 .8-5.2 .9-1.6 .8-4.1 .9,1 .8-5.2 .9-5.1 .8,.8 .9-5.4 .8-5.7 .9-5.9 .8-4.4 .9-9.1 .8-4.1 .9-8.8 .8-4.4 .9,.7 .8,.3 .9,2.1 .8,.1 .9,.5 .8-6.1 .9,3 .8,3 .9,5.6 .8-1.4 .9,7 .8,1.6 .9,2.3 .8,1.2 .9,3.2 .8,3.8 .9-4.3 .8,2.3 .9-5.8 .8,1.8 .9,1.6 .8-5.2 .9-1.5 .8,6.1 .9,1.7 .8,.5 .9,8.2 .8-.2 .9,5.6 .8,.9 .9,1.7 .8,2.2 .9,2 .8,2.5 .9,1.9 .8-1.6 .9,3.9 .8,2.3 .9-.1 .8,5.2 .9-3.1 .8-.4 .9,2.9 .8,1.6 .9-1.1 .8,3 .9-2 .8,.7 .9-1.9 .8,1 .9,.2 .8,1.9 .9,.3 .8,.3 .9-1.3 .8-3.7 .9,2.7 .8,1.4 .9-.7 .8-1.2 .9-2.3 .8-3.6 .9,2.2 .8-1.9 .9-6.8 .8-.3 .9-1.7 .8-1.5 .9-.2 .8-3.1 .9-1.2 .8-2.5 .9-.1 .8-1.5 .9-1.4 .8-1.8 .9-.6 .8-2.5 .9,.8 .8-.9 .9-.7 .8,4 .9,3.5 .8,1.9 .9,5.3 .8,2.2 .9,.9 .8,3.2 .9,0 .8,.7 .9,.9 .8-2 .9,0 .8-.5 .9-.6 .8-4.6 .9-1.9 .8-3.3 .9-1.7 .8-3 .9-4.2 .8-5.8 .9-.3 .8-3.8 .9-6.5 .8,.5 .9-2.5 .8-2.2 .9-.6 .8,3 .9,2.5 .8,3.9 .9,1.8 .8,3.2 .9-.9 .8,4.9 .9-.4 .8,4.8 .9,2.6 .8,4.7 .9-.7 .8,1.3 .9,6 .8,2.1 .9,0 .8,.9 .9,1.2 .8,4 .9-.5 .8,.1 .9,2.9 .8-2 .9,1.4 .8-.5 .9,1.2 .8,1.5 .9-.1 .8-4.1 .9,1.2 .8-.6 .9-2 .8,.7 .9-4 .8,1.7 .9-.9 .8-1 .9,2.7 .8-2 .9,.3 .8,0 .9-5.6 .8,2.8 .9-.4 .8-3 .9,0 .8,4 .9-1.6 .8-3.7 .9,3.9 .8-4 .9,.5 .8-2 .9,3.8 .8-1.6 .9-3.4 .8,.7 .9-1.6 .8-.4 .9-2.6 .8-1.9 .9,.6 .8-3.9 .9,.1 .8-.9 .9,.7 .8-3.9 .9-1.6 .8-4.8 .9,1.9 .8-.3 .9,1.7 .8-.3 .9,.3 .8,6.3 .9-1.2 .8,3.6 .9,1.6 .8-.5 .9,2.6 .8,3.9 .9,2.3 .8,.2 .9,.6 .8-1.1 .9,.7 .8,1.1 .9,3.1 .8-.7 .9,.9 .8,.3 .9,.5 .8-1 .9,.1 .8-2.8 .9,1.7 .8-.2 .9-.4 .8-.6 .9-3.1 .8,.5 .9,.9 .8-.2 .9-2 .8,1.5 .9,.4 .8-1.6 .9-.1 .8-1 .9,1.7 .8-1.9 .9,3.8 .8-5.4 .9,2.9 .8,.2 .9-.6 .8-1.8 .9,0 .8-2.3 .9,2.9 .8-.6 .9,1.1 .8-.4 .9,.2 .8,1.2 .9-.7 .8,.6 .9-.3 .8,1.2 .9,1 .8,1.6 .9,1.4 .8-1 .9-.9 .8,.2 .9,.8 .8-.1 .9,.2 .8,.4 .9-1.1 .8,.8 .9-3.2 .8,4.4 .9-2.2 .8,0 .9-3.9 .8,2.1 .9,1.2 .8-2.7 .9,.6 .8,2.3 .9-1.8 .8,1 .9-.7 .8-1.3 .9-.8 .8,.7 .9,1.6 .8-2.5 .9-2.9 .8,.9 .9-.8 .8-1.2 .9-.5 .8,.5 .9,1.7 .8-1.3 .9-2.7 .8-1 .9,1 .8,2.1 .9-2.6 .8,1.6 .9,1.5 .8-.8 .9,.8 .8-3.9 .9,5.8 .8-1.8 .9,.8 .8,.8 .9,2.3 .8,1.6 .9-2.2 .8,.9 .9,1.3 .8-2.3 .9,2.4 .8-1.5 .9,2.1 .8,.7 .9-.8 .8,.3 .9-.7" stroke="#d04882" stroke-width="1.3"/>
<path d="M21,358.7l.9,4.9 .8-1.6 .9-.2 .8,2.1 .9-1.8 .8,.5 .9,10.3 .8-8.4 .9-3.2 .8,4.4 .9,.7 .8,2.6 .9,2.4 .8,2.6 .9,1.1 .8,7.9 .9,.6 .8-6 .9-2.7 .8-1 .9,.1 .8-3.5 .9-.5 .8-6.3 .9-3.6 .8-2.1 .9-2 .8-4.8 .9-6 .8-3.7 .9-11.8 .8-4.7 .9-11.5 .8-.5 .9,.9 .8-4 .9,1.8 .8-.9 .9-1.8 .8,.5 .9,2.6 .8-.5 .9,2.7 .8,5.8 .9,.8 .8,2.4 .9-1.1 .8,6.1 .9,.5 .8,.9 .9,3.3 .8,2.2 .9-.9 .8-5.2 .9-.9 .8-1.3 .9,1.6 .8,3 .9,1.2 .8,1.3 .9,5.8 .8,.2 .9,4.5 .8-.6 .9,3.8 .8,5.1 .9,2.1 .8,.2 .9,3 .8-1.1 .9,6.2 .8-1.5 .9,2.8 .8-.6 .9,.2 .8,1.9 .9-1.1 .8,.5 .9,.8 .8,1.1 .9,1.3 .8-2.4 .9,2 .8-1.6 .9,1.8 .8,1.9 .9-1.6 .8-.2 .9,1.4 .8,.2 .9,1.7 .8,2.3 .9-13.7 .8,8.3 .9-3.3 .8-2 .9,2.4 .8-1.3 .9-5.7 .8-2.4 .9-2.2 .8,.6 .9-1.5 .8-4.2 .9-1.4 .8-1.9 .9-2.3 .8-.7 .9-.8 .8-.6 .9,1.1 .8-2.5 .9-1.8 .8,.1 .9-.7 .8,3.5 .9,3 .8-.5 .9,2.4 .8,5.5 .9,2.2 .8,1.6 .9,4.1 .8,.9 .9-2.1 .8-1.5 .9-1.6 .8,2.7 .9-.7 .8-3.5 .9-1 .8-2.5 .9-4.1 .8-2.9 .9-2.8 .8-6.8 .9-5.4 .8-1.4 .9-2.2 .8-2.7 .9-2.4 .8-2.7 .9,1.1 .8,3.9 .9,.2 .8,3.9 .9-2.3 .8,3.2 .9,3.1 .8-.6 .9,3.5 .8,7.6 .9-2.2 .8,4.2 .9,1.9 .8,5.6 .9,.5 .8,1.3 .9,3 .8,3 .9-1.7 .8,4.3 .9,.1 .8,1.6 .9,1.9 .8-.9 .9,1.1 .8-.9 .9-.1 .8,1.6 .9-2.2 .8,0 .9,2.3 .8-2.1 .9-1.1 .8,4.3 .9-7.2 .8-.6 .9-.8 .8-.6 .9,2 .8-1.8 .9-1.9 .8,.1 .9,.6 .8-2.5 .9,1.6 .8-3.8 .9,2.3 .8-1.5 .9,2.7 .8-3 .9,0 .8-.3 .9-2.4 .8,1.1 .9-.8 .8,1.3 .9-3.7 .8-1 .9,3.3 .8-4.8 .9,.5 .8-1.9 .9-3.4 .8-2.5 .9,.4 .8-1.3 .9-.5 .8-1.8 .9-1.7 .8,2 .9-.8 .8-3.9 .9,1.6 .8,.8 .9,.3 .8,2.6 .9-1.5 .8,1.7 .9,2.9 .8,3.3 .9,2 .8,2.1 .9,1.4 .8,4 .9-3 .8,4 .9,3 .8-2.1 .9,1.7 .8,.4 .9-.2 .8-1.6 .9,1.3 .8,2.5 .9-3.1 .8,.2 .9-3.9 .8,1.6 .9,.1 .8-1.3 .9-1 .8,0 .9-.4 .8,2.5 .9-2.7 .8,.3 .9,.8 .8-1.9 .9,1.6 .8-2.1 .9,2.7 .8,0 .9-1.7 .8-.1 .9-1.9 .8,1.5 .9-.6 .8-1.5 .9,.2 .8,2.2 .9-2.7 .8,.8 .9-2.6 .8,5.3 .9-3.3 .8,.6 .9-.9 .8,6.1 .9-3.4 .8,1.8 .9-.8 .8-.3 .9,3.2 .8-1.1 .9,.4 .8-1.2 .9,1.9 .8-1.3 .9,2.6 .8-1.6 .9-.2 .8-.4 .9,.5 .8,.7 .9-1.6 .8-.9 .9,1 .8-2 .9,1.6 .8,.8 .9-2.1 .8,.6 .9,.5 .8-2 .9,2.8 .8-2.3 .9,.7 .8-3.4 .9,.2 .8,1.6 .9,.1 .8-2.1 .9-.7 .8,1 .9-1.3 .8-1.2 .9-1.2 .8,1.8 .9-.1 .8-2.7 .9,.9 .8-1.4 .9-.4 .8-1.5 .9,2.4 .8,1.2 .9,.7 .8,0 .9,.1 .8-.3 .9,.3 .8,2.1 .9-.6 .8,4.9 .9-3 .8,1.7 .9-.1 .8,1.7 .9-.3 .8,1.1 .9-1.2 .8,1.5 .9-.8 .8-.4 .9-.7" stroke="#c73e8d" stroke-width="1.3"/>
<path d="M21,360.7l.9,4.1 .8,1.7 .9-2.5 .8-.9 .9-.9 .8-2.3 .9,1.3 .8-1 .9,5.1 .8-3.3 .9,3.5 .8,.9 .9,5.9 .8,2.8 .9,.5 .8,3.3 .9,5.8 .8-5.6 .9,1.1 .8-3.8 .9-6.2 .8-1.9 .9-3.3 .8-3.5 .9,1.3 .8-7.7 .9-3.3 .8,3.9 .9-10.1 .8-9.1 .9-4.1 .8-7.9 .9-9.1 .8-3.8 .9-2.7 .8,1.3 .9,.7 .8,1.4 .9,2.3 .8-.5 .9-3.2 .8,4.4 .9,.6 .8,2.7 .9,2.9 .8,3.1 .9,1.8 .8,4.9 .9-2.3 .8,1.1 .9,2.1 .8,1.2 .9-3.4 .8-1.7 .9,.2 .8-.6 .9-.3 .8,1.9 .9,2.3 .8,5.9 .9,.8 .8,5.2 .9-3.4 .8,5.8 .9,2.2 .8,.4 .9,6.8 .8-.1 .9,1.5 .8,.2 .9,6.3 .8-2.2 .9,1.6 .8-.9 .9,3.4 .8,1.9 .9-1.3 .8,3.9 .9-1.3 .8-2.4 .9-.6 .8,2.5 .9,.7 .8-.2 .9,1.3 .8-.1 .9,2.2 .8-3.3 .9-.7 .8-1.7 .9,4.5 .8,1 .9-4.4 .8,1.9 .9-1.4 .8-1 .9-5.4 .8,.1 .9-1.2 .8-4.9 .9-2.4 .8-1 .9-.3 .8,.2 .9-1.7 .8-3.9 .9,1.3 .8-3.4 .9-.3 .8-3.2 .9-.5 .8-2.9 .9-1.7 .8,3.5 .9-4 .8,3 .9,5.4 .8-1.9 .9,4.2 .8,4.3 .9,3.5 .8,3.5 .9-1.6 .8,1 .9,2 .8-.1 .9-4.6 .8,3.9 .9-3.6 .8-1.2 .9-.6 .8-5.2 .9-2.8 .8-4.4 .9-.8 .8-4.5 .9-3.8 .8-3.3 .9-.1 .8-3.5 .9-4.8 .8-.1 .9-2.9 .8,4.1 .9-.9 .8,3 .9,2.6 .8,4 .9,1.9 .8-1.8 .9,3.9 .8,2.5 .9,6.1 .8-1.2 .9,4.8 .8,5.6 .9,3 .8-1.2 .9,1.2 .8,1.6 .9,2 .8,2.3 .9-1.3 .8,2.2 .9-.7 .8,2 .9,2.9 .8-1.8 .9,1.9 .8-2.5 .9-2.1 .8,1.8 .9,1.3 .8-2.3 .9,1.5 .8-5.1 .9,.5 .8-1.2 .9,2.6 .8-1.7 .9-3.2 .8,1.3 .9,1 .8-.7 .9-1.6 .8-1.8 .9,3.1 .8-3 .9-1.6 .8,2.7 .9-1.1 .8-.4 .9-2.8 .8,1.4 .9-.8 .8,1.7 .9-2.6 .8-1.3 .9-1.5 .8,.2 .9,.7 .8-1.3 .9-1 .8-4.6 .9-1.8 .8,1.8 .9-3.6 .8-.1 .9-1.4 .8-2.3 .9,2.1 .8-2.7 .9-4 .8,2.7 .9-3.4 .8,.6 .9,4.8 .8-.4 .9,1.2 .8,3.5 .9,.5 .8,3 .9,2.1 .8-.6 .9,2.6 .8,3.2 .9,.2 .8,2.4 .9,.3 .8-.4 .9,3.9 .8-.9 .9-3 .8,1.5 .9,2 .8,1.1 .9-1.7 .8-.4 .9,.8 .8-2.1 .9-2.3 .8-1.2 .9,5.6 .8-6.2 .9,2.8 .8-2.6 .9-1.4 .8,1.6 .9,.1 .8-.5 .9-.2 .8,2.9 .9-2 .8-.1 .9,2.8 .8-2.5 .9-2 .8,.4 .9,.2 .8-.5 .9,.2 .8-1.1 .9-1.6 .8,1.7 .9-.7 .8-.3 .9,1.2 .8,0 .9,.1 .8,1.4 .9-1 .8,2.9 .9-2.1 .8,2.2 .9-1.4 .8,3.4 .9-1.5 .8,.9 .9-.1 .8,.4 .9,.6 .8,1.4 .9-1.6 .8-1.5 .9-.8 .8,1.5 .9,2.2 .8-2.6 .9,.4 .8-1.5 .9,.1 .8-2.6 .9,1.7 .8,1.2 .9-.9 .8-2 .9,2 .8-.4 .9-.2 .8-2.6 .9,.4 .8,1.4 .9-2.6 .8,.1 .9-.4 .8-3.8 .9,1.1 .8,1.8 .9-2.1 .8,1 .9-3.2 .8,4 .9-2 .8-.6 .9-1.8 .8,.6 .9-1.1 .8,2.7 .9,1.5 .8-1.4 .9,4 .8-3.1 .9,2 .8,1.8 .9,.1 .8-.5 .9,.9 .8,2 .9,.1 .8-.1 .9,.8 .8-.2 .9-1.8 .8,2.3 .9,.3 .8-3.1 .9,3.9" stroke="#be3598" stroke-width="1.3"/>
<path d="M21,360.6l.9,5.8 .8-5.5 .9,.9 .8,1.9 .9,1.9 .8,0 .9-3.1 .8,2.8 .9,.9 .8,1.7 .9-1.1 .8,1.2 .9,2.8 .8,3.9 .9,2.1 .8,3.6 .9,3.4 .8-.7 .9-4.2 .8-1.3 .9-5.7 .8-2.5 .9-3.4 .8-2.4 .9,.6 .8-4.5 .9-6.4 .8-2.6 .9-4.1 .8-4.8 .9-6.7 .8-8 .9-9 .8-6.4 .9-5.5 .8,1.7 .9,.6 .8,6.3 .9,.3 .8,.3 .9-1.3 .8-1.3 .9,1.9 .8,4.9 .9,1.8 .8,2.3 .9,1.8 .8,2.7 .9,3.6 .8,.5 .9,3 .8-5.3 .9,.7 .8,1.6 .9-3.1 .8-2.2 .9,.7 .8,.9 .9,6.4 .8,2 .9,1.7 .8,1.2 .9,4.3 .8,2 .9,1.1 .8,5.6 .9-1.2 .8,3.3 .9,2.9 .8,.7 .9,0 .8,4.2 .9-1.3 .8,2.1 .9,0 .8,.3 .9-.8 .8,2.3 .9,4 .8-2.9 .9,6.9 .8-2.7 .9-2.2 .8-.7 .9,2.5 .8,1.4 .9-1.2 .8-2.3 .9,2.1 .8-.8 .9,.9 .8-.2 .9-1.5 .8-2.6 .9,0 .8-1.9 .9-2.3 .8-.7 .9,2.3 .8-5.3 .9-4.1 .8,1.4 .9-2.2 .8-1.4 .9-3.8 .8-1.1 .9-2.3 .8-4.2 .9-1.8 .8,4.7 .9-6.3 .8,3.1 .9-3.6 .8-.7 .9,2.3 .8,1 .9,3.8 .8-1.8 .9,7.6 .8,3.4 .9,1.1 .8,1.4 .9,3 .8-.6 .9,2.7 .8-.9 .9-1.6 .8-1.4 .9,.8 .8-1 .9-2.8 .8-5.3 .9-3.2 .8-4.8 .9-.7 .8-3.7 .9-1.7 .8-7.2 .9-1 .8-6.1 .9,1.2 .8-1.3 .9-.3 .8,1 .9,2.7 .8-.8 .9,2.3 .8,2.1 .9,.9 .8,4.2 .9,2.7 .8,2.7 .9,1.5 .8,2.8 .9,1.8 .8,5.8 .9,.2 .8,2.8 .9,.8 .8,4 .9,.6 .8,2.5 .9,2.6 .8-.8 .9,.7 .8,1.1 .9,.2 .8,.8 .9-.8 .8,2.5 .9-5 .8,2.2 .9,.8 .8-1.2 .9-1.6 .8-3.1 .9-.5 .8-1.1 .9,1.3 .8,.8 .9-2.4 .8,1.6 .9,.1 .8-2.6 .9,0 .8-1.8 .9,3.1 .8-4.1 .9,0 .8-.9 .9,2 .8-1.5 .9,1 .8-2.3 .9-1 .8-.2 .9,2.2 .8-2.6 .9,1.8 .8-4.6 .9-1.4 .8-.4 .9-1.7 .8-.5 .9-1.5 .8-1.3 .9-3.2 .8,1.1 .9-1.1 .8-3.4 .9-2.6 .8,1.5 .9,.4 .8-1.4 .9-.4 .8-1.3 .9,3.9 .8,.6 .9,3.4 .8-.3 .9,1.9 .8,3.6 .9,.1 .8-2.9 .9,7.7 .8,2.2 .9-.1 .8,1.9 .9-.5 .8,1.8 .9,2.3 .8-3.6 .9,2.9 .8,.1 .9-.8 .8,2.6 .9-2.4 .8,.3 .9,1.1 .8-2.9 .9-.2 .8-2.3 .9-.4 .8-1.1 .9,1.9 .8-1.4 .9,.5 .8,.7 .9,1.6 .8-2.5 .9-1 .8-1.7 .9,3.4 .8-4 .9,1.7 .8-1.2 .9-1.1 .8,1.9 .9,.6 .8-1.6 .9,2.3 .8,.5 .9-1.3 .8-2.2 .9,1.1 .8,2.9 .9-2.3 .8-1 .9,2.5 .8-.3 .9,1.2 .8-1.6 .9,1.1 .8,.3 .9-.2 .8,2.1 .9,.2 .8-1.5 .9,3.3 .8-.3 .9,1.1 .8-3.8 .9-.5 .8,1.4 .9,.6 .8-.2 .9-.6 .8,1.4 .9-1.2 .8-.6 .9-.9 .8-1 .9-.6 .8,1.8 .9-1.8 .8,1.4 .9-2.5 .8,.2 .9,1.7 .8,1.8 .9-2.8 .8-.4 .9-2.2 .8-.9 .9,1.2 .8-.9 .9,1.9 .8-5.5 .9-.2 .8,4.7 .9-4.3 .8,1.2 .9,.8 .8-4.3 .9,2.7 .8-1.7 .9,.4 .8,3.1 .9-.5 .8-1.6 .9,.8 .8,1.2 .9,2.8 .8-.6 .9,.9 .8,1.3 .9-.5 .8,.6 .9,.8 .8-.4 .9,1 .8,.6 .9-2 .8,2.5 .9,1.3 .8-2 .9-1.5" stroke="#b32ea3" stroke-width="1.3"/>
<path d="M21,364.4l.9-5.2 .8-.3 .9,7.9 .8-2.7 .9-1.2 .8,1.6 .9-.2 .8-1.2 .9,1.9 .8-1.7 .9,4.3 .8-2.2 .9,6.7 .8-.4 .9,8.8 .8,1.5 .9-1.9 .8-.8 .9-3.8 .8-2.5 .9-.4 .8-1.5 .9-8.4 .8,.7 .9-6.5 .8,4.4 .9-8.8 .8-2.5 .9-4.4 .8-6.1 .9-11.2 .8-4 .9-5.2 .8-9.5 .9-4 .8,10.4 .9-4.7 .8-1.3 .9,2.3 .8,1.3 .9-4.9 .8,4.4 .9,3.5 .8,4.1 .9,1.8 .8-2.2 .9,2.4 .8,3.8 .9,2.6 .8,3.1 .9-2.3 .8,2 .9-.7 .8-2.4 .9,3.8 .8-4.5 .9-1.3 .8,3.4 .9,2.3 .8,1.5 .9,2.9 .8-.8 .9,9.5 .8-2 .9,2.9 .8,4.2 .9,4.2 .8-.8 .9,.4 .8,3.4 .9-.6 .8,1.5 .9,3.9 .8-1.6 .9,3.7 .8,1.1 .9-.8 .8-.1 .9,2.6 .8-2.4 .9,3.3 .8,1.5 .9-1.2 .8,.4 .9-1.3 .8-.3 .9,2.4 .8-2.1 .9-.7 .8,1.4 .9,.4 .8,1.2 .9-2.3 .8-1.8 .9,.5 .8-2.1 .9-.6 .8-3.7 .9-1.6 .8-1.1 .9-3.4 .8-4.5 .9-.7 .8,1.6 .9-2.7 .8-.2 .9-3.1 .8-1.3 .9,1.1 .8-1.4 .9-3.9 .8-.2 .9-.4 .8-1.1 .9,2.2 .8,5.9 .9-3.4 .8,2 .9,4.1 .8,2.6 .9,2.6 .8,3 .9,.7 .8,1.4 .9-1.3 .8,.2 .9,.9 .8-.1 .9-3.2 .8,1.5 .9-4.5 .8-2.6 .9-4.7 .8-3.4 .9-3.6 .8-3 .9-4.4 .8-2.4 .9-3.4 .8-3.8 .9-1.7 .8-2.4 .9,2.3 .8,1.1 .9,2 .8,0 .9,2.8 .8,2.3 .9,2.8 .8,2.2 .9-.1 .8,5.4 .9,4.3 .8,1 .9,2.1 .8,.5 .9,1.2 .8,5.1 .9,1.2 .8,3.7 .9,1.8 .8,1.4 .9-1.4 .8,2 .9-.1 .8,1.3 .9,2.8 .8-3.4 .9,3.5 .8,.7 .9-1.2 .8,.5 .9-3 .8-.1 .9,.2 .8-2.8 .9,.7 .8-2.3 .9-.3 .8-.5 .9,.2 .8-1.5 .9,.1 .8-1.2 .9-.8 .8,1.6 .9-1.6 .8-.1 .9-1.6 .8,3.4 .9-4.3 .8,.1 .9,0 .8,3.3 .9-2.8 .8-1.7 .9,.6 .8-3.3 .9,2.5 .8-2.2 .9,1.4 .8-3.5 .9-2.8 .8-.2 .9-2.2 .8-2.5 .9,2.6 .8-4.1 .9-1.3 .8,0 .9-3.4 .8-.8 .9,.9 .8-3.1 .9,.6 .8,.8 .9,.2 .8,2.8 .9,3.8 .8-2.6 .9,4.7 .8,3.3 .9,1.3 .8-.3 .9,1.6 .8,3.2 .9,1.3 .8-.4 .9,2.7 .8-1.8 .9,4.1 .8-.5 .9,1.1 .8-.3 .9,.4 .8-1.5 .9,3.1 .8-3.9 .9,.4 .8-2.1 .9,0 .8,.6 .9-1.2 .8-1.2 .9-.5 .8-1 .9,1.4 .8-3.7 .9,3.5 .8-.3 .9-1.2 .8,2.2 .9-2.4 .8,1.5 .9-1.4 .8,1.1 .9,.9 .8-2.8 .9-.1 .8,1.9 .9-1.7 .8,.9 .9-.7 .8-2.7 .9,5.2 .8-3.6 .9,.5 .8-1.4 .9,3 .8,1.5 .9-.1 .8,.6 .9-2.3 .8,4.8 .9-3.2 .8,.5 .9,4.1 .8-1.8 .9-1 .8,.2 .9,3.1 .8-.1 .9-.1 .8-3.1 .9,.3 .8-.5 .9,1.3 .8,.1 .9,.2 .8-1.9 .9-1.1 .8-.6 .9,3 .8-3.5 .9-.2 .8,.7 .9,3.3 .8-4.2 .9-1.1 .8,2.8 .9-3.2 .8,1.8 .9-1 .8-2.1 .9,1 .8,.3 .9-1.9 .8-4.3 .9,5.3 .8-2.4 .9-1.9 .8,1.7 .9-1.4 .8-1 .9-.1 .8,.9 .9-.5 .8,0 .9,2.2 .8-.1 .9,2 .8-2.8 .9,2.1 .8-.1 .9,4.8 .8-1.9 .9,1.4 .8,.9 .9-2.6 .8,3.4 .9,1 .8-4.3 .9,2.2 .8,.2 .9,1.9 .8-1.6 .9,.7" stroke="#a82aae" stroke-width="1.3"/>
<path d="M21,362.7l.9-3.4 .8,4 .9-.4 .8-.2 .9-.1 .8,3.6 .9-4.5 .8,1.2 .9,3.2 .8,.8 .9,.4 .8,2.8 .9-2.6 .8,7.3 .9-1.6 .8,8.4 .9,6.4 .8-12.2 .9,3.1 .8-1.9 .9-6.7 .8,2.3 .9-2.4 .8-11 .9-.2 .8,.2 .9-4.8 .8-2.7 .9-7.5 .8-8.2 .9-6.2 .8-3.2 .9-7.6 .8-7.6 .9,1.2 .8-6.4 .9,4.2 .8-2.6 .9,4.6 .8,.3 .9,1.2 .8-.8 .9-1.3 .8,7 .9,2.5 .8,1 .9,1.7 .8,7.2 .9,1.5 .8-1.9 .9,5.9 .8-4.6 .9-1.1 .8-1.4 .9,.2 .8-1.1 .9-2.9 .8,3.5 .9,2.2 .8,5.4 .9,.1 .8,3.7 .9,3.8 .8,1 .9,1.8 .8,3.4 .9,2.4 .8,1.5 .9,4.3 .8-.2 .9,1.9 .8,4 .9-1.8 .8,1.1 .9,.1 .8-.2 .9,2 .8-3.7 .9,5 .8,.3 .9,2.1 .8-1.1 .9,2.8 .8-3.5 .9,2.1 .8-1.4 .9-.1 .8,2.5 .9-.5 .8-.4 .9,1.6 .8-5.1 .9,2.5 .8,.4 .9-4.1 .8-.5 .9-.6 .8-4.1 .9-.4 .8-.4 .9-3.2 .8-1.6 .9-4.8 .8,1.8 .9-5.4 .8,0 .9-1.2 .8-.4 .9-1.5 .8-2.9 .9,.7 .8-3.4 .9-2.1 .8,2.9 .9,.5 .8,.6 .9,2.1 .8,6.4 .9,2.3 .8,.6 .9,4.3 .8,2.7 .9,1.5 .8,.4 .9-2.7 .8,1.1 .9-.5 .8-.5 .9-.1 .8-1.9 .9-2.4 .8-4.1 .9-1.7 .8-5.7 .9-3.3 .8-4.8 .9-.7 .8-4.6 .9-5.1 .8,1.2 .9-4 .8-1.1 .9,.3 .8,2.2 .9-2 .8,2.5 .9,2.7 .8,1.1 .9,3.2 .8,3.3 .9,7.3 .8-1.9 .9,0 .8,5 .9,3.4 .8,.8 .9,3.4 .8,4.2 .9-2.9 .8,4.5 .9,2.2 .8,1 .9,1 .8,.4 .9,3.1 .8-.1 .9,1.3 .8-.3 .9-1.2 .8,.3 .9-1.1 .8,1.2 .9-3.5 .8,2 .9,.9 .8-.7 .9,.5 .8-3.3 .9-.6 .8-1.8 .9,.1 .8-2.7 .9-.3 .8,.4 .9,.8 .8-.9 .9-1.4 .8-.5 .9-.5 .8,1.3 .9-2.2 .8,.7 .9,.5 .8,.5 .9-3.2 .8-.4 .9-.4 .8,.5 .9-3.5 .8,2.6 .9-.8 .8-2.5 .9-2.8 .8-.4 .9,.2 .8-.9 .9-3.8 .8,.8 .9-1.6 .8-2.8 .9-1.3 .8-1.4 .9-.3 .8,.2 .9-1.2 .8-.5 .9,2.2 .8,3.7 .9-1.7 .8,1.2 .9,5.1 .8,1.4 .9,3.1 .8-1.4 .9,3.7 .8-.6 .9,5.7 .8,.7 .9-1.2 .8,2.2 .9-1.3 .8,2.2 .9,2.6 .8-1.2 .9-1.9 .8,.7 .9-3.2 .8,2.6 .9-2 .8-.8 .9-.3 .8,.6 .9-4.3 .8,2.3 .9-1.7 .8,.4 .9,1.8 .8-.7 .9-1.7 .8,2.9 .9-.5 .8-1.9 .9,1.9 .8-1.3 .9-.8 .8,1.2 .9,.1 .8-.9 .9,0 .8,.2 .9-1 .8,.8 .9-2.9 .8,1.7 .9-2.5 .8,3.2 .9-2 .8,1.5 .9,.3 .8,2 .9-1 .8,1 .9,1 .8-1.9 .9,2.6 .8,1.7 .9-2.1 .8,1.3 .9-1.4 .8-.1 .9,1.1 .8,2.2 .9-1.7 .8-2 .9,1.7 .8,.7 .9-3.2 .8,2.4 .9-.4 .8-1.4 .9-.9 .8,3.5 .9-2 .8-.2 .9-3.1 .8,1.3 .9,.8 .8-2 .9,2.2 .8-4.5 .9,3 .8-2.1 .9-.5 .8,.9 .9-1.9 .8-1.3 .9,1.5 .8-.6 .9-2.7 .8,2.1 .9,1.7 .8-2.9 .9-2.2 .8,1.1 .9-.7 .8,.2 .9-.1 .8-1.8 .9,4.8 .8,0 .9,1.9 .8-.7 .9,.6 .8,.4 .9,.4 .8-.1 .9,2.5 .8-2.1 .9,2.6 .8-.3 .9,1.3 .8-1 .9,.5 .8,.4 .9-.9 .8,2.6 .9-3.4" stroke="#9c26b8" stroke-width="1.3"/>
<path d="M21,363.1l.9,.3 .8-7.4 .9,9.1 .8,.4 .9-3.6 .8,2.5 .9-1.2 .8,3.1 .9-3 .8,2.9 .9,.5 .8-2.6 .9,7.9 .8,1.8 .9,2.9 .8,2.2 .9,2.6 .8-3.8 .9-.4 .8-1.5 .9-7.2 .8-2.5 .9,4.6 .8-5.8 .9-5.6 .8-3.4 .9-.5 .8-5.1 .9-4.8 .8-6.5 .9-8.2 .8-7 .9-6.4 .8-8.5 .9,0 .8-1.6 .9,4.8 .8-.4 .9,.5 .8-1.8 .9,4.5 .8-3.5 .9,2.9 .8,8.5 .9-7.9 .8,6 .9,4.6 .8,1.2 .9,4.4 .8,2.4 .9,.7 .8,.9 .9-3.6 .8-2.1 .9,.6 .8-.3 .9-3.2 .8,5.7 .9,1.6 .8-2.2 .9,6 .8,.8 .9,8.3 .8-1.5 .9,3.3 .8,2 .9-2.1 .8,5.5 .9,4.5 .8,2.7 .9-2.2 .8,4 .9-2.9 .8,5.5 .9,.3 .8-1.5 .9,3.2 .8-1.7 .9,3.3 .8-1 .9-.5 .8-.9 .9,1.2 .8,3.6 .9-2.1 .8,.4 .9,1.3 .8,1.2 .9-.9 .8-3.3 .9-.4 .8,2.2 .9,.5 .8-3.4 .9,1.2 .8-8.1 .9,1.1 .8-4 .9,4.6 .8-2.9 .9-3.4 .8-3.5 .9,.2 .8-1.2 .9-.9 .8-1.5 .9-6.2 .8,.4 .9,1.4 .8-4.2 .9,2.8 .8-4 .9-.8 .8-2 .9,2.4 .8,4.5 .9-.7 .8,2 .9,2.5 .8,2.3 .9,5.4 .8,1.4 .9,0 .8,4.1 .9-1.9 .8-1.2 .9-.7 .8,1.2 .9-1.5 .8-.1 .9-3 .8-3 .9-3.5 .8-2.9 .9-4 .8-5.7 .9-5.7 .8-.8 .9-.7 .8-4.3 .9-3.9 .8,1.1 .9,.7 .8-2.1 .9,.4 .8,5.2 .9,1.6 .8,1.7 .9,2.5 .8,3.9 .9,1.5 .8,1.9 .9,2 .8,4.4 .9,.8 .8,4.6 .9,1.2 .8,5.9 .9-3.8 .8,3.4 .9,3.4 .8,.5 .9-.6 .8,2.4 .9,1.3 .8,.7 .9-1.3 .8,2 .9-.1 .8,1.1 .9-2.8 .8,1.4 .9-4 .8,5.3 .9-3.6 .8,3.4 .9-3.4 .8-1.4 .9-3.1 .8,1.5 .9-1.4 .8,.4 .9,.3 .8,1.5 .9-4.5 .8,2 .9,0 .8-1.2 .9-6.2 .8,4.4 .9-3.2 .8,.7 .9,.5 .8-1.9 .9,.4 .8,1.4 .9-.7 .8-1.9 .9-1.5 .8,1.7 .9-1 .8-3 .9-.3 .8-2.6 .9-1.5 .8-.7 .9-1.6 .8-1.7 .9-.6 .8-3.3 .9-.7 .8-.8 .9-1.2 .8,2.1 .9-3.4 .8,.9 .9,1.5 .8,4.9 .9,.3 .8,.7 .9,.8 .8,5 .9,3.6 .8-.5 .9-.9 .8,3.6 .9,1.6 .8-.6 .9,3.5 .8-.6 .9-.1 .8,1.3 .9,.7 .8-.5 .9,.7 .8-1.1 .9,.2 .8-.8 .9,.7 .8-1.1 .9-1 .8,1.3 .9-3.3 .8,1.6 .9-1.4 .8-1.3 .9-1 .8-.5 .9,2.9 .8-3.5 .9,3.9 .8-1.8 .9-1 .8,1 .9,.7 .8-2.5 .9,.7 .8,1.7 .9-.7 .8-.7 .9-4.3 .8,3.3 .9-1.3 .8,.6 .9-.2 .8,.6 .9-.7 .8,.8 .9,1.7 .8-5.2 .9,5.9 .8,1.3 .9-1.4 .8,1.2 .9-.4 .8,1.9 .9,.6 .8-2 .9-.1 .8,.5 .9,.4 .8,2.3 .9-.9 .8-2.9 .9,2.4 .8-1.9 .9,2.3 .8,.3 .9-3.1 .8,1.4 .9,.4 .8-3.3 .9,.5 .8-2 .9,1.7 .8,.8 .9,1.7 .8-.1 .9-.9 .8-2.1 .9,.1 .8-3.1 .9,3.1 .8-1.9 .9,1 .8-.1 .9-1.2 .8-2 .9,1.2 .8-3.3 .9,2.5 .8-1 .9-1.1 .8,.3 .9-.5 .8-1.3 .9,.3 .8,2.9 .9-1.6 .8,2.2 .9-1.2 .8,.8 .9,3.6 .8-1.4 .9,.4 .8-4.3 .9,6.1 .8,2.4 .9-.5 .8-.7 .9,2.1 .8,.7 .9-1.8 .8-2 .9,.2 .8,1.8 .9-1.7" stroke="#9222bd" stroke-width="1.3"/>
<path d="M21,367.4l.9-3.2 .8,.3 .9,.8 .8-3.4 .9,3.6 .8-1.2 .9-4 .8,8.5 .9-2.4 .8,2.8 .9-3.1 .8-3.7 .9,4.3 .8,7 .9,6.6 .8,3.8 .9,1.2 .8-6.5 .9-3.7 .8,.7 .9-7.5 .8,1.3 .9-3.6 .8-3.4 .9,1.1 .8-6.9 .9-2.3 .8-3.8 .9-5.6 .8-5.4 .9-6.3 .8-8.9 .9-2.8 .8-12.3 .9-5.2 .8,3.9 .9,3.3 .8-.1 .9,4.6 .8-2 .9,.1 .8-.3 .9,2.3 .8,2.5 .9,2.5 .8,2.2 .9,2.2 .8,.9 .9,4.6 .8,.8 .9,1.6 .8-.5 .9-1.3 .8,.3 .9-3.9 .8,.4 .9-2.8 .8,1.2 .9,6.6 .8,.8 .9,.6 .8,7 .9,2.3 .8,3.9 .9-.1 .8,8.7 .9-3.3 .8,3.5 .9,.3 .8,1.7 .9,.5 .8,1.7 .9,2 .8,.5 .9-2 .8,4 .9,0 .8,2.5 .9-2.2 .8,.6 .9-.3 .8,4.9 .9-3 .8,0 .9,2.3 .8,2.2 .9-2.8 .8,1.4 .9-1.4 .8,2.6 .9-2.6 .8,2.5 .9-3.7 .8,1.1 .9-.7 .8-.8 .9-4.9 .8-2.4 .9-2 .8,.3 .9-5.3 .8-4.7 .9,1.7 .8-1.8 .9-2.3 .8,2 .9-2.4 .8-1.4 .9-1 .8-3.2 .9-1 .8,1.2 .9-3.7 .8,1.5 .9-4.7 .8,7 .9,2.8 .8,1 .9,1.8 .8,.9 .9,4.4 .8,1.3 .9,2.9 .8,0 .9,2.4 .8-1.8 .9,.7 .8-3 .9,3 .8-2.2 .9-.7 .8-7.8 .9-.4 .8-3.3 .9-4.9 .8-3 .9-2.6 .8-5.6 .9-2.5 .8-1.1 .9-5 .8,3.3 .9-3.2 .8,1.1 .9,.3 .8,4.6 .9-.7 .8,3.7 .9,1.3 .8,2.3 .9,1.4 .8,3.2 .9,2.8 .8,3.5 .9,2.8 .8,1.5 .9,3.1 .8,1.3 .9,1.7 .8,4.5 .9-.1 .8,1.8 .9,3.1 .8,.1 .9-.8 .8,3.3 .9-.3 .8,6.1 .9-6.2 .8-.9 .9-.2 .8,0 .9-1.5 .8,.4 .9-1.8 .8-.6 .9,.4 .8-1.8 .9,.4 .8-.7 .9-3.3 .8,.8 .9,1.8 .8-2 .9,.6 .8-1.9 .9-.2 .8-.8 .9-1 .8-.4 .9,1.6 .8-2.5 .9,1 .8-.7 .9,.9 .8-4.6 .9,3.6 .8-1.7 .9-.8 .8-.2 .9-1.5 .8,1.2 .9-.5 .8-3.6 .9-.6 .8-2.1 .9-.9 .8-5.6 .9,.2 .8-.4 .9-1.2 .8-1.9 .9,.3 .8-1.1 .9-2.2 .8,2.9 .9,4.4 .8-2.6 .9,2.2 .8,1.2 .9,3.4 .8,3.1 .9,2.5 .8-.5 .9,1.5 .8,1.4 .9,1 .8,3 .9-.5 .8,1 .9-.5 .8,4.3 .9-.2 .8,2 .9-1.9 .8,0 .9-1.5 .8-1.4 .9,.1 .8-3.6 .9,1.7 .8-1.6 .9,.4 .8-.2 .9-1.9 .8,1.3 .9-.2 .8-1.3 .9,1.7 .8-2.1 .9,.8 .8,.6 .9-1.7 .8,2.2 .9-2.5 .8,1.3 .9-.2 .8,.4 .9,1.3 .8-2.4 .9-.9 .8,2.7 .9-2.4 .8-1 .9,2.8 .8-1.4 .9,1 .8,.9 .9-.5 .8-1 .9-1.2 .8,4.2 .9-.4 .8-.4 .9,.2 .8-.4 .9,1 .8,1.8 .9-.2 .8,1.4 .9-2.4 .8,2 .9,1 .8-2.4 .9,1.4 .8,1.5 .9-4.4 .8,.3 .9,.8 .8-.4 .9-.3 .8-1 .9-1.2 .8-1.6 .9,3.5 .8-2.5 .9,.2 .8-.2 .9-.1 .8,1.1 .9-.4 .8-1.8 .9,0 .8-.4 .9-3.5 .8,3.6 .9-.3 .8-3.8 .9-1.5 .8,3.3 .9-.7 .8-.8 .9-1.9 .8,2.3 .9-2.4 .8,1.9 .9-.6 .8-.4 .9,2 .8-1.8 .9,3.3 .8-.1 .9-.2 .8,1.8 .9,0 .8,.7 .9-.1 .8-1.9 .9,5.3 .8-.5 .9,4 .8-4.7 .9,1.4 .8,.6 .9-1.6 .8-.7 .9-2.5" stroke="#871ec2" stroke-width="1.3"/>
<path d="M21,359.8l.9,5.8 .8,.2 .9-3.8 .8-.6 .9,5.3 .8,1.7 .9-3.3 .8-1.2 .9,7.4 .8-5 .9-2.8 .8,4.6 .9,.1 .8,3.5 .9,3.6 .8,7.7 .9-.3 .8-.7 .9-4.1 .8-9 .9,4.8 .8-11.5 .9,9.2 .8-9.6 .9-3 .8-3.1 .9-4.4 .8-6.4 .9,3.7 .8-7.8 .9-10.5 .8-5.4 .9-8.1 .8-9.7 .9,3.7 .8,1.4 .9-2 .8-1.7 .9,5.8 .8,.5 .9-4.9 .8,4.6 .9,.8 .8,5.7 .9,.4 .8,6.6 .9-1.3 .8,1.5 .9,.5 .8,2.1 .9,5.1 .8-3 .9-1.6 .8,.8 .9-2.8 .8-.5 .9-1.1 .8,4.7 .9-1.2 .8,4.6 .9,4.7 .8-1.1 .9,5.6 .8-.6 .9-1.6 .8,10.3 .9,.2 .8,4.1 .9-2.2 .8,2.6 .9-.4 .8,5.3 .9,1.6 .8,.1 .9-2.7 .8,6.2 .9-1.9 .8-.7 .9,.6 .8,.5 .9,3.1 .8-2.1 .9,5.3 .8-4.7 .9,2.2 .8-1.3 .9,.1 .8,1.2 .9,1.5 .8-1.6 .9,.9 .8-2.2 .9,.4 .8-2.6 .9-1 .8-1.5 .9-3.3 .8,1.4 .9-5 .8-1 .9-.4 .8-3.2 .9,.2 .8-1.9 .9-.4 .8-4.6 .9,2.3 .8-4 .9-1.5 .8-1 .9-1.4 .8,.2 .9-4.6 .8,2.8 .9-1.7 .8,3.6 .9,4.3 .8,2.3 .9,4.2 .8,2 .9,.5 .8,2.3 .9,1.8 .8,2.7 .9-1.9 .8,0 .9,1.2 .8-3.3 .9-.8 .8-.3 .9-4.6 .8-2.5 .9-4.1 .8-4.4 .9-2.8 .8-4.8 .9,2.6 .8-6.7 .9-4.3 .8-1.1 .9-2.4 .8-3.1 .9,.8 .8-.4 .9,3.1 .8,1 .9,3.4 .8-1.1 .9,2.2 .8,4.7 .9,4.8 .8,1.4 .9,3.3 .8,2.8 .9,1.7 .8,3.3 .9,.9 .8,4 .9,.5 .8,3.8 .9-1.5 .8,3.2 .9-.5 .8,2.7 .9,1 .8-.5 .9,1.7 .8,3.3 .9-4.2 .8,2.6 .9-3.8 .8,1.1 .9-.1 .8,1.7 .9-6.6 .8,1.1 .9,1.6 .8-.1 .9-1.7 .8-.8 .9-1.3 .8,1.1 .9-2.3 .8,1.2 .9-.4 .8-1.5 .9-3.3 .8,1.8 .9-.8 .8,2.7 .9-3.3 .8-1.4 .9,2.7 .8,.5 .9-1.9 .8-2 .9-1.5 .8,.4 .9-1.3 .8-.1 .9,.3 .8-3.5 .9,.3 .8-.4 .9-1.8 .8-1.9 .9-2.9 .8-.8 .9-3.2 .8-2 .9,.4 .8-.4 .9-1 .8-2.1 .9,.7 .8,.3 .9,5.5 .8,.8 .9-2.1 .8,4.2 .9-.1 .8,3.8 .9-.6 .8,3.1 .9-.1 .8,3.9 .9,1.7 .8,4.1 .9-1.8 .8,.1 .9,.7 .8,.7 .9,.4 .8,.7 .9-.7 .8,1.6 .9-4.6 .8,4.2 .9-.6 .8-1 .9-.3 .8-3.4 .9-.3 .8,1.5 .9-1.2 .8,1.8 .9-1.5 .8-1.7 .9,1.3 .8-1.4 .9-.4 .8-.3 .9-.7 .8,4 .9-4.6 .8,2.6 .9-.3 .8,0 .9-.3 .8,.3 .9-1.2 .8-1.4 .9,1 .8,0 .9-3.9 .8-.4 .9,3.4 .8,1.3 .9-.4 .8,3.9 .9-1.5 .8,3.7 .9-2.3 .8-2.1 .9,.7 .8,1.3 .9,1.2 .8,1.4 .9-.5 .8-.3 .9,.3 .8,.3 .9-1.6 .8-1.6 .9,1.4 .8,.3 .9,.1 .8-.2 .9,.3 .8-2.6 .9,1.7 .8-1.5 .9-.3 .8,2.1 .9-2.5 .8,3.1 .9-2.9 .8,1.8 .9-2.5 .8,.2 .9,.7 .8-1.4 .9-.2 .8-.2 .9-1.4 .8-.3 .9,.4 .8-1.1 .9,.9 .8-1.3 .9-3.5 .8,1.2 .9-1.5 .8-1.3 .9,2.9 .8-1.8 .9,.2 .8,1.7 .9,.3 .8,1.5 .9-1 .8,1.5 .9,1.4 .8,.5 .9-.6 .8,1.9 .9-1.2 .8,1.3 .9,1.9 .8-.5 .9-.7 .8,2.9 .9-1.2 .8,.2 .9-3 .8,.5 .9-.6" stroke="#7c1bc5" stroke-width="1.3"/>
<path d="M21,360.5l.9,5.5 .8-2.7 .9-1.7 .8-7.6 .9,4.2 .8,.2 .9,7.6 .8-.4 .9-9.6 .8,8.2 .9,.6 .8,2.5 .9,3.8 .8,7.7 .9-.6 .8,5.1 .9-.7 .8-1.1 .9-7.9 .8,1.3 .9-4.8 .8,.5 .9-5.7 .8-3.6 .9,1 .8-6.4 .9-2.8 .8-3.7 .9-3.6 .8-4.9 .9-9.2 .8-8.3 .9-6.6 .8-8.4 .9-.5 .8,4.7 .9-1.1 .8,.5 .9,5.8 .8-5.4 .9-.2 .8,3.2 .9-.5 .8,3.4 .9,1.6 .8,4.3 .9-.5 .8,2.3 .9,4.3 .8,2 .9,1.1 .8,1.1 .9-4.4 .8-.5 .9-4.9 .8,1 .9,.6 .8,.2 .9,4.6 .8,2.9 .9,2.1 .8,2.1 .9,5.4 .8,.6 .9,2.7 .8,3.8 .9,1 .8,2.7 .9-.1 .8,4 .9-.7 .8,3.4 .9-.6 .8,5.4 .9-2.8 .8,3.7 .9-1.9 .8,.3 .9,3.9 .8,.5 .9-1.6 .8-.3 .9,4.1 .8-3 .9,.4 .8-3 .9,4.5 .8,1.5 .9-3.2 .8-.2 .9-2.2 .8,3 .9-6.1 .8,1.5 .9,.2 .8,1.3 .9-4.7 .8-.6 .9-.2 .8-3 .9-3.4 .8-4.8 .9,.6 .8,.3 .9,1.1 .8-6.2 .9-.5 .8,1.2 .9-3.2 .8-3 .9-.8 .8-.8 .9-1.6 .8-.6 .9,.1 .8,1.1 .9,1.9 .8,5.1 .9,5.5 .8-.1 .9,3.8 .8,.6 .9,.9 .8,2.5 .9,.4 .8-1.7 .9,.7 .8-4 .9,.6 .8-1.3 .9,0 .8-4.6 .9-3.5 .8-.9 .9-8.2 .8-4 .9,1.4 .8-6.2 .9-2.6 .8-1.8 .9-2.3 .8-1.7 .9,1.8 .8-2.7 .9,3.8 .8,3 .9-.7 .8,1.4 .9,6.9 .8-1.9 .9,3.2 .8,3.9 .9,3.8 .8,2.4 .9-2.5 .8,6.2 .9,2 .8,3.4 .9,1.9 .8,.1 .9,3.4 .8-1.1 .9,3.3 .8,2.5 .9-2 .8,.3 .9,2.1 .8-.2 .9,1.5 .8,1.2 .9-5.2 .8-3.7 .9,5.2 .8-2.1 .9,4 .8-5.9 .9,3.7 .8-1.9 .9-.9 .8-2.9 .9-.2 .8,1.9 .9-.1 .8-.2 .9-.1 .8-2.4 .9,2 .8-3.3 .9-1.1 .8-3.3 .9,2.6 .8,1.4 .9-2.6 .8,.6 .9-.7 .8-.1 .9-.1 .8,.2 .9-3.4 .8-1.4 .9-.1 .8,.7 .9-1.5 .8-5.8 .9,3.4 .8-1.8 .9-3.3 .8-.3 .9-7.4 .8,5.1 .9-2 .8,.1 .9-.9 .8-1.3 .9,.8 .8-5.6 .9,6 .8,.9 .9,3.3 .8,1.8 .9,.7 .8,1.1 .9,4.3 .8,.1 .9,1.8 .8,3 .9-.9 .8,2.3 .9,4 .8-2.1 .9,2.4 .8-1.3 .9,1.1 .8,1 .9-.9 .8-.4 .9,.2 .8-.5 .9-1.3 .8-1.4 .9-1.6 .8,0 .9,.2 .8-3.1 .9,2.4 .8-1.2 .9,1.6 .8-1.5 .9,1 .8,.9 .9-1.3 .8,2.4 .9-4.3 .8,3 .9-1.3 .8-1.4 .9,2.8 .8-.8 .9,.6 .8-2.5 .9,1 .8-1.9 .9,.3 .8-2 .9,2.8 .8-1.4 .9-.2 .8,2.9 .9-1.3 .8,2.9 .9,.8 .8-2.5 .9,1.2 .8,0 .9-.3 .8,.6 .9,.1 .8-.2 .9,.6 .8,2.4 .9-.9 .8-.7 .9,.1 .8,1.1 .9-2.7 .8,.7 .9,1.6 .8-1 .9-2.1 .8,2.2 .9-2.6 .8-.4 .9,4 .8-2.9 .9,0 .8,1.1 .9-3.4 .8,1.8 .9-2 .8,1.5 .9-4 .8,3.9 .9-3.2 .8,3.2 .9-4.5 .8-.8 .9,2.5 .8-2.4 .9-.9 .8,.2 .9-1.5 .8,1.1 .9-1.9 .8-.9 .9,2.6 .8,1.5 .9-3.2 .8,1.6 .9,.9 .8,1.9 .9-2.9 .8,3.5 .9,.1 .8,.9 .9,1.1 .8-.2 .9,.6 .8,.1 .9-.3 .8,2 .9-1.4 .8,1.1 .9,1.1 .8-2.4 .9,.4 .8,2.5 .9-1.5" stroke="#6f18c6" stroke-width="1.3"/>
<path d="M21,361.3l.9,1.1 .8-.2 .9-1.2 .8,3.9 .9-.9 .8,4.9 .9-4.6 .8-.1 .9,1.2 .8-1.8 .9-.4 .8,5.6 .9,.3 .8,4.9 .9,5 .8,3.1 .9-4.4 .8,1.7 .9-.3 .8-3.3 .9-5.2 .8-.5 .9-6.4 .8,2 .9-9.3 .8-1.9 .9-1.9 .8,1.3 .9-6.8 .8-8.8 .9-8.7 .8-5.9 .9-2.4 .8-11.3 .9,1.1 .8-3 .9,2.9 .8-3.3 .9,3.6 .8,1.9 .9,.6 .8,.9 .9,4.5 .8-.6 .9,2.9 .8,0 .9,1.7 .8,4.1 .9,1.7 .8,1.6 .9,2.7 .8-1.5 .9,.8 .8-1.7 .9-3 .8,1.5 .9-3.3 .8,4.5 .9,1.2 .8,2.7 .9,4.9 .8,.9 .9,3.6 .8,1.7 .9,.6 .8,3.9 .9,2.3 .8,4.4 .9,.5 .8,1.8 .9-.9 .8,.3 .9-.1 .8,6.6 .9-.6 .8-.2 .9,1.4 .8,1.8 .9-.1 .8,2.9 .9-1.9 .8-1.1 .9,1.1 .8,1.5 .9,1.9 .8-4.8 .9,2.6 .8,1.5 .9,.5 .8-2 .9,2.3 .8-3.3 .9,2 .8-2.6 .9,2.8 .8-7.6 .9-.8 .8-2.3 .9-.9 .8,.6 .9-6.4 .8,3.8 .9-4.7 .8-.9 .9-7.8 .8,2.8 .9,1 .8-2.3 .9-3.8 .8-.8 .9-2.1 .8,1 .9-2.8 .8-.7 .9,3.6 .8-.6 .9,3.1 .8,1.1 .9,5.6 .8,4 .9-.3 .8-.4 .9,6.1 .8,.2 .9-1.1 .8,.8 .9,.1 .8-2.4 .9,1.7 .8-6.5 .9,1.6 .8-4.4 .9-2.6 .8-3 .9-6.7 .8-.4 .9-6.2 .8-2.3 .9,3.4 .8-8.3 .9-5.7 .8,3.1 .9-2.8 .8,1.5 .9,3.5 .8-.3 .9,2.8 .8,2.7 .9,1.2 .8,3.3 .9,2 .8,3.9 .9,3.3 .8,.6 .9,2.6 .8,5.2 .9,2.1 .8,.3 .9,2.3 .8,1.9 .9,1.1 .8,2.1 .9,.4 .8,.5 .9,2.3 .8-.4 .9,1.5 .8,.5 .9-1.6 .8,.6 .9-1 .8-1.2 .9,1.1 .8,2.5 .9-2.3 .8-.1 .9-.4 .8-4.3 .9-1.4 .8,3.2 .9-1.5 .8,1.9 .9-2.8 .8-1.1 .9-.1 .8-3.4 .9,2.3 .8-2.9 .9,.9 .8-.8 .9,2.3 .8-2.9 .9,2.1 .8-2.1 .9-.6 .8,2.5 .9-3.4 .8-.7 .9,.8 .8-2 .9-.9 .8-.1 .9-2.4 .8-.7 .9-2.3 .8-1.4 .9-3.1 .8-1.3 .9,.7 .8-3.7 .9,.4 .8-1.4 .9,.5 .8-.7 .9-.6 .8,1.4 .9-.1 .8,2.3 .9,1.2 .8,2 .9,2.9 .8-1.7 .9,3.6 .8,1.9 .9,1.4 .8,2.4 .9,3.6 .8-1.5 .9,2.8 .8,.3 .9-.3 .8,.8 .9,1.5 .8-3.3 .9,6.1 .8-3.3 .9-1.2 .8,.2 .9-2 .8-.6 .9,0 .8-.6 .9-2.9 .8,4.3 .9-.7 .8-1.8 .9,.7 .8-1.2 .9,1 .8-2 .9,.8 .8-.3 .9,2 .8-4 .9,2.7 .8-1 .9,2.1 .8-4.4 .9,3.8 .8-2.6 .9,3.4 .8-6.3 .9,3.7 .8-2.1 .9-1.9 .8,1 .9,2.2 .8-.4 .9,2.6 .8-1.5 .9,.7 .8,3.1 .9-2.7 .8,1.3 .9,1.3 .8-1.5 .9,.5 .8-.1 .9,.7 .8,2.9 .9-3.6 .8,2.2 .9-2.5 .8,6.2 .9-3.7 .8-1.3 .9,.8 .8,.8 .9-2.3 .8-.1 .9-3.6 .8,3.8 .9,1 .8-1.4 .9-.2 .8-1.5 .9,1.2 .8,.8 .9-1.5 .8-1.9 .9-.3 .8,.2 .9-2.8 .8,2.5 .9,1.6 .8-3.8 .9-.1 .8-.3 .9-1.4 .8,1.6 .9-3.7 .8,1 .9-.2 .8-.6 .9-1.3 .8-.2 .9,2 .8,.4 .9,.7 .8-1.7 .9,1.5 .8,3.4 .9-1.9 .8-1 .9,2.8 .8-1.7 .9,3.5 .8,2.5 .9-2.1 .8,1.1 .9,1.4 .8-1.6 .9-.5 .8-.3 .9,0 .8,1.1 .9-3.6" stroke="#6216c8" stroke-width="1.3"/>
<path d="M21,365.6l.9-2 .8-.8 .9,.6 .8,2.2 .9,1.2 .8-1.7 .9,1.9 .8-1 .9-2.3 .8,3 .9-1.3 .8,2.2 .9,3.2 .8,.4 .9,8.9 .8,4.6 .9-1 .8-1.3 .9-4.9 .8-.8 .9-4.6 .8-2.1 .9-5.9 .8,2.5 .9-7.5 .8-.9 .9-7.9 .8,.8 .9-2.5 .8-9.1 .9-7.2 .8-9.4 .9-4.1 .8-7.3 .9-3.3 .8,5.9 .9-1.6 .8,3.5 .9-5.7 .8,.9 .9,1.5 .8,2.2 .9-1.6 .8,3.6 .9,5.2 .8-2.3 .9,1.9 .8,7.6 .9,3.1 .8-.1 .9,5.1 .8-.1 .9-5.4 .8,0 .9,.1 .8,.5 .9-3.7 .8,5.1 .9-.3 .8,1.4 .9,3.5 .8,2 .9,4.6 .8,4.1 .9,.6 .8,.9 .9,1.5 .8,6.4 .9-3.8 .8,5.8 .9,3.7 .8-1.2 .9,.7 .8-2.1 .9,4.1 .8-.2 .9,.8 .8,4.5 .9-5.1 .8,3.1 .9-1 .8,.5 .9,2.5 .8-.9 .9,.4 .8,.5 .9-.2 .8,1.5 .9-.2 .8-1.6 .9-.1 .8-.7 .9,3.7 .8-3.8 .9-1.1 .8-3.7 .9,1 .8-4.3 .9-4.3 .8-2.1 .9-.5 .8-3 .9,.3 .8-2.1 .9,.6 .8-3.2 .9-1.6 .8-1.9 .9-1.2 .8,1 .9-3.7 .8-.3 .9-.8 .8-3.3 .9,3.6 .8,1.1 .9,4.2 .8-2.3 .9,5.1 .8,6.4 .9,.6 .8,2.6 .9-1.4 .8,5.2 .9-2.9 .8,1.3 .9-.9 .8-.6 .9,0 .8-4.4 .9,.3 .8-2.6 .9-5.6 .8-1.4 .9-5.7 .8-2 .9-4.8 .8-1.4 .9-2.7 .8-2.5 .9-5.5 .8-1.4 .9,.7 .8,1.5 .9-1 .8,4.8 .9,2.9 .8,.5 .9,3.8 .8-.3 .9,3.7 .8,2.8 .9,3.1 .8,.6 .9,6.6 .8,1 .9,4.3 .8,.7 .9,1.7 .8,2.1 .9,2.2 .8-1.7 .9,4.2 .8,.1 .9,1.3 .8,.1 .9,1.4 .8,1.6 .9-.7 .8-3.3 .9-1.9 .8,4.4 .9-1.3 .8-1.1 .9-3.3 .8,2 .9-.4 .8,3.3 .9-5.6 .8-2.5 .9-.3 .8,2.1 .9,.5 .8-2.2 .9-.2 .8-1.5 .9,.8 .8-2.8 .9,0 .8,1.5 .9-1.5 .8-1.2 .9-.6 .8,.4 .9-1 .8,1.1 .9-1 .8-.3 .9-2.7 .8-.5 .9,.9 .8-.9 .9-3.2 .8-5.5 .9,1.1 .8,.5 .9,.4 .8-2.5 .9-2 .8-1.4 .9-.1 .8-3.2 .9-.2 .8,.7 .9-.4 .8-.4 .9-1 .8,2.3 .9,2.7 .8,4.2 .9,.8 .8,.6 .9,2.9 .8,2.8 .9,7.1 .8-4.3 .9,4.1 .8-6.7 .9,5.2 .8,.8 .9,2.4 .8,1.2 .9-2.3 .8,1.3 .9,.8 .8,.8 .9-1.7 .8-.6 .9,3 .8-4.5 .9-1.1 .8,1.1 .9-4.2 .8,1.4 .9-1.8 .8,1.3 .9,0 .8-1.8 .9,2 .8-.3 .9-.6 .8,.2 .9-.3 .8,.1 .9,.8 .8-2.3 .9,2.7 .8-.1 .9-.9 .8-2.2 .9,1 .8,.4 .9-.9 .8-1.4 .9-.4 .8,2.2 .9-1.1 .8,1.2 .9-.2 .8,.5 .9,2.5 .8,.2 .9-1.6 .8,2.8 .9-.6 .8,1.7 .9,1.8 .8-2.3 .9,1 .8,.8 .9-3.2 .8,1.5 .9-.1 .8-.5 .9,.2 .8-.9 .9,2 .8-.9 .9-1.2 .8-.9 .9,2.2 .8-2.7 .9,2.4 .8-1.4 .9-1.5 .8-.6 .9-.5 .8-.7 .9-.2 .8,2.8 .9-1.8 .8-2.2 .9,.7 .8-2.7 .9,1.3 .8-1.1 .9,.4 .8,.9 .9-1 .8-.1 .9,.2 .8-1.8 .9-.2 .8-.8 .9-1.3 .8,1.6 .9-1.4 .8,1.8 .9,.4 .8-1.7 .9,5.4 .8-.8 .9-.5 .8,1.2 .9,2.1 .8-1.6 .9,1.2 .8,.6 .9-.7 .8,1.1 .9-.2 .8,1.8 .9,1.2 .8-4.8 .9,1.7 .8,3 .9-2.2" stroke="#5513c4" stroke-width="1.3"/>
<path d="M21,365.4l.9-2 .8,.7 .9-4.6 .8,6.1 .9-2.8 .8-1.7 .9,5.4 .8-5 .9-1.7 .8,7.1 .9-.5 .8-.3 .9,.1 .8,9.3 .9,2.4 .8,5.8 .9-.7 .8-2.4 .9-5.6 .8,3.8 .9-7.6 .8,1.4 .9-10.3 .8,2.7 .9-3.1 .8-2.8 .9-5.1 .8-4.9 .9-2.7 .8-5 .9-7 .8-9.8 .9-8.1 .8-6.6 .9-2.6 .8-.9 .9,3.5 .8,.2 .9,9.8 .8-10.8 .9,2.3 .8-1.2 .9,5.8 .8,1.3 .9,4.1 .8,3.6 .9-.6 .8,4.2 .9-2 .8,5.8 .9,0 .8,3.9 .9-2.6 .8-2.9 .9-1.2 .8-1.7 .9,.9 .8,4.1 .9-2.4 .8,.9 .9,6.4 .8,3.2 .9,8 .8-4.3 .9,5.9 .8,2.2 .9,1.8 .8,.8 .9,.9 .8,1.3 .9,2 .8,2.5 .9,.4 .8,1 .9-.2 .8,5.2 .9-4.3 .8,1.2 .9,3.8 .8-3 .9,1.9 .8-.3 .9,1.7 .8-1 .9-1 .8,.9 .9,1 .8-.6 .9-.6 .8-.1 .9,2.5 .8-3.3 .9,1.2 .8-.6 .9-1.4 .8-.5 .9-.4 .8-4.6 .9-2.4 .8-1.7 .9-2.5 .8,.7 .9-4.8 .8,.3 .9-1.7 .8-3.3 .9,.9 .8-2.2 .9-.5 .8-3.3 .9-1.2 .8-.5 .9-.6 .8-.6 .9-.2 .8,1.7 .9,2.6 .8,2 .9,5.7 .8-.4 .9,3.5 .8,2.6 .9,2.7 .8-.4 .9,1.9 .8-1.9 .9-.6 .8-1.2 .9-1.1 .8,.8 .9-4.8 .8-2.6 .9-1.3 .8-5.3 .9-4.8 .8-.9 .9-2.7 .8-7.1 .9-1.9 .8-4.5 .9-1.3 .8-.9 .9,1.2 .8,3.7 .9-1.9 .8,4.3 .9-1.4 .8,.4 .9,4.9 .8,3.8 .9,.2 .8,5.3 .9,.8 .8,4.8 .9,1.3 .8,4 .9,2.6 .8,1.4 .9,2.2 .8,3.2 .9-2 .8,.2 .9,3.3 .8,2.6 .9-1.4 .8,2.9 .9,1.6 .8-3.3 .9,3.2 .8,.3 .9-2.6 .8-1.2 .9,1 .8,1.9 .9-5 .8-1 .9,3.9 .8-2 .9-2.6 .8-.9 .9-.2 .8-.6 .9,3.4 .8-3.3 .9-2.5 .8,1.5 .9-2.3 .8-1.7 .9-1.5 .8,3.9 .9-1.4 .8,1.3 .9-2.3 .8-.2 .9-.2 .8-2.8 .9,1.4 .8-3.7 .9,3.1 .8-2.8 .9-1.3 .8,3.3 .9-4.8 .8-2.1 .9-4.4 .8,1.6 .9,.2 .8-1.9 .9-.5 .8-2 .9-1.6 .8-4.5 .9,.1 .8,1.8 .9,.5 .8-.4 .9,2.8 .8,.4 .9,.9 .8,3.5 .9,1.8 .8,1.2 .9,1.6 .8,3.2 .9,.2 .8,2.3 .9-4.8 .8,6.7 .9,2.5 .8,2.7 .9-3.3 .8,.3 .9,.4 .8,1.2 .9,.6 .8-.3 .9-1.1 .8,.4 .9-2.4 .8,1 .9-.4 .8-2.7 .9,1.5 .8-2.6 .9,2 .8-.6 .9,1 .8-2.8 .9,1.3 .8-.2 .9-.4 .8-.7 .9-1 .8,3.8 .9-2.8 .8-1.7 .9,3.3 .8-.9 .9,.3 .8,.6 .9-1.7 .8,1.4 .9-3.8 .8-.1 .9,1.1 .8,2.2 .9-.7 .8,2.8 .9-4.1 .8,3.3 .9-2.2 .8,2.2 .9-1.1 .8,1.8 .9-1.2 .8,1.3 .9,2.1 .8-.4 .9,.2 .8,0 .9-1.2 .8,.4 .9,0 .8-.4 .9,2.1 .8-1 .9,.8 .8-3 .9,.4 .8-.6 .9,.9 .8-.2 .9-1.3 .8,.1 .9-2.8 .8,1.6 .9,2.1 .8,.4 .9-2.4 .8,.5 .9-2.5 .8,1.8 .9-2 .8-1.9 .9,0 .8,.7 .9-1.1 .8,1.5 .9-1.5 .8-1.9 .9-3.5 .8,2.6 .9-.2 .8-.3 .9-1.2 .8,2 .9,1.1 .8-.9 .9,.4 .8,1.4 .9,1.2 .8,2.9 .9-3.9 .8,2.2 .9,.8 .8,.2 .9,.5 .8,2.8 .9-3.2 .8,2.6 .9,1 .8,.8 .9-1.5 .8-2 .9,.1 .8-.7 .9-1.1" stroke="#4810c0" stroke-width="1.3"/>
<path d="M21,364.4l.9-3.5 .8,.8 .9-2.2 .8,4.3 .9-1.3 .8,4.5 .9-6.3 .8,4.1 .9-1.2 .8,1 .9,2.2 .8-2.1 .9,3.4 .8,6.7 .9,6.5 .8,2.3 .9,1.5 .8-4.9 .9-1.3 .8-3.1 .9-4.8 .8-1.4 .9-2.4 .8-3.4 .9-4.2 .8-3.6 .9-4.4 .8-1.6 .9-3.9 .8-6.8 .9-6.5 .8-6.8 .9-10.6 .8-6.2 .9-2.8 .8,4.1 .9-.7 .8,2 .9,1.8 .8-2.1 .9,.6 .8,3.4 .9,1.9 .8,3.1 .9,2.2 .8,1.5 .9-.4 .8,4.1 .9,5.5 .8-.1 .9-2.6 .8,5 .9-1.4 .8-1.6 .9-2.7 .8-2.4 .9,.2 .8,2.4 .9-.6 .8,7.1 .9,.2 .8,1.3 .9,5.7 .8,2 .9,4.7 .8-.9 .9,3.3 .8,2 .9-2.6 .8,8.1 .9-.8 .8-1.3 .9,6 .8,1.3 .9-2.3 .8,4.4 .9-4 .8,1.2 .9,3 .8-2.8 .9,5.1 .8-.8 .9-.2 .8,.8 .9,1.8 .8-5.3 .9,2.6 .8,2 .9-2.3 .8,.8 .9,3.6 .8-4.9 .9-.9 .8-.1 .9-3.9 .8,3.3 .9-3.5 .8-1.6 .9-.4 .8-5.4 .9-.3 .8-.5 .9-5.8 .8-.8 .9-.2 .8,.3 .9-5.2 .8-1.7 .9,.3 .8-3.2 .9,1.6 .8-1.4 .9-2.5 .8-.4 .9,.5 .8,2.3 .9,4.9 .8,2 .9,3.4 .8-.1 .9,3.3 .8,4.1 .9-.4 .8,1.4 .9,2.5 .8-1.8 .9,.4 .8-.1 .9-.9 .8-3.2 .9-2.2 .8-2.9 .9-4.1 .8-6.5 .9-1.5 .8-2.7 .9-2.2 .8-1.9 .9-7.1 .8-.7 .9-1.6 .8-2.8 .9-1.6 .8,2.9 .9,.2 .8,2.3 .9,3.3 .8,1.6 .9,3.7 .8,1.3 .9,.7 .8,4.5 .9,5.3 .8-.5 .9,4.1 .8,1.3 .9,1 .8,6.4 .9-.2 .8,2.9 .9-.3 .8-.6 .9,3.7 .8-1 .9,3.5 .8,0 .9,1.5 .8-.1 .9,.7 .8,.4 .9-2.1 .8-.2 .9,1.5 .8-2.2 .9-1.1 .8,1.4 .9-1.1 .8-3.2 .9-.6 .8,2.4 .9-6.5 .8,3.4 .9-3.1 .8,2.6 .9-1.1 .8-1.2 .9-2.2 .8,2.9 .9,.5 .8-4.4 .9,2.5 .8-2.2 .9-1.2 .8,3.3 .9-4.6 .8,.4 .9,.9 .8-1.8 .9,1.2 .8-2 .9-.8 .8-2.4 .9,1 .8-4.6 .9,1.9 .8-1.7 .9-4.5 .8,1.1 .9-1.7 .8-2.5 .9-.8 .8-3.1 .9-1.9 .8,2.2 .9,.7 .8,.9 .9,4 .8-2.5 .9-.3 .8,2.9 .9,3 .8,2.7 .9,.3 .8,1.5 .9,2.9 .8,3 .9-2.8 .8,1.4 .9,2.2 .8,2.2 .9,2.6 .8-1.5 .9,2.7 .8-1.6 .9,.5 .8-.1 .9-.9 .8-1.3 .9,1.1 .8,.7 .9-4.9 .8,1.8 .9,.6 .8-1.6 .9-.7 .8-.1 .9,.4 .8-.6 .9,.3 .8-1.3 .9-.5 .8,1.9 .9,0 .8-1.1 .9,2.2 .8-3.2 .9,.7 .8-.4 .9,1.3 .8-.9 .9,.7 .8-3.1 .9-.7 .8,1.2 .9-1 .8,1.8 .9,1.3 .8-2.4 .9,1.4 .8-.8 .9,1 .8,3.4 .9-1.4 .8,.6 .9,.5 .8,.9 .9,.2 .8-1.5 .9-2.4 .8,6.2 .9-2 .8-2.7 .9,2.1 .8,.9 .9-1.3 .8,1.1 .9-1 .8,1.8 .9-2.3 .8-.9 .9-1.2 .8,2.3 .9-.1 .8-.9 .9,1.4 .8-3.8 .9,.1 .8,1.1 .9,2.9 .8-2.5 .9-1.7 .8-1.1 .9-.8 .8-1.3 .9,2.5 .8-.1 .9-3.4 .8,2 .9-1.6 .8-3.5 .9,3.1 .8-1.4 .9-2.8 .8,.1 .9,2.9 .8-1.6 .9-.2 .8,1.8 .9,1 .8-2.9 .9,4.7 .8,2.2 .9-1.4 .8-2.4 .9,3.2 .8-1.3 .9,4.6 .8-2.9 .9,3.4 .8-.6 .9,.9 .8,.4 .9-.2 .8-.1 .9-1.2 .8,.4 .9-2.4" stroke="#3c0dba" stroke-width="1.3"/>
<path d="M21,364.5l.9-2 .8,.9 .9-2.9 .8,2.7 .9-2 .8,.6 .9,2 .8,2.1 .9,1.4 .8,.6 .9-3.3 .8-2.2 .9,7.1 .8,4.1 .9,7 .8,2.3 .9,2 .8-5 .9-5 .8-.4 .9-2.3 .8-4.6 .9-.7 .8-5.4 .9,1 .8-6.8 .9-1.3 .8-7.5 .9-1.1 .8-5.4 .9-6 .8-12.5 .9-5.3 .8-6.1 .9-2 .8-3.3 .9,4.3 .8,.9 .9-.2 .8,5.4 .9-3.3 .8,.6 .9,1.1 .8,1.2 .9,3 .8-1.2 .9,8.2 .8-.5 .9,4.5 .8,1.4 .9,2.8 .8,.4 .9-.8 .8-4 .9-.7 .8-.6 .9,.2 .8,3.8 .9,1.2 .8,1.9 .9,5.4 .8,1.3 .9-.8 .8,4.1 .9,3.4 .8,0 .9,3.1 .8,4.8 .9-1.2 .8,5.1 .9-3.5 .8,5.5 .9-.5 .8,1.6 .9,.5 .8,1.2 .9-3.3 .8,4.6 .9-1.4 .8-.6 .9,4.2 .8-1.3 .9,3.2 .8-.2 .9-3.8 .8,1.6 .9-1.4 .8,5.6 .9-3.8 .8,2.4 .9-3.8 .8,1.8 .9,2 .8-3.5 .9-.9 .8,.2 .9-5.5 .8-.1 .9,0 .8-3.4 .9-2 .8-1.1 .9-3.8 .8-1.8 .9,1.9 .8-3.8 .9-.7 .8-4.9 .9,.6 .8-.2 .9-1.7 .8-3.9 .9,2.5 .8-4 .9,2.4 .8,1.1 .9-.3 .8,7.6 .9,.6 .8,4.4 .9,2.8 .8,.3 .9,3.7 .8-2.7 .9,4.2 .8,1.4 .9-2.5 .8,0 .9-1 .8-4 .9,.4 .8-4.8 .9-4 .8-2.9 .9-2 .8-4.5 .9-4.9 .8-4.1 .9-.4 .8-5.5 .9-1.1 .8,1.2 .9-1.1 .8-.4 .9,1.2 .8,2.7 .9,3.4 .8-1.3 .9,4.8 .8,3.8 .9,2.1 .8,3.9 .9,1.8 .8,.2 .9,3 .8,6.5 .9-.5 .8,1.8 .9,3 .8,1.7 .9,.3 .8,2.3 .9,1.5 .8,2.2 .9-1.8 .8-.8 .9,2.4 .8-1.3 .9,.3 .8,2.7 .9-2.3 .8,.5 .9-.3 .8-.5 .9-1.6 .8-1.2 .9-.9 .8,1.8 .9-1.8 .8,2.4 .9-3.4 .8-.2 .9-4.6 .8,1.6 .9,.3 .8-3.3 .9,1.3 .8-1.5 .9,3.9 .8-1.6 .9,2 .8-3.7 .9,1.4 .8-2.9 .9,1.3 .8-2.6 .9,1.4 .8-1.1 .9-2.6 .8,.5 .9-.2 .8-1 .9-2.6 .8-1.6 .9-.2 .8-1.9 .9-2 .8-1.4 .9,.9 .8-5.3 .9,2 .8-2.7 .9-2.2 .8,.5 .9,1.3 .8,.6 .9,0 .8,1.4 .9,4.7 .8-.9 .9,2.7 .8,3.4 .9-.7 .8,4.2 .9-.8 .8,3.3 .9,1.6 .8,1.9 .9,.9 .8,.7 .9-1.8 .8,2.9 .9-1.3 .8-.1 .9,2.2 .8-2.6 .9,.8 .8,1.5 .9-1.9 .8-1 .9-.9 .8-1.1 .9,.5 .8-4.4 .9,1.7 .8,1.1 .9,1.1 .8-2.5 .9-.5 .8,.8 .9-.2 .8-.9 .9,1.5 .8,.5 .9-2.2 .8,1.6 .9-.2 .8-1.9 .9,.3 .8,2.5 .9-1.9 .8,.3 .9-3 .8,.3 .9-1 .8,.2 .9,1.5 .8,1.8 .9-1.7 .8,.1 .9,0 .8,2.2 .9-.8 .8,1.1 .9,1.6 .8,1 .9-.4 .8,0 .9-.3 .8,.5 .9,2.4 .8-2.5 .9,1.2 .8,.1 .9-.7 .8-.1 .9-.7 .8,.3 .9-.7 .8-.5 .9-.4 .8,.8 .9-.2 .8-.7 .9-.8 .8,.3 .9,2.5 .8-3.1 .9,1.4 .8-2.1 .9-2 .8,1.2 .9,1 .8-3.3 .9,1.7 .8-.9 .9-1.3 .8-2 .9,1.6 .8,2.7 .9-5.3 .8,.2 .9,1.1 .8-1 .9-.7 .8-1.8 .9,2.8 .8-.3 .9,1 .8,.5 .9-.6 .8,2 .9,.3 .8,1.7 .9-2.5 .8,4 .9-.9 .8,1.6 .9-1.3 .8,4.1 .9-1.8 .8,2.6 .9-.3 .8-1 .9-.1 .8-2.9 .9,.7" stroke="#310ab3" stroke-width="1.3"/>
<path d="M21,360.8l.9,2.8 .8-2.7 .9,3.9 .8-3.6 .9,4 .8-3.6 .9,1.6 .8,2.1 .9,.4 .8,1.3 .9-.7 .8,.4 .9,3.7 .8,1.7 .9,3.5 .8,6.3 .9,.6 .8-5.1 .9,1.4 .8-3.7 .9-8.9 .8,4.9 .9-4.1 .8-4.6 .9,.1 .8-4.5 .9,4 .8-11 .9-5.7 .8-3.8 .9-8.7 .8-4.4 .9-13.4 .8-7.8 .9,.1 .8,1.4 .9,3.3 .8-2.3 .9,.2 .8,4 .9-3.9 .8,4.1 .9-.5 .8,5.6 .9,5.3 .8-3.9 .9,3 .8,3.9 .9-2.1 .8,5.6 .9,2.1 .8,2.3 .9-3.3 .8-1.7 .9-1.8 .8-.5 .9-3.4 .8,2.5 .9,6.5 .8,3 .9-.6 .8,4.8 .9,4 .8,1.1 .9,3 .8,2.3 .9,1 .8,3.5 .9,2 .8,1.7 .9,2.4 .8-.3 .9-.4 .8,4 .9-1.3 .8,1.6 .9,.5 .8,.1 .9,.8 .8,1.5 .9-1.3 .8,1.9 .9,2.5 .8,2.2 .9-3.7 .8-.4 .9,.1 .8,3.5 .9,1.1 .8-3 .9,0 .8-2.8 .9,3 .8-3.6 .9-.9 .8-3.4 .9-.2 .8-2.8 .9-3.8 .8-1.7 .9-4.2 .8,1.1 .9-.9 .8-.7 .9-2.3 .8-1.5 .9-1.4 .8,.2 .9-4.1 .8-.5 .9-4 .8,1.1 .9-.4 .8,1.5 .9-1 .8-.6 .9,5.6 .8,3.2 .9,1.3 .8,1.8 .9,4.5 .8,5.2 .9-2.7 .8,1.5 .9,.8 .8-1 .9-.7 .8,1.9 .9,.1 .8-4.5 .9-2.5 .8-1.6 .9-6.8 .8-4.2 .9-1.5 .8-1.6 .9-5.6 .8-2.4 .9-3.7 .8-2.8 .9-1.1 .8-2.7 .9,1.8 .8-.5 .9,2.8 .8,3 .9-3.6 .8,2.9 .9,4.2 .8,.6 .9,4.4 .8,1.8 .9,6.1 .8,1.2 .9,3.3 .8,.5 .9,3 .8,1.8 .9-.4 .8,2.9 .9,4.2 .8,2.9 .9-3.4 .8,1.7 .9,3.5 .8,3 .9-2.3 .8,.6 .9,1.5 .8-2 .9-.4 .8,.3 .9-1.8 .8,1.3 .9-3.1 .8-.5 .9,0 .8,1.6 .9-1.2 .8-2.6 .9-.9 .8,2 .9-2.3 .8,.5 .9-2.8 .8,.4 .9,1.6 .8-1.6 .9-.5 .8-.1 .9-1.7 .8-1.2 .9,.2 .8,.6 .9,0 .8-1.5 .9-.3 .8,1.4 .9-3 .8-1.8 .9,1.5 .8-2.4 .9-.5 .8-1 .9-2.1 .8-2.5 .9-1 .8,.8 .9-5.7 .8,1.3 .9-1.6 .8-.3 .9-2.2 .8-1.7 .9,1.6 .8,.4 .9,1.4 .8,1.6 .9,2.7 .8,.4 .9,1.6 .8,.9 .9,2.2 .8,2.6 .9,2.3 .8,.3 .9,2.4 .8-1.5 .9,3.7 .8-.4 .9,1.1 .8,2.2 .9,.3 .8,.7 .9-1.7 .8,2.8 .9-.9 .8-2.4 .9-.5 .8-1.1 .9,1.3 .8-2 .9,.3 .8-.5 .9-1.3 .8,.7 .9-1.2 .8-.1 .9-.1 .8-1.1 .9,2.7 .8-2.9 .9-.6 .8,.9 .9,1 .8-1 .9-.6 .8,.7 .9,1.3 .8,1.3 .9-3.3 .8-2.3 .9,1.6 .8,.5 .9,.9 .8-2 .9,1.4 .8,.6 .9-.5 .8,1.6 .9-1.9 .8,3.1 .9,.5 .8,.1 .9,.6 .8-.8 .9,.1 .8-2.3 .9,3.1 .8,1 .9,.2 .8-2.1 .9,3.4 .8,.2 .9-4 .8,.3 .9,2.7 .8-1.5 .9-1.9 .8,.4 .9-2.1 .8,1.3 .9-1.8 .8,2.7 .9-2.1 .8,2.4 .9-2.2 .8-1.2 .9-.3 .8,1.8 .9,0 .8-2.9 .9,.2 .8-1.5 .9,2.3 .8-1.1 .9-2.4 .8-.5 .9-.9 .8,3 .9-2.2 .8-.8 .9-1.5 .8,2.1 .9-1 .8,3.3 .9-3.3 .8-3.5 .9,4.5 .8,.3 .9,2.6 .8-2.3 .9,3 .8-.8 .9,2.7 .8-1.1 .9,2.6 .8-1.6 .9,2.7 .8-1.2 .9,1.1 .8,.9 .9,1 .8-3.9 .9,.7 .8-.7 .9,.3" stroke="#2608ac" stroke-width="1.3"/>
</g>
<g clip-path="url(#cd)" fill="none" stroke-linejoin="round" stroke-linecap="round">
<path d="M339,355.8l1.4,1.3 1.5,.9 .8,.2 .9-.3 1.5-1 1.3-1.3 1.5-.9 .6-.1 1.1,.3 1.5,1 1.4,1.2 1.6,.7 1.7-.7 1.3-1.2 1.4-1.1 1.5-.6 .1,0 1.7,.7 1.3,1.2 1.5,1 1.1,.3 .6-.1 1.5-.9 1.3-1.2 1.5-1.1 .9-.2 .8,.2 1.5,1 1.4,1.3 1.5,.8 .5,.1 1.2-.4 1.4-1 1.4-1.3 1.6-.7 .1,0 1.6,.6 1.4,1.2 1.3,1.2 1.6,.5 .1,0 1.6-.7 1.4-1.1 1.4-1.1 1.1-.3 .7,.1 1.5,1 1.3,1.2 1.4,1.1 1,.2 .8-.2 1.5-1 1.3-1.1 1.6-.9 .4,0 1.3,.4 1.4,1.1 1.3,1.3 1.6,.8 .3,0 1.4-.5 1.4-1.2 1.4-1.1 1.4-.5 .3,.1 1.6,.7 1.3,1.3 1.4,1.1 1.2,.3 .5,0 1.6-.9 1.3-1.2 1.5-1 .9-.2 .9,.2 1.4,1 1.4,1.2 1.5,.9 .5,.1 1.2-.4 1.4-1.1 1.4-1.2 1.6-.8 .2,0 1.5,.5 1.4,1.2 1.4,1.1 1.4,.5 .2-.1 1.6-.8 1.4-1.2 1.4-1.1 1.2-.4 .5,0 1.5,.9 1.4,1.2 1.5,.9 .7,.2 1-.3 1.5-1 1.3-1.3 1.5-.9 .6-.1 1.1,.3 1.5,1.1 1.4,1.1 1.6,.7 .1,0 1.5-.6 1.4-1.2 1.4-1.2 1.5-.5 .1,0 1.7,.7 1.3,1.2 1.4,1.1 1.2,.3 .6-.1 1.5-.9 1.3-1.2 1.5-1 .9-.2 .9,.2 1.4,1.1 1.3,1.1 1.6,1 .5,.1 1.2-.4 1.4-1 1.4-1.2 1.6-.7 .1,0 1.6,.6 1.4,1.2 1.3,1.2 1.6,.6 .1,0 1.6-.7 1.4-1.2 1.4-1.1 1.1-.2 .7,.1 1.5,.9 1.3,1.3 1.4,1 1,.3 .8-.2 1.5-1 1.3-1.2 1.6-.8 .4-.1 1.3,.4 1.4,1.2 1.3,1.2 1.6,.8 .3,0 1.4-.5 1.4-1.1 1.4-1.2 1.4-.5 .3,0 1.6,.8 1.3,1.2 1.4,1.1 1.2,.3 .6-.1 1.5-.9 1.3-1.2 1.5-1 .9-.2 .8,.1 1.5,1 1.4,1.2 1.5,.9 .5,0 1.2-.3 1.4-1.2 1.4-1.2 1.5-.8 .3,0 1.5,.5 1.4,1.1 1.3,1.1 1.4,.5 .3,0 1.6-.8 1.4-1.3 1.3-1.1 1.3-.4 .5,0 1.5,.9 1.4,1.2 1.5,1 .8,.1 .9-.2 1.5-1.1 1.3-1.2 1.5-1 .6-.1 1.1,.4 1.5,1 1.3,1.2 1.7,.7 .1,0 1.5-.5 1.4-1.2 1.4-1.2 1.5-.5 .1,0 1.7,.8 1.3,1.2 1.4,1.1 1.2,.3 .5,0 1.6-.9 1.3-1.2 1.5-1 .8-.2 1,.2 1.4,1.1 1.3,1.2 1.5,1 .7,.1 1.1-.3 1.4-1.1 1.4-1.2 1.6-.7 .1,0 1.6,.6 1.3,1.2 1.4,1.2 1.6,.7 0,0 1.7-.7 1.4-1.2 1.4-1.1 1.1-.3 .6,.1 .4,.2" stroke="#ecfc48" stroke-width="1.5"/>
<path d="M339,354l1.5,1 1.4,1.3 1.5,.9 .7,.1 1-.2 1.5-1.1 1.3-1.2 1.6-.7 .2,0 1.5,.5 1.4,1.2 1.3,1.2 1.7,.6 1.6-.6 1.4-1.1 1.4-1.2 1.2-.3 .5,.1 1.6,.9 1.3,1.2 1.4,1.1 1.1,.3 .7-.1 1.5-.9 1.3-1.2 1.6-.9 .5-.1 1.2,.4 1.4,1.1 1.3,1.2 1.6,.8 .4,.1 1.3-.5 1.4-1.1 1.4-1.2 1.5-.5 .2,0 1.6,.7 1.3,1.2 1.4,1.1 1.3,.4 .4,0 1.6-.9 1.3-1.2 1.5-1.1 1-.2 .7,.1 1.5,1 1.4,1.2 1.5,.9 .6,.1 1.1-.3 1.5-1.2 1.3-1.2 1.5-.8 .4-.1 1.4,.5 1.4,1.1 1.4,1.1 1.5,.6 .1-.1 1.7-.7 1.3-1.2 1.4-1.2 1.3-.5 .3,.1 1.6,.8 1.4,1.2 1.5,1 .9,.2 .8-.2 1.5-1 1.3-1.3 1.5-1 .7-.1 1,.2 1.5,1.1 1.4,1.2 1.5,.7 .3,.1 1.4-.5 1.4-1.2 1.4-1.2 1.6-.6 0,0 1.7,.7 1.3,1.2 1.4,1.1 1.3,.4 .4,0 1.6-.9 1.4-1.2 1.4-1 .9-.2 .9,.2 1.4,1 1.4,1.2 1.4,1 .8,.1 1-.2 1.5-1.1 1.3-1.2 1.6-.7 .2,0 1.5,.6 1.4,1.1 1.3,1.2 1.6,.7 .1,0 1.6-.6 1.4-1.2 1.4-1.1 1.2-.3 .5,.1 1.6,.9 1.3,1.2 1.4,1.1 1.1,.3 .7-.2 1.5-.9 1.3-1.2 1.5-.9 .6-.1 1.2,.3 1.4,1.1 1.3,1.2 1.6,.9 .3,0 1.4-.5 1.4-1.1 1.4-1.2 1.6-.6 0,0 1.7,.7 1.3,1.1 1.4,1.1 1.3,.4 .5,0 1.5-.9 1.3-1.2 1.5-1.1 1-.3 .7,.1 1.5,1 1.4,1.2 1.5,.9 .6,.1 1.1-.4 1.5-1.1 1.3-1.2 1.5-.9 .4,0 1.3,.4 1.5,1.1 1.3,1.1 1.6,.6 .1,0 1.6-.8 1.4-1.2 1.3-1.1 1.4-.5 .3,0 1.6,.8 1.4,1.2 1.5,1 .9,.2 .8-.1 1.5-1 1.3-1.3 1.5-1 .7-.1 1.1,.3 1.4,1.1 1.3,1.2 1.6,.8 .3,0 1.4-.5 1.4-1.1 1.4-1.2 1.5-.6 .1,0 1.7,.7 1.3,1.2 1.4,1.2 1.4,.4 .3,0 1.6-.8 1.4-1.2 1.4-1 .9-.2 .9,.2 1.4,1 1.3,1.2 1.5,1 .8,.2 1-.3 1.4-1 1.4-1.2 1.6-.7 .2,0 1.5,.5 1.4,1.2 1.3,1.2 1.6,.7 .1,0 1.6-.6 1.4-1.2 1.4-1.1 1.2-.4 .5,.1 1.6,.9 1.3,1.2 1.4,1.1 1.1,.2 .7-.1 1.5-1 1.3-1.2 1.5-.9 .7-.1 1.1,.3 1.4,1.1 1.3,1.2 1.6,.8 .3,0 1.4-.5 1.4-1.2 1.4-1.2 1.6-.6 0,0 1.7,.6 1.3,1.2 1.4,1.1 1.3,.4 .5-.1 1.5-.9 1.3-1.2 1.5-1.1 .6-.3" stroke="#eef646" stroke-width="1.5"/>
<path d="M339,356.8l1.6,.9 .4,.1 1.3-.4 1.5-1 1.5-.9 1.3-.3 .5,.1 1.6,.8 1.4,1.1 1.6,.8 .3,0 1.4-.4 1.4-1.1 1.5-1.1 1.5-.5 .1,0 1.7,.8 1.3,1.2 1.3,1.2 1.6,.7 .1,0 1.6-.6 1.4-1 1.6-.9 .6-.1 1.1,.1 1.7,.7 1.6,.7 .7,.1 1.1-.3 1.3-1.2 1.2-1.4 1.3-1.2 1.1-.3 .6,.1 1.5,1 1.2,1.3 1.1,1.4 1.2,1.3 .9,.3 .8-.2 1.4-1.2 1.2-1.3 1.4-1.2 1.1-.3 .6,.1 1.5,1 1.3,1.2 1.5,1 .6,.1 1.1-.3 1.4-1.1 1.3-1.3 1.5-1 .5-.1 1.2,.4 1.4,1.1 1.3,1.3 1.6,.7 .2,0 1.5-.5 1.3-1.2 1.2-1.3 1.6-.9 .4,0 1.3,.4 1.4,1.1 1.4,1.1 1.4,.5 .3,0 1.6-.8 1.4-1.2 1.5-1 .8-.2 .9,.2 1.5,1 1.3,1.3 1.4,1.1 1,.2 .7-.1 1.6-1 1.3-1.1 1.7-.8 .3,0 1.4,.4 1.3,1.1 1.4,1.3 1.6,.8 .2,0 1.5-.5 1.5-1 1.4-1.1 1.5-.4 .2,0 1.7,.7 1.5,1 1.6,.6 1.7-.7 1.4-1.1 1.4-1.1 1.2-.3 .6,0 1.5,1 1.2,1.3 1.3,1.3 1.5,.8 .3,0 1.4-.5 1.4-1.1 1.5-1 1.1-.3 .6,.1 1.6,.8 1.4,1.2 1.5,.9 .6,.1 1.1-.4 1.4-1.1 1.3-1.3 1.4-1.1 1-.2 .8,.1 1.4,1 1.4,1.2 1.5,.9 .5,0 1.3-.4 1.4-1.1 1.4-1.1 1.4-.5 .3,0 1.6,.7 1.3,1.3 1.4,1 1.2,.4 .6-.1 1.5-1 1.3-1.2 1.3-1.2 1.4-.5 .3,.1 1.6,.7 1.5,1.1 1.6,.8 .2,0 1.5-.5 1.4-1.2 1.3-1.1 1.6-.6 .1,0 1.6,.7 1.3,1.3 1.2,1.3 1.5,.9 .5,.1 1.2-.5 1.4-1.2 1.2-1.2 1.6-.9 .3,0 1.4,.5 1.4,1.1 1.4,1.1 1.5,.5 .2,0 1.7-.8 1.4-1.1 1.5-.9 .6-.1 1.1,.3 1.4,1.1 1.3,1.3 1.4,1.1 .8,.2 .9-.2 1.4-1.2 1.3-1.3 1.4-1.1 1-.2 .7,.1 1.6,.9 1.4,1.2 1.7,.6 .4,.1 1.3-.3 1.6-1 1.5-.8 .7-.1 1.1,.2 1.4,1.1 1.4,1.2 1.5,1 .7,.1 1-.3 1.4-1 1.4-1.3 1.5-.8 .3,0 1.4,.5 1.4,1.1 1.4,1.2 1.7,.6 .1,0 1.6-.6 1.3-1.1 1.4-1.1 1.4-.5 .4,0 1.6,.8 1.4,1.1 1.6,.8 .4,.1 1.3-.5 1.4-1.1 1.3-1.2 1.6-.8 .3-.1 1.4,.5 1.3,1.2 1.3,1.2 1.6,.9 .3,0 1.4-.5 1.2-1.3 1.3-1.3 1.5-1 .5,0 1.2,.3 1.3,1.2 1.3,1.2 1.6,.9 .3,0 1.4-.5 1.4-1.2 1.4-1.1 1.6-.7 .1,0 1.6,.5 1.2,1" stroke="#f0f044" stroke-width="1.5"/>
<path d="M339,353.5l1.3,1.3 1.3,1.2 1.3,1.3 1.3,1.2 1.1,.4 .6-.2 1.5-1 1.4-1.1 1.5-1.1 1.4-1 1.3-.5 .4,0 1.8,.2 1.1,.1 .7,0 .9-.1 .9,.1 1.6,.7 1.4,1.1 1.4,1.1 1.4,1.1 1.4,1.2 1.4,1.1 1.4,1.1 .8,1 .3-.5 1-1.5 .9-1.6 .8-1.6 .8-1.6 .8-1.6 .8-1.7 .7-1.6 .7-1.6 .8-1.7 .9-1 .3,.1 .1,.1 .3-.3 .9,.7 .9,1.5 .9,1.6 .9,1.6 .9,1.6 .8,1.6 .7,1.6 .8,1.7 1,1.4 .4,.1 1.2-.6 1.6-1 1.5-.8 1.7-.8 .4-.1 .4,0 .5,0 .4,0 1.8,.6 1.7,.2 .4,0 1.4-.1 .3-.1 .4,0 1-.4 1.4-1.1 .7-.7 .7,.3 1.7,.4 1.7,.6 1.7,.7 .6,.1 .3,0 .8,.3 .2,0 1.5-.6 1.6-.7 1.6-.9 1.8-.3 .3,0 1.5,0 .4,0 .7,0 .7,.1 1.8,0 1.8,.1 1.8,.1 1.8,.1 1.7,.3 1.7,.6 1.7,.7 1.7,.7 1.7,.5 .5,0 1.1-.6 .8-.3 .6,.2 .3-.1 1.8-.1 .1,0 .1,0 .2,0 1.4,.2 1.6,.7 1.4,1.2 .1,0 .4-.3 .4,.1 .7-.2 1.4-1.1 1.2-1.4 1.1-1.4 1.2-1.4 1.1-1.4 1.2-1.3 1.3-1.3 .5-.5 .7,.7 1.4,1.1 1.3,1.3 1.3,1.2 1.2,1.4 1.3,1.2 1.5,1 1.6,.7 1.8,.5 1.7,.5 1.7,.6 .7,0 1.1-.2 1.7-.6 1.6-.8 1.7-.7 1.6-.7 1.7-.7 1.6-.6 1-.2 .8,.1 .3,0 .8-.2 .7,.1 1.7,.3 1.8,.4 1.7,.4 1.8,.4 1.8,.3 .4,0 1.4-.1 1.5-.1 .3,0 1.8,.2 .9,0 .9,0 1.7-.3 1.7-.7 1.6-.7 1.6-.8 1.7-.8 1.6-.7 1.4-.2 .4,0 1.6,.8 1.5,1 1.4,1.1 1.4,1.2 1.4,1.2 1.4,1.1 .8,.3 .8-.2 1.6-.8 1.7-.7 1.7-.6 1.7-.6 .3,0 1.2,.2 .3-.1 1.8-.2 .4,0 1.4,.1 1.7,.3 1.8,.4 1.7,.5 1.7,.6 .5,.1 1.2-.3 .1,0 .8,.3 .9-.2 1.5-1 1.4-1.1 1.5-1.1 1.4-1.1 1.4-1.2 1.4-1 .9-.5 .7,.3 1.2,1.2 1.2,1.5 1.3,1.2 1.4,1.1 1.5,1.1 1.5,.7 .4,0 1.4-.2 1.5-1 1.4-1.2 1.4-1 1.2-.6 .4,.3 1.1,1.4 1.2,1.5 .9,1.5 1.6,.8 1.2,1.3 .2,.2 1.1-1 1.5-.8 1.6-1 1.4-1.1 1.6-.6 1.7-.4 1.7-.8 1.6-.7 1.5-1 1.6-.7 0,0 1.6,.8 1.6,1 1.5,.9 1.6,.9 1.6,.7 .8,.2 .3,0 .2,0 .5-.1 1.5-1 1.3-1.1 1.6-.9 1.1-.6 .5,.2 1.5,.9 1.6,.9 1.6,.7 1.7,.7 1.7,.6 .4,0 1.3-.3 1.6-.9 .6-.4 .5,.8 .6,.1" stroke="#f3e641" stroke-width="1.6"/>
<path d="M339,350l.8,1.7 .7,1.6 .8,1.6 .8,1.7 .8,1.6 .7,1.7 1,1.4 .2,0 .4-.2 .5,.3 .5-.3 1-1.5 .9-1.6 1-1.5 1-1.5 1.1-1.4 1.3-.9 .1,0 1.7,.6 1.6,.8 1.6,.7 1.8,.2 1.6,.9 1.1,1.4 1,1.5 .9,1.5 1,1.6 1,1.5 .9,1.6 .9,1.5 1,1.5 .9,1.4 0,0 .8-1.8 .5-1.6 .5-1.8 .4-1.8 .4-1.8 .3-1.6 .5-1.9 .3-1.6 .4-1.8 .4-1.9 .4-1.6 .4-1.8 .4-1.8 .3-1.7 .4-1.8 .3-1.9 .3-1.6 .4-1.9 .4-1.6 .7-1.7 .1,0 .3,.3 .2-.4 .5,.7 .6,1.6 .5,1.7 .5,1.8 .4,1.7 .4,1.8 .4,1.8 .5,1.8 .4,1.7 .5,1.7 .4,1.8 .4,1.6 .3,1.8 .4,1.9 .3,1.6 .4,1.9 .4,1.6 .6,1.1 .4-.4 .2,.3 .9-1.1 1-1.4 1.1-1.5 1.1-1.4 1.1-1.4 1.2-1.3 .2,0 1.2,1 1.3,1.3 1.5,1 1.6,.8 .8,.3 .8-.4 1.1-1.4 1.2-1.4 .6-.3 1,.4 1.6,.9 1.5,.9 1.5,1 1.3,.4 .4-.1 1.3-1.3 1.1-1.4 1.1-1.4 1.1-1.5 1.3-1.2 1.6-.6 .2,0 1.6,.1 1.8,.4 1.7,.4 1.8,.3 1.8,.2 1.8,.3 1.7,.6 1.5,1 1.4,1 1.7,.8 1.7,.3 .8,.2 .8-.5 1.4-1.2 1.7,.5 1.5,1 1.3,1.2 .9,1.5 .7,1.7 .9,1.5 .2,.1 .1-.1 .1,0 1.1-.9 .8-1.5 .7-1.7 .7-1.6 .6-1.8 .7-1.7 .6-1.6 .6-1.8 .6-1.7 .6-1.7 .6-1.6 .7-1.6 .8-1.6 .9-1.2 .2,.1 1.1,1.4 .9,1.6 .8,1.6 .8,1.6 .8,1.7 .7,1.6 .7,1.7 .7,1.6 .8,1.6 1,1.5 1.2,1.4 1.3,1.2 1.5,.9 1.4,1.2 1.4,1.1 .8,.3 .8-.4 1.3-1.3 1.2-1.4 1.1-1.4 1.2-1.4 1.1-1.3 1.2-1.4 1.2-1.4 1.2-1.3 1.3-1.3 1.5-.8 .1,0 1.5,.8 1.4,1.1 1.4,1.2 1.3,1.1 1.4,1.2 1.4,1.1 1.4,1.1 1.6,.7 1.2,.1 .6,0 1.8-.2 1.8-.4 1.6-.9 1.4-1 1.3-1.4 1.1-1.3 1.2-1.3 1.3-1.4 1.2-1.2 1.5-1.1 .6-.1 .6,.2 .5-.2 .1,0 1.3,1 1.1,1.6 .9,1.4 .9,1.6 .9,1.6 .8,1.6 .9,1.5 .9,1.6 1,1.5 .7,.3 .8-.6 1.2-1.3 1-1.5 1.2-1.4 1.3-1.3 1.3-1.2 1.4-1.1 .9-.2 .8,.1 1.7,.7 1.5,1 1.4,1 1.4,1.1 1.5,1.2 1.3,1.2 1.3,1.1 .8,.3 .8-.2 .2,0 .3,.1 1.2-.7 1.1-1.5 .9-1.5 .8-1.6 .9-1.6 .9-1.5 .9-1.6 .8-1.6 .8-1.6 1-1.6 1.1-1.4 .2-.1 1.2,.9 .7,1.7 .6,1.7 .6,1.6 .6,1.7 .7,1.6 1,1.5 .9,1.6 .9,1.6 .9,1.5 .3,.4 .2,0 0,0 1.1-.2 1.5-.9 1.2-1.3 1.1-1.4 1.1-1.5 1.2-1.3 .6-.4 .6,.8 1,1.5 1.1,1.4 1.1,1.4 1.7,.6 1.1,1 .3-.2 1.4-.4 .3,0 .9,.1 .8-.2 1.6-1 1.6-.8 1.5-.9 1.2-1.4 1.1-1.4 1.1-1.4 1.1-1.4 1.1-1.5 1.1-1.3 .1,0 1.2,1.2 1,1.4 1.1,1.6 1,1.4 1.1,1.4 1.1,1.5 1.2,1.3 1.3,1.1 .1,0 1.2-1.2 1-1.6 .9-1.5 1.3-1.2 1.3-.8 .2,0 .1,0 .4-.1 1.2,.7 1.1,1.3 1.2,1.4 1.3,1.2 1.5,1 1.6,.8 .3,.1 1.3-.7 1.2-1.4 1-1.4 .5-.9 .6,.4 .5,.1" stroke="#f6db3d" stroke-width="1.6"/>
<path d="M339,347.1l.5,1.9 .5,1.7 .5,1.7 .5,1.6 .6,1.8 .5,1.8 .5,1.7 .5,1.8 .5,1.7 .6,1.7 .7,1.6 .4,.4 .6-.9 .7-1.6 .6-1.7 .6-1.8 .7-1.6 .7-1.7 .7-1.7 .7-1.6 .8-1.6 1.4-.8 .2,0 1.5,.5 1.5,1 1.7,.5 .7,0 1.1,.2 1.2,1.2 .9,1.7 .7,1.5 .7,1.7 .7,1.8 .7,1.5 .7,1.8 .7,1.6 .6,1.7 .7,1.6 .7,1.8 .7,1.6 .7,1.7 .1,0 .2-.1 .3,.2 .5-1 .4-1.9 .3-1.6 .3-1.9 .3-1.6 .3-2.1 .2-1.8 .3-1.8 .2-1.7 .3-1.7 .2-1.7 .3-1.8 .2-1.7 .3-1.8 .2-1.8 .3-1.8 .2-1.8 .3-1.7 .3-2.1 .2-1.8 .2-1.5 .3-2.1 .2-1.6 .2-1.7 .2-2 .2-1.6 .3-1.9 .2-1.7 .3-1.8 .4-1.6 .6-1.2 .3,.3 .5,1.6 .4,1.8 .4,1.9 .3,1.8 .3,1.8 .2,1.7 .3,1.7 .3,2 .2,1.7 .3,1.9 .3,1.5 .3,1.8 .3,1.8 .3,1.9 .3,1.8 .2,1.6 .3,2 .3,1.9 .2,1.6 .2,1.7 .2,2.1 .2,1.7 .2,1.6 .3,1.8 .3,1.8 .3,1.7 .8,1.4 .9-1.4 .8-1.7 .8-1.6 .8-1.6 .8-1.7 .8-1.5 .9-1.5 .6-.3 .6,.1 .1,0 .4,.1 1.2,1.4 .9,1.5 1.3,1.2 1.5,1 .8,.4 .5-.7 .8-1.6 .8-1.7 .8-1.6 .9-.5 .6,.3 1.5,1 1.4,1 1.4,1.3 1.3,.9 .1,0 .3,0 .3,0 .9-.8 .9-1.6 .7-1.6 .9-1.6 .7-1.7 .7-1.6 .8-1.6 1-1.4 1.3-1.3 1.2-.3 .5,.1 1.7,.7 1.7,.7 1.6,.7 1.7,.7 1.6,.8 1.4,1.1 1.2,1.3 1.1,1.5 1.1,1.4 1.1,1.4 1.3,1.3 1.5,.9 .4,.1 .9-1.1 1.1-1.2 1.8,.5 1.5,.9 1.2,1.3 1.1,1.4 .6,1.9 .4,1.7 .5,1.6 .6,1.7 .1,.3 .7-1.4 .7-1.6 .5-1.7 .5-1.8 .5-1.8 .4-1.8 .4-1.7 .4-1.6 .5-1.9 .4-1.7 .4-1.8 .4-1.8 .4-1.8 .3-1.6 .5-1.9 .4-1.7 .4-1.7 .5-1.8 .5-1.7 .6-1.6 .8-1.2 .2,.2 .9,1.6 .7,1.7 .6,1.6 .5,1.7 .6,1.8 .5,1.6 .6,1.9 .4,1.6 .5,1.8 .5,1.8 .5,1.6 .6,1.7 .7,1.7 .9,1.5 1,1.5 1.2,1.3 1.3,1.3 1.1,1.5 1.1,1.4 1.5,.8 1.6-.7 1.1-1.4 .9-1.5 1-1.6 .9-1.5 .9-1.6 1-1.6 .9-1.4 .9-1.6 1-1.5 1-1.5 1.3-1.2 .4-.1 1.3,.3 1.2,1.4 1.1,1.4 1.1,1.4 1.1,1.5 1.1,1.4 1,1.4 1.1,1.5 1.1,1.4 1.3,1.3 1.6,.7 .5,0 1.3-.2 1.6-.8 1.3-1.2 1.2-1.4 1-1.4 1-1.6 .8-1.6 .9-1.7 .8-1.5 .8-1.6 .8-1.6 .9-1.6 .9-1.6 1.1-1.4 1.1-.8 .3,.1 1.1,1.4 .8,1.7 .7,1.6 .6,1.7 .7,1.7 .6,1.7 .6,1.7 .5,1.6 .6,1.7 .7,1.8 .6,1.7 .6,1.7 .7,1.6 .5,.3 .4-.1 .4,.2 .2-.1 1.1-1.5 .8-1.5 .8-1.7 .9-1.5 1-1.5 1.1-1.5 1-1.4 1.4-1 .1,0 1.6,.7 1.5,1.1 1.2,1.3 1.2,1.3 1.1,1.5 1,1.4 1.1,1.5 1.1,1.4 1,1.6 1,1.4 .9,.5 .6-.4 1-1.4 .8-1.7 .6-1.7 .6-1.7 .6-1.8 .6-1.6 .6-1.7 .6-1.7 .6-1.7 .6-1.7 .5-1.7 .6-1.7 .6-1.8 .5-1.6 .7-1.7 .8-1.6 .4-.4 .1,0 .1,0 .7,.8 .6,1.8 .4,1.5 .4,1.8 .4,1.8 .4,1.8 .4,1.7 .5,1.8 .6,1.6 .7,1.7 .7,1.6 .7,1.7 1.1,1.1 .1,0 1.4-1.2 1.2-1.3 1.3-1.3 1.6-.7 .2,0 1.5,.4 1.3,1.2 .9,1.6 .9,1.6 .8,1.6 .6,.9 .4-.3 1-1.6 1-1.5 1.2-1.3 .4-.1 1.2,.5 1.5,1 1.4,1.2 1.4,1.1 .3,0 1.2-.8 .9-1.6 .8-1.6 .8-1.6 .8-1.7 .8-1.5 .7-1.7 .8-1.6 .8-1.6 1.1-.8 .4,.1 1.1,1.4 .8,1.6 .7,1.6 .8,1.7 .8,1.6 .8,1.5 .8,1.7 .9,1.6 .9,1.5 .9,1.1 .3-.3 .9-1.6 .6-1.7 .6-1.7 .6-1.6 .8-1.6 .9-1.6 1-1.4 .7-.5 .8,.6 1,1.6 .8,1.6 .9,1.5 1.1,1.4 1.2,1.3 1.3,1.2 .8,.4 .3,0 .6,0 .1,0 1.4-1 .8-1.5 .8-1.8 .5-1.6 .1-.3 1,.3" stroke="#f8cf3c" stroke-width="1.6"/>
<path d="M339,344.1l.4,1.9 .4,1.8 .4,1.7 .4,1.7 .5,1.9 .4,1.6 .4,1.9 .4,1.6 .4,1.8 .4,1.6 .4,1.8 .4,1.8 .6,1.6 .5,.7 .2,0 .3,.1 .4-.3 .7-1.7 .5-1.7 .5-1.8 .4-1.7 .6-1.7 .6-1.7 .5-1.6 .6-1.7 .6-1.8 .7-1.6 .9-.9 .5,.1 1.4,1.1 1.2,1.3 1.3,1.2 1.7,.7 1.5,.9 1,1.5 .7,1.7 .6,1.7 .5,1.7 .6,1.8 .5,1.6 .5,1.7 .6,1.8 .6,1.7 .5,1.6 .5,1.9 .5,1.6 .6,1.8 .5,1.7 .6,1.7 .6,1.6 .1,.1 .5-1.6 .4-1.7 .3-1.9 .2-1.8 .2-1.6 .3-2.2 .2-1.7 .2-1.8 .2-1.9 .1-1.4 .2-1.8 .2-1.8 .3-2.1 .2-1.8 .2-1.8 .2-1.8 .2-1.8 .1-1.4 .2-1.8 .2-1.9 .2-1.8 .2-1.9 .2-1.8 .2-1.7 .2-1.8 .2-1.9 .2-1.5 .2-2.1 .1-1.6 .2-2.1 .2-1.6 .1-1.6 .2-2.1 .2-1.5 .2-1.9 .2-1.8 .2-1.6 .3-2.1 .3-1.5 .4-.8 .1,0 .1,0 .3,.6 .5,1.8 .3,1.7 .3,2 .2,1.4 .2,2 .3,2 .2,1.7 .2,1.7 .2,1.7 .2,1.7 .2,1.7 .2,2.1 .2,1.6 .3,2 .2,1.5 .2,2 .3,1.9 .2,1.6 .2,1.9 .2,1.6 .2,1.7 .2,1.8 .2,2.1 .2,1.5 .2,2.2 .1,1.6 .2,1.7 .2,2.1 .1,1.5 .2,1.8 .2,1.7 .3,1.8 .3,1.8 .4,.8 .3-.4 .1,.2 .1,.2 .7-1.5 .6-1.6 .6-1.7 .6-1.7 .6-1.8 .7-1.7 .6-1.6 .7-1.8 .7-1.5 .8-.8 .5,.3 .9,1.6 .8,1.6 .9,1.5 1.2,1.4 1.3,1.2 .8,.5 .6-.5 .7-1.6 .7-1.8 .6-1.7 1.1-1.2 0,0 1.3,1.2 1.2,1.3 1.2,1.4 1.1,1.5 1.1,1.4 .8,.6 .6-.5 .9-1.6 .6-1.6 .6-1.7 .7-1.7 .6-1.7 .6-1.8 .6-1.5 .7-1.8 .8-1.5 1.3-1.2 1.4-.4 .3,0 1.7,.6 1.7,.7 1.6,.7 1.7,.8 1.6,.7 1.5,1 1.1,1.3 1,1.6 1,1.5 1,1.5 1.2,1.3 1.5,.9 1.2,.4 .5-.4 .8-1.6 1-1.3 1.6,.7 1.2,1.4 1,1.5 .9,1.6 .5,1.8 .4,1.6 .4,2 .3,1.6 .5,1.7 .5,.8 .5-.4 .7-1.7 .5-1.8 .5-1.9 .3-1.6 .4-1.8 .3-1.8 .4-1.8 .3-1.9 .3-1.5 .4-1.8 .3-2 .3-1.6 .3-1.7 .3-1.8 .4-2 .3-1.7 .3-1.7 .3-1.9 .3-1.5 .4-2 .4-1.7 .3-1.6 .5-1.8 .6-1.7 .5-.6 .6,.6 .7,1.7 .5,1.7 .5,1.7 .5,1.7 .4,1.8 .5,1.8 .4,1.8 .4,1.8 .4,1.6 .4,1.8 .4,1.9 .3,1.6 .4,1.8 .5,1.8 .4,1.7 .6,1.7 .6,1.6 .7,1.7 .9,1.6 .9,1.4 1.1,1.5 1.1,1.5 .9,1.6 1,1.5 1,.7 .4-.2 1.1-1.4 .8-1.6 .8-1.7 .7-1.5 .8-1.8 .7-1.6 .7-1.6 .7-1.7 .7-1.6 .8-1.7 .7-1.6 .7-1.7 .8-1.6 .8-1.7 .9-1.5 1.1-.9 .2,0 1.2,1.4 1,1.5 .9,1.6 .9,1.5 .9,1.6 .9,1.5 .9,1.6 .9,1.5 .9,1.6 .9,1.5 1,1.5 1.4,1.1 1.6,.4 .2,0 1.7-.5 1.4-1.1 1.2-1.4 .9-1.5 .9-1.6 .7-1.6 .8-1.8 .6-1.6 .7-1.7 .7-1.7 .7-1.6 .7-1.6 .8-1.7 .8-1.6 .9-1.5 .9-.6 .3,.1 .4-.1 .1,0 1.1,1.3 .6,1.6 .6,1.9 .5,1.6 .5,1.7 .6,1.8 .4,1.7 .5,1.8 .5,1.7 .4,1.7 .5,1.8 .5,1.7 .5,1.8 .5,1.6 .5,1.7 .6,1.8 .7,.7 .6-.3 .8-1.6 .7-1.6 .6-1.8 .7-1.7 .7-1.6 .7-1.6 .8-1.7 .8-1.6 .8-1.5 1-1.6 1-.7 .5,.1 1.4,1.1 1.2,1.3 1.1,1.5 .9,1.5 .9,1.6 .9,1.5 .9,1.6 1,1.6 .8,1.6 .7,1.6 .9,1.5 1,.6 .3,0 .3,0 1.2-1.3 .6-1.7 .6-1.6 .5-1.7 .5-1.9 .4-1.7 .5-1.7 .5-1.8 .4-1.7 .6-1.8 .5-1.7 .4-1.7 .5-1.7 .4-1.8 .5-1.8 .4-1.7 .5-1.6 .5-1.8 .6-1.7 .7-1.1 .2,.1 .2-.1 .1,0 .7,1.6 .4,1.7 .4,1.7 .3,2 .3,1.7 .3,1.8 .3,1.7 .4,1.9 .3,1.7 .4,1.6 .6,1.8 .5,1.6 .6,1.8 .5,1.7 .6,1.7 .6,1.7 .8,1.2 .2,0 1.7-.6 1.4-1.1 1.1-1.5 1-1.5 .9-1.6 .9-1.5 .8-1.2 .2,.2 .9,1.7 .9,1.5 1.2,1.4 1.1,.8 .3-.1 .7-.1 .9,.5 1.5,1 1.3,1.3 1.1,.6 .5-.2 1.6-.8 1.3-1.2 1-1.5 .8-1.6 .7-1.7 .6-1.7 .6-1.6 .7-1.7 .8-1.7 .6-1.7 .6-1.6 .7-1.7 .9-1.5 .2-.1 .9,1.3 .7,1.7 .7,1.8 .5,1.6 .6,1.7 .6,1.7 .7,1.7 .7,1.7 .6,1.6 .7,1.7 .7,1.6 .8,1.7 .8,1 .3-.3 .8-1.7 .5-1.6 .5-1.7 .5-1.8 .5-1.7 .8-1.6 .8-1.6 1-1.4 .7-.1 .8,.6 .9,1.6 .7,1.7 .6,1.7 .7,1.6 .9,1.6 1,1.5 1.1,1.4 1.3,1.2 .2,.1 1.2-1 .8-1.5 .7-1.7 .6-1.8 .5-1.6 .3-1.1 .5,.2 .6,0" stroke="#f9bf3d" stroke-width="1.6"/>
<path d="M339,343l.4,1.8 .3,1.8 .4,1.8 .3,1.6 .4,1.9 .4,1.7 .4,1.8 .4,1.8 .3,1.7 .4,1.7 .3,1.8 .4,1.8 .3,1.7 .5,1.9 .5,1.6 .6,.8 .5-.5 .6-1.8 .5-1.7 .4-1.8 .4-1.7 .5-1.7 .5-1.7 .6-1.7 .5-1.7 .5-1.9 .6-1.7 .7-1.5 .4-.3 .7,.6 0,0 .4,0 1.5,1 1.2,1.3 1.2,1.4 .8,.3 .9-.1 .7-.1 1,.4 .9,1.6 .7,1.7 .5,1.7 .5,1.6 .5,1.7 .6,1.9 .5,1.6 .5,1.7 .5,1.7 .5,1.7 .5,1.8 .5,1.8 .5,1.7 .5,1.7 .6,1.7 .5,1.6 .1-.1 .3-.8 .2,.8 .1,.1 .5-1.7 .3-1.8 .3-2 .2-1.7 .2-1.8 .2-2 .1-1.5 .2-2 .2-1.6 .2-2 .1-1.6 .2-2 .2-1.4 .2-2 .2-2 .1-1.5 .2-2 .2-1.5 .2-2.1 .1-1.6 .2-2 .2-1.6 .2-2 .1-1.6 .2-2 .2-1.5 .2-2 .1-1.6 .2-1.6 .2-2.4 .1-1.7 .2-1.8 .1-1.8 .2-1.8 .1-1.8 .2-1.7 .1-1.7 .2-1.6 .2-2 .1-1.4 .3-2.1 .2-1.7 .4-1.6 .3-.6 .4,1 .4,1.8 .3,1.9 .2,1.7 .3,2 .2,1.7 .2,1.8 .2,1.8 .2,1.9 .1,1.5 .2,2 .2,1.9 .2,1.5 .2,1.9 .2,1.8 .2,1.8 .2,1.8 .2,1.7 .2,1.8 .2,1.7 .2,1.8 .2,1.8 .2,1.8 .2,1.8 .2,1.9 .2,2.1 .1,1.7 .2,1.8 .1,1.9 .2,1.8 .1,1.8 .1,1.3 .2,2.3 .2,1.7 .1,1.5 .2,1.9 .2,1.6 .3,1.7 .4,1.7 .1,.1 .3-.3 .2,.3 .4-.9 .5-1.6 .6-1.7 .5-1.8 .6-1.7 .6-1.7 .6-1.7 .6-1.8 .5-1.6 .7-1.6 .7-.7 .7,.4 .9,1.5 .7,1.7 .7,1.7 .7,1.6 1,1.5 1,1.5 1,1.4 .6-1.8 .5-1.6 .5-1.7 .6-1.8 .9-1.3 .1,0 .4,.4 .4-.5 .4,.3 1.4,1.1 1.3,1.2 1.3,1.3 1.3,1.2 .4,.2 1-.9 .7-1.6 .6-1.9 .5-1.6 .6-1.8 .6-1.7 .5-1.6 .5-1.7 .5-1.9 .5-1.6 .6-1.7 .8-1.6 1.1-1.5 1-.5 .6,.1 1.4,1.1 1.4,1.2 1.4,1.1 1.5,1 1.5,1 1.5,1 1.3,1.2 1,1.5 .9,1.6 .9,1.5 .9,1.5 1.2,1.4 1.4,1.2 1.5,.8 1-1.5 .9-1.5 .1-.1 1.4,1.1 1.1,1.4 .9,1.5 .8,1.6 .8,1.6 .5,1.7 .4,1.9 .3,1.7 .3,1.9 .3,1.6 .4,1.9 .2,1.6 .1,.4 .4-1.4 .5-1.7 .4-1.9 .4-1.6 .3-1.7 .4-1.9 .3-1.7 .3-1.7 .3-1.8 .3-1.8 .3-1.8 .3-1.8 .3-1.8 .3-1.8 .2-1.6 .3-2 .3-1.6 .3-2 .2-1.7 .3-1.9 .3-1.6 .3-1.9 .3-1.8 .3-1.8 .3-1.7 .3-1.6 .3-1.9 .4-1.8 .5-1.6 .8-1.4 .1,0 .8,1.5 .6,1.8 .5,1.7 .4,1.7 .4,1.7 .4,1.8 .5,1.9 .3,1.7 .4,1.7 .3,1.8 .4,1.8 .3,1.8 .4,1.8 .3,1.7 .4,1.7 .4,1.7 .4,1.8 .6,1.7 .6,1.7 .7,1.6 .8,1.7 .9,1.5 1,1.6 .8,1.5 .8,1.6 .9,1.6 1.2,1.3 .3,0 1.2-.8 .9-1.6 .7-1.7 .7-1.6 .6-1.7 .7-1.7 .6-1.7 .6-1.6 .7-1.7 .6-1.7 .7-1.6 .7-1.8 .6-1.6 .7-1.7 .7-1.6 .8-1.7 .9-1.6 .7-.5 .6,.4 .8,1.6 .8,1.6 .8,1.7 .7,1.7 .7,1.5 .8,1.8 .7,1.6 .7,1.6 .8,1.7 .7,1.6 .8,1.6 .8,1.7 .8,1.6 .9,1.5 1.4,1.1 .4,.1 1.3-.6 1.2-1.3 1-1.4 1-1.6 .8-1.6 .8-1.7 .7-1.6 .6-1.7 .6-1.6 .6-1.7 .6-1.7 .6-1.8 .6-1.7 .6-1.6 .7-1.7 .6-1.6 .7-1.8 .8-1.6 1-1.4 .7-.4 .8,.4 .8,1.6 .6,1.8 .5,1.7 .5,1.7 .5,1.9 .4,1.6 .5,1.8 .4,1.8 .4,1.7 .4,1.7 .5,1.8 .4,1.8 .5,1.6 .4,1.8 .5,1.8 .4,1.8 .6,1.6 .5,.6 .6-.7 .3,.5 .7-1 .7-1.7 .6-1.8 .5-1.7 .6-1.7 .6-1.6 .7-1.6 .7-1.7 .8-1.6 .8-1.6 .8-1.7 1-.9 .3,.1 1.1,1.4 1,1.5 .9,1.6 .8,1.6 .8,1.6 .8,1.6 .7,1.7 .8,1.6 .7,1.6 .8,1.7 .8,1.5 .8,1.8 .6,1.6 .8,1.7 .9,1 .3-.2 .7-1.7 .6-1.6 .6-1.8 .4-1.7 .5-1.8 .4-1.7 .4-1.7 .4-1.8 .4-1.8 .4-1.7 .4-1.9 .5-1.7 .4-1.8 .4-1.7 .4-1.7 .4-1.8 .4-1.8 .4-1.8 .4-1.7 .4-1.7 .5-1.8 .5-1.7 .6-1.6 .3-.6 .3,.3 .3-.1 .3,.2 .5,1.8 .4,1.8 .3,1.7 .3,1.9 .2,1.6 .3,2 .3,1.6 .3,1.9 .3,1.8 .3,1.6 .4,1.8 .5,1.8 .5,1.7 .5,1.7 .5,1.7 .6,1.7 1,1.4 .1,0 1.3-1 1.4-1.1 1.7-.8 1.6-.6 1.5-1 .9-.8 .5,.2 1.2,1.4 .5,.3 .8-.8 1.4-1 .9-1.5 .9-1.6 .1,0 .7,1.4 .6,1.8 .6,1.6 .7,1.8 .7,1.7 .7,1.6 .9,1.5 1.2,1.3 .1,0 1.1-1.3 .6-1.6 .6-1.7 .6-1.7 .5-1.8 .6-1.7 .5-1.6 .6-1.8 .6-1.7 .5-1.7 .6-1.8 .5-1.7 .6-1.6 1-1.5 .3-.1 1,1.1 .7,1.7 .6,1.7 .5,1.6 .6,1.8 .5,1.8 .6,1.6 .6,1.8 .6,1.7 .6,1.6 .6,1.6 .6,1.8 .7,1.6 .8,1.6 .7-1.6 .5-1.8 .5-1.8 .4-1.6 .4-1.8 .5-1.7 .8-1.6 .7-1.8 .8-1.5 .5-.2 .3,0 .5-.3 .3,.1 1,1.4 .7,1.7 .6,1.7 .7,1.7 .9,1.6 1,1.4 1.2,1.3 1.1,.5 .5-.4 1.5-.8 .8-1.7 .6-1.7 .5-1.7 .5-1.8 .3-2.9 .5,0 .5,.2" stroke="#faaf3e" stroke-width="2.1"/>
<path d="M339,343l.4,1.9 .3,1.8 .4,1.7 .3,1.7 .4,1.9 .4,1.8 .4,1.6 .4,1.9 .3,1.6 .4,2 .3,1.5 .4,1.8 .4,1.9 .4,1.6 .6,1.7 .5,.5 .6-.7 .6-1.8 .5-1.7 .4-1.9 .4-1.7 .5-1.7 .6-1.7 .5-1.7 .5-1.7 .5-1.8 .6-1.6 .8-1.5 .2-.1 1.4,.7 1.4,1.2 1,1.4 1.2,1.5 1.1,.4 .5-.1 .9,0 .9,.3 .9,1.5 .7,1.7 .5,1.6 .6,1.8 .5,1.7 .5,1.8 .5,1.6 .6,1.8 .5,1.8 .5,1.7 .5,1.8 .5,1.7 .5,1.7 .5,1.7 .6,1.6 .4,1.2 .2-.5 .2-.4 .3,.9 .1-.1 .5-1.8 .3-2 .2-1.5 .2-2.2 .2-1.8 .2-1.5 .2-2 .1-1.6 .2-2 .2-1.6 .2-2 .1-1.5 .2-2 .2-1.9 .2-1.5 .2-2 .1-1.6 .2-2 .2-1.6 .2-2 .1-1.6 .2-2.1 .2-1.5 .2-2 .1-1.5 .2-2 .2-1.5 .2-2.2 .1-1.7 .2-1.7 .1-1.8 .2-1.8 .1-1.8 .2-1.8 .1-1.7 .2-1.8 .1-1.6 .2-2.2 .2-1.5 .2-1.8 .2-2 .3-1.6 .4-1.7 .2-.3 .4,1.3 .4,1.9 .3,1.9 .3,1.8 .2,1.6 .2,1.7 .2,1.8 .2,1.9 .2,1.9 .2,1.9 .1,1.5 .2,1.9 .2,2 .2,1.4 .2,1.9 .2,1.8 .2,1.7 .2,1.8 .2,1.7 .2,1.8 .2,2.2 .2,1.8 .2,1.8 .2,1.8 .2,1.4 .2,2.2 .1,1.7 .2,1.8 .1,1.8 .2,1.8 .1,1.9 .2,1.8 .1,1.7 .2,1.7 .1,1.6 .2,1.8 .2,1.7 .3,2 .5,1.5 0,0 .3-.2 .2,.2 .4-1 .6-1.7 .5-1.8 .5-1.6 .6-1.7 .6-1.8 .6-1.7 .5-1.6 .6-1.8 .7-1.7 .9-1 .3,.2 1,1.5 .7,1.7 .6,1.7 .7,1.5 1,1.6 .9,1.5 1.1,1.5 .2,.4 .5-1.3 .5-1.7 .6-1.7 .5-1.7 .9-1.5 0,0 .6,.6 .4-.6 .2,.2 1.3,1.2 1.3,1.2 1.4,1.2 1.2,1.3 .8,.5 .6-.6 .8-1.7 .6-1.6 .5-1.8 .5-1.7 .6-1.6 .5-1.7 .6-1.9 .5-1.7 .5-1.7 .5-1.7 .7-1.7 .8-1.5 1.2-1.3 .6-.2 1,.5 1.4,1.2 1.3,1.2 1.4,1.1 1.4,1.1 1.5,1.1 1.5,1 1.2,1.3 1,1.5 .9,1.6 .9,1.6 1,1.4 1.3,1.3 1.5,.9 1.1,.4 .4-.4 .8-1.7 .7-1.2 .3,.1 1.3,1.2 1.1,1.5 .8,1.5 .8,1.7 .8,1.6 .4,1.7 .4,1.8 .3,1.8 .3,1.9 .3,1.6 .4,1.8 .3,1.9 0,.1 .5-1.5 .5-1.9 .4-1.6 .4-1.8 .3-1.8 .4-1.9 .3-1.7 .3-1.7 .3-1.8 .3-1.8 .3-1.8 .3-1.8 .3-1.8 .2-1.6 .3-1.9 .3-1.6 .3-2 .2-1.6 .3-2 .3-1.6 .3-1.9 .2-1.6 .3-1.8 .3-1.7 .4-2 .3-1.6 .3-1.8 .4-1.7 .6-1.7 .7-.7 .5,.5 .6,1.6 .6,1.8 .4,1.7 .5,1.8 .4,1.8 .4,1.7 .4,1.8 .4,1.9 .3,1.7 .3,1.6 .4,1.8 .3,1.8 .4,1.7 .3,1.7 .4,1.8 .5,1.8 .5,1.7 .6,1.7 .7,1.7 .7,1.6 .9,1.6 .9,1.5 .9,1.6 .8,1.6 .8,1.6 1,1.5 1,.7 .5-.2 1.1-1.4 .7-1.6 .7-1.7 .7-1.7 .6-1.6 .7-1.8 .6-1.6 .6-1.8 .7-1.7 .6-1.7 .6-1.5 .7-1.7 .6-1.7 .7-1.7 .7-1.7 .8-1.6 .8-1.6 .7-.5 .6,.7 .8,1.5 .8,1.7 .7,1.7 .7,1.6 .8,1.7 .7,1.6 .7,1.6 .7,1.6 .7,1.8 .7,1.6 .8,1.7 .7,1.6 .8,1.5 .8,1.6 1.2,1.4 1,.5 .6-.2 1.4-1.2 1.1-1.4 .9-1.5 .8-1.7 .8-1.7 .7-1.6 .7-1.6 .6-1.8 .6-1.7 .6-1.6 .6-1.7 .6-1.8 .6-1.6 .6-1.7 .6-1.6 .7-1.8 .7-1.7 .8-1.5 1.3-1.2 0,0 1.3,1.1 .6,1.6 .6,1.8 .5,1.8 .4,1.6 .5,1.7 .5,1.9 .4,1.6 .4,1.9 .4,1.7 .5,1.8 .4,1.7 .4,1.7 .5,1.7 .4,1.8 .5,1.8 .4,1.7 .6,1.6 .4,.4 .6-.5 .3,.3 0,0 .9-1.5 .6-1.8 .6-1.7 .5-1.7 .6-1.8 .6-1.6 .7-1.6 .7-1.6 .7-1.7 .8-1.7 .8-1.5 1.1-1.3 .1,0 1.1,1.4 1,1.5 .8,1.5 .9,1.7 .7,1.6 .8,1.7 .7,1.7 .7,1.5 .8,1.7 .7,1.7 .8,1.6 .8,1.6 .6,1.7 .7,1.6 .8,1.6 .5,.4 .6-.9 .7-1.7 .5-1.7 .5-1.7 .5-1.8 .4-1.8 .4-1.8 .4-1.7 .4-1.8 .4-1.8 .4-1.7 .4-1.6 .5-1.8 .4-1.8 .4-1.7 .4-1.8 .4-1.8 .4-1.8 .4-1.8 .4-1.7 .4-1.7 .5-1.7 .5-1.7 .6-1.7 .2-.3 .3,.2 .3-.1 .4,.7 .5,1.7 .3,1.8 .3,1.8 .3,1.9 .3,1.6 .3,2 .2,1.6 .3,1.9 .3,1.7 .4,1.8 .4,1.6 .5,1.8 .5,1.8 .5,1.6 .5,1.8 .5,1.6 .7,1.7 .7,.7 .7-.2 1.7-.6 1.5-1.1 1.2-1.3 1-1.6 .8-1.5 .7-1.6 .6-1.1 .4,.4 1,1.5 .6,.3 .7-.8 .4-.6 .6,.8 .6,.4 .9-.6 .8-.5 .5,.6 .6,1.7 .6,1.7 .6,1.7 .7,1.7 .8,1.6 1.2,1.3 1.1,.5 .5-.2 1-1.5 .7-1.7 .6-1.6 .6-1.8 .5-1.7 .6-1.7 .6-1.7 .6-1.6 .6-1.8 .6-1.7 .5-1.7 .6-1.7 .9-1.5 .7-.3 .8,.6 .7,1.5 .7,1.8 .5,1.7 .5,1.6 .6,1.8 .6,1.7 .6,1.7 .6,1.7 .6,1.7 .6,1.7 .7,1.7 .7,1.6 .7,1.4 .2-.3 .6-1.6 .5-1.7 .5-1.8 .4-1.8 .5-1.7 .5-1.7 .8-1.5 .7-1.7 1-1.2 .2,0 .2,.1 .6-.3 .7,.6 .8,1.6 .6,1.7 .6,1.6 .7,1.7 .9,1.6 1.1,1.4 1.3,1.2 .7,.2 1-.5 1.2-1.2 .7-1.8 .6-1.6 .5-1.7 .5-1.9 .2-2.8 .1,0 .5,0 .4,0" stroke="#f89f44" stroke-width="2.1"/>
<path d="M339,342.7l.4,1.9 .3,1.8 .4,1.7 .4,1.9 .3,1.6 .4,1.8 .4,1.8 .4,1.8 .4,1.7 .3,1.7 .4,1.8 .3,1.7 .4,1.8 .5,1.7 .5,.7 .4-.4 .3,.3 .2,.1 .7-1.3 .5-1.8 .5-1.8 .4-1.7 .4-1.9 .5-1.6 .6-1.7 .5-1.6 .5-1.9 .5-1.6 .7-1.7 .8-.9 .4,.2 1.3,1.4 1,1.5 .9,1.6 .9,1.5 1.1,1.3 1.7,.6 1.4,1.1 .8,1.6 .6,1.8 .5,1.6 .5,1.9 .5,1.7 .5,1.7 .6,1.7 .5,1.6 .5,1.8 .5,1.7 .5,1.8 .5,1.7 .5,1.6 .6,1.7 .6,1.8 .2,.3 .2-.1 .1,0 .4-.9 .4-1.8 .3-2.1 .2-1.6 .2-1.7 .2-1.9 .2-2 .1-1.5 .2-2 .2-1.6 .2-2.1 .1-1.5 .2-2 .2-1.5 .2-1.9 .2-2 .1-1.6 .2-2 .2-1.6 .2-2 .1-1.6 .2-2.1 .2-1.5 .1-1.6 .2-2 .2-1.5 .2-2 .2-2 .1-1.6 .2-1.7 .1-1.7 .2-1.8 .1-1.8 .2-1.8 .1-1.8 .2-1.8 .1-1.7 .2-2.3 .2-1.6 .1-1.5 .2-1.9 .2-1.7 .3-2.1 .4-1.5 .3-.6 .4,1.1 .4,1.7 .3,1.8 .2,1.8 .3,2 .2,1.7 .2,1.7 .2,1.9 .2,1.9 .1,1.4 .2,2 .2,1.9 .2,2 .2,1.4 .2,1.9 .2,1.8 .2,1.7 .2,1.8 .2,1.7 .2,1.8 .2,1.8 .2,1.7 .2,1.8 .2,1.8 .2,1.9 .2,2.2 .1,1.7 .2,1.7 .1,1.9 .2,1.8 .1,1.9 .2,1.8 .1,1.7 .2,1.7 .1,1.5 .2,1.9 .2,1.6 .3,2 .5,1.3 .1-.2 .2-.3 .2,.4 .3-.8 .6-1.8 .5-1.6 .5-1.7 .6-1.8 .5-1.7 .6-1.7 .5-1.7 .6-1.8 .5-1.6 .6-1.8 .6-1.6 .2-.2 .7,1.5 .7,1.6 .6,1.7 .8,1.5 1,1.5 .9,1.6 1,1.5 .8,.9 .4-.3 .7-1.7 .6-1.7 .7-1.7 .6-.7 .6,.6 .2-.3 .9,1.2 1.1,1.4 1.1,1.4 1.2,1.4 1,1.5 1.1,1.4 0,0 .8-1.6 .6-1.8 .5-1.8 .5-1.6 .6-1.8 .5-1.7 .5-1.6 .5-1.8 .5-1.7 .5-1.7 .6-1.8 .7-1.6 1-1.5 1.3-1.1 .4,0 1.3,.6 1.4,1.1 1.4,1.1 1.4,1.2 1.4,1 1.5,1.1 1.5,1 1.2,1.3 1,1.5 1,1.6 1,1.4 1.4,1.1 1.1,.2 .7-.1 .5-.1 .6,.6 .3-.3 .7-1.6 .5-1.8 .6-1 .4,.1 1.3,1.4 .8,1.5 .8,1.7 .7,1.7 .6,1.7 .4,1.7 .4,1.8 .3,1.7 .3,1.8 .3,1.8 .4,1.7 .6,1.2 .3-.3 .7-1.6 .5-1.9 .4-1.8 .3-1.7 .3-1.6 .4-2 .3-1.7 .3-1.8 .3-1.7 .3-1.7 .3-1.8 .3-1.8 .3-1.9 .2-1.6 .3-1.9 .3-1.6 .3-2 .2-1.6 .3-1.9 .3-1.8 .3-1.8 .3-1.7 .3-1.6 .4-1.9 .3-1.7 .5-1.8 .7-1.4 .1,0 .2,.1 .4-.3 .6,.9 .6,1.6 .5,1.7 .4,1.7 .5,1.9 .4,1.7 .4,1.8 .4,1.8 .3,1.7 .4,1.7 .3,1.8 .4,1.8 .3,1.8 .4,1.7 .4,1.9 .4,1.7 .4,1.8 .5,1.6 .6,1.7 .7,1.7 .8,1.5 .8,1.6 .9,1.6 .9,1.6 .8,1.6 .8,1.6 .8,1.6 1.1,1.2 .1,0 1-1.4 .8-1.7 .7-1.7 .6-1.6 .6-1.7 .6-1.7 .6-1.7 .6-1.7 .6-1.7 .6-1.6 .6-1.7 .6-1.8 .6-1.7 .6-1.7 .6-1.6 .7-1.8 .6-1.6 .6-1.7 .7-1.6 .7-1 .4,.4 .7,1.6 .8,1.6 .8,1.7 .7,1.5 .8,1.7 .7,1.6 .7,1.7 .7,1.7 .7,1.7 .7,1.7 .7,1.6 .7,1.7 .7,1.5 .8,1.7 .9,1.5 1.3,1.2 .8,.2 .9-.3 1.4-1.2 1-1.4 .9-1.6 .8-1.6 .7-1.7 .7-1.6 .6-1.8 .6-1.7 .6-1.7 .6-1.6 .6-1.7 .6-1.7 .6-1.7 .7-1.7 .6-1.6 .8-1.7 .8-1.5 1.1-.8 .4,.2 1.3,1.1 .6,1.7 .5,1.7 .5,1.9 .5,1.7 .4,1.7 .5,1.7 .4,1.9 .4,1.6 .4,1.8 .4,1.7 .5,1.8 .4,1.6 .5,1.9 .4,1.8 .4,1.6 .5,1.8 .5,1.7 .8,1.3 .2-.1 .8-1.6 .6-1.7 .5-1.7 .6-1.8 .5-1.7 .5-1.8 .6-1.7 .6-1.6 .7-1.7 .6-1.6 .7-1.6 .7-1.8 .7-1.7 .9-1.4 .1,0 1.1,1.2 1,1.5 .9,1.6 .7,1.6 .8,1.6 .7,1.7 .7,1.7 .7,1.6 .7,1.6 .8,1.8 .7,1.6 .7,1.6 .6,1.7 .7,1.7 .9,1.6 .6,.5 .7-.6 .7-1.6 .6-1.8 .5-1.8 .5-1.7 .4-1.6 .4-1.8 .4-1.7 .4-1.8 .4-1.7 .4-1.9 .4-1.7 .5-1.7 .4-1.9 .4-1.7 .4-1.8 .4-1.8 .4-1.6 .4-1.8 .4-1.7 .4-1.8 .5-1.7 .5-1.8 .8-1.4 .9,1.4 .4,1.7 .4,1.9 .3,1.8 .2,1.6 .3,2 .3,1.7 .2,1.7 .3,1.9 .3,1.8 .3,1.6 .4,1.9 .5,1.6 .5,1.9 .4,1.6 .4,1.8 .5,1.7 .4,1.7 .5,1.8 .5,1.7 .3,.8 .8-.5 1.3-1.3 .9-1.5 .9-1.6 .7-1.6 .8-1.6 .8-1.6 .9-1.6 .9-1.3 .2,.1 .7,1.6 .7,1.7 .8,1.5 1.3,1.3 .3,0 1.2-.9 1.4-1.1 .1,0 1.4,.8 1.4,1.1 .3,0 .4,0 1.1,.3 1.7,.4 .6,.1 .9-.7 .8-1.7 .7-1.6 .6-1.7 .6-1.7 .6-1.7 .7-1.6 .6-1.8 .5-1.6 .6-1.8 .6-1.7 1-1.3 .1,0 1,1.4 .7,1.6 .6,1.7 .5,1.8 .6,1.7 .5,1.6 .7,1.8 .6,1.6 .6,1.7 .6,1.8 .6,1.6 .7,1.7 .9,1.6 .4,.3 .7-1 .6-1.8 .4-1.6 .5-1.8 .5-1.8 .5-1.6 .9-1.6 .8-1.6 .5-.3 .7,.6 .2-.2 .3-.1 1,1.1 .7,1.7 .6,1.7 .6,1.7 .6,1.7 .7,1.7 .9,1.5 1,1.4 1.4,1.3 .2,.1 1-1.1 .7-1.7 .6-1.6 .6-1.8 .5-1.8 .4-1.7 .5-1.8 .7-1.3 .4-.1" stroke="#f3894e" stroke-width="2.1"/>
<path d="M339,342.9l.4,1.9 .3,1.9 .4,1.7 .3,1.7 .4,1.7 .4,1.8 .4,1.9 .3,1.6 .4,1.8 .4,1.8 .3,1.7 .4,1.8 .4,1.9 .4,1.5 .7,1.7 .2,0 1-1.1 .5-1.6 .5-1.8 .4-1.8 .4-1.7 .4-1.9 .5-1.7 .6-1.7 .5-1.8 .4-1.6 .5-1.7 .6-1.7 .9-1.6 .3-.1 1,.9 1,1.5 1,1.6 .8,1.5 1.1,1.6 1.3,1.1 1.5,1.1 .9,1.4 .7,1.7 .5,1.7 .6,1.9 .5,1.8 .4,1.6 .5,1.7 .6,1.8 .5,1.6 .5,1.8 .5,1.8 .5,1.7 .5,1.7 .6,1.8 .5,1.7 .6,1.7 .3,.6 .4-1 .4-1.7 .3-2 .3-1.9 .2-1.7 .2-1.8 .1-1.4 .2-2 .2-2.1 .2-1.6 .1-1.5 .2-2.1 .2-1.5 .2-2.1 .2-1.9 .1-1.5 .2-2 .2-1.6 .2-2 .1-1.6 .2-2.1 .2-1.5 .1-1.6 .2-2.1 .2-1.5 .2-2.1 .1-1.5 .2-2 .2-2.1 .2-1.6 .1-1.7 .2-1.7 .1-1.8 .2-1.8 .1-1.8 .2-1.8 .1-1.8 .2-1.7 .1-1.7 .2-2.2 .2-1.5 .2-1.9 .2-1.6 .2-1.8 .3-1.7 .4-1.8 0,.2 .3,1.6 .4,2 .3,1.6 .3,2.1 .2,1.5 .2,1.7 .2,2.2 .2,1.4 .2,1.9 .2,2 .2,1.9 .1,1.5 .2,1.9 .2,2 .2,1.4 .2,1.9 .2,1.7 .2,1.8 .2,1.8 .2,1.7 .2,1.8 .2,1.8 .2,1.8 .2,1.8 .2,1.8 .2,2.1 .1,1.6 .2,1.8 .1,1.8 .2,1.8 .1,1.9 .2,1.8 .1,1.8 .2,1.8 .1,1.6 .2,2 .2,1.8 .2,1.5 .3,1.8 .5,1.4 .2-.1 0,0 .1,.1 .7-1.7 .5-1.7 .5-1.7 .6-1.8 .5-1.6 .5-1.7 .6-1.8 .5-1.7 .6-1.8 .5-1.7 .6-1.6 .6-1 .4,.4 .8,1.7 .8,1.7 .9,1.4 1.1,1.4 1.1,1.5 1.2,1.3 .4,.1 .8-1.1 .7-1.8 .6-1.6 .8-1.2 .2,.1 .4,.3 .1-.1 .7,1.2 .9,1.4 1,1.6 1,1.5 .9,1.5 .9,1.6 .9,1.6 .1,.2 .6-1.4 .6-1.8 .5-1.7 .5-1.7 .5-1.8 .6-1.6 .5-1.7 .5-1.8 .4-1.7 .5-1.7 .6-1.8 .6-1.7 .7-1.6 .9-1.5 1.1-1.3 .8-.4 .9,.3 1.6,.9 1.5,1 1.3,1.2 1.3,1.2 1.3,1.3 1.3,1.3 1.1,1.5 .9,1.5 .8,1.5 .9,1.6 1,1.5 1.2,1.3 1.4,.5 .3,0 .7-.2 .3,.1 .5-.7 .7-1.7 .5-1.6 1-1.1 .1,0 1.4,1.1 .9,1.6 .8,1.6 .8,1.7 .4,1.7 .4,1.8 .3,1.9 .3,1.7 .3,1.7 .4,1.8 .5,1 .2-.1 .2,.2 .1,0 .9-1.5 .5-1.8 .4-1.7 .3-1.8 .4-1.8 .3-1.7 .3-1.7 .3-1.8 .3-2 .3-1.7 .3-1.7 .3-1.8 .3-1.6 .3-1.9 .3-1.9 .2-1.6 .3-1.9 .3-1.9 .3-1.5 .3-1.7 .3-2 .3-1.6 .4-1.9 .3-1.7 .5-1.8 .6-1.3 .2,.1 .3,.7 .4-.8 .2,0 .8,1.7 .6,1.7 .4,1.6 .5,1.8 .4,1.9 .4,1.7 .4,1.7 .4,1.9 .4,1.7 .3,1.8 .4,1.8 .3,1.7 .4,1.7 .4,1.8 .4,1.7 .5,1.8 .5,1.6 .7,1.7 .8,1.6 .9,1.5 1,1.6 .9,1.5 .8,1.6 .8,1.6 .8,1.7 1.1,1.3 .5,.2 .9-.8 .9-1.6 .7-1.6 .7-1.6 .7-1.8 .6-1.6 .7-1.7 .6-1.7 .7-1.7 .6-1.7 .6-1.6 .6-1.7 .6-1.7 .6-1.7 .6-1.8 .6-1.6 .7-1.7 .7-1.7 .8-1.5 .1,0 .9,1.4 1,1.6 .8,1.5 .8,1.6 .8,1.7 .8,1.6 .7,1.6 .7,1.7 .7,1.7 .7,1.7 .7,1.7 .6,1.5 .8,1.8 .8,1.6 .9,1.5 1.1,1.4 1.3,.6 .3,0 1.5-1 1-1.5 .9-1.5 .7-1.7 .7-1.6 .7-1.8 .6-1.7 .6-1.7 .5-1.7 .6-1.7 .5-1.7 .6-1.7 .6-1.7 .6-1.7 .6-1.7 .6-1.7 .7-1.6 .8-1.7 1.2-1 .1,0 1.1,1.3 .7,1.8 .5,1.7 .4,1.6 .5,1.8 .4,1.8 .5,1.7 .4,1.9 .4,1.7 .4,1.7 .4,1.8 .4,1.7 .4,1.7 .5,1.8 .4,1.8 .4,1.7 .5,1.9 .4,1.5 .5,1.9 .7,1.5 .1,0 .8-1.6 .6-1.6 .5-1.7 .6-1.8 .5-1.8 .6-1.7 .6-1.7 .6-1.6 .6-1.8 .6-1.6 .7-1.7 .6-1.7 .7-1.7 .7-1.6 .5-.7 .8,.4 1.1,1.4 1,1.5 .8,1.7 .8,1.6 .7,1.6 .7,1.7 .7,1.7 .7,1.7 .7,1.5 .7,1.7 .6,1.7 .6,1.7 .6,1.6 .7,1.7 .9,1.6 .4,.2 .8-1.1 .7-1.7 .5-1.8 .5-1.6 .4-1.8 .5-1.9 .4-1.7 .4-1.7 .4-1.8 .4-1.7 .4-1.8 .5-1.8 .4-1.6 .4-1.8 .4-1.8 .4-1.8 .3-1.6 .4-1.9 .4-1.7 .4-1.8 .5-1.8 .4-1.6 .6-1.7 .6-1.1 .1,0 .2,0 .1,.1 .7,1.6 .4,1.9 .3,1.7 .3,1.8 .3,2 .2,1.6 .3,1.7 .3,1.9 .3,1.8 .3,1.6 .4,1.8 .5,1.7 .5,1.8 .4,1.6 .5,1.9 .5,1.7 .6,1.6 .7,1.7 1.5,.7 1.8,.3 .7,0 1.1-.2 1.3-1.1 1.1-1.5 1-1.6 .8-.9 .4,.1 .9,.4 .6-.4 1.1-1.4 1.2-1.4 .8-1.6 .5-.8 .4,.5 .7,1.8 .7,1.6 .7,1.6 1,1.5 1.3,1.3 1.2,.4 .5-.1 1.3-1.1 .8-1.7 .7-1.7 .6-1.7 .6-1.8 .6-1.6 .6-1.7 .7-1.6 .6-1.7 .6-1.7 .7-1.7 .9-.8 .5,.1 1,1.6 .7,1.6 .6,1.8 .5,1.7 .6,1.7 .5,1.6 .7,1.7 .6,1.7 .7,1.7 .6,1.7 .7,1.6 .9,1.6 .6,.4 .6-.7 .7-1.8 .4-1.6 .5-1.8 .4-1.8 .5-1.7 .7-1.6 .8-1.6 1-1.4 .1-.1 .6,.3 .1,0 .7,.6 .8,1.6 .6,1.8 .6,1.7 .5,1.7 .6,1.6 .7,1.8 .8,1.5 .8,1.6 1,1.5 1,1.1 .3-.2 .8-1.7 .6-1.5 .6-1.9 .5-1.7 .5-1.7 .4-1.7 .5-1.9 1.1-.9" stroke="#ed745c" stroke-width="2.1"/>
<path d="M339,343.7l.4,1.9 .3,1.8 .4,1.7 .3,1.7 .4,1.9 .4,1.8 .4,1.8 .4,1.6 .4,1.8 .4,1.9 .3,1.7 .4,1.7 .4,1.8 .4,1.6 .6,1.7 .3,.5 .6-1.1 .6-1.8 .5-1.7 .4-1.7 .4-1.7 .4-1.9 .5-1.7 .6-1.7 .5-1.7 .5-1.8 .5-1.6 .6-1.7 1-1.4 1.5,.9 1.2,1.4 1,1.5 1,1.4 1.6,.8 1.6,.6 1,1.5 .7,1.8 .6,1.6 .5,1.8 .5,1.7 .6,1.8 .5,1.7 .6,1.7 .5,1.8 .5,1.6 .5,1.7 .6,1.8 .5,1.7 .5,1.6 .6,1.7 .3,.7 .3-1 .1-.2 .3,1.1 .2-.3 .4-1.8 .3-2 .2-1.6 .3-2.2 .1-1.4 .2-1.9 .2-2 .2-1.5 .2-2.1 .1-1.5 .2-2 .2-1.5 .2-1.9 .2-1.9 .2-2 .1-1.5 .2-2 .2-1.5 .2-2.1 .1-1.5 .2-2.1 .2-1.5 .2-2 .1-1.5 .2-2 .2-1.9 .2-1.6 .2-2.1 .1-1.7 .2-1.7 .1-1.8 .2-1.8 .1-1.7 .2-1.8 .1-1.7 .2-1.7 .2-2.1 .1-1.5 .2-1.9 .2-1.7 .3-1.8 .3-1.8 .4-1.3 .1,.6 .4,1.7 .3,1.6 .3,1.9 .3,1.8 .2,1.6 .2,2.2 .2,1.7 .2,1.9 .2,1.4 .2,1.9 .2,2 .1,1.4 .2,2 .2,1.9 .2,1.8 .2,1.8 .2,1.7 .2,1.8 .2,1.7 .2,1.8 .2,1.7 .2,1.8 .2,1.8 .2,1.8 .2,1.9 .2,2.1 .2,1.7 .1,1.8 .2,1.8 .1,1.8 .2,1.8 .1,1.8 .2,1.7 .1,1.7 .2,2 .2,1.3 .2,2 .3,1.6 .4,1.9 .2,.7 .3-.8 .6-1.8 .6-1.7 .5-1.6 .5-1.8 .6-1.7 .6-1.7 .5-1.7 .6-1.8 .5-1.7 .7-1.6 .9-.9 .4,.1 1,1.6 .7,1.5 .8,1.7 1,1.5 1,1.4 1.1,1.5 .4,.5 .6-.9 .6-1.7 .6-1.8 .6-1.6 .7-.9 .4,.5 .1,.1 .3-.4 .8,.9 1.2,1.3 1.2,1.4 1.3,1.3 1.2,1.3 .7,.5 .5-.7 .7-1.7 .6-1.7 .5-1.6 .5-1.9 .5-1.6 .6-1.7 .5-1.7 .5-1.8 .5-1.8 .5-1.7 .5-1.7 .7-1.6 .8-1.7 1-1.4 .6-.3 .9,.5 1.3,1.2 1.3,1.3 1.2,1.3 1.2,1.4 1.2,1.3 1.2,1.4 1.2,1.3 1.1,1.4 1,1.5 .9,1.7 .8,1.5 1,1.5 1.1,1.4 1.6,.9 .6,.1 .9-.6 .8-1.7 .7-1.5 .5-.3 1.1,.5 1.2,1.4 .9,1.6 .8,1.5 .8,1.8 .4,1.8 .3,1.6 .4,1.9 .3,1.7 .3,1.8 .4,1.8 .3,1.3 .2-.3 .6-1.7 .5-1.8 .4-1.7 .4-1.9 .3-1.5 .3-1.9 .3-1.7 .3-1.7 .4-2.1 .3-1.7 .3-1.7 .3-1.8 .3-1.8 .2-1.6 .3-1.9 .3-1.9 .3-1.6 .3-2 .2-1.5 .3-1.9 .3-1.8 .3-1.7 .3-1.7 .4-1.9 .3-1.8 .4-1.6 .4-1.7 .7-1 .1,0 .3-.3 .2-.1 .8,1.5 .6,1.6 .5,1.7 .4,1.8 .5,1.8 .4,1.6 .4,2 .4,1.6 .4,1.9 .3,1.8 .4,1.7 .3,1.7 .4,1.7 .4,1.8 .4,1.8 .5,1.7 .6,1.6 .8,1.7 .8,1.6 .9,1.5 1,1.6 .8,1.5 .7,1.7 .8,1.7 .8,1.5 1.1,1.4 .7,.2 .8-.5 1-1.6 .7-1.6 .7-1.6 .7-1.8 .7-1.6 .6-1.7 .7-1.7 .6-1.6 .7-1.8 .6-1.7 .7-1.7 .6-1.6 .6-1.6 .7-1.8 .7-1.6 .8-1.6 .9-.8 .4,.3 .9,1.6 .9,1.6 .7,1.5 .8,1.8 .7,1.5 .8,1.8 .7,1.6 .7,1.6 .7,1.7 .7,1.7 .7,1.6 .7,1.6 .7,1.7 .8,1.6 .9,1.5 1.3,1.1 .3,.1 1.3-.7 1.1-1.5 .9-1.6 .8-1.6 .8-1.6 .6-1.6 .7-1.7 .6-1.8 .6-1.6 .6-1.8 .5-1.7 .6-1.7 .5-1.6 .6-1.8 .6-1.8 .6-1.6 .6-1.6 .7-1.7 .7-1.7 .8-1.6 .9-1 .3,.2 .8,1.6 .6,1.8 .5,1.7 .5,1.7 .4,1.7 .5,1.9 .5,1.7 .4,1.7 .4,1.8 .4,1.7 .4,1.8 .4,1.7 .5,1.8 .4,1.8 .5,1.7 .4,1.7 .4,1.8 .5,1.7 .6,1.7 .4,.3 1-.6 .7-1.5 .6-1.8 .5-1.7 .6-1.7 .6-1.8 .6-1.6 .7-1.7 .6-1.6 .8-1.8 .7-1.5 .7-1.7 .9-1.5 .4-.2 1,.9 1,1.4 .9,1.6 .8,1.6 .7,1.7 .8,1.7 .7,1.6 .7,1.7 .7,1.7 .6,1.5 .8,1.8 .7,1.6 .7,1.6 .6,1.8 .7,1.7 .6,1.5 .4,.5 .6-1 .5-1.6 .6-1.8 .5-1.8 .4-1.7 .5-1.8 .4-1.8 .4-1.7 .4-1.8 .4-1.8 .4-1.7 .4-1.7 .4-1.7 .4-1.8 .4-1.7 .4-1.8 .4-1.8 .4-1.6 .4-1.9 .4-1.8 .4-1.7 .4-1.7 .4-1.8 .5-1.7 .6-1.6 .4-.9 .4,.7 .6,1.8 .3,1.7 .3,1.7 .3,1.8 .3,1.9 .3,1.7 .3,2 .2,1.6 .3,1.8 .4,1.9 .3,1.5 .5,1.8 .5,1.8 .5,1.7 .5,1.8 .5,1.7 .6,1.6 .9,1.3 .1,0 1.4-1.3 1.1-1.4 1.2-1.3 1.4-1.1 1.7-.6 .4,0 .6,0 .1,0 .5,.4 .9,1.6 .8,1.6 1.1,1.2 .1,0 1.1-1.5 .8-1.6 .6-1.6 .7-1.7 .2-.2 1.1,1 .9,1.5 1.1,1.4 1.1,1.5 .8,1.5 1,1.6 .7,.5 .7-.5 .9-1.6 .6-1.6 .6-1.7 .6-1.7 .7-1.8 .6-1.6 .6-1.8 .5-1.6 .6-1.7 .6-1.7 1-1.2 .2,0 .2,0 .6-.4 .6,.6 .8,1.6 .7,1.7 .5,1.7 .6,1.6 .6,1.7 .7,1.7 .6,1.7 .7,1.7 .7,1.7 .7,1.6 .9,1.5 .4,.2 .8-1.1 .5-1.6 .5-1.9 .5-1.8 .4-1.7 .5-1.7 .7-1.6 .8-1.6 1-1.5 .2,0 1.3,.8 .7,1.6 .7,1.7 .6,1.7 .6,1.6 .7,1.7 .9,1.5 1.1,1.5 1.3,1.2 .4,.1 1.2-.7 .9-1.5 .7-1.6 .5-1.7 .5-1.8 .5-1.9 .3-2.8 .5-.2 .5-.1" stroke="#df5c6f" stroke-width="2.1"/>
<path d="M339,344l.4,1.9 .3,1.8 .4,1.8 .3,1.7 .4,1.6 .4,1.9 .4,1.8 .4,1.8 .4,1.8 .3,1.6 .4,1.8 .3,1.7 .4,1.9 .4,1.6 .5,1.8 .5,1.2 .2-.4 .6-1.7 .5-1.8 .4-1.8 .4-1.7 .4-1.8 .4-1.7 .5-1.7 .5-1.7 .5-1.7 .5-1.9 .5-1.6 .5-1.7 .7-1.6 .8-.9 .5,.1 1.3,1.3 1,1.4 1.1,1.5 1.4,1.1 1.5,.9 1.2,1.3 .8,1.6 .6,1.9 .5,1.6 .6,1.8 .5,1.7 .5,1.7 .5,1.7 .5,1.7 .6,1.8 .5,1.7 .5,1.7 .5,1.8 .5,1.6 .6,1.7 .6,1.7 .3,.9 .3-.8 .1-.2 .3,.8 .3-.7 .4-1.8 .2-1.7 .3-2 .2-1.8 .2-1.9 .1-1.4 .2-2.1 .2-1.5 .2-2 .1-1.6 .2-2 .2-1.9 .2-1.5 .2-1.9 .2-2 .1-1.5 .2-2 .2-1.6 .2-2 .1-1.5 .2-2.1 .2-1.5 .2-2 .1-1.5 .2-2 .2-2 .2-1.5 .2-2.2 .1-1.7 .2-1.7 .1-1.8 .2-1.7 .1-1.8 .2-1.8 .1-1.7 .2-1.7 .2-2.1 .1-1.5 .2-1.9 .2-1.7 .3-1.8 .3-1.7 .3-1.7 .1-.1 .3,1.7 .4,2 .3,1.5 .3,2.1 .2,1.5 .2,2.1 .2,1.8 .2,1.8 .2,1.4 .2,2 .2,1.9 .2,1.9 .1,1.5 .2,1.9 .2,1.9 .2,1.8 .2,1.8 .2,1.7 .2,1.8 .2,1.7 .2,1.8 .2,1.8 .2,1.7 .2,1.8 .2,1.9 .2,2 .2,1.7 .1,1.7 .2,1.8 .1,1.8 .2,1.8 .1,1.9 .2,1.7 .1,1.7 .2,1.6 .2,2 .2,1.8 .2,1.9 .3,1.6 .3,1.8 .3,1.2 .1-.5 .4-1.7 .5-1.7 .6-1.7 .5-1.7 .5-1.7 .6-1.8 .6-1.6 .5-1.8 .5-1.7 .6-1.7 .9-1.5 .8-.3 .7,.5 .9,1.6 .8,1.6 1.1,1.4 1.2,1.4 1.3,1.3 .1,0 .9-1.3 .6-1.7 .6-1.7 .7-1.6 .4-.4 .5,.2 .2-.1 .3,.3 1.1,1.4 1.1,1.5 1.2,1.4 1,1.4 1.2,1.4 .5,.4 .6-.8 .7-1.8 .6-1.7 .5-1.8 .5-1.7 .6-1.6 .5-1.8 .5-1.6 .5-1.8 .5-1.8 .5-1.7 .5-1.7 .7-1.7 .7-1.6 1-1.5 .8-.5 .7,.4 1.4,1.1 1.3,1.3 1.2,1.3 1.1,1.4 1.1,1.5 1.1,1.4 1,1.4 1.1,1.5 .9,1.6 .9,1.6 .8,1.6 .8,1.5 .9,1.6 1,1.5 1.4,1 .6,.2 .8-.9 .7-1.6 .7-1.6 1.2-.6 .4,0 1.5,1 1,1.5 .8,1.6 .8,1.7 .4,1.8 .3,1.8 .3,1.7 .4,1.9 .3,1.6 .5,1.8 .1,.2 .7-1.3 .5-1.7 .5-1.8 .3-1.7 .4-1.7 .3-1.9 .3-1.7 .4-2 .3-1.7 .3-1.7 .3-1.7 .3-1.8 .3-1.8 .3-1.9 .2-1.6 .3-1.9 .3-1.9 .3-1.6 .3-1.9 .3-1.8 .3-1.8 .3-1.7 .3-1.6 .3-1.9 .4-1.8 .3-1.6 .6-1.8 .4-.5 .3,0 .4-.3 .1,.1 .8,1.5 .6,1.9 .5,1.6 .4,1.8 .5,1.8 .4,1.6 .4,2 .4,1.6 .3,1.7 .4,2 .4,1.7 .3,1.7 .4,1.8 .4,1.7 .5,1.7 .6,1.7 .7,1.7 .8,1.5 1,1.5 1,1.5 .9,1.7 .7,1.6 .7,1.6 .8,1.7 .9,1.4 1.6,.9 1.2-1.3 .8-1.6 .8-1.6 .7-1.7 .7-1.7 .7-1.6 .7-1.6 .7-1.8 .6-1.6 .7-1.7 .6-1.7 .7-1.7 .6-1.6 .7-1.7 .8-1.6 1-1.5 .5-.2 .9,.8 1,1.5 .8,1.5 .9,1.7 .7,1.6 .8,1.7 .8,1.6 .7,1.6 .7,1.6 .7,1.8 .7,1.6 .7,1.6 .8,1.7 .8,1.6 .9,1.5 1.4,1 .2,0 1.4-.7 1.1-1.4 .9-1.6 .8-1.7 .7-1.6 .7-1.7 .6-1.6 .6-1.8 .5-1.6 .6-1.7 .5-1.8 .6-1.7 .5-1.7 .6-1.7 .5-1.7 .6-1.7 .6-1.7 .6-1.7 .7-1.7 .7-1.6 .8-1.7 .3-.3 .6,1 .6,1.7 .6,1.8 .5,1.8 .4,1.7 .5,1.8 .4,1.7 .5,1.8 .4,1.6 .4,1.8 .4,1.7 .4,1.8 .4,1.7 .4,1.9 .4,1.6 .5,1.8 .4,1.7 .4,1.9 .4,1.6 .6,1.8 .9,1.4 0,0 1-1.4 .7-1.7 .6-1.8 .5-1.7 .6-1.6 .6-1.7 .7-1.6 .7-1.7 .7-1.7 .7-1.7 .7-1.6 .8-1.6 .9-.7 .5,.3 1.3,1.3 .9,1.5 .9,1.6 .8,1.6 .8,1.7 .7,1.6 .7,1.7 .7,1.6 .7,1.7 .7,1.6 .7,1.7 .6,1.6 .7,1.8 .6,1.6 .6,1.7 .5,.6 .5-1 .5-1.6 .6-1.8 .5-1.8 .4-1.7 .5-1.8 .4-1.8 .4-1.7 .4-1.8 .4-1.8 .4-1.7 .4-1.7 .4-1.6 .4-1.9 .4-1.7 .4-1.8 .4-1.9 .4-1.6 .4-1.9 .3-1.6 .4-1.8 .4-1.7 .5-1.8 .4-1.7 .6-1.7 .5-1.5 .1,.1 .6,1.7 .5,1.9 .3,1.6 .3,1.7 .3,1.9 .3,2 .2,1.6 .3,1.9 .3,1.8 .3,1.6 .4,1.8 .5,1.6 .5,1.7 .5,1.9 .5,1.7 .6,1.7 .7,1.5 .5,.4 .5-.3 .1,.1 .5-.2 1.7-.3 .5,0 1.3,.2 1.7,.2 .1,0 1.7-.4 .1-.1 .2,.1 .7-.3 .7,.4 1.2,1 .2-.1 1.1-1.5 .9-1.5 .7-1.6 .6-1.7 .5-.9 .5,.7 .7,1.6 .7,1.7 .7,1.7 .8,1.5 .9,1.6 .9,1.6 1.2,1.2 .1,0 1.1-1.2 .7-1.7 .6-1.6 .6-1.8 .6-1.7 .6-1.7 .7-1.6 .6-1.8 .6-1.6 .5-1.7 .7-1.7 .8-.9 .4,.2 .3,.1 .5-.4 .6,.3 .9,1.7 .6,1.7 .6,1.7 .6,1.7 .6,1.7 .7,1.6 .7,1.7 .7,1.7 .7,1.5 .9,1.6 .7,.7 .6-.4 .8-1.7 .5-1.8 .4-1.7 .4-1.7 .5-1.7 .5-1.8 .7-1.6 .8-1.6 .9-1.5 .2-.1 .9,1.2 .7,1.6 .7,1.8 .5,1.6 .6,1.7 .7,1.7 .8,1.6 .8,1.5 1,1.5 1.3,1.3 .3,0 1.2-.8 .9-1.7 .6-1.6 .5-1.8 .5-1.8 .5-1.7 .2-2 1-.3" stroke="#cb4388" stroke-width="2.1"/>
<path d="M339,343.4l.4,1.9 .3,1.7 .4,1.9 .4,1.6 .4,1.9 .4,1.7 .4,1.8 .4,1.8 .3,1.6 .4,2 .4,1.7 .3,1.7 .4,1.7 .5,1.7 .7,.9 .1,0 .2,0 .2-.1 .8-1.6 .5-1.7 .4-1.9 .4-1.7 .5-1.8 .5-1.7 .5-1.7 .5-1.7 .5-1.7 .5-1.7 .6-1.7 .8-1.6 .6-.3 1,.6 1.3,1.2 1.2,1.3 1.5,.5 .2,0 .5,0 1.2,.4 1,1.5 .7,1.7 .5,1.7 .6,1.7 .5,1.8 .5,1.7 .5,1.8 .5,1.6 .5,1.8 .5,1.8 .5,1.6 .5,1.9 .4,1.6 .5,1.7 .5,1.8 .5,1.7 .5,1.7 .5,1.4 .2-.3 0-.1 .3,.5 .5-1.1 .3-1.6 .2-1.8 .3-2 .2-1.8 .2-1.8 .2-2 .1-1.5 .2-2 .2-1.5 .2-2 .1-1.5 .2-1.9 .2-1.9 .2-2 .2-1.5 .2-1.9 .1-1.6 .2-2 .2-1.5 .2-2 .2-2.1 .1-1.5 .2-2 .2-1.5 .2-1.9 .2-2 .1-1.6 .2-1.7 .1-1.7 .2-2.3 .2-1.8 .1-1.7 .2-1.8 .1-1.7 .2-1.7 .1-1.7 .2-2 .2-1.5 .2-1.7 .2-1.9 .4-1.7 .2-.3 .3,1.2 0-.1 .3-1.1 .3,.7 .4,1.9 .2,1.6 .3,1.8 .2,2 .2,1.7 .2,1.7 .2,1.9 .2,1.9 .2,1.9 .2,1.4 .2,2 .2,1.8 .2,1.9 .2,1.8 .2,1.7 .2,1.7 .2,1.7 .2,1.8 .2,1.7 .2,1.7 .2,2.2 .2,1.8 .2,1.4 .2,2.1 .1,1.6 .2,1.8 .1,1.8 .2,1.8 .1,1.8 .2,1.8 .1,1.7 .2,2.2 .2,1.5 .2,1.8 .2,1.6 .3,2 .3,1.6 .3,.7 .4-1 .6-1.6 .5-1.7 .6-1.8 .5-1.7 .5-1.6 .6-1.7 .6-1.8 .6-1.8 .5-1.5 .8-1.7 .6-.4 .9,.6 .8,1.6 .7,1.6 .9,1.6 1.1,1.4 1.3,1.3 .8,.5 .5-.6 .6-1.6 .6-1.9 .5-1.6 .7-1.8 .8-1.2 .2,.2 1.4,1.1 1.4,1.2 1.2,1.3 1.2,1.4 .9,.5 .4-.4 0,0 .6,.4 .7-.8 .7-1.6 .5-1.7 .6-1.7 .7-1.8 .5-1.6 .6-1.8 .5-1.7 .6-1.7 .8-1.5 1.1-1.4 .8-.3 .9,.3 1.3,1.3 1.2,1.3 1.3,1.3 1.4,1.1 1.4,1.1 1.5,1 1.5,1 1.3,1.2 1,1.6 .9,1.5 .9,1.5 1.1,1.5 1.2,1.3 1.5,.9 .2,0 .9-1.5 .7-1.5 .5-.6 1,.3 1.5,1 1.1,1.3 .9,1.6 .9,1.6 .4,1.8 .4,1.8 .3,1.7 .3,1.8 .4,1.8 .5,1.6 0,0 .7-1.7 .5-1.7 .4-1.8 .4-1.7 .3-1.8 .4-1.9 .3-1.7 .3-1.8 .3-1.8 .3-1.8 .3-1.7 .3-1.8 .3-1.8 .2-1.6 .3-1.9 .3-1.7 .3-1.9 .2-1.7 .3-1.9 .3-1.6 .3-1.9 .3-1.8 .3-1.7 .3-1.7 .3-1.7 .3-1.9 .4-1.7 .4-1.9 .4-1.7 .3-1.6 .2-.2 .3,1.4 .6,1.8 .5,1.7 .4,1.8 .5,1.8 .4,1.7 .4,1.8 .4,1.8 .4,1.8 .3,1.7 .4,1.8 .3,1.6 .3,1.8 .4,1.9 .3,1.7 .4,1.7 .4,1.9 .4,1.6 .5,1.8 .5,1.7 .6,1.6 .7,1.6 .8,1.7 .8,1.6 .9,1.6 .9,1.6 .7,1.6 .8,1.7 .9,1.5 1,.9 .3-.2 .9-1.6 .8-1.6 .7-1.6 .7-1.8 .7-1.6 .6-1.7 .7-1.7 .7-1.7 .6-1.6 .7-1.7 .7-1.7 .6-1.6 .7-1.7 .7-1.6 .8-1.6 1-1.6 .6-.3 1,.3 1.1,1.4 .9,1.6 .9,1.6 .8,1.5 .8,1.7 .9,1.6 .8,1.6 .8,1.5 .9,1.6 .9,1.5 1,1.5 1.3,1.2 .6,.1 1.1-.4 1.5-1.1 1.3-1.3 1.1-1.3 1-1.6 .9-1.6 .7-1.5 .8-1.8 .6-1.6 .7-1.7 .6-1.6 .6-1.8 .6-1.6 .7-1.8 .7-1.6 .7-1.6 .7-1.6 .9-1.6 1-.8 .4,.2 1,1.6 .6,1.7 .5,1.8 .5,1.7 .4,1.7 .5,1.8 .5,1.8 .4,1.6 .4,1.8 .4,1.7 .5,1.9 .4,1.7 .4,1.8 .5,1.7 .4,1.8 .4,1.6 .5,1.8 .5,1.6 .9,1.5 .1,0 1-1.4 .7-1.6 .6-1.7 .6-1.8 .6-1.6 .7-1.7 .8-1.7 .7-1.5 .8-1.6 .9-1.6 1.1-.9 .3,.1 1.5,.9 1.3,1.3 1,1.4 1,1.6 .9,1.5 .9,1.6 .8,1.6 .9,1.6 .9,1.5 .9,1.6 .7,1.6 1,1.6 .6,.4 .8-.6 .9-1.6 .6-1.7 .5-1.7 .5-1.9 .4-1.6 .4-1.7 .4-2 .4-1.7 .4-1.8 .4-1.7 .4-1.6 .5-1.7 .4-1.8 .5-1.9 .4-1.7 .4-1.8 .4-1.8 .4-1.7 .4-1.7 .4-1.6 .5-1.9 .5-1.7 .5-1.6 .3-.8 .4,1 .4,1.7 .4,1.6 .3,2 .3,1.8 .3,1.9 .3,1.6 .2,1.7 .3,1.9 .3,1.6 .3,2 .4,1.7 .4,1.7 .5,1.6 .5,1.9 .4,1.7 .5,1.7 .6,1.8 .6,1.5 .7,.6 .7-.5 1.1-1.4 1-1.5 1-1.5 1.1-1.3 1.5-1.1 .6-.1 .8,.2 .1,0 .2,.1 .7,1.7 .6,1.7 .6,1.7 .6,1.8 .5,1.6 .5,.7 .6-.6 1.1-1.5 .9-.5 .1,0 .5-.3 .8-.3 .8,.4 1.2,1.3 1.3,1.2 1.3,1.2 .6,.3 .9-.8 .7-1.6 .7-1.6 .6-1.8 .5-1.7 .6-1.7 .5-1.7 .6-1.8 .6-1.7 .5-1.7 .5-1.7 .6-1.8 .5-1.6 .7-1.7 .7-.8 .5,.4 .8,1.6 .6,1.7 .6,1.7 .5,1.7 .6,1.8 .6,1.6 .7,1.7 .6,1.7 .6,1.7 .6,1.7 .7,1.6 .9,1.6 .3,.3 .1,0 .4,0 .6-.5 .6-1.7 .5-1.8 .4-1.8 .5-1.7 .5-1.8 .6-1.6 .7-1.6 .8-1.7 .8-.8 .4,.3 .9,1.6 .7,1.6 .6,1.8 .6,1.6 .8,1.7 .9,1.5 .9,1.5 1.2,1.4 .9,.7 .5,0 .1,0 .6,.1 .9-.8 .8-1.6 .6-1.7 .5-1.7 .5-1.8 .2-1 .6,.3 .4,.3" stroke="#b32ea3" stroke-width="2.1"/>
<path d="M339,342.9l.4,1.9 .3,1.9 .4,1.7 .3,1.8 .4,1.7 .3,1.7 .4,1.9 .4,1.6 .3,1.7 .4,2 .3,1.5 .4,1.9 .3,1.8 .4,1.8 .4,1.7 .5,1.8 .4,1.2 .1-.3 .5-1.6 .5-1.8 .5-1.8 .4-1.7 .4-1.7 .5-1.9 .5-1.6 .5-1.7 .5-1.9 .5-1.6 .5-1.7 .6-1.8 .9-1 .3,.1 1-.3 .7,.2 1.4,1.2 1.5,1 1.8,.2 1.3,1.1 .8,1.6 .6,1.7 .6,1.7 .5,1.7 .5,1.8 .5,1.8 .4,1.6 .5,1.7 .6,1.9 .4,1.6 .5,1.8 .5,1.8 .5,1.7 .5,1.8 .5,1.7 .5,1.7 .5,1.6 .5,.8 .4-.7 .4-1.8 .3-1.9 .2-1.9 .2-1.7 .2-1.9 .2-1.9 .2-1.5 .2-2 .1-1.5 .2-2.1 .2-1.5 .2-2 .2-1.9 .1-1.5 .2-2 .2-1.5 .2-2 .2-2 .1-1.6 .2-2 .2-1.6 .1-1.5 .2-2.1 .2-1.5 .2-2 .2-2 .1-1.5 .2-2.1 .2-1.6 .1-1.8 .2-1.7 .1-1.8 .2-1.8 .1-1.8 .2-1.7 .1-1.8 .2-2.2 .2-1.6 .1-1.6 .2-1.9 .2-1.7 .3-1.8 .3-1.9 .2-1.5 .2-1 .1,.9 .4,1.9 .3,1.6 .3,2 .2,1.8 .3,1.9 .2,1.7 .2,1.8 .2,1.8 .2,1.9 .1,1.5 .2,1.9 .2,1.9 .2,1.9 .2,1.4 .2,1.9 .2,1.7 .2,1.8 .2,2.1 .2,1.8 .2,1.7 .2,1.8 .2,1.8 .2,1.7 .2,1.9 .2,1.4 .2,2.2 .1,1.7 .2,1.8 .1,1.8 .2,1.8 .1,1.8 .2,1.8 .1,1.7 .2,1.7 .2,2 .2,1.8 .2,1.6 .3,1.8 .4,1.3 .2-.1 0,0 .3,.3 .5-1.1 .7-1.8 .6-1.7 .6-1.7 .6-1.6 .6-1.7 .6-1.7 .6-1.7 .8-1.6 .4-.2 .7,.5 .5-.2 1.1,1.4 .7,1.7 .8,1.6 1.2,1.3 1.4,1.1 .6,.4 .5-1.1 .5-1.6 .6-1.7 .5-1.8 .6-1.6 1.1-1.1 .2,.1 1.3,1.3 1.1,1.3 1.1,1.5 1,1.5 1,1.4 .9,1 .4-.2 .8-1.6 .7-1.9 .5-1.6 .6-1.7 .6-1.7 .5-1.7 .6-1.8 .5-1.6 .6-1.8 .7-1.6 .8-1.6 1.1-1.4 1.5-.9 .2-.1 1.6,.2 1.7,.3 1.7,.6 1.6,.9 1.4,1.1 1.2,1.4 .9,1.6 .7,1.6 .8,1.6 .7,1.7 .8,1.6 .8,1.6 1,1.5 1,1.5 1.3,1.1 .1,0 .9-1.6 .8-1.5 .2-.1 1.4,.6 1.6,.9 1.1,1.4 .9,1.6 .7,1.6 .4,1.9 .3,1.6 .4,1.9 .3,1.7 .5,1.7 .2,.6 .5-1 .5-1.7 .5-1.9 .4-1.6 .4-2 .3-1.6 .3-1.9 .3-1.8 .3-1.7 .3-1.8 .3-1.7 .3-1.7 .3-1.8 .3-1.9 .3-1.9 .3-1.5 .3-2 .2-1.5 .3-1.9 .3-1.9 .3-1.8 .3-1.7 .3-1.7 .4-1.9 .3-1.5 .4-1.9 .4-1.8 .7-1.2 .2,0 .2,.2 .3-.1 .6,1.1 .6,1.7 .5,1.7 .4,1.8 .5,1.9 .4,1.7 .4,1.7 .4,1.8 .3,1.7 .4,1.7 .3,1.8 .4,1.8 .3,1.7 .4,1.9 .4,1.6 .4,1.9 .5,1.6 .6,1.8 .7,1.6 .9,1.6 1.1,1.3 1.2,1.4 .9,1.5 .9,1.5 1.3,1.3 .2,.1 1-.4 .5,.1 .3,.1 .8-1.2 .9-1.6 .8-1.6 .7-1.6 .7-1.6 .8-1.8 .7-1.6 .8-1.6 .7-1.7 .7-1.6 .8-1.6 .7-1.7 .8-1.6 .9-1.5 1-.6 .6,.1 1.2,1.3 .9,1.5 .9,1.6 .9,1.6 .9,1.5 .9,1.7 .8,1.6 .8,1.5 .9,1.7 .8,1.5 .9,1.6 1,1.5 1.3,1.2 1.6,.6 .1,0 1.6-.6 1.3-1.3 1-1.5 .8-1.6 .8-1.6 .6-1.7 .7-1.7 .6-1.7 .6-1.7 .5-1.6 .6-1.8 .6-1.7 .6-1.6 .6-1.7 .7-1.8 .6-1.7 .7-1.6 .9-1.5 .8-.7 .6,.5 .8,1.7 .5,1.6 .5,1.7 .5,1.8 .5,1.8 .5,1.6 .4,1.8 .5,1.8 .4,1.7 .4,1.9 .4,1.6 .5,1.8 .4,1.7 .5,1.8 .4,1.7 .4,1.8 .6,1.6 .5,.7 .5-.5 .2,.2 .2,.5 .8-.9 .7-1.6 .6-1.8 .6-1.6 .7-1.7 .7-1.6 .8-1.6 .8-1.7 .8-1.6 .8-1.6 1.3-1 .1,0 1.5,.8 1.3,1.3 1,1.5 .9,1.4 .9,1.7 .8,1.5 .9,1.7 .8,1.6 .8,1.6 .7,1.6 .7,1.8 .7,1.6 .9,1.5 .7,.5 .6-.5 .8-1.7 .6-1.7 .5-1.7 .5-1.7 .4-1.8 .4-1.7 .5-1.8 .4-1.7 .4-1.8 .5-1.6 .5-1.9 .4-1.6 .4-1.9 .4-1.8 .4-1.8 .4-1.5 .4-2 .4-1.6 .5-1.8 .5-1.7 .6-1.7 .3-.7 .4,.7 .1,0 .4-.8 .4,.7 .5,1.8 .3,1.9 .3,1.7 .3,1.6 .3,1.9 .3,1.9 .2,1.5 .4,2 .3,1.7 .5,1.7 .6,1.7 .5,1.8 .5,1.7 .5,1.7 .7,1.6 .9,.9 .1,0 .2,0 .1,0 1.7-.5 1.5-1.1 1.2-1.3 1.1-1.4 1-1.6 1-1.5 .3-.5 .6,.9 .6,1.7 .8,1.5 1.3,1.3 1.2,1.1 0,0 1.1-.3 .6,.3 1.4,1.2 1.1,1.4 1.4,1.1 .1,0 1.6-.6 1.4-1.1 1.2-1.4 .7-1.6 .7-1.7 .6-1.7 .6-1.7 .7-1.7 .7-1.6 .6-1.6 .7-1.8 .6-1.7 1-1.2 .1,0 1.4,1.1 .7,1.7 .6,1.6 .5,1.8 .5,1.7 .6,1.8 .5,1.6 .6,1.8 .6,1.6 .6,1.7 .7,1.8 .6,1.7 .7,1.6 .7,1.7 0,0 .6-1.7 .4-1.7 .5-1.7 .4-1.7 .4-1.9 .4-1.6 .5-1.9 .7-1.6 .6-1.6 .6-1.7 .9-1.5 .4-.3 .9,.9 .8,1.7 .6,1.7 .6,1.6 .7,1.8 .9,1.5 .9,1.6 .9,1.4 1.2,1.4 1.3,.5 .3-.1 1.1-1.5 .7-1.6 .5-1.7 .5-1.8 .5-2 .1-.2 1,.1" stroke="#9724ba" stroke-width="2.1"/>
<path d="M339,343.2l.4,1.9 .3,1.8 .4,1.7 .3,1.8 .4,1.6 .4,1.9 .4,1.9 .3,1.6 .4,1.8 .4,1.7 .3,1.8 .4,1.8 .3,1.7 .4,1.7 .5,1.8 .7,1.5 0-.1 .7-1.7 .5-1.7 .5-1.8 .4-1.7 .4-1.7 .4-1.8 .6-1.7 .5-1.7 .5-1.8 .5-1.8 .5-1.7 .5-1.6 .9-1.6 .6-.2 1.1,.5 1.2,1.3 1.2,1.3 1.5,.9 1.6,.8 1.1,1.4 .8,1.7 .6,1.8 .5,1.6 .5,1.7 .5,1.8 .5,1.8 .4,1.6 .6,1.9 .5,1.7 .5,1.7 .4,1.6 .5,1.8 .5,1.8 .5,1.7 .5,1.7 .6,1.7 .6,1.5 .1,0 .6-1.7 .4-2.1 .2-1.8 .2-1.6 .2-1.8 .2-1.8 .2-2 .2-1.5 .2-2 .1-1.6 .2-2 .2-1.5 .2-2 .2-1.9 .1-1.5 .2-2 .2-2 .2-1.5 .2-2.1 .1-1.5 .2-2.1 .2-1.5 .2-2 .1-1.6 .2-2 .2-1.5 .2-1.9 .1-1.6 .2-2.1 .2-1.7 .1-1.8 .2-1.7 .1-1.8 .2-1.8 .1-1.8 .2-1.7 .1-1.7 .2-2.2 .2-1.5 .2-2 .2-1.7 .2-1.5 .3-1.9 .3-1.6 .2-.6 .3,1.3 .4,1.8 .3,1.7 .2,1.7 .3,1.9 .2,2.1 .2,1.7 .2,1.9 .2,1.8 .2,1.5 .2,1.9 .2,1.9 .1,1.5 .2,1.9 .2,1.8 .2,1.8 .2,1.8 .2,1.7 .2,1.7 .2,1.8 .3,2.2 .2,1.7 .2,1.8 .2,1.8 .1,1.4 .2,2.1 .2,1.6 .1,1.8 .2,1.8 .1,1.8 .2,1.8 .1,1.8 .2,1.8 .1,1.7 .2,2.1 .2,1.8 .2,1.7 .3,1.7 .3,1.7 .5,.8 .4-.7 .6-1.6 .6-1.8 .5-1.7 .6-1.6 .6-1.7 .6-1.7 .5-1.7 .6-1.8 .7-1.6 .9-.9 .2,0 .2,0 1.2,1.3 .8,1.7 .8,1.5 1.3,1.3 1.3,1.2 .8,.4 .6-.7 .6-1.6 .6-1.8 .6-1.6 .7-1.7 .5-.3 .9,.7 1.1,1.4 1.1,1.5 1,1.4 1,1.5 1,1.5 .7,.7 .6-.6 .7-1.7 .6-1.7 .6-1.7 .5-1.6 .6-1.8 .6-1.8 .5-1.7 .5-1.6 .5-1.7 .7-1.7 .8-1.6 1.1-1.4 1.5-.9 0,0 1.7,.5 1.6,.8 1.6,.9 1.4,1.1 1.4,1.1 1.3,1.3 1,1.4 .9,1.6 .8,1.6 .8,1.7 .8,1.5 .9,1.6 1.1,1.5 1.2,1.2 1,.4 .5-.7 .7-1.5 .9-1.6 .1,0 .1,0 .5-.1 1,.3 1.4,1.1 1,1.6 .9,1.5 .6,1.8 .3,1.7 .4,1.9 .3,1.6 .4,1.9 .5,1.6 .2,.3 .8-1.2 .5-1.8 .4-1.6 .4-1.9 .4-1.8 .3-1.6 .3-2 .3-1.7 .3-1.8 .3-1.7 .3-1.7 .3-1.8 .3-1.8 .3-1.8 .3-1.9 .3-1.6 .3-1.9 .2-1.6 .3-1.9 .3-1.8 .3-1.8 .3-1.6 .4-1.9 .3-1.6 .4-2 .4-1.7 .5-1.6 .4-.3 .3,0 .2,0 .4,.6 .7,1.8 .5,1.6 .5,1.7 .4,1.9 .4,1.7 .4,1.7 .4,1.7 .4,1.9 .4,1.7 .3,1.8 .4,1.7 .3,1.8 .4,1.7 .4,1.8 .4,1.8 .4,1.6 .6,1.7 .7,1.8 .8,1.5 .9,1.5 1.1,1.5 1,1.5 .8,1.6 .9,1.6 1,1.4 1,.3 .1,0 .3,0 .3,0 1.1-1.4 .9-1.6 .7-1.6 .7-1.6 .7-1.7 .7-1.7 .8-1.7 .7-1.7 .7-1.7 .6-1.5 .7-1.7 .7-1.7 .7-1.7 .8-1.6 .9-1.5 1-.7 .5,.1 1.1,1.4 1,1.6 .9,1.5 .8,1.6 .9,1.6 .8,1.6 .8,1.6 .8,1.6 .8,1.6 .8,1.6 .8,1.6 1,1.5 1.2,1.3 1.6,.8 .2,0 1.5-.5 1.3-1.3 1-1.5 .8-1.5 .8-1.7 .7-1.7 .6-1.7 .6-1.7 .6-1.7 .6-1.6 .6-1.8 .6-1.7 .6-1.7 .6-1.7 .6-1.6 .6-1.7 .7-1.7 .9-1.6 .9-1 .3,.2 .9,1.5 .6,1.7 .6,1.9 .4,1.6 .5,1.9 .5,1.6 .4,1.8 .5,1.8 .4,1.7 .4,1.7 .4,1.7 .4,1.9 .5,1.8 .4,1.7 .4,1.7 .4,1.7 .5,1.7 .5,1.7 1,1.3 .3,.1 .8-1.3 .7-1.6 .6-1.7 .6-1.8 .6-1.6 .7-1.8 .7-1.6 .7-1.6 .8-1.7 .7-1.6 .9-1.6 1.1-.8 .4,.1 1.4,1.1 1.2,1.4 .9,1.5 .9,1.6 .8,1.5 .8,1.6 .8,1.7 .8,1.6 .8,1.7 .7,1.6 .7,1.7 .7,1.6 .8,1.6 .7,.5 .7-.6 .8-1.7 .5-1.6 .6-1.9 .4-1.7 .4-1.6 .5-1.9 .4-1.7 .4-1.7 .4-1.9 .4-1.5 .5-1.9 .5-1.8 .4-1.7 .4-1.8 .4-1.8 .3-1.6 .4-1.8 .4-1.7 .5-1.9 .4-1.7 .5-1.7 .6-1.6 .3-.4 .2,.1 .3-.1 .4,.7 .5,1.7 .3,1.7 .4,2.1 .2,1.5 .3,2 .3,1.6 .3,1.9 .3,1.8 .3,1.7 .4,1.8 .5,1.7 .5,1.7 .5,1.8 .4,1.5 .6,1.8 .7,1.7 .6,.4 .8-.6 1.3-1.2 1.3-1.2 1.7-.7 .2-.1 1.5,.4 1.5,.9 1.2,1.5 .8,1.5 .7,1.6 .6,.8 .5-.7 .7-1.6 .7-1.7 .7-1.6 .9-1.5 .2-.1 1.2,1 1.2,1.4 1.3,1.1 1.2,1.4 1.4,.9 .1,0 1.2-1.3 .7-1.6 .6-1.7 .6-1.8 .6-1.6 .6-1.7 .6-1.7 .6-1.7 .6-1.6 .6-1.8 .7-1.6 .9-.9 .4,.1 1.1,1.5 .6,1.6 .6,1.8 .5,1.6 .6,1.8 .5,1.7 .6,1.6 .7,1.7 .6,1.7 .7,1.8 .6,1.5 .8,1.7 .8,1.2 .2-.2 .7-1.6 .5-1.7 .5-1.8 .4-1.8 .5-1.8 .4-1.6 .6-1.7 .7-1.7 .8-1.7 1-1.2 0,0 1.1,1.4 .7,1.7 .6,1.6 .6,1.8 .6,1.6 .8,1.6 .8,1.6 .9,1.6 1.1,1.5 1.3,1 1.3-1.2 .7-1.6 .6-1.7 .6-1.9 .4-1.6 .5-1.6 1-.1" stroke="#821cc4" stroke-width="2.1"/>
<path d="M339,343.1l.4,1.8 .3,1.8 .4,1.7 .4,1.9 .3,1.6 .4,1.9 .4,1.8 .4,1.6 .4,1.8 .3,1.8 .4,1.7 .3,1.8 .4,1.8 .5,1.8 .7,1.5 .3,.2 .8-1.1 .5-1.7 .5-1.8 .4-1.9 .4-1.6 .5-1.7 .6-1.8 .5-1.6 .5-1.7 .5-1.9 .6-1.7 .7-1.5 .5-.3 1.2,.4 1.3,1.3 1.1,1.4 1.2,1.3 1.7,.5 1.5,.9 .9,1.6 .7,1.7 .5,1.8 .5,1.6 .5,1.8 .5,1.7 .5,1.7 .6,1.7 .5,1.7 .5,1.7 .5,1.8 .5,1.8 .5,1.7 .5,1.7 .5,1.8 .6,1.7 .3,.5 .2-.1 .1,.1 .4-.6 .4-1.9 .2-1.7 .3-1.9 .2-1.7 .2-1.8 .2-2 .1-1.5 .2-2 .2-1.5 .2-2 .1-1.6 .2-1.9 .2-2 .2-1.9 .2-1.5 .2-2 .1-1.5 .2-2 .2-1.6 .2-2 .1-1.5 .2-2.1 .2-1.5 .2-2 .2-2 .1-1.5 .2-2 .2-1.6 .1-1.7 .2-2.3 .2-1.7 .1-1.8 .2-1.8 .1-1.7 .2-1.8 .1-1.7 .2-1.6 .2-2.1 .1-1.4 .2-1.8 .3-1.9 .3-1.7 .5-1.3 .1,.2 .5,1.7 .4,1.9 .2,1.7 .3,1.9 .2,2 .2,1.7 .2,1.8 .2,1.9 .2,1.4 .2,1.9 .2,2 .2,1.9 .1,1.4 .2,1.9 .2,1.8 .2,1.7 .2,1.7 .3,2.2 .2,1.7 .2,1.7 .2,1.8 .2,1.8 .2,1.7 .2,1.9 .1,1.6 .2,2.2 .2,1.8 .1,1.8 .2,1.8 .1,1.8 .2,1.8 .1,1.7 .2,1.7 .1,1.5 .2,1.9 .3,2 .2,1.5 .5,1.6 .1,.1 .2-.2 .2,.2 .4-1.1 .6-1.8 .6-1.7 .5-1.7 .6-1.7 .6-1.7 .6-1.7 .5-1.7 .6-1.8 .7-1.5 .8-1 .5,.3 .9,1.6 .7,1.6 .8,1.6 .9,1.5 1.1,1.4 1.2,1.3 .4,.4 .7-1.2 .6-1.6 .5-1.7 .6-1.7 .9-1.2 .2,0 .1,0 .3-.1 1,.9 1.2,1.4 1.2,1.3 1.1,1.4 1.1,1.5 .8,.6 .6-.5 .8-1.6 .6-1.8 .5-1.7 .6-1.7 .6-1.7 .5-1.7 .5-1.7 .5-1.7 .6-1.8 .7-1.7 .8-1.5 1.1-1.3 1.1-.5 .6,.2 1.5,.9 1.5,1 1.5,1.1 1.5,1 1.5,1 1.4,1 1.2,1.4 1,1.5 .9,1.7 .9,1.5 .9,1.5 1.2,1.3 1.5,1 1,.3 .5-.5 .8-1.7 .9-1.3 .1,0 1.5,.8 1.2,1.4 .9,1.6 .7,1.6 .7,1.6 .4,1.8 .4,1.9 .3,1.7 .3,1.8 .4,1.8 .5,1.5 .1,0 .7-1.6 .5-1.7 .4-1.9 .4-1.7 .3-1.8 .4-1.9 .3-1.7 .3-1.7 .3-1.8 .3-1.7 .3-1.8 .3-1.7 .3-1.9 .3-1.9 .2-1.5 .3-2 .3-1.9 .3-1.6 .3-1.9 .2-1.5 .3-1.8 .4-2 .3-1.7 .3-1.7 .3-1.8 .4-1.8 .5-1.7 .8-1.4 .1,0 .9,1.5 .6,1.6 .5,1.8 .4,1.8 .4,1.6 .5,2 .4,1.7 .3,1.6 .4,1.9 .4,1.8 .3,1.7 .4,1.8 .3,1.8 .4,1.7 .3,1.6 .5,1.9 .4,1.7 .6,1.7 .6,1.7 .7,1.6 .9,1.6 .9,1.5 1,1.5 .9,1.6 .8,1.6 .9,1.6 1.2,1.1 .1,0 1.3-1 .8-1.6 .8-1.7 .7-1.7 .6-1.6 .7-1.7 .6-1.7 .7-1.6 .7-1.8 .6-1.6 .7-1.7 .6-1.6 .7-1.8 .7-1.6 .7-1.6 .7-1.6 1-1.6 .6-.2 .8,.8 .9,1.5 .8,1.6 .8,1.6 .8,1.6 .8,1.7 .8,1.6 .8,1.6 .7,1.6 .8,1.7 .8,1.5 .8,1.7 .9,1.6 1,1.4 1.6,.9 .3,0 1.4-.5 1.3-1.2 1.1-1.5 .9-1.5 .8-1.6 .8-1.7 .6-1.6 .7-1.7 .6-1.7 .6-1.7 .6-1.7 .6-1.7 .6-1.7 .7-1.7 .6-1.7 .7-1.6 .7-1.6 1-1.5 .8-.5 .7,.3 .9,1.6 .6,1.8 .5,1.7 .5,1.8 .4,1.7 .5,1.7 .4,1.7 .5,1.9 .4,1.6 .4,1.9 .4,1.7 .5,1.8 .4,1.7 .5,1.7 .4,1.6 .4,1.8 .5,1.8 .9,1.5 0,0 .4-.1 .2,0 .7-1 .6-1.6 .6-1.8 .6-1.6 .6-1.8 .6-1.6 .7-1.7 .7-1.7 .7-1.6 .8-1.6 .8-1.6 1-1.4 .4-.2 1.1,.9 1.1,1.3 1,1.6 .9,1.6 .8,1.5 .8,1.6 .8,1.7 .8,1.6 .8,1.6 .8,1.6 .7,1.7 .7,1.7 .7,1.5 1,1.6 .4,.1 .9-1 .7-1.6 .6-1.7 .5-1.8 .4-1.7 .5-1.9 .4-1.7 .4-1.7 .4-1.7 .4-1.7 .4-1.8 .5-1.7 .4-1.8 .5-1.9 .4-1.7 .4-1.8 .3-1.5 .4-1.8 .5-1.9 .4-1.6 .4-1.7 .6-1.8 .6-1.6 .2-.1 .3,.1 .1-.1 .6,1.1 .4,1.6 .4,1.9 .3,1.7 .3,1.9 .2,1.7 .3,1.9 .3,1.6 .3,1.9 .3,1.7 .3,1.7 .5,1.8 .5,1.6 .5,1.8 .5,1.7 .6,1.8 .6,1.6 .8,.8 .6-.3 1.4-1.1 1.5-.9 1.8-.3 1.8-.1 .9-.3 .3,.1 .4,0 .1,0 1.3,1.2 .9,.7 .5-.3 1.1-1.5 .8-1.6 .7-1.6 .7-1.2 .3,.2 .8,1.6 .8,1.7 .7,1.6 .9,1.6 .9,1.5 1,1.4 .8,.5 .7-.4 .9-1.6 .6-1.7 .6-1.8 .6-1.7 .5-1.7 .6-1.7 .5-1.6 .7-1.8 .5-1.6 .6-1.8 .5-1.6 .7-1.7 1-1.4 .1,0 1,1.3 .7,1.7 .6,1.8 .6,1.7 .5,1.6 .5,1.7 .6,1.7 .7,1.7 .6,1.7 .6,1.7 .6,1.7 .7,1.7 .8,1.5 .5,.7 .5-.9 .6-1.7 .5-1.8 .5-1.7 .4-1.6 .5-1.8 .6-1.7 .7-1.6 .8-1.6 1.3-.8 .2,.1 1.1,1.4 .7,1.7 .6,1.7 .6,1.6 .7,1.7 .9,1.6 .9,1.5 1.2,1.4 1.1,.7 .4-.1 1.3-1.3 .7-1.5 .6-1.8 .5-1.8 .5-1.6 .4-2.2 1,0" stroke="#6817c7" stroke-width="2.1"/>
<path d="M339,343.6l.4,1.9 .3,1.8 .4,1.7 .3,1.7 .4,1.8 .4,1.9 .4,1.5 .4,1.8 .4,1.8 .3,1.7 .4,1.8 .4,1.9 .3,1.6 .5,1.8 .6,1.6 .3,.4 .7-1 .5-1.7 .5-1.7 .4-1.9 .4-1.8 .4-1.6 .5-1.8 .6-1.7 .5-1.8 .5-1.8 .4-1.5 .6-1.8 .7-1.6 .7-.8 .7,.3 1.2,1.3 1.1,1.4 1.1,1.4 1.6,.9 1.5,.9 1,1.6 .7,1.6 .6,1.7 .5,1.8 .5,1.8 .5,1.5 .5,1.8 .5,1.8 .6,1.8 .5,1.7 .5,1.7 .5,1.8 .4,1.6 .5,1.7 .6,1.8 .5,1.7 .6,1.4 .1-.1 .2-.2 .2,.3 .5-1.3 .3-1.6 .2-1.8 .3-2 .2-1.8 .2-1.9 .1-1.5 .2-2 .2-1.5 .2-2 .1-1.6 .2-2 .2-1.9 .2-1.5 .2-1.9 .2-2 .1-1.5 .2-2 .2-1.5 .2-2.1 .1-1.5 .2-2.1 .2-1.5 .2-2 .1-1.5 .2-2 .2-2 .2-1.5 .2-2.2 .1-1.7 .2-1.7 .1-1.8 .2-1.8 .1-1.7 .2-1.8 .1-1.7 .2-1.7 .2-2.1 .1-1.5 .2-1.9 .2-1.6 .3-1.8 .4-1.8 .3-.6 .4,1 .4,1.8 .3,1.8 .2,1.8 .3,1.9 .2,1.7 .2,1.8 .2,1.8 .2,1.9 .2,1.9 .1,1.5 .2,1.9 .2,1.9 .2,1.9 .2,1.4 .2,1.8 .2,2.2 .2,1.7 .2,1.7 .2,1.8 .2,1.7 .2,1.8 .2,1.8 .2,1.8 .2,1.9 .2,1.6 .2,2.2 .1,1.8 .2,1.8 .1,1.8 .1,1.3 .2,1.7 .2,2.4 .1,1.6 .2,1.5 .2,1.8 .2,2 .3,1.7 .3,1.7 .4,1 .1-.5 .6-1.8 .6-1.7 .5-1.6 .5-1.8 .6-1.7 .6-1.7 .5-1.7 .6-1.8 .5-1.7 .7-1.7 1.1-1.1 0,0 1.2,1.2 .8,1.7 .8,1.6 1.2,1.3 1.2,1.3 1.1,.9 .3-.2 .8-1.6 .6-1.7 .6-1.8 .8-1.6 .5-.2 .9,.7 1.1,1.3 1.1,1.5 1.1,1.4 1.1,1.5 1.2,1.3 .2,0 1-1.1 .7-1.8 .5-1.7 .6-1.7 .5-1.7 .6-1.6 .5-1.9 .5-1.7 .5-1.7 .6-1.7 .6-1.6 .8-1.6 1-1.5 1.1-.7 .4,.1 1.5,1.1 1.4,1.1 1.3,1.2 1.3,1.3 1.2,1.3 1.3,1.3 1.2,1.3 1.2,1.4 .9,1.5 .8,1.6 .9,1.6 .9,1.5 1,1.5 1.4,1.2 1,.2 .6-.5 .7-1.7 .7-1.6 1.1-.5 .5,0 1.4,1.1 1.1,1.5 .8,1.6 .7,1.6 .5,1.9 .3,1.9 .3,1.6 .4,1.9 .3,1.5 .6,1.6 .1-.1 .8-1.7 .5-1.7 .4-1.7 .4-1.7 .3-1.8 .4-2 .3-1.7 .3-1.7 .3-1.8 .3-1.7 .3-1.7 .3-1.8 .3-1.8 .3-1.9 .3-1.9 .2-1.6 .3-1.9 .3-1.6 .3-1.9 .3-1.8 .3-1.8 .3-1.7 .3-1.6 .3-1.9 .4-1.8 .4-1.7 .5-1.7 .7-.9 .4,.4 .7,1.6 .6,1.8 .5,1.8 .4,1.8 .4,1.7 .4,1.7 .4,1.7 .4,1.8 .4,1.8 .3,1.7 .4,1.8 .3,1.7 .4,2 .4,1.6 .4,1.7 .4,1.7 .6,1.8 .7,1.6 .7,1.6 .9,1.6 1,1.6 .9,1.5 .8,1.6 .7,1.7 .8,1.6 1,1.5 1.1,.7 .4-.2 1-1.5 .8-1.5 .8-1.7 .7-1.6 .7-1.7 .6-1.7 .7-1.7 .7-1.6 .7-1.8 .6-1.6 .7-1.7 .6-1.6 .7-1.7 .7-1.7 .7-1.6 1-1.5 .8-.5 .7,.4 1,1.5 .9,1.6 .8,1.6 .8,1.6 .8,1.6 .8,1.6 .8,1.6 .8,1.7 .7,1.6 .8,1.6 .8,1.6 .8,1.6 1.1,1.5 1.4,.9 .4,.1 1.3-.5 1.3-1.3 1-1.6 .9-1.5 .8-1.7 .7-1.6 .6-1.6 .7-1.8 .6-1.7 .5-1.6 .6-1.8 .6-1.7 .6-1.7 .6-1.7 .6-1.6 .6-1.8 .7-1.6 .7-1.6 .8-1.6 .8-.9 .5,.5 .7,1.6 .6,1.8 .5,1.7 .5,1.6 .4,1.8 .5,1.7 .4,1.7 .5,1.9 .4,1.7 .4,1.7 .4,1.9 .4,1.7 .4,1.7 .5,1.8 .4,1.8 .4,1.6 .5,1.9 .4,1.7 .6,1.6 .7,1 .4-.4 .8-1.7 .6-1.6 .6-1.8 .6-1.7 .6-1.7 .6-1.5 .7-1.7 .7-1.7 .7-1.6 .8-1.7 .8-1.6 1.2-1.1 .1,0 1.4,1 1.2,1.4 .9,1.5 .9,1.6 .8,1.6 .8,1.7 .7,1.6 .8,1.6 .7,1.7 .8,1.6 .7,1.7 .7,1.6 .7,1.6 .9,1.6 .3,.3 .8-1.1 .7-1.7 .5-1.7 .5-1.8 .5-1.7 .4-1.7 .4-1.9 .4-1.7 .4-1.8 .4-1.7 .4-1.7 .5-1.8 .4-1.8 .4-1.6 .4-1.8 .4-1.8 .4-1.8 .4-1.6 .4-1.8 .4-1.8 .4-1.8 .4-1.6 .5-1.7 .6-1.8 .4-.9 .4,.6 .5,1.6 .4,1.9 .3,1.9 .3,1.8 .3,1.6 .3,2 .2,1.6 .3,1.9 .3,1.7 .3,1.6 .5,1.8 .5,1.7 .5,1.8 .4,1.7 .5,1.7 .5,1.7 .6,1.8 .8,1.6 1.5,.6 0,0 1.7-.7 1.3-1.2 1-1.5 .9-1.6 .8-1.5 .9-1.7 .3-.3 .7,1.1 .8,1.6 1.1,1.4 1.4,1.1 .3,.1 1.3-.4 .1,0 1.4,1.1 1.2,1.4 1,1.4 1.6,.7 .5,0 1.2-.3 1.3-1.3 .8-1.7 .7-1.6 .6-1.7 .6-1.7 .6-1.6 .7-1.7 .7-1.7 .6-1.8 .5-1.6 .7-1.7 1-1 .1,0 .2,0 .4-.1 .9,1 .7,1.7 .6,1.7 .6,1.6 .5,1.7 .7,1.8 .6,1.6 .7,1.6 .6,1.7 .7,1.7 .8,1.6 1,1.2 .2,0 1-1.5 .5-1.6 .5-1.7 .4-1.8 .5-1.8 .5-1.6 .7-1.7 .7-1.7 .9-1.5 .4-.3 .9,.9 .7,1.7 .6,1.6 .6,1.7 .6,1.7 .7,1.7 .8,1.6 .9,1.6 1,1.5 1.2,1.3 .4,.1 1.1-.8 .9-1.6 .6-1.7 .5-1.6 .5-1.8 .5-1.7 .7-1.3 .5,0" stroke="#5513c4" stroke-width="2.1"/>
<path d="M339,342.8l.4,1.9 .3,1.8 .4,1.7 .3,1.7 .4,1.9 .4,1.8 .4,1.6 .4,1.9 .3,1.6 .4,1.8 .3,1.8 .4,1.7 .4,1.9 .4,1.6 .6,1.7 .5,.5 .7-.9 .5-1.6 .5-1.8 .4-1.8 .4-1.7 .5-1.8 .5-1.7 .5-1.6 .5-1.8 .5-1.8 .5-1.6 .6-1.7 1-1.5 .3,0 1.3,.7 1.2,1.3 1.2,1.4 1.4,1 1.6,.8 1.1,1.4 .8,1.7 .6,1.7 .5,1.7 .5,1.7 .5,1.8 .4,1.7 .5,1.7 .5,1.8 .5,1.7 .5,1.7 .5,1.8 .5,1.7 .5,1.8 .5,1.8 .5,1.7 .5,1.6 .5,1.8 .3,.8 .2-.9 .4-1.7 .3-1.8 .3-1.8 .2-2 .2-1.8 .2-1.9 .2-1.5 .2-2 .1-1.5 .2-2.1 .2-1.5 .2-2 .2-2 .1-1.4 .2-2 .2-1.9 .2-1.6 .2-2 .1-1.5 .2-2.1 .2-1.5 .2-2.1 .1-1.5 .2-2 .2-1.6 .2-2 .2-1.9 .1-1.6 .2-1.6 .2-2.2 .1-1.8 .2-1.7 .1-1.8 .2-1.8 .1-1.8 .2-1.7 .1-1.7 .2-1.7 .2-2.1 .1-1.4 .2-1.8 .3-1.9 .3-1.7 .5-1.6 .6,1.8 .3,1.9 .3,1.6 .2,1.8 .3,2.1 .2,1.7 .2,1.8 .2,1.8 .2,1.9 .1,1.4 .2,2 .2,1.9 .2,1.4 .2,1.9 .2,1.8 .2,1.7 .2,2.2 .2,1.7 .2,1.7 .2,1.8 .2,1.7 .2,1.8 .2,1.8 .2,1.8 .2,2.1 .2,1.7 .1,1.7 .2,1.8 .1,1.8 .2,1.8 .1,1.8 .2,1.8 .1,1.7 .2,1.5 .2,1.9 .2,1.7 .2,1.8 .4,1.8 .2,.3 .2-.2 .3,.2 .3-.6 .6-1.8 .6-1.6 .5-1.8 .6-1.6 .6-1.7 .6-1.7 .6-1.8 .5-1.7 .7-1.6 1-1.2 .1,0 1.1,1.4 .8,1.7 .8,1.6 1.2,1.3 1.2,1.3 1.2,.7 .4-.2 .8-1.6 .6-1.8 .5-1.6 .7-1.7 .6-.7 .6,.6 1.1,1.4 1.1,1.4 1,1.5 1,1.5 .9,1.5 1.1,1.3 .1,0 1-1.5 .6-1.8 .6-1.6 .6-1.8 .6-1.6 .5-1.7 .5-1.7 .6-1.8 .5-1.6 .8-1.7 .9-1.5 1.3-1.2 1.4-.4 .4,.1 1.7,.6 1.6,.7 1.6,.8 1.6,.9 1.5,1 1.3,1.3 .9,1.5 .9,1.6 .8,1.6 .9,1.5 1,1.6 1.1,1.3 1.5,1 .5,.1 .8-1 .7-1.6 1.2-1.3 0,0 1.6,.7 1.2,1.4 .9,1.6 .8,1.6 .5,1.7 .3,1.7 .4,1.9 .3,1.6 .4,1.9 .6,1.4 .1-.1 .1,0 0,0 .9-1.5 .5-1.7 .4-1.7 .4-1.9 .3-1.6 .4-2 .3-1.7 .3-1.7 .3-1.8 .3-1.7 .3-2 .3-1.8 .3-1.5 .3-1.9 .3-1.9 .2-1.6 .3-1.9 .3-1.9 .3-1.5 .3-1.8 .3-1.7 .3-1.9 .3-1.7 .4-1.8 .4-1.8 .4-1.7 .8-1.2 .2,0 .9,1.5 .6,1.7 .5,1.8 .4,1.8 .4,1.7 .4,1.7 .4,1.7 .4,1.8 .4,2 .4,1.7 .3,1.8 .3,1.5 .4,1.8 .4,2 .3,1.6 .4,1.8 .5,1.7 .5,1.7 .6,1.7 .7,1.6 .9,1.6 1,1.5 1,1.4 1,1.6 .8,1.6 1,1.5 1.1,.8 .3,0 1.2-1.4 .8-1.6 .8-1.6 .7-1.6 .7-1.8 .6-1.6 .7-1.7 .7-1.7 .7-1.6 .7-1.7 .6-1.6 .7-1.8 .7-1.5 .7-1.7 .7-1.7 .9-1.5 1.1-.9 .3,.1 1.1,1.5 1,1.5 .9,1.5 .9,1.7 .8,1.5 .9,1.6 .8,1.7 .8,1.6 .8,1.5 .9,1.7 .8,1.5 1.1,1.4 1.4,1.1 1.6,.4 .2,0 1.6-.7 1.3-1.3 1-1.5 .9-1.6 .7-1.6 .7-1.6 .6-1.7 .6-1.7 .6-1.7 .6-1.7 .7-1.8 .6-1.6 .6-1.7 .7-1.7 .7-1.6 .8-1.6 1.1-1.4 .6-.1 .9,.8 .7,1.7 .5,1.7 .5,1.8 .5,1.6 .4,1.7 .5,1.9 .4,1.6 .5,1.9 .4,1.6 .4,1.9 .4,1.7 .5,1.8 .4,1.7 .4,1.6 .5,1.9 .4,1.8 .5,1.6 .9,1.4 .1,.1 1-1.4 .7-1.6 .6-1.8 .5-1.6 .7-1.8 .6-1.6 .7-1.6 .8-1.8 .7-1.6 .7-1.6 .8-1.6 1.2-1.3 .3,0 1.4,.7 1.2,1.3 1,1.5 1,1.6 .8,1.5 .8,1.6 .9,1.6 .8,1.6 .8,1.7 .7,1.5 .7,1.8 .7,1.6 1.3,1.2 .5,0 .9-.9 .7-1.6 .5-1.8 .5-1.8 .5-1.7 .4-1.7 .4-1.8 .4-1.7 .4-1.7 .5-1.8 .5-1.8 .4-1.7 .4-1.7 .4-1.7 .4-1.8 .4-1.7 .4-1.8 .5-1.9 .4-1.6 .4-1.7 .6-1.8 .6-1.7 .1,0 .3,.1 .3-.1 .5,.9 .5,1.8 .3,1.6 .3,1.7 .3,1.9 .3,2 .2,1.6 .3,1.9 .3,1.8 .3,1.6 .4,1.7 .5,1.7 .5,1.8 .5,1.8 .4,1.7 .5,1.7 .6,1.8 .6,1.6 .6,.9 .6-.2 1.5-1 1.2-1.4 1-1.5 1-1.5 .9-1.5 1.2-1.4 .6-.4 .5,.9 .7,1.7 .7,1.6 .7,1.7 .8,1.5 .4,.3 1.1-.7 .9-.4 .7,.2 0,0 1-.4 .7,.2 1.6,.8 0,0 1.7-.6 1.7-.7 1.3-1.1 .8-1.7 .7-1.7 .6-1.6 .6-1.7 .6-1.8 .7-1.5 .6-1.8 .6-1.7 .6-1.6 .7-1.7 .8-.8 .4,.4 .8,1.6 .7,1.8 .5,1.6 .6,1.8 .5,1.8 .6,1.7 .6,1.7 .6,1.6 .6,1.7 .6,1.6 .6,1.7 .8,1.7 .8,1.6 .3,.2 .7-1.2 .5-1.7 .5-1.9 .4-1.6 .5-1.8 .4-1.6 .7-1.8 .7-1.6 .7-1.7 1.1-1 .2,.1 1.1,1.4 .7,1.7 .6,1.7 .6,1.7 .6,1.6 .8,1.7 .8,1.5 .9,1.6 1,1.5 1.2,1.1 .1,0 1.2-1.5 .7-1.6 .6-1.8 .5-1.6 .5-1.8 .4-1.6 0,.1 .5,.3 .6,0" stroke="#420ebe" stroke-width="2.1"/>
<path d="M339,343.2l.4,1.8 .3,1.8 .4,1.8 .4,1.9 .3,1.6 .4,1.8 .4,1.8 .4,1.6 .4,1.9 .3,1.7 .4,1.7 .3,1.7 .4,1.9 .5,1.6 .8,1.5 .1-.1 1-1.4 .5-1.7 .5-1.8 .4-1.8 .4-1.7 .4-1.8 .5-1.6 .6-1.8 .5-1.8 .4-1.6 .5-1.7 .6-1.8 .7-1.6 .4-.4 1,.7 1.1,1.4 1,1.5 1.1,1.4 1.5,1.1 1.3,1.1 1,1.5 .7,1.7 .6,1.8 .5,1.6 .5,1.8 .5,1.8 .5,1.8 .5,1.6 .5,1.7 .5,1.8 .5,1.8 .5,1.6 .5,1.7 .5,1.8 .5,1.8 .5,1.6 .5,1.7 .6,1.8 0,.1 .5-1.5 .4-1.8 .3-1.9 .2-1.6 .2-2.1 .2-1.8 .2-1.5 .2-1.9 .2-2.1 .1-1.5 .2-2.1 .2-1.5 .2-2 .1-1.4 .2-2 .2-1.9 .2-1.5 .2-2 .1-1.6 .2-2 .2-1.6 .2-2 .1-1.6 .2-2 .2-1.5 .2-2 .2-2 .1-1.5 .2-2.1 .2-1.6 .1-1.7 .2-1.8 .1-1.8 .2-1.8 .1-1.7 .2-1.8 .1-1.7 .2-2.2 .2-1.6 .2-2 .1-1.4 .3-2 .2-1.7 .4-1.6 .3-.4 .5,1.2 .4,2 .2,1.5 .3,1.8 .2,2 .2,1.7 .2,1.8 .2,1.8 .2,1.9 .2,1.9 .2,1.5 .2,1.9 .2,1.9 .2,1.9 .1,1.4 .3,2.2 .2,1.7 .2,1.7 .2,1.8 .2,1.7 .2,1.7 .2,1.8 .2,1.8 .2,1.8 .2,2 .1,1.6 .2,1.7 .1,1.8 .2,1.8 .1,1.8 .2,1.8 .1,1.8 .2,1.7 .2,2.2 .1,1.5 .2,1.7 .3,1.9 .3,1.7 .5,1.6 .8-1.7 .5-1.7 .6-1.7 .5-1.7 .5-1.7 .6-1.8 .6-1.6 .5-1.8 .5-1.6 .6-1.7 .8-1.6 .5-.5 .7,.8 .8,1.6 .8,1.5 1.2,1.4 1.3,1.3 1.3,.9 .2,0 .4,.1 .8-1.1 .6-1.7 .6-1.8 .6-1.6 .6-.7 .5,.7 1.1,1.5 1,1.5 .9,1.5 1,1.5 .9,1.6 1,1.4 .4,.4 .8-1.1 .6-1.6 .6-1.7 .6-1.8 .6-1.7 .5-1.7 .5-1.7 .5-1.6 .6-1.8 .6-1.8 .7-1.5 .9-1.6 1.3-1.2 .9-.3 .8,.3 1.6,.8 1.5,1 1.4,1.1 1.4,1.2 1.3,1.2 1.3,1.2 1.2,1.4 .9,1.6 .9,1.5 .8,1.6 1,1.6 1.1,1.3 1.5,1 .4,0 1.1-.8 .7-1.7 .7-1.6 1.1-.8 .3,.1 1.4,.9 1,1.5 .9,1.6 .7,1.8 .4,1.8 .3,1.6 .3,1.9 .4,1.8 .4,1.7 .4,.7 .2-.3 .3,.2 .1-.1 .8-1.5 .5-1.9 .4-1.8 .4-1.7 .3-1.9 .3-1.7 .3-1.7 .3-1.7 .3-1.7 .4-2 .3-1.8 .3-1.8 .3-1.8 .2-1.6 .3-1.9 .3-1.6 .3-1.9 .3-1.8 .3-1.8 .3-1.8 .3-1.6 .3-1.9 .3-1.6 .4-2 .4-1.6 .6-1.7 .4-.2 .9,.8 .6,1.7 .5,1.7 .5,1.7 .4,1.9 .4,1.7 .4,1.7 .4,1.7 .4,1.9 .4,1.7 .3,1.8 .4,1.8 .3,1.7 .4,1.8 .3,1.6 .4,1.7 .5,1.8 .5,1.8 .7,1.7 .7,1.5 .8,1.6 1,1.6 1,1.5 .8,1.6 .8,1.7 .8,1.5 .9,1.5 1,.7 .5-.2 .9-1.6 .8-1.6 .8-1.6 .7-1.7 .7-1.7 .6-1.6 .7-1.7 .7-1.7 .6-1.7 .7-1.6 .6-1.7 .7-1.8 .6-1.6 .7-1.7 .6-1.6 .8-1.6 1.1-1.4 .3,0 1.1,1 1,1.5 .9,1.5 .9,1.7 .9,1.5 .8,1.6 .8,1.6 .8,1.6 .7,1.6 .8,1.7 .8,1.6 1,1.6 1.1,1.3 1.5,.9 .8,.2 1-.2 1.4-1.1 1.1-1.4 .9-1.6 .8-1.6 .7-1.7 .6-1.7 .7-1.7 .5-1.6 .6-1.8 .6-1.7 .6-1.7 .6-1.7 .7-1.7 .6-1.6 .7-1.7 .7-1.7 1-1.4 .6-.5 .8,.7 .7,1.6 .6,1.7 .5,1.7 .5,1.9 .4,1.7 .5,1.7 .4,1.8 .4,1.7 .4,1.7 .4,1.7 .4,1.8 .5,1.9 .4,1.6 .4,1.8 .5,1.8 .4,1.7 .4,1.8 .5,1.7 .5,1.6 .5,.9 .4-.7 .7-1.7 .6-1.7 .6-1.6 .5-1.7 .6-1.7 .7-1.8 .7-1.6 .6-1.6 .7-1.7 .7-1.6 .8-1.7 .9-1.5 .8-.6 .7,.2 1.4,1.1 1.1,1.4 .9,1.6 .9,1.6 .8,1.6 .8,1.6 .7,1.6 .8,1.6 .8,1.6 .7,1.8 .6,1.6 .8,1.6 1.2,1.3 .2,0 1.1-1.2 .6-1.7 .6-1.7 .4-1.7 .5-1.7 .4-1.9 .4-1.7 .4-1.7 .4-1.7 .5-1.9 .4-1.8 .5-1.7 .4-1.6 .4-1.7 .4-1.8 .4-1.8 .4-1.8 .4-1.8 .4-1.7 .4-1.9 .5-1.6 .5-1.7 .6-1.7 .2-.2 .7,1.3 .4,1.9 .4,1.8 .3,1.7 .3,1.9 .2,1.6 .3,1.7 .3,1.9 .3,1.9 .3,1.7 .3,1.5 .4,1.9 .5,1.7 .5,1.7 .5,1.8 .4,1.7 .5,1.7 .7,1.8 .9,1.2 .1,0 1.4-1.1 1.2-1.3 1.3-1.2 1.5-1 .9-.2 .9,.2 1.3,1.1 .9,1.7 .7,1.7 .6,1.7 .5,.9 .4-.4 .7-1.7 .7-1.6 .8-1.6 1-1.5 .6-.2 1,.5 1.5,.8 .1,0 .1,0 1.4,.9 1.6,1 .3,0 1-.9 .8-1.6 .6-1.7 .6-1.8 .6-1.7 .6-1.7 .7-1.6 .6-1.8 .5-1.7 .6-1.6 .7-1.7 1-1.3 .1,0 1,1.5 .7,1.7 .6,1.7 .6,1.8 .5,1.7 .6,1.6 .6,1.7 .7,1.7 .6,1.7 .7,1.6 .7,1.6 .9,1.6 .4,.5 .3-.1 .1,0 .6-.5 .6-1.7 .5-1.6 .4-1.8 .5-1.8 .5-1.8 .6-1.6 .7-1.6 .8-1.6 .8-.8 .5,.4 .9,1.7 .6,1.7 .6,1.6 .6,1.8 .5,1.6 .7,1.7 .8,1.6 .8,1.7 .9,1.4 1,1.5 .6,.6 .7-.6 .8-1.7 .7-1.7 .5-1.8 .5-1.7 .5-1.7 .4-1.6 0,.1 .1,.5 1-.2" stroke="#310ab3" stroke-width="2.1"/>
<path d="M339,343.3l.4,1.8 .3,1.8 .4,1.8 .3,1.7 .4,1.9 .4,1.6 .4,1.9 .3,1.6 .4,1.8 .4,1.7 .3,1.8 .4,1.8 .4,1.9 .4,1.7 .5,1.7 .6,1.3 .1-.2 .7-1.7 .5-1.7 .4-1.9 .4-1.7 .5-1.9 .4-1.7 .6-1.7 .5-1.7 .4-1.6 .5-1.8 .5-1.7 .6-1.7 1-1.4 .5-.2 1.1,.5 1.3,1.3 1.3,1.2 1.7,.5 1.5,.9 .9,1.7 .7,1.6 .5,1.7 .6,1.8 .4,1.6 .5,1.8 .5,1.8 .5,1.8 .5,1.6 .5,1.8 .5,1.8 .5,1.6 .5,1.8 .4,1.7 .5,1.7 .5,1.7 .6,1.8 .7,1.4 .1,0 .6-1.7 .3-1.8 .2-1.8 .3-2 .2-1.8 .2-1.9 .1-1.5 .2-2 .2-1.5 .2-2 .1-1.6 .2-2 .2-1.9 .2-1.4 .2-2 .2-2 .1-1.5 .2-2 .2-1.6 .2-2 .1-1.6 .2-2 .2-1.5 .2-2.1 .1-1.5 .2-1.9 .2-2 .2-1.6 .1-1.6 .2-2.3 .2-1.7 .1-1.8 .2-1.8 .1-1.8 .2-1.7 .1-1.7 .2-1.7 .1-1.6 .2-2.1 .2-1.8 .2-1.7 .3-1.7 .3-1.8 .4-.8 .3,.8 .4,1.7 .3,1.8 .3,1.7 .2,1.9 .3,2.1 .2,1.7 .2,1.9 .1,1.4 .2,1.9 .2,1.9 .2,1.9 .2,1.5 .2,1.9 .2,1.8 .2,1.8 .2,1.7 .2,1.7 .2,1.8 .2,1.7 .2,2.2 .2,1.8 .2,1.8 .2,1.8 .2,1.4 .2,2.1 .1,1.7 .2,1.7 .1,1.8 .2,1.9 .1,1.8 .2,1.8 .1,1.7 .2,1.7 .2,2 .2,1.8 .2,1.6 .2,1.7 .4,1.8 .4,.6 .4-.9 .6-1.7 .6-1.7 .5-1.7 .6-1.8 .6-1.6 .6-1.7 .6-1.7 .6-1.8 .7-1.6 .6-.6 .4,.1 .3,0 .2,0 1.1,1.4 .7,1.6 .9,1.6 1.3,1.3 1.4,1.1 .5,.2 .7-1 .6-1.8 .6-1.7 .5-1.7 .7-1.6 .6-.6 .6,.6 1.3,1.3 1.1,1.4 1.1,1.4 1,1.5 1.1,1.5 .6,.1 .8-.7 .7-1.6 .6-1.8 .6-1.7 .6-1.8 .6-1.6 .5-1.8 .5-1.7 .6-1.7 .6-1.6 .8-1.7 1.1-1.4 1.5-.8 1.7,.7 1.5,.8 1.6,1 1.5,1 1.4,1.1 1.3,1.2 1.2,1.4 .9,1.5 .8,1.7 .8,1.6 .8,1.6 .9,1.5 1,1.5 1.2,1.4 1.1,.5 .3-.5 .8-1.7 .8-1.5 .2,0 .3,.1 .1,0 1.1,.2 1.5,.9 1.1,1.5 .9,1.6 .6,1.7 .4,1.7 .3,1.9 .3,1.6 .4,1.9 .5,1.6 .2,.3 .7-1.2 .5-1.8 .5-1.8 .4-1.8 .3-1.8 .3-1.7 .3-1.7 .4-2 .3-1.8 .3-1.7 .3-1.8 .3-1.7 .3-1.8 .2-1.6 .3-1.9 .3-1.9 .3-1.6 .3-1.9 .2-1.6 .3-1.8 .3-1.9 .3-1.7 .4-1.9 .3-1.7 .3-1.8 .4-1.6 .4-1.8 .7-1.6 .2-.3 .8,1.3 .6,1.7 .5,1.7 .4,1.8 .4,1.6 .5,2 .4,1.7 .4,1.8 .3,1.6 .4,1.7 .3,1.8 .4,1.8 .3,1.8 .4,1.7 .4,1.9 .4,1.8 .4,1.5 .5,1.8 .6,1.7 .8,1.6 .8,1.6 1,1.5 1.1,1.5 .8,1.5 .9,1.7 .9,1.5 1.3,1 .2,.1 1.3-.8 .9-1.6 .8-1.6 .7-1.6 .7-1.7 .7-1.6 .7-1.7 .8-1.7 .7-1.6 .7-1.7 .7-1.7 .7-1.6 .7-1.6 .7-1.7 .9-1.5 1.2-.9 .2,0 1.4,1.1 1,1.5 .9,1.5 .9,1.6 .8,1.6 .9,1.5 .8,1.6 .9,1.7 .8,1.5 .8,1.6 .9,1.6 1.1,1.4 1.5,1 .8,.2 .9-.2 1.5-.9 1.2-1.3 1-1.6 .9-1.6 .7-1.6 .7-1.6 .6-1.7 .6-1.7 .6-1.7 .6-1.8 .6-1.7 .6-1.7 .6-1.6 .7-1.7 .6-1.7 .7-1.7 .8-1.5 1.1-1.5 .1,0 1,1.2 .7,1.8 .5,1.6 .5,1.8 .4,1.7 .5,1.8 .5,1.7 .4,1.9 .4,1.6 .4,1.7 .5,1.9 .4,1.7 .4,1.8 .5,1.7 .4,1.7 .4,1.9 .4,1.6 .5,1.8 .8,1.6 .7,.2 .6-.8 .7-1.6 .7-1.8 .5-1.6 .7-1.8 .7-1.6 .7-1.6 .8-1.7 .7-1.6 .8-1.6 1-1.4 .8-.3 .9,.2 1.4,1.1 1.2,1.5 .9,1.4 .9,1.6 .9,1.6 .8,1.6 .8,1.6 .9,1.6 .8,1.7 .7,1.6 .7,1.7 .8,1.5 .8,.6 .6-.4 .9-1.6 .6-1.7 .5-1.7 .5-1.9 .4-1.6 .4-1.9 .4-1.7 .4-1.7 .5-1.9 .4-1.6 .4-1.7 .5-1.7 .4-1.9 .4-1.7 .4-1.8 .4-1.8 .4-1.8 .4-1.7 .4-1.7 .5-1.7 .5-1.7 .6-1.8 .7-.6 .4,.5 .5,1.9 .4,1.7 .3,1.7 .3,1.8 .3,1.9 .2,1.7 .3,1.9 .3,1.7 .3,1.7 .4,1.8 .5,1.6 .5,1.7 .5,1.8 .5,1.7 .6,1.8 .6,1.6 1.3,1 1.3,.1 .5,0 1.7-.6 1.4-1.1 1.1-1.5 .9-1.5 1-1.5 0,0 1.1,1.5 .9,1.5 1.4,.9 .9,.5 .7-.2 .5-.1 1,.8 1.1,1.4 1,1.5 .9,1.5 1.3,.7 .2,0 1.6-.8 1-1.5 .8-1.6 .7-1.7 .6-1.7 .5-1.6 .6-1.8 .6-1.6 .7-1.8 .7-1.7 .5-1.6 .6-1.7 .8-1.7 .8-.7 .6,.1 .9,1.5 .7,1.8 .6,1.7 .5,1.7 .6,1.8 .5,1.6 .7,1.7 .6,1.7 .6,1.7 .7,1.7 .7,1.6 .8,1.6 .6,.8 .5-.5 .6-1.7 .5-1.8 .5-1.8 .4-1.6 .4-1.8 .5-1.7 .7-1.7 .6-1.6 .8-1.7 .8-1.1 .3,.2 .9,1.5 .7,1.8 .6,1.6 .6,1.7 .6,1.7 .9,1.6 .8,1.6 1,1.5 1.1,1.4 1.3,.6 .3-.1 1.1-1.4 .7-1.7 .5-1.7 .5-1.7 .5-1.8 .2-.5 1,.2" stroke="#2608ac" stroke-width="2.1"/>
</g>
<line x1="54.30" y1="312.00" x2="54.30" y2="385.50" stroke="#000" stroke-width="1.8" stroke-dasharray="1.45 1.3"/>
<line x1="69.30" y1="329.50" x2="69.30" y2="384.50" stroke="#000" stroke-width="1.8" stroke-dasharray="1.45 1.3"/>
<line x1="115.50" y1="338.00" x2="115.50" y2="388.50" stroke="#000" stroke-width="1.8" stroke-dasharray="1.45 1.3"/>
<line x1="142.30" y1="310.00" x2="142.30" y2="362.80" stroke="#777" stroke-width="1.8" stroke-dasharray="1.45 1.3"/>
<line x1="203.80" y1="327.00" x2="203.80" y2="383.00" stroke="#000" stroke-width="1.8" stroke-dasharray="1.45 1.3"/>
<line x1="378.70" y1="316.00" x2="378.70" y2="378.00" stroke="#000" stroke-width="1.8" stroke-dasharray="1.45 1.3"/>
<line x1="458.60" y1="326.00" x2="458.60" y2="386.80" stroke="#000" stroke-width="1.8" stroke-dasharray="1.45 1.3"/>
<line x1="557.60" y1="324.00" x2="557.60" y2="388.30" stroke="#000" stroke-width="1.8" stroke-dasharray="1.45 1.3"/>
<rect x="20.40" y="4.50" width="287.00" height="237.30" fill="none" stroke="#000" stroke-width="2.2"/>
<rect x="338.80" y="4.70" width="286.70" height="237.10" fill="none" stroke="#000" stroke-width="2.2"/>
<rect x="20.50" y="284.30" width="286.90" height="118.70" fill="none" stroke="#000" stroke-width="2.2"/>
<rect x="338.80" y="284.30" width="286.50" height="118.70" fill="none" stroke="#000" stroke-width="2.2"/>
<line x1="27.40" y1="242.80" x2="27.40" y2="250.60" stroke="#000" stroke-width="2.1"/>
<text x="27.40" y="268.20" font-size="13.1" text-anchor="middle">2</text>
<line x1="44.90" y1="242.80" x2="44.90" y2="246.60" stroke="#000" stroke-width="2.1"/>
<line x1="62.40" y1="242.80" x2="62.40" y2="250.60" stroke="#000" stroke-width="2.1"/>
<text x="62.40" y="268.20" font-size="13.1" text-anchor="middle">3</text>
<line x1="79.90" y1="242.80" x2="79.90" y2="246.60" stroke="#000" stroke-width="2.1"/>
<line x1="97.40" y1="242.80" x2="97.40" y2="250.60" stroke="#000" stroke-width="2.1"/>
<text x="97.40" y="268.20" font-size="13.1" text-anchor="middle">4</text>
<line x1="114.90" y1="242.80" x2="114.90" y2="246.60" stroke="#000" stroke-width="2.1"/>
<line x1="132.40" y1="242.80" x2="132.40" y2="250.60" stroke="#000" stroke-width="2.1"/>
<text x="132.40" y="268.20" font-size="13.1" text-anchor="middle">5</text>
<line x1="149.90" y1="242.80" x2="149.90" y2="246.60" stroke="#000" stroke-width="2.1"/>
<line x1="167.40" y1="242.80" x2="167.40" y2="250.60" stroke="#000" stroke-width="2.1"/>
<text x="167.40" y="268.20" font-size="13.1" text-anchor="middle">6</text>
<line x1="184.90" y1="242.80" x2="184.90" y2="246.60" stroke="#000" stroke-width="2.1"/>
<line x1="202.40" y1="242.80" x2="202.40" y2="250.60" stroke="#000" stroke-width="2.1"/>
<text x="202.40" y="268.20" font-size="13.1" text-anchor="middle">7</text>
<line x1="219.90" y1="242.80" x2="219.90" y2="246.60" stroke="#000" stroke-width="2.1"/>
<line x1="237.40" y1="242.80" x2="237.40" y2="250.60" stroke="#000" stroke-width="2.1"/>
<text x="237.40" y="268.20" font-size="13.1" text-anchor="middle">8</text>
<line x1="254.90" y1="242.80" x2="254.90" y2="246.60" stroke="#000" stroke-width="2.1"/>
<line x1="272.40" y1="242.80" x2="272.40" y2="250.60" stroke="#000" stroke-width="2.1"/>
<text x="272.40" y="268.20" font-size="13.1" text-anchor="middle">9</text>
<line x1="289.90" y1="242.80" x2="289.90" y2="246.60" stroke="#000" stroke-width="2.1"/>
<line x1="307.40" y1="242.80" x2="307.40" y2="250.60" stroke="#000" stroke-width="2.1"/>
<text x="307.40" y="268.20" font-size="13.1" text-anchor="middle">10</text>
<line x1="346.60" y1="242.80" x2="346.60" y2="250.60" stroke="#000" stroke-width="2.1"/>
<text x="346.60" y="268.20" font-size="13.1" text-anchor="middle">2</text>
<line x1="366.52" y1="242.80" x2="366.52" y2="246.60" stroke="#000" stroke-width="2.1"/>
<line x1="386.43" y1="242.80" x2="386.43" y2="250.60" stroke="#000" stroke-width="2.1"/>
<text x="386.43" y="268.20" font-size="13.1" text-anchor="middle">3</text>
<line x1="406.35" y1="242.80" x2="406.35" y2="246.60" stroke="#000" stroke-width="2.1"/>
<line x1="426.26" y1="242.80" x2="426.26" y2="250.60" stroke="#000" stroke-width="2.1"/>
<text x="426.26" y="268.20" font-size="13.1" text-anchor="middle">4</text>
<line x1="446.18" y1="242.80" x2="446.18" y2="246.60" stroke="#000" stroke-width="2.1"/>
<line x1="466.09" y1="242.80" x2="466.09" y2="250.60" stroke="#000" stroke-width="2.1"/>
<text x="466.09" y="268.20" font-size="13.1" text-anchor="middle">5</text>
<line x1="486.00" y1="242.80" x2="486.00" y2="246.60" stroke="#000" stroke-width="2.1"/>
<line x1="505.92" y1="242.80" x2="505.92" y2="250.60" stroke="#000" stroke-width="2.1"/>
<text x="505.92" y="268.20" font-size="13.1" text-anchor="middle">6</text>
<line x1="525.84" y1="242.80" x2="525.84" y2="246.60" stroke="#000" stroke-width="2.1"/>
<line x1="545.75" y1="242.80" x2="545.75" y2="250.60" stroke="#000" stroke-width="2.1"/>
<text x="545.75" y="268.20" font-size="13.1" text-anchor="middle">7</text>
<line x1="565.66" y1="242.80" x2="565.66" y2="246.60" stroke="#000" stroke-width="2.1"/>
<line x1="585.58" y1="242.80" x2="585.58" y2="250.60" stroke="#000" stroke-width="2.1"/>
<text x="585.58" y="268.20" font-size="13.1" text-anchor="middle">8</text>
<line x1="605.50" y1="242.80" x2="605.50" y2="246.60" stroke="#000" stroke-width="2.1"/>
<line x1="625.41" y1="242.80" x2="625.41" y2="250.60" stroke="#000" stroke-width="2.1"/>
<text x="625.41" y="268.20" font-size="13.1" text-anchor="middle">9</text>
<line x1="27.40" y1="404.00" x2="27.40" y2="411.80" stroke="#000" stroke-width="2.1"/>
<text x="27.40" y="429.10" font-size="13.1" text-anchor="middle">2</text>
<line x1="44.90" y1="404.00" x2="44.90" y2="407.80" stroke="#000" stroke-width="2.1"/>
<line x1="62.40" y1="404.00" x2="62.40" y2="411.80" stroke="#000" stroke-width="2.1"/>
<text x="62.40" y="429.10" font-size="13.1" text-anchor="middle">3</text>
<line x1="79.90" y1="404.00" x2="79.90" y2="407.80" stroke="#000" stroke-width="2.1"/>
<line x1="97.40" y1="404.00" x2="97.40" y2="411.80" stroke="#000" stroke-width="2.1"/>
<text x="97.40" y="429.10" font-size="13.1" text-anchor="middle">4</text>
<line x1="114.90" y1="404.00" x2="114.90" y2="407.80" stroke="#000" stroke-width="2.1"/>
<line x1="132.40" y1="404.00" x2="132.40" y2="411.80" stroke="#000" stroke-width="2.1"/>
<text x="132.40" y="429.10" font-size="13.1" text-anchor="middle">5</text>
<line x1="149.90" y1="404.00" x2="149.90" y2="407.80" stroke="#000" stroke-width="2.1"/>
<line x1="167.40" y1="404.00" x2="167.40" y2="411.80" stroke="#000" stroke-width="2.1"/>
<text x="167.40" y="429.10" font-size="13.1" text-anchor="middle">6</text>
<line x1="184.90" y1="404.00" x2="184.90" y2="407.80" stroke="#000" stroke-width="2.1"/>
<line x1="202.40" y1="404.00" x2="202.40" y2="411.80" stroke="#000" stroke-width="2.1"/>
<text x="202.40" y="429.10" font-size="13.1" text-anchor="middle">7</text>
<line x1="219.90" y1="404.00" x2="219.90" y2="407.80" stroke="#000" stroke-width="2.1"/>
<line x1="237.40" y1="404.00" x2="237.40" y2="411.80" stroke="#000" stroke-width="2.1"/>
<text x="237.40" y="429.10" font-size="13.1" text-anchor="middle">8</text>
<line x1="254.90" y1="404.00" x2="254.90" y2="407.80" stroke="#000" stroke-width="2.1"/>
<line x1="272.40" y1="404.00" x2="272.40" y2="411.80" stroke="#000" stroke-width="2.1"/>
<text x="272.40" y="429.10" font-size="13.1" text-anchor="middle">9</text>
<line x1="289.90" y1="404.00" x2="289.90" y2="407.80" stroke="#000" stroke-width="2.1"/>
<line x1="307.40" y1="404.00" x2="307.40" y2="411.80" stroke="#000" stroke-width="2.1"/>
<text x="307.40" y="429.10" font-size="13.1" text-anchor="middle">10</text>
<line x1="346.60" y1="404.00" x2="346.60" y2="411.80" stroke="#000" stroke-width="2.1"/>
<text x="346.60" y="429.10" font-size="13.1" text-anchor="middle">2</text>
<line x1="366.52" y1="404.00" x2="366.52" y2="407.80" stroke="#000" stroke-width="2.1"/>
<line x1="386.43" y1="404.00" x2="386.43" y2="411.80" stroke="#000" stroke-width="2.1"/>
<text x="386.43" y="429.10" font-size="13.1" text-anchor="middle">3</text>
<line x1="406.35" y1="404.00" x2="406.35" y2="407.80" stroke="#000" stroke-width="2.1"/>
<line x1="426.26" y1="404.00" x2="426.26" y2="411.80" stroke="#000" stroke-width="2.1"/>
<text x="426.26" y="429.10" font-size="13.1" text-anchor="middle">4</text>
<line x1="446.18" y1="404.00" x2="446.18" y2="407.80" stroke="#000" stroke-width="2.1"/>
<line x1="466.09" y1="404.00" x2="466.09" y2="411.80" stroke="#000" stroke-width="2.1"/>
<text x="466.09" y="429.10" font-size="13.1" text-anchor="middle">5</text>
<line x1="486.00" y1="404.00" x2="486.00" y2="407.80" stroke="#000" stroke-width="2.1"/>
<line x1="505.92" y1="404.00" x2="505.92" y2="411.80" stroke="#000" stroke-width="2.1"/>
<text x="505.92" y="429.10" font-size="13.1" text-anchor="middle">6</text>
<line x1="525.84" y1="404.00" x2="525.84" y2="407.80" stroke="#000" stroke-width="2.1"/>
<line x1="545.75" y1="404.00" x2="545.75" y2="411.80" stroke="#000" stroke-width="2.1"/>
<text x="545.75" y="429.10" font-size="13.1" text-anchor="middle">7</text>
<line x1="565.66" y1="404.00" x2="565.66" y2="407.80" stroke="#000" stroke-width="2.1"/>
<line x1="585.58" y1="404.00" x2="585.58" y2="411.80" stroke="#000" stroke-width="2.1"/>
<text x="585.58" y="429.10" font-size="13.1" text-anchor="middle">8</text>
<line x1="605.50" y1="404.00" x2="605.50" y2="407.80" stroke="#000" stroke-width="2.1"/>
<line x1="625.41" y1="404.00" x2="625.41" y2="411.80" stroke="#000" stroke-width="2.1"/>
<text x="625.41" y="429.10" font-size="13.1" text-anchor="middle">9</text>
<text x="25.6" y="27.3" font-size="18.2" font-weight="bold" text-anchor="start" textLength="14.6" lengthAdjust="spacingAndGlyphs">a)</text>
<text x="344.2" y="26.5" font-size="18.2" font-weight="bold" text-anchor="start" textLength="15.2" lengthAdjust="spacingAndGlyphs">b)</text>
<text x="25.6" y="307.2" font-size="18.2" font-weight="bold" text-anchor="start" textLength="13.2" lengthAdjust="spacingAndGlyphs">c)</text>
<text x="343.5" y="306.6" font-size="18.2" font-weight="bold" text-anchor="start" textLength="15.4" lengthAdjust="spacingAndGlyphs">d)</text>
<line x1="300.8" y1="178.3" x2="300.8" y2="224.3" stroke="#000" stroke-width="2.1"/>
<text x="268.0" y="213.9" font-size="12.4" text-anchor="start" textLength="27.4" lengthAdjust="spacingAndGlyphs">2000</text>
<line x1="611.8" y1="26.3" x2="611.8" y2="96.9" stroke="#000" stroke-width="2.1"/>
<text x="586.0" y="64.1" font-size="12.4" text-anchor="start" textLength="17.2" lengthAdjust="spacingAndGlyphs">0.5</text>
<line x1="294.3" y1="351.9" x2="294.3" y2="397.5" stroke="#000" stroke-width="2.1"/>
<text x="270.7" y="381.2" font-size="12.4" text-anchor="start" textLength="20.6" lengthAdjust="spacingAndGlyphs">200</text>
<line x1="618.2" y1="290.9" x2="618.2" y2="338.5" stroke="#000" stroke-width="2.1"/>
<text x="597.8" y="319.3" font-size="12.4" text-anchor="start" textLength="17.2" lengthAdjust="spacingAndGlyphs">0.2</text>
<text x="33.6" y="399.0" font-size="10.9" font-weight="bold" text-anchor="start" textLength="25.2" lengthAdjust="spacingAndGlyphs">(111)</text>
<text x="65.4" y="399.0" font-size="10.9" font-weight="bold" text-anchor="start" textLength="25.2" lengthAdjust="spacingAndGlyphs">(200)</text>
<text x="100.7" y="399.0" font-size="10.9" font-weight="bold" text-anchor="start" textLength="25.2" lengthAdjust="spacingAndGlyphs">(220)</text>
<text x="180.0" y="399.0" font-size="10.9" font-weight="bold" text-anchor="start" textLength="58.0" lengthAdjust="spacingAndGlyphs">(311)+(420)</text>
<text x="116.0" y="304.1" font-size="10.9" font-weight="bold" text-anchor="start" textLength="58.2" lengthAdjust="spacingAndGlyphs">(311)+(222)</text>
<text x="373.0" y="397.5" font-size="11.0" font-weight="bold" text-anchor="start">1</text>
<text x="379.0" y="390.6" font-size="9.8" font-weight="bold" text-anchor="start" textLength="8.8" lengthAdjust="spacingAndGlyphs">st</text>
<text x="453.2" y="397.2" font-size="11.0" font-weight="bold" text-anchor="start">3</text>
<text x="459.2" y="391.1" font-size="6.6" font-weight="bold" text-anchor="start" textLength="7.2" lengthAdjust="spacingAndGlyphs">rd</text>
<text x="551.6" y="395.1" font-size="11.0" font-weight="bold" text-anchor="start">7</text>
<text x="557.2" y="389.6" font-size="6.6" font-weight="bold" text-anchor="start" textLength="7.0" lengthAdjust="spacingAndGlyphs">th</text>
<text x="128.2" y="448.4" font-size="12.6" text-anchor="start" textLength="27.8" lengthAdjust="spacingAndGlyphs">Q (Å</text>
<text x="157.0" y="442.0" font-size="8.2" text-anchor="start" textLength="7.4" lengthAdjust="spacingAndGlyphs">-1</text>
<text x="166.0" y="448.4" font-size="12.6" text-anchor="start">)</text>
<text x="460.4" y="447.2" font-size="12.6" text-anchor="start" textLength="30.2" lengthAdjust="spacingAndGlyphs">R (Å)</text>
<text transform="translate(11.3,141.2) rotate(-90)" font-size="12.9" font-weight="normal" fill="#000" text-anchor="middle" textLength="89.6" lengthAdjust="spacingAndGlyphs">Intensity (a.u.)</text>
<text transform="translate(12.0,341.3) rotate(-90)" font-size="12.8" font-weight="normal" fill="#000" text-anchor="middle" textLength="48.6" lengthAdjust="spacingAndGlyphs">ΔI (a.u.)</text>
<text transform="translate(330.8,158.9) rotate(-90)" font-size="13.4" textLength="26.6" lengthAdjust="spacingAndGlyphs">G (Å</text>
<text transform="translate(323.2,131.2) rotate(-90)" font-size="8.2" textLength="8.0" lengthAdjust="spacingAndGlyphs">-2</text>
<text transform="translate(330.8,123.0) rotate(-90)" font-size="13.4">)</text>
<text transform="translate(331.5,374.6) rotate(-90)" font-size="12.8" textLength="35.8" lengthAdjust="spacingAndGlyphs">ΔG (Å</text>
<text transform="translate(322.4,338.2) rotate(-90)" font-size="8.2" textLength="8.0" lengthAdjust="spacingAndGlyphs">-2</text>
<text transform="translate(331.5,329.6) rotate(-90)" font-size="12.8">)</text>
<rect x="633" y="4.7" width="18.8" height="400.8" fill="url(#cbar)"/>
<line x1="654.7" y1="4.8" x2="654.7" y2="404" stroke="#000" stroke-width="2.3"/>
<line x1="653.3" y1="403.00" x2="663.0" y2="403.00" stroke="#000" stroke-width="2.1"/>
<text x="669.4" y="407.85" font-size="13.6">0</text>
<line x1="653.3" y1="369.90" x2="659.0" y2="369.90" stroke="#000" stroke-width="2.1"/>
<line x1="653.3" y1="336.80" x2="663.0" y2="336.80" stroke="#000" stroke-width="2.1"/>
<text x="669.4" y="341.65" font-size="13.6">10</text>
<line x1="653.3" y1="303.70" x2="659.0" y2="303.70" stroke="#000" stroke-width="2.1"/>
<line x1="653.3" y1="270.60" x2="663.0" y2="270.60" stroke="#000" stroke-width="2.1"/>
<text x="669.4" y="275.45" font-size="13.6">20</text>
<line x1="653.3" y1="237.50" x2="659.0" y2="237.50" stroke="#000" stroke-width="2.1"/>
<line x1="653.3" y1="204.40" x2="663.0" y2="204.40" stroke="#000" stroke-width="2.1"/>
<text x="669.4" y="209.25" font-size="13.6">30</text>
<line x1="653.3" y1="171.30" x2="659.0" y2="171.30" stroke="#000" stroke-width="2.1"/>
<line x1="653.3" y1="138.20" x2="663.0" y2="138.20" stroke="#000" stroke-width="2.1"/>
<text x="669.4" y="143.05" font-size="13.6">40</text>
<line x1="653.3" y1="105.10" x2="659.0" y2="105.10" stroke="#000" stroke-width="2.1"/>
<line x1="653.3" y1="72.00" x2="663.0" y2="72.00" stroke="#000" stroke-width="2.1"/>
<text x="669.4" y="76.85" font-size="13.6">50</text>
<line x1="653.3" y1="38.90" x2="659.0" y2="38.90" stroke="#000" stroke-width="2.1"/>
<line x1="653.3" y1="5.80" x2="663.0" y2="5.80" stroke="#000" stroke-width="2.1"/>
<text x="669.4" y="10.65" font-size="13.6">60</text>
<text transform="translate(647.6,209.4) rotate(-90)" font-size="14.2" font-weight="bold" fill="#fff" text-anchor="middle" textLength="48.4" lengthAdjust="spacingAndGlyphs">time (s)</text>
</g>
</svg>
</body></html>
